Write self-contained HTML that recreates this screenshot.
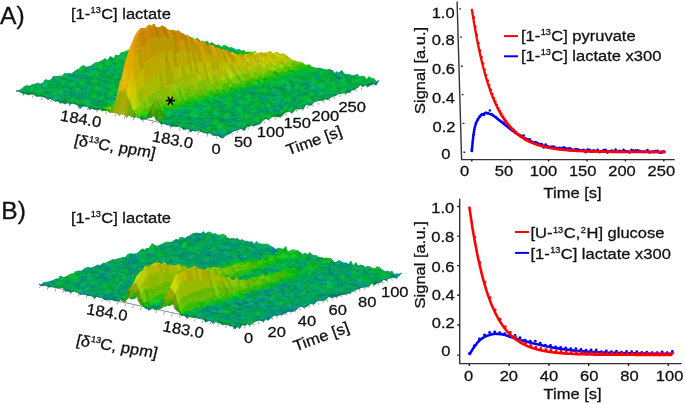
<!DOCTYPE html>
<html><head><meta charset="utf-8"><style>
html,body{margin:0;padding:0;background:#fff;width:685px;height:404px;overflow:hidden}
svg{display:block;will-change:transform;font-family:"Liberation Sans", sans-serif;font-size:15.5px;fill:#111}
text{fill:#111;stroke:#111;stroke-width:.3px}
</style></head><body>
<svg width="685" height="404" viewBox="0 0 685 404">
<path d="M16.0 90.7L220.0 135.7" stroke="#8a8a8a" stroke-width="1" fill="none"/>
<path d="M23.8 93.3l-.8 2.8M33.0 95.3l-.8 2.8M42.2 97.4l-.8 2.8M51.4 99.4l-.8 2.8M60.6 101.4l-.8 2.8M69.8 103.5l-.8 2.8M79.0 105.5l-.8 2.8M88.2 107.5l-.8 2.8M97.4 109.6l-.8 2.8M106.6 111.6l-.8 2.8M115.8 113.6l-.8 2.8M125.0 115.6l-.8 2.8M134.2 117.7l-.8 2.8M143.4 119.7l-.8 2.8M152.6 121.7l-.8 2.8M161.8 123.8l-.8 2.8M171.0 125.8l-.8 2.8M180.2 127.8l-.8 2.8M189.4 129.8l-.8 2.8M198.6 131.9l-.8 2.8M207.8 133.9l-.8 2.8M217.0 135.9l-.8 2.8M226.3 134.2l.5 2.4M231.7 132.4l.5 2.4M237.1 130.5l.5 2.4M242.5 128.6l.5 2.4M247.9 126.7l.5 2.4M253.3 124.9l.5 2.4M258.7 123.0l.5 2.4M264.1 121.1l.5 2.4M269.5 119.3l.5 2.4M274.9 117.4l.5 2.4M280.3 115.5l.5 2.4M285.7 113.7l.5 2.4M291.1 111.8l.5 2.4M296.5 109.9l.5 2.4M301.9 108.1l.5 2.4M307.3 106.2l.5 2.4M312.7 104.3l.5 2.4M318.1 102.5l.5 2.4M323.5 100.6l.5 2.4M328.9 98.7l.5 2.4M334.3 96.9l.5 2.4M339.7 95.0l.5 2.4M345.1 93.1l.5 2.4M350.5 91.3l.5 2.4M355.9 89.4l.5 2.4M361.3 87.5l.5 2.4M366.7 85.7l.5 2.4M372.1 83.8l.5 2.4" stroke="#999" stroke-width=".9" fill="none"/>
<g><g transform="scale(.5)" stroke-width="1" stroke-linejoin="round"><path fill="#074" stroke="#074" d="M32 182l5 0 5 2-5-3zM37 182l5 3 5-3-5 2zM86 193l5 2 5 2-5-6zM170 212l5 1 5-1-5 1zM322 248l5-1 5 0-5-1zM332 249l5 0 5-5-5 6zM361 252l5 7 6-4-5-1zM401 262l5 3 5 0-5-2zM406 265l5 1 5-3-5 2zM420 264l5 6 6-3-5 3zM425 270l5 1 6-1-5-3zM430 271l5-1 5 4-4-4zM435 270l5 2 5-4-5 6zM467 262l5-2 6-1-5 1zM473 260l5-1 5-2-5 0zM554 227l5 7 5-2-5-5zM613 208l5 2 5 0-5 0zM645 198l5 0 6 1-5-2zM651 197l5 2 5-4-5 2zM683 185l5-1 5 2-5 0zM699 181l5-1 5 0-4-2z"/><path fill="#085" stroke="#085" d="M42 185l5 3 5-3-5-3zM116 202l4 4 6-7-5 2zM125 206l5 2 6-4-5-9zM135 205l5 4 6-6-5 2zM155 210l5 7 5-10-5 1zM160 217l5-4 5-5-5-1zM175 213l4 6 6-6-5-1zM189 219l5 1 6-2-5-4zM366 259l5 0 6-4-5 0zM376 256l5 8 5-6-5-1zM67 187l5-1 5 3-5-1zM166 206l5-1 5-1-5 6zM451 269l5 0 6-3-5-7zM58 178l5-4 6 2-5 2zM378 247l5-2 5 3-5 0zM383 245l5 3 5 2-5-2zM403 249l4 2 6 3-5-2zM69 176l5-3 5 6-5-4zM163 191l5 3 5-1-5 3zM75 170l5-1 5 5-5-4zM345 227l5 2 5 2-5 1zM218 199l5-3 5 3-5 3zM100 170l5-1 5 1-4 2zM484 255l5 6 5-8-5-1zM116 171l5-6 5 2-5 3zM121 165l5 6 5 2-5-6zM160 174l5 5 5 0-5 0zM170 178l5 0 5 3-5 1zM107 161l5-3 5 1-5 4zM255 188l5-1 5 4-5-1zM142 160l5 0 6 4-5-2zM221 177l5 0 5 3-5 0zM501 237l5 3 5 2-4-1zM197 165l5 6 5 0-5 0zM256 187l5-13 6 4-5 3zM129 147l5 1 5 0-5 4zM434 217l5-2 5 5-5-6zM193 156l5 7 6-1-5-1zM273 171l4 3 6 3-5-1zM200 151l5 1 5-1-5 4zM476 210l5-5 5 2-5 3zM172 137l5-2 5 4-5 0zM177 135l4 2 6 4-5-2zM240 150l5 1 6 3-5-1zM245 151l5 2 6 3-5-2zM270 158l5-4 6 1-5 3zM232 141l5-2 5 6-5-4zM237 139l5 2 5 2-5 2zM242 141l5 1 5 5-5-4zM247 142l5 2 5-1-5 4zM537 204l5 6 5 3-5-4zM464 186l4 3 6 7-5-8zM312 149l5 3 5 3-5-2zM518 199l5-3 5 3-4 0zM254 127l5 6 5 2-5-5zM245 125l5 0 5 4-5-5zM584 197l5 3 5 3-5-1zM625 199l5 1 5 1-5 1zM276 120l5 0 5 2-4 0zM345 133l5 2 5 1-5 2zM562 177l5 4 5-3-5 6zM257 109l5 1 6 1-5 2zM268 111l5-6 5 7-5-3zM332 123l5-2 5 7-5-4zM657 189l5-2 5 2-5 5zM604 173l5-4 5 3-5 0zM643 180l5 0 6-1-5 4zM639 177l5-3 5 1-5 3zM350 99l5 4 5 3-4 0zM355 103l5 0 5 5-5-2zM601 150l5 8 6-2-5 1zM622 154l5-4 5 9-5-5zM349 80l4 0 6 1-5 3zM437 98l5 2 5 6-5-7zM457 101l5 1 6 1-5 5zM737 160l5 5 6 3-5-5zM384 80l5 5 5 3-5-7z"/><path fill="#084" stroke="#084" d="M47 188l5 0 5-7-5 4zM52 188l5 2 5-6-5-3zM57 190l4-2 6-1-5-3zM71 192l5 1 6-6-5 3zM120 206l5 0 6-11-5 4zM140 209l5-3 5-2-4-1zM150 208l5 2 5-2-5-1zM165 213l5-1 5 1-5-5zM337 249l5 4 5-4-5-5zM342 253l5 0 5-6-5 2zM347 253l5 0 5-2-5-4zM371 259l5-3 5 1-4-2zM387 250l5-2 6 5-5 0zM422 254l5-1 6 1-5 7zM442 263l5-8 5 5-5 1zM452 263l5-4 5 5-5 0zM398 246l5 0 5 0-4 6zM370 236l4-3 6 0-5 5zM155 173l5 1 5 5-4-2zM480 242l5 5 5-1-5 5zM383 213l5 2 5 8-5-9zM388 215l5 0 5 4-5 4zM201 170l5 4 6 2-5-1zM403 217l5-2 5 2-5 4zM162 161l5-3 6 4-5 3zM277 174l5-1 6 4-5 0zM475 213l5-5 5 6-5 0zM559 227l5 5 5-6-5 0zM525 221l5-8 5 5-4 1zM517 203l5 2 5 0-5 6zM468 189l5-1 6-2-5 10zM479 185l5-4 6 7-5 0zM618 210l5 0 6-7-5 4zM236 111l5 7 5 2-5-1zM566 182l5 4 5 4-5-3zM281 120l5-3 5 5-5 0zM340 131l5 2 5 5-5-5zM557 177l5-5 6 3-5 5zM572 178l5 0 5-1-5 6zM337 121l4 3 6 0-5 4zM656 197l5-2 5-2-5-1zM288 109l5 0 5 2-5 2zM559 162l5 4 5 0-5 6zM314 100l5 3 6 6-5-6zM319 103l5 0 6-1-5 7zM403 124l5-4 5 5-5 0zM688 186l5 0 6-1-5-7zM360 103l5-2 5 5-5 2zM596 153l5-3 6 7-5-1zM357 92l4 2 6 3-5-1zM608 142l5 7 5 2-5-3zM442 101l4 2 6 4-5-1zM737 166l5 4 5-3-5-2zM703 153l5 1 5 2-5 4z"/><path fill="#082" stroke="#082" d="M61 188l5-2 6 0-5 1zM288 238l5-3 5-1-5 2zM312 240l5 1 5 2-4-3zM391 261l5-2 5-3-5 5zM396 259l5 3 5 1-5-7zM543 229l5 4 5 1-5-6zM570 219l5 5 5-4-5 1zM586 214l5 4 5-6-5 6zM608 208l4 1 6 1-5-2zM624 207l5-4 5-1-5 0zM629 202l5 0 5-1-4-1zM635 200l4 1 6 0-5-3zM286 117l5 0 5 7-5-2zM710 178l5-7 5-2-5 6zM715 175l5-6 6 5-5-6zM721 168l5 6 5-7-5 3z"/><path fill="#083" stroke="#083" d="M66 186l5 6 6-2-5-4zM76 193l5-1 6-1-5-4zM81 192l5 1 5-2-4 0zM145 206l5 2 5-1-5-3zM194 220l5-4 6-2-5 4zM283 240l5-2 5-2-5-4zM411 266l4 1 6-6-5 2zM415 267l5-3 6 6-5-9zM457 259l5 7 5-7-5 5zM118 179l5 0 6 7-5-3zM489 252l5 1 5 0-5-5zM494 248l5 5 6-4-5-1zM141 166l5-5 6 10-5-6zM146 161l5 6 6 0-5 4zM227 168l5-5 6 9-5 2zM532 237l5 2 5-4-5 2zM548 228l5 6 6 0-5-7zM460 204l5 3 6 3-5 3zM543 198l5-5 5 10-4-4zM548 193l5 7 5 3-5 0zM640 198l5 3 5-3-5 0zM661 192l5 1 6-2-5-2zM554 160l5 2 5 10-5-5zM603 177l5-6 5 6-5 1zM667 189l5 2 5-4-5 2zM672 189l5-2 6 0-5 0zM678 187l5 0 5-3-5 1zM694 178l5 7 5-5-5 1zM705 178l4 2 6-9-5 7zM627 150l5 2 5-1-5 8zM603 142l5 0 5 6-5 3zM389 85l5-8 5 4-5 7z"/><path fill="#075" stroke="#075" d="M91 195l5 4 5-6-5 4zM96 199l5-2 5 3-5-7zM106 196l5 7 5-5-5 4zM111 203l5-1 5-1-5-3zM130 208l5-3 6 0-5-1zM179 219l5-2 6-1-5-3zM184 217l5 2 6-5-5 2zM327 247l5 2 5 1-5-3zM386 261l5 0 5 0-5 1zM478 257l5 0 6 4-5-6zM732 170l4 3 6-3-5-4z"/><path fill="#064" stroke="#064" d="M101 197l5-1 5 6-5-2zM500 248l5 1 5 2-5 0z"/><path fill="#092" stroke="#092" d="M199 216l5 6 5-5-4-3zM204 222l5-1 5-3-5-1zM278 234l5 6 5-8-5-1zM283 231l5 1 5 5-4-3zM215 213l5-3 6 6-5-4zM324 226l5 8 5 1-5-2zM438 247l5-1 6 5-5-4zM443 246l5 1 6 0-5 4zM386 223l5 2 5 1-5 2zM244 194l5-4 5 2-5 2zM127 158l5 0 5 5-5 0zM358 211l5-2 5 4-5 0zM452 227l5-4 5 3-5 2zM516 236l5-1 6 1-5 5zM521 235l5 6 6-5-5 0zM395 203l5-3 5 1-5 6zM292 175l5 1 5 7-4-8zM293 171l5-2 5-1-4 5zM303 168l5 1 6 3-5-3zM416 195l5-2 6 2-5 4zM564 226l5 0 6-2-5-5zM314 165l5-3 6 6-5-3zM433 192l5-5 5 5-5-2zM492 200l5 1 5-2-5 5zM565 216l5 0 6 4-5-3zM374 147l4-4 6 6-5 0zM531 174l5 7 5 1-5-1zM529 164l5-6 5 9-5-5zM401 130l5 0 6 5-5-6zM358 116l5-1 5-1-5 7zM586 156l5-4 5 3-5 3zM588 143l4 2 6 1-5 2zM471 112l5-2 5 3-5 2zM379 79l4 3 6 3-5-5zM654 142l5-2 5 2-5 3z"/><path fill="#290" stroke="#290" d="M209 221l5-1 5-1-5-1zM519 152l5 7 6 2-5-1z"/><path fill="#490" stroke="#490" d="M214 220l5 5 5-11-5 5zM421 137l5-4 5 0-5 10z"/><path fill="#6a0" stroke="#6a0" d="M219 225l5 0 5-13-5 2zM458 120l5 2 5 5-5-3zM468 127l5-6 5 5-4 1z"/><path fill="#4a0" stroke="#4a0" d="M263 233l5 3 5-7-5-7zM220 211l5-2 5 1-5 4zM253 196l4 2 6-6-5 9zM391 186l5 9 5-1-5-5zM328 169l5-3 6-1-5 5zM356 158l5-1 5-7-5 12zM394 146l5 0 5-2-5 6zM426 143l5-10 5 1-5 4zM437 133l5-6 5 7-5-5zM525 150l5-3 6 7-5-7zM458 126l5-2 6 0-5 7zM552 144l5-1 5 1-4 0zM480 109l5 7 6-3-5 1zM585 131l4 0 6 1-5 2zM502 108l5-4 5 4-5 0z"/><path fill="#180" stroke="#180" d="M268 236l5-6 5 6-5-7z"/><path fill="#081" stroke="#081" d="M273 230l5 4 5-3-5 5z"/><path fill="#073" stroke="#073" d="M317 241l5 7 5-2-5-3zM352 253l4-2 6 3-5-3zM356 251l5 1 6 2-5 0zM462 264l5-5 5 1-5 2zM575 221l5-1 6 5-5-1zM591 218l5-6 6 5-5 1zM726 170l5-3 5 6-4-3z"/><path fill="#076" stroke="#076" d="M381 264l5-3 5 1-5-4zM446 276l5-6 5-1-5 0zM505 251l5 0 5-2-4-3zM511 246l4 3 6-2-5-2zM597 218l5-1 5 1-5-1z"/><path fill="#0a6" stroke="#0a6" d="M37 181l5 3 6-5-5-1zM101 193l5 7 6-8-5 2zM116 198l5 3 5-4-5-1zM136 204l5 1 5-2-5-4zM391 262l5-1 6-6-5 3zM406 263l5 2 5-4-5-2zM72 188l5 1 6-5-5-1zM146 203l5 3 5-5-5-6zM333 244l5 2 5-4-5-4zM127 197l5-2 5-1-5-3zM363 250l5-2 5-4-5-1zM196 205l5 7 5-6-4-3zM358 246l5-1 6-4-5-2zM437 260l5 3 5-2-5-6zM59 172l5 6 5-5-5-4zM157 196l5 2 6-4-5-3zM388 248l5 2 6-5-5-4zM447 261l5-1 6-2-5-1zM384 241l5 5 5-4-5-3zM408 246l5 6 6-5-5-2zM413 252l5 0 6-7-5 2zM418 252l5 0 6-2-5-5zM202 205l5-5 6-2-5-7zM468 257l5 3 5-3-5-2zM154 186l5 0 5 3-5-10zM173 193l5 0 6-7-5-1zM345 227l5 5 6-5-5-2zM409 242l5 1 6-1-5-4zM164 189l5-3 5-6-5 3zM228 199l5 4 5-6-5-1zM459 252l5-1 5-2-5-3zM86 167l5-1 5-2-5-5zM101 167l5 5 5-9-5 2zM106 172l4-2 6 1-5-8zM145 179l5 1 5-7-5 2zM219 194l5 4 5-7-5-3zM351 224l5 0 6-1-5-4zM469 249l5 6 6-13-5 5zM145 177l5-2 6-3-5 0zM126 167l5 6 5-4-4-11zM362 221l5 2 5-6-4-4zM367 223l5-1 5-4-5-1zM372 222l5 5 5-9-5 0zM377 227l5-6 5 1-5-4zM421 233l5 2 5-4-4-1zM485 251l5-5 5 0-5-4zM205 183l5-1 6-2-5-1zM451 237l5 3 5-7-5-3zM147 165l5 6 5-8-5 1zM152 171l5-4 5-2-5-2zM476 238l5 3 5-1-4-8zM260 190l5 1 6-6-5 0zM418 221l5 5 5-5-5-1zM442 227l5 5 6-4-5-6zM123 155l5 3 5-5-4-3zM128 158l5 1 5-8-5 2zM138 158l5 4 5-7-5-1zM226 180l5 0 6-9-5 4zM261 188l5-3 5 1-5-8zM398 214l5 7 6-8-5-2zM502 239l5 2 5-7-5 2zM163 160l5 5 5-7-5-1zM168 165l5-3 5-4-5 0zM197 165l5 6 6-5-5 0zM202 171l5 0 6-6-5 1zM438 222l5 1 6-4-5-3zM473 228l5 4 5-6-5 1zM154 156l5 1 5-4-5 0zM159 157l4 1 6-4-5-1zM424 213l5 5 5-5-5-1zM429 218l5-1 5-3-5-1zM458 221l5 6 6-6-5-1zM247 174l5 1 6-3-5-6zM145 150l5 0 5-9-5 2zM228 167l5 0 6-2-5-5zM243 166l5 8 5-5-5-6zM273 172l5 4 5-3-5-6zM283 177l5 0 5-6-5-1zM249 163l5 4 5-4-5-3zM461 206l5 7 5-6-5-4zM480 214l5 0 6-2-5-8zM240 158l5 1 5-6-5-2zM196 142l5 3 6-2-5-3zM265 156l5 6 5-8-5 4zM481 210l5-3 6-7-5 5zM226 146l5 3 6-4-5-1zM285 161l5-1 6-1-5-3zM551 215l5 4 5-4-4-3zM522 211l5-6 5 0-5-4zM571 219l5-2 6 3-5-11zM262 144l5 6 5-7-5 1zM326 160l5 1 5-2-5-3zM547 213l5-5 5-1-4-3zM562 211l5 6 5-12-5 6zM567 217l5-6 5 4-5-10zM263 139l5 3 5-6-5 2zM292 148l5-2 6-1-5-3zM317 153l5 2 5-4-5-8zM568 207l5 2 5-6-5 2zM573 209l5 0 5-3-5-3zM597 215l5 2 6-9-5 4zM259 133l4 7 6-9-5 4zM263 140l5-2 6-5-5-2zM303 145l5 2 5-3-5-2zM480 185l5 3 5-8-5 3zM485 188l5 0 5-4-5-4zM529 200l5-4 5-4-5-3zM534 196l5 3 5-5-5-2zM313 144l5 4 5-4-5-5zM318 148l5-1 5-5-5 2zM544 194l5 7 5-6-4-5zM255 130l4 0 6 0-5-7zM559 196l5 3 6-5-5-3zM250 124l5 5 5-3-4-9zM265 130l5-1 5-5-5 1zM506 182l5 3 5-6-5-4zM305 133l5-1 5-5-4-1zM580 191l5 4 6-6-5-1zM261 118l5 3 6-8-5 2zM571 187l5 3 5-3-5-10zM277 119l5 3 5-6-5 0zM355 136l5 2 6-5-5-2zM582 184l5 0 5-2-5-4zM621 191l5 6 5-9-4 0zM558 174l5 6 5-8-5-3zM298 115l5 1 5-3-5-5zM342 128l5-4 5-2-5-5zM386 134l5 1 5-2-4-4zM612 181l5 6 6-7-5 1zM642 190l5 1 5 0-5-6zM279 103l4 10 6-7-5-5zM288 108l5 5 6-10-5 5zM293 113l5-2 6-1-5-7zM337 122l5 0 6-6-5 2zM628 185l4 0 6-4-5-2zM632 185l5 4 6-8-5 0zM657 185l5 9 6-13-5 4zM662 194l5-5 6-4-5-4zM280 100l5-1 5-5-5 0zM359 114l4 3 6-5-5 1zM649 183l5-4 5-3-5-2zM408 125l5 0 6-4-5-4zM644 178l5-3 5-1-4-4zM331 96l5 4 5-7-5 2zM410 112l5 7 5-6-5-3zM626 163l5 1 5-4-5-5zM695 177l5 4 5-7-5-1zM597 153l5 3 5-7-5 0zM602 156l5 1 5-7-5-1zM607 157l5-1 5-5-5-1zM362 96l5 1 5-6-5 1zM391 104l5-3 6-4-5 2zM328 84l5 6 5-13-5 4zM357 88l5 7 6-9-5 4zM412 106l4-6 6 1-5-4zM613 148l5 3 5-10-5 3zM652 154l5 6 6-7-5 0zM343 84l5 4 5-8-4 0zM387 94l5 3 6-5-5-4zM727 171l5-1 5-4-5-3zM358 84l5 3 6-1-5-8zM403 96l5-1 5-4-5-1zM417 98l5 1 6-6-5 3zM422 99l5 3 6-6-5-3zM447 106l5 1 5-6-5 1zM418 95l5 1 5-5-5 1zM442 99l5 7 6-10-5 0zM447 106l5-4 6-5-5-1zM708 160l5-4 6-3-5-5z"/><path fill="#096" stroke="#096" d="M42 184l5-2 6 0-5-3zM96 197l5-4 6 1-5-2zM141 205l5-2 5 3-5-3zM322 243l5 3 6-2-5 0zM381 257l5 1 6 1-5-5zM421 261l5 9 5 0-5-7zM48 179l5 3 5 0-5-5zM53 182l5-2 5 2-5 0zM338 246l5 1 5-4-5-1zM352 249l5-2 6 3-5-6zM112 189l5 4 5-1-5-1zM186 207l5 4 5-6-5 4zM191 211l5-1 5 2-5-7zM358 244l5 6 5-7-5 2zM402 256l5-1 5 4-5-8zM432 262l5 1 5 0-5-3zM88 183l5 2 5-2-5 0zM98 188l5-3 5-1-5 0zM152 197l5 0 5 1-5-2zM186 204l5 5 6-4-5-2zM388 248l5 5 5-7-5 4zM74 173l5 7 5-4-5 3zM93 183l5 0 6-1-5-3zM98 183l5 1 6-3-5 1zM123 188l5 3 5-3-5-3zM133 192l5-2 5 0-5-3zM147 196l5-3 6 1-5-4zM216 207l5 4 6-3-5 1zM428 261l5-7 5-1-5 0zM138 187l5 3 5 1-5-7zM148 191l5-1 5 0-5-2zM153 190l5 4 5-2-5-2zM182 199l5 1 6-4-5 1zM192 200l5 2 5 3-4-10zM404 252l4-6 6-1-5 1zM129 186l5-4 5 2-5-3zM143 184l5 7 6-5-5-3zM153 188l5 2 6-3-5-1zM340 233l5-6 5 5-5-5zM379 240l5 1 6-5-5 3zM404 242l5 4 5-3-5-1zM409 246l5-1 5 2-5-4zM414 245l5 2 5-3-5 3zM75 166l5 4 5-3-4 1zM380 233l5 6 5-5-5 3zM385 239l5-3 5-1-5-1zM468 255l5 0 6 1-5-1zM95 169l5 1 6 2-5-5zM213 193l5 5 6 0-5-4zM223 202l5-3 5-3-5 0zM346 228l5-3 5-1-5 0zM361 226l5 6 5-6-5 2zM439 247l5 0 6-4-5 1zM469 251l5 4 5-7-5 7zM361 222l5 6 5-1-4-2zM366 228l5-2 5-2-5 3zM111 163l5 8 5-1-5-5zM140 173l5 4 6-5-5 0zM195 186l4 1 6-4-5 3zM357 219l5 4 5 0-5-2zM371 227l5-3 6-3-5 6zM426 236l4 1 6 2-5-5zM435 237l5 4 6 2-5-11zM131 173l5-6 5-1-5 3zM156 172l5 5 5-4-5-2zM195 180l5 6 5-3-5-3zM200 186l5-3 5-1-5 1zM441 232l5 11 5-6-5-2zM490 246l5 3 5-3-5 0zM495 249l5-1 5 3-5-5zM102 160l5 1 5 2-5-11zM235 187l5 1 5 3-5-5zM392 224l5-1 5 2-5-7zM397 223l5 3 5-4-5 3zM422 230l5 0 5 0-5-3zM471 239l5 4 5-2-5-3zM476 243l5-1 5-3-5 2zM127 161l5 2 5-1-4-2zM132 163l5 0 5-3-5 2zM481 241l5-2 5-1-5 2zM118 154l5 4 5 0-5-3zM250 184l5 5 6-1-5-7zM486 240l5-2 6-3-5 2zM153 164l5-4 5 0-5-1zM389 212l5 4 5-3-5-2zM394 216l4-2 6-3-5 2zM467 232l5-1 6 1-5-4zM158 159l5 1 5-3-5 1zM448 224l5 0 5-3-5 1zM453 224l5 1 5 2-5-6zM144 153l5-1 5 3-5-4zM149 152l5 4 5-3-5 2zM163 158l5-1 6 1-5-4zM178 158l5 6 5-5-4 2zM222 174l5-6 6 6-5-10zM262 181l5-3 5-1-5 1zM449 219l4 3 6-3-5-1zM144 150l5 1 6-2-5 1zM169 154l5 4 5-6-5 6zM179 155l5 6 5-4-5 1zM184 161l4-2 6-1-5-1zM228 164l5 10 5-5-5-2zM243 173l4 1 6-8-5 8zM459 219l5 1 5 2-5-4zM493 225l5 3 6 1-5-5zM503 229l5 2 5-6-5 5zM155 149l4 1 6-1-5-2zM174 158l5-6 6 1-5 0zM179 152l5 6 5-3-4-2zM184 158l5-1 5-4-5 2zM209 163l5-2 5-3-5 4zM420 209l5 0 5-6-5 5zM435 212l5 1 5-2-5-2zM499 224l5 5 5-4-5-3zM248 163l5 6 6-2-5 0zM440 209l5 2 5-4-4 1zM259 167l5 0 5-4-5 4zM431 205l5 0 5 0-5-4zM205 155l5-4 5-2-4 0zM431 201l5 0 6 1-5-2zM485 214l5 0 6-2-5 0zM515 220l5 1 5 0-5-6zM534 221l5 7 6-6-5 4zM539 228l5-3 6-2-5-1zM220 149l5 6 6-4-5-2zM260 165l5-7 5 4-5-6zM289 167l5-1 5 6-4-10zM491 212l5 0 5 1-5-6zM520 215l5 6 6-2-5-2zM304 166l5 5 6-7-5 5zM467 202l5 1 5-1-5 0zM531 219l4-1 6-3-5 1zM172 134l5 5 5-6-4 0zM202 140l5 3 5-1-5-3zM546 216l5 4 5-1-5-4zM178 133l4 0 6 2-5-4zM207 139l5 3 5-2-5-2zM561 220l5-4 5 3-5-4zM473 197l5-3 5 4-5-6zM488 198l5 2 5-1-5-4zM542 210l5 2 5-4-5 5zM561 215l5 0 6-4-5 6zM321 159l5 1 5-4-5 3zM523 206l4-5 6 3-5-5zM552 208l5 2 5 1-5-4zM248 137l5 6 5-6-5 2zM263 143l4 1 6-4-5 2zM513 198l5 1 6 0-5-6zM577 215l5-4 5 1-4 0zM592 212l5 6 5-1-5-2zM253 139l5-2 5 3-4-7zM288 143l4 5 6-6-5 3zM474 188l5-3 6 3-5-3zM514 198l5-5 5 2-5-4zM563 207l5 0 5-2-5-3zM583 212l4 0 6-4-5 2zM254 136l5-3 5 2-5-2zM308 147l5-2 5 3-5-4zM313 145l5 5 5-3-5 1zM490 188l4 0 6-1-5-3zM494 188l5 0 6 1-5-2zM549 199l4 4 6-7-5 4zM259 133l5 2 5-8-5 8zM333 149l5 2 5-4-5 0zM495 184l5 3 5-4-5 2zM510 190l5-2 5-2-5 0zM554 200l5-4 5 3-5-3zM264 135l5-8 6 4-5-2zM289 137l5-1 5-2-5 3zM505 183l5 3 6-5-5 4zM255 129l5-6 5 0-5 3zM289 132l5 5 6-4-5-3zM299 134l5 5 6-5-5 0zM304 139l5-4 6 0-5-1zM604 205l5-2 5 1-5-5zM260 126l5-3 6-1-5 0zM295 130l5 3 5 0-5-3zM585 192l5 10 5-7-5-3zM590 202l5-6 5-4-5 3zM585 195l5-3 6-1-5-2zM576 190l5-4 5-1-5 2zM625 196l5 6 5-3-4-4zM522 173l5 2 6-3-5-1zM547 176l5-1 6-1-5-1zM292 115l5 1 6 0-5-1zM307 118l5 2 5-1-5-4zM563 180l5-5 5-1-5-2zM577 183l5-6 6 1-5-3zM607 182l5 7 5-2-5-6zM612 189l5-2 5-4-5 4zM636 191l5 3 6-3-5-1zM641 194l5-2 6-1-5 0zM651 192l5 5 5-5-4 3zM263 102l5 8 6-4-5-1zM268 110l5-1 6-6-5 3zM303 116l5-2 5-2-5 1zM332 119l5 5 5-2-5 0zM357 126l5 2 5 0-5-5zM362 128l5 1 5-5-5 4zM617 187l5-4 6 2-5-5zM627 186l5 1 5 2-5-4zM632 187l5 4 5-9-5 7zM647 191l5 0 5-2-5 2zM269 105l5 1 5-4-5 1zM333 114l4 8 6-4-5 0zM578 172l5 2 6 0-5-5zM269 102l5 1 5-3-4-1zM584 169l5 5 5-5-5 0zM275 99l4 1 6-1-5 1zM279 100l5 2 6-3-5 0zM294 104l5 1 6-3-5 0zM353 117l5 0 5 0-4-3zM358 117l5 4 5-7-5 3zM614 175l5 4 5-12-5 9zM398 124l5 0 5 1-5-4zM599 170l5-5 6 5-5-5zM604 165l5 7 6-5-5 3zM678 186l5-1 5 1-5-1zM359 113l5 0 5-3-5 1zM610 170l5-3 5-1-5 1zM615 167l5 3 5-2-5-2zM325 99l5 4 5 0-4-4zM374 110l5 5 6-7-5 5zM615 167l5-1 5-4-4 4zM296 90l5 4 5-3-5 1zM331 99l4 4 6-8-5 5zM621 166l4-4 6 2-5-1zM660 172l5 0 5-2-5 3zM680 178l4 0 6-2-5-2zM689 182l5-5 6 4-5-4zM301 92l5-1 6 0-5-5zM351 97l5 9 5-6-5 2zM415 119l4-3 6-4-5 1zM592 155l4-2 6 3-5-3zM685 174l5 2 5 0-5-5zM690 176l5 1 5-4-5 3zM700 181l5-3 5 0-5-4zM307 86l5 5 5-2-5-1zM312 91l5-1 5-3-5 2zM705 174l5 4 5-3-5-1zM342 94l5-1 5-1-5 0zM386 103l5 1 5-3-5 3zM425 110l5 4 6-6-5 4zM430 114l5-2 6 2-5-6zM435 112l5 3 5 0-4-1zM671 164l5 2 5 3-4-6zM318 85l5 1 5-2-5-1zM347 92l5 0 5-4-4 2zM352 92l5 1 5 2-5-7zM396 101l5 4 6-1-5-7zM445 115l5-2 6 2-5-5zM622 152l5 2 6-3-5-1zM323 83l5 1 5-3-5 3zM426 104l5 3 6-3-5 2zM628 150l5 1 5-2-5-1zM647 154l5 0 6-1-5 2zM363 90l5-4 5 6-5-9zM633 148l5 1 6-3-5 1zM653 155l5-2 5-5-5 6zM678 154l5 2 5-3-5 2zM369 86l5-2 5-2-5 0zM452 102l5-1 6 7-5-11zM683 155l5-2 6-3-5 2zM644 140l5 3 6-2-5-2zM664 142l5 8 5-7-4 4zM684 149l5 3 5-3-5-1z"/><path fill="#0a5" stroke="#0a5" d="M47 182l5 3 6-5-5 2zM91 191l5 6 6-5-5-2zM185 213l5 3 5-8-5 4zM190 216l5-2 5 2-5-8zM195 214l5 4 5-6-5 4zM362 254l5 0 5 1-5-10zM372 255l5 0 5-2-5-3zM377 255l4 2 6-3-5-1zM67 184l5 4 6-5-5-2zM107 194l5-2 5 1-5-4zM117 195l4 1 6 1-5-7zM328 244l5 0 5-6-5 1zM348 245l4 4 6-5-5 0zM372 255l5-5 5 2-4-5zM387 254l5 5 5-5-5-6zM53 177l5 5 5-8-5 4zM107 192l5-3 5 2-4-6zM122 190l5 7 5-6-5 1zM132 195l5 1 5-2-5 0zM137 196l5 4 5-6-5 0zM368 248l5 2 5-3-5-3zM397 254l5 2 5-5-4-2zM437 263l4 3 6-11-5 8zM353 238l5 8 6-7-5 0zM393 253l5 0 5-7-5 0zM398 253l5-4 5 3-5-6zM88 178l5 5 6-4-5-1zM103 184l5 0 5-2-4-1zM192 203l5 2 5-4-5 1zM329 233l5 2 6-2-5-4zM423 249l5 12 5-8-5-5zM69 173l5 2 6-6-5 1zM99 179l5 3 5-5-5-3zM104 182l5-1 5-1-5-3zM109 181l4 1 6-3-5 1zM128 185l5 3 6-4-5-2zM133 188l5-1 5-3-4 0zM177 196l5 3 6-2-5-4zM187 200l5 0 6-5-5 1zM207 202l5 5 5-7-5-1zM359 235l5 6 6-5-5-5zM364 241l5-4 5-4-4 3zM458 258l5 4 5-5-5-5zM119 179l5 4 5-2-5-4zM158 190l5 2 6-6-5 1zM188 197l5-1 5-2-5-3zM384 241l5-2 6-1-5-2zM389 239l5 3 6-3-5-1zM80 170l5 4 5-13-5 6zM105 174l5 0 5 2-5-6zM124 177l5 4 6-4-5-2zM134 181l5 3 5-3-5-7zM149 183l5 3 5-7-5 4zM169 186l4 7 6-8-5 2zM404 240l5 2 6-4-5 2zM419 247l5-3 6-4-5 1zM444 247l5 4 5-5-5 3zM115 176l5-2 5-2-5-2zM169 186l5 1 5-1-5-6zM189 185l5 9 5-4-5-5zM233 203l5-1 5-7-5 2zM341 222l5 6 5-4-5-6zM351 225l5 2 5-5-5 2zM356 227l5-1 5 2-5-6zM395 235l5 3 5-4-4-3zM400 238l5-1 5-2-5-1zM420 242l5-1 5-2-5-4zM444 247l5 2 6-6-5 0zM454 246l5 6 5-6-5 0zM474 255l5 1 5-7-5-1zM479 256l5-1 5-3-5-3zM125 172l5 3 6-7-5 5zM179 186l5-1 6-2-5-2zM199 190l5 0 5-3-5-1zM224 198l4-2 6-5-5 0zM371 226l5 4 5-6-5 0zM440 241l5 3 5-2-5-5zM445 244l5-1 5-2-5 1zM464 246l5 3 6-2-5-3zM96 164l5 1 6-3-5-2zM101 165l5 0 5-2-4-1zM199 187l5-1 6-1-5-2zM209 187l5 3 6-5-5 1zM455 241l5 4 5-4-5-1zM460 245l5-2 5-2-5 0zM111 163l5 2 6-1-5-4zM116 165l5 5 6-12-5 6zM146 172l5 0 5-3-5-2zM234 190l5 4 6-4-5-2zM401 224l5 7 6-5-5-1zM426 235l5-1 5-4-5 1zM431 234l5 5 5-9-5 0zM480 241l5 10 5-9-5 0zM117 160l5 4 5-3-5-2zM136 169l5-3 6-1-5-1zM161 171l5 2 5-4-5 1zM166 173l5 0 5-4-5 0zM200 180l5 3 6-4-5-5zM402 226l5-1 5-3-5 0zM407 225l5 1 5-1-5-3zM495 246l5 0 6-8-5 8zM500 246l5 5 6-5-5-8zM107 152l5 11 6-9-5-1zM142 164l5 1 5-1-5-4zM211 179l5 1 5-3-5 1zM240 186l5 5 5-7-4-5zM461 233l5 8 6-9-5-3zM471 238l5 0 6-6-5 5zM496 243l5 3 5-6-5-3zM211 177l5 1 5-4-4-1zM118 152l5 3 6-5-5 2zM133 159l5-1 5-4-5-3zM187 168l5 1 5-4-5 0zM221 174l5 6 6-5-5-4zM231 180l5-3 6 3-5-9zM418 221l5-1 5-2-5-4zM423 220l5 1 5-2-5-1zM453 228l4 0 6-5-5 2zM472 231l5 4 5-10-4 7zM207 171l5 1 5-5-4-2zM271 186l5-3 5 0-5-2zM394 211l5 2 5-4-5-1zM399 213l5-2 5 0-5-2zM433 219l5 3 6-6-5-1zM468 227l5 1 5-1-5-5zM203 166l5 0 5-1-5-5zM217 167l5 7 6-10-5 2zM276 181l5 2 6-3-5 1zM409 211l5 2 6-5-5 0zM527 239l5-2 5 0-4-5zM218 166l5 0 5 1-5-5zM424 214l5-2 6 0-5-9zM454 218l5 1 5-1-5-7zM479 226l4 0 6-7-5-1zM483 226l5-2 6 1-5-6zM508 231l5-1 5 0-5-5zM150 150l5-1 5-2-5-6zM159 150l5 1 6-5-5 3zM189 157l5 1 5-4-5-1zM194 158l5 3 5-8-5 1zM199 161l5 1 5-7-5-2zM258 172l5 2 5-2-5-6zM415 203l5 6 5-1-5-6zM445 213l4 3 6-5-5-1zM494 225l5-1 5-2-5-3zM160 147l5 2 5-4-5-4zM180 153l5 0 5-5-5-1zM185 153l4 2 6-5-5-2zM268 172l5 0 5-5-5 1zM420 202l5 6 6-3-5-4zM465 212l5 8 5-7-5-3zM470 220l5-3 5-9-5 5zM479 218l5 0 6-2-5-2zM489 218l5 5 6-6-5-1zM509 225l5 3 5-3-5-9zM519 228l5-3 5 2-5-5zM283 173l5-3 6 2-5-7zM441 205l5 3 5-4-5-2zM524 222l5 5 5-6-4 3zM161 144l5-3 5-2-5-4zM176 144l5 2 5-6-5 4zM210 151l5 2 5-4-5 0zM230 156l5 3 5-1-5-8zM244 158l5 2 6 0-5-4zM259 163l5 4 6-6-5-3zM520 221l5 3 5-11-5 8zM525 224l5 0 5-2-5-9zM171 139l5 6 5-8-4-2zM250 156l5 4 5-3-5-5zM437 200l5 2 5-6-5-2zM186 140l5 1 6 0-5-5zM226 149l5 2 5-6-5 4zM231 151l5 0 5 0-5-6zM295 162l4 10 6-14-5 6zM472 203l4 3 6-7-5 3zM496 207l5 6 5-7-5 0zM516 213l5 2 5-6-5 4zM521 215l5 2 5-3-5-5zM535 218l5 0 6-2-5-1zM555 222l5 2 5-8-5 6zM197 141l5-1 5-1-5-2zM221 146l5 0 6-2-5-4zM236 145l5 6 5-4-5-2zM280 157l5 4 6-5-5 1zM295 161l5 3 5-6-5 2zM442 196l5 1 6-5-5-4zM447 197l5 0 6-6-5 1zM467 198l5 4 5-5-5 0zM472 202l5 0 5-5-5 0zM482 199l5 6 5-2-5-4zM202 137l5 2 5-1-5-5zM246 147l5 3 6-6-5 0zM271 149l5 9 5-11-5 7zM286 157l5-1 5 2-5-6zM296 159l4 1 6-2-5-3zM310 160l5 5 6-6-5 1zM487 199l5 4 6-5-5 2zM507 205l5 1 5-3-5-1zM183 131l5 4 5-9-5 1zM212 138l5 2 6-5-5-1zM266 151l5 0 6-6-5 0zM271 151l5 3 6-6-5-3zM291 152l5 6 5-8-5 5zM468 194l5 3 5-5-5-4zM547 212l5 0 5-2-5-2zM331 161l5 1 5-5-5 2zM478 192l5 6 6-9-5-1zM498 199l5-1 5-5-5 2zM503 198l5 3 5-3-5-5zM518 199l5 7 5-7-5-3zM208 128l5 4 6-6-5 4zM238 137l5 1 5-5-5 1zM243 138l5-1 5 2-5-6zM267 144l5-1 6-2-5-1zM292 146l5 6 5-6-5 0zM297 152l5-3 5-2-5-1zM322 154l4 5 6-7-5 0zM528 199l5 5 5-4-5-3zM533 204l5-3 5-3-5 2zM553 204l4 3 6 0-5-6zM268 142l5-2 5-2-5-2zM273 140l5 1 5 0-5-3zM278 141l5 3 5-6-5 3zM283 144l5-1 5 2-5-7zM509 191l5 7 5-7-5-1zM558 201l5 6 5-5-5 0zM592 211l5 4 6-3-5-8zM229 126l5 7 5-8-5 1zM249 133l5 3 5-3-5-6zM278 138l5 3 6-6-5 5zM293 145l5-3 5 2-5-9zM347 157l5 1 5-3-5-6zM519 191l5 4 5-2-5-6zM558 203l5-1 6-3-5-4zM568 202l5 3 6-2-5-4zM583 206l5 4 5-7-5 3zM588 210l5-2 5-3-5-2zM583 204l5 2 6-3-5-3zM269 127l5 10 6-9-5 3zM274 137l5-6 6 0-5-3zM279 131l5 5 5-4-4-1zM333 144l5 3 6-3-5-2zM495 180l5 5 6-3-5-9zM510 186l5 0 5-5-4 0zM554 195l5 1 6-5-5-1zM240 122l5 1 6-5-5 1zM260 123l5 7 5-5-5-2zM270 129l5 2 5-5-5-2zM339 142l5 2 5-3-5 2zM491 180l5-1 5-3-5 1zM550 191l5 0 5-3-5 0zM594 203l5-5 6-1-5 1zM599 198l5 7 5-6-4-2zM619 206l5 1 5-5-5-1zM226 121l5-7 5 0-5-4zM265 123l5 2 6-2-5-1zM290 130l5 0 5 0-5-3zM305 134l5 0 5-4-5 2zM315 135l4 4 6-5-5-3zM300 130l5 3 6-7-5-1zM359 143l5 0 6-2-5-3zM374 145l5 4 5-3-5-3zM546 183l5 2 5-2-5-4zM590 192l5 3 6-7-5 3zM237 113l5-2 5 3-5-9zM256 116l5 2 6-3-5-5zM507 173l5 3 5-7-4 2zM512 176l5-1 5-2-5-4zM566 186l5 1 5-10-4 7zM586 188l5 1 5 1-5-6zM605 194l5 1 6-1-5-10zM286 122l5 0 6-8-5 5zM311 124l5 4 5-8-5 3zM321 127l5 3 5-4-5-2zM375 141l5 0 5-1-5-6zM631 195l4 4 6-8-5 3zM635 199l5-3 6-1-5-4zM262 110l5 5 6-10-5 6zM267 115l5-2 6-1-5-7zM282 116l5 0 5-1-5-2zM287 116l5 3 5-3-5-1zM311 120l5 3 6 0-5-4zM341 128l5 4 5-6-5 0zM528 171l5 1 5-3-5-2zM543 175l4 1 6-3-5-7zM626 197l5-9 5 3-5-3zM282 116l5-3 6-4-5 0zM287 113l5 2 6 0-5-6zM302 118l5 0 5-3-4-1zM322 123l5 0 5-4-5-2zM553 173l5 1 5-5-5 1zM587 178l5 4 6-4-5 1zM592 182l5 0 5-3-4-1zM597 182l5 3 5-6-5 0zM352 124l5 2 5-3-5 0zM381 130l5 4 6-5-5 2zM652 191l5 4 5-8-5 2zM657 195l4-3 6-3-5-2zM362 123l5 5 5-6-5-1zM573 171l5 1 6-3-5-2zM593 181l5-6 5-4-4-1zM598 175l5 2 5 1-5-7zM554 164l5 3 6-8-5 2zM574 170l5-3 5-1-5-2zM603 171l5 7 6-3-5-6zM667 189l5 0 6-2-5-2zM299 105l5 2 5-7-4 2zM319 112l5-5 5 1-5-5zM329 112l5-2 5-2-5 1zM589 169l5 0 5 1-4-7zM599 168l5 5 5-1-5-7zM285 99l5 0 5-2-5-3zM329 108l5 1 5 0-5-6zM393 122l5 2 5-3-5-4zM575 163l5 0 5-3-5-1zM580 163l5 3 5-4-5-2zM585 166l5-2 5-3-5 1zM595 163l4 7 6-5-5 0zM644 174l5 9 5-9-5 1zM295 97l5 0 5-1-4-1zM364 113l5-1 5-2-5 0zM403 121l5 4 6-8-5 1zM566 159l4-1 6-4-5 3zM570 158l5 4 6-7-5-1zM575 162l5-3 6-3-5-1zM600 165l5 0 5 1-5-8zM620 170l5 0 5-4-5 2zM625 170l4 1 6-2-5-3zM301 95l4 1 6 0-5-5zM330 103l5 2 5-9-5 7zM369 110l5 0 6 3-5-9zM379 115l5-2 5-1-4-4zM669 179l5-3 6 2-5-8zM380 113l5-5 5 0-5-1zM389 112l5 1 6-2-5-4zM394 113l5 0 6-2-5 0zM414 121l5-3 5-6-5 4zM587 152l5 3 5-2-5-4zM606 158l5-1 6-5-5 4zM665 173l5-3 6-3-5-3zM341 93l5 6 6-6-5 0zM346 99l5-2 6-5-5 1zM356 102l5-2 5-6-5 0zM366 101l5-1 5 1-5-4zM646 163l5 0 5-5-5 3zM690 171l5 5 6-5-5-3zM337 93l5-7 6 0-5-3zM367 97l5-2 5-3-5-1zM416 105l5 1 5-2-5-1zM421 106l5 3 5-2-5-3zM431 112l5-4 5-3-5 2zM441 114l4 1 6-5-5-6zM657 158l5 6 5-8-5-3zM672 162l5 1 5-2-5-5zM402 97l5 7 5-6-5-1zM451 110l5 5 5-3-5-7zM603 141l5 10 6-5-5-6zM633 151l5 3 5-9-5 4zM706 166l5 2 6 0-5-6zM358 85l5 5 5-7-5 4zM378 94l5-2 5-4-5-1zM402 98l5-1 5-3-4 1zM407 97l5 1 5 0-5-4zM432 106l5-2 5-4-5-2zM697 161l5 2 5-2-4-5zM722 166l5 5 5-8-5 0zM334 81l5 0 5-6-5-1zM344 82l5-2 5 4-5-11zM378 93l5-6 5 2-5-7zM398 92l5 4 5-6-5-2zM427 102l5 0 6-9-5 3zM452 107l5-1 5-4-5-1zM629 145l5 0 5-3-5-4zM634 145l5 2 5-7-5 2zM683 156l5 0 5-4-5 1zM693 154l5 8 5-9-5 3zM354 84l5-3 5-6-5 0zM364 78l5 8 5-4-5-4zM413 91l5 4 5-3-5-2zM467 104l5 3 5-3-5 0zM458 97l5 11 5-11-5-2zM468 103l4 1 6-6-5 2zM694 150l5 5 5-4-5-2zM699 155l4-2 6-2-5 0zM703 153l5 7 6-12-5 3zM713 156l5 2 6-6-5 1z"/><path fill="#0a4" stroke="#0a4" d="M52 185l5-4 5 3-4-4zM72 186l5 4 5-7-5 6zM77 190l5-3 5 2-5-6zM82 187l5 4 5-3-5 1zM87 191l4 0 6-1-5-2zM121 201l5-2 5-4-5 2zM155 207l5 1 6-2-5-4zM160 208l5-1 6-2-5 1zM175 213l5-1 5-5-5-1zM180 212l5 1 5-1-5-5zM401 256l5 7 5-4-4 0zM411 265l5-2 5-4-5 2zM43 178l5 1 5-2-5-4zM58 180l4 4 6-6-5 4zM62 184l5 0 6-3-5-3zM87 189l5-1 5-2-5-2zM92 188l5 2 5-2-5-2zM112 192l5 3 5-5-5 3zM195 208l5 8 5-8-4 2zM367 245l5 10 6-8-5 3zM377 250l5 3 5-3-5 2zM402 255l5 4 5-2-5-2zM151 195l5 6 6-3-5-1zM156 201l5-2 6 1-5-2zM176 204l5 2 5-2-5-3zM299 233l5 1 5-5-5 2zM338 238l5 4 5-3-4 0zM343 242l5 1 5-5-5 1zM373 250l5-3 5-2-5 2zM378 247l4 5 6-4-5-3zM392 248l5 6 6-5-5 4zM417 260l5-2 5-5-5 1zM446 263l5 6 6-10-5 4zM132 191l5 3 6-5-5 1zM162 198l5 2 5-1-5-5zM167 200l5-1 5-4-5 4zM181 201l5 3 6-1-5-3zM206 212l5-5 5 0-5-2zM344 239l4 0 6-2-5 0zM363 245l5-2 6-6-5 4zM368 243l5 1 5 2-4-9zM412 259l5-8 6-2-5 4zM84 175l4 3 6 0-5-2zM108 184l5 2 5-7-5 3zM162 198l5-4 5 0-4 0zM167 194l5 5 5-3-5-2zM197 205l5-2 5-1-5-1zM221 211l5-2 5-1-4 0zM315 227l4 5 6-4-5-2zM319 232l5-3 6-1-5 0zM349 237l5 0 5-2-5-1zM442 255l5 6 6-4-5-6zM64 169l5 4 6-3-5-2zM84 176l5 0 5-4-5 1zM89 176l5 2 5-4-5-2zM94 178l5 1 5-5-5 0zM168 194l4 0 6-4-5 3zM172 194l5 2 6-3-5-3zM202 201l5 1 5-3-5 1zM320 226l5 2 5-2-5 2zM325 228l5 0 5 1-5-3zM340 233l5 0 5-4-5-2zM345 233l4-1 6-1-5-2zM349 232l5 2 6 0-5-3zM354 234l5 1 6-4-5 3zM453 257l5 1 5-6-5 2zM70 168l5 2 5 0-5-4zM89 173l5-1 6 2-5-4zM109 177l5 3 5-2-5-4zM114 180l5-1 5-2-5 1zM134 182l5 2 5-5-5 5zM139 184l4 0 6-1-5-4zM193 196l5-1 5-2-5 1zM453 253l5 1 5-1-4-1zM463 252l5 5 5-2-5 0zM95 170l5 4 5-5-5 1zM100 174l5 0 5-4-5-1zM114 174l5 4 6-5-5 1zM119 178l5-1 6-2-5-2zM129 181l5 0 5-7-4 3zM178 193l5-1 6-7-5 1zM193 191l5 3 5-1-5-4zM110 170l5 6 5-6-5-2zM130 175l5 2 5 0-5-4zM144 181l5-1 6-5-5 5zM159 179l5 10 5-6-4-5zM198 189l5 4 6-3-5 0zM203 193l5 2 6-7-5 2zM208 195l5-2 6 1-5-6zM390 234l5 1 6-4-5 1zM405 237l5 3 5-8-5 3zM410 240l5-2 5 3-5-9zM449 249l5-3 5 0-4-3zM130 175l5-2 5 0-4-5zM169 183l5-3 6 3-5-5zM174 180l5 6 6-5-5 2zM214 188l5 6 5-6-5 3zM346 218l5 6 6-5-5 2zM396 232l5-1 5 0-5-1zM401 231l4 3 6-4-5 1zM425 235l5 4 5-2-5 0zM459 246l5 0 6-2-5-1zM91 159l5 5 6-4-5 1zM175 178l5 5 5-8-5 6zM180 183l5-2 5 2-5-8zM376 224l5 0 6 1-5-4zM396 226l5 4 5 1-5-7zM465 243l5 1 5 0-5-3zM470 244l5 3 5-6-5 3zM102 160l5 2 5-4-5 3zM107 162l4 1 6-3-5-2zM151 172l5 0 5-1-5-2zM205 183l5 2 5-5-5 2zM210 185l5 1 5-3-5-3zM215 186l5-1 5-1-5-1zM229 188l5 2 6-2-5-1zM239 194l5-3 6-3-5 2zM244 191l5 3 5 0-4-6zM436 239l5-7 5 3-5-5zM460 240l5 1 6-2-5-2zM112 158l5 2 5-1-5 0zM132 158l4 11 6-5-5-1zM171 173l5 2 5-5-5-1zM176 175l5-2 5 2-5-5zM181 173l5 4 5-5-5 3zM225 184l5 1 5 0-5-3zM250 188l4 6 6-7-5 1zM427 230l4 1 6-6-5 5zM481 242l4 0 6-5-5 2zM485 242l5 0 6 1-5-6zM117 159l5 0 6-4-5 3zM122 159l5 2 6-1-5-5zM137 163l5 1 5-4-5 0zM166 170l5-1 6-4-5 4zM181 170l5 5 5-5-4 1zM230 182l5 3 6-6-5 1zM407 222l5 0 6-1-5-2zM152 164l5-1 5-2-4-1zM437 226l5 1 6-5-5 2zM482 232l4 8 6-3-5-8zM241 178l5 4 5-2-4-6zM457 228l5-2 6 1-5-4zM497 235l5 4 5-3-5-6zM511 242l5-6 6 5-5-11zM124 152l5-2 5-2-5-1zM133 153l5-2 6 2-5-6zM192 165l5 0 6 1-5-4zM237 171l5 9 5-7-5-2zM242 180l5-6 5 2-5-3zM428 218l5 1 6-4-5 2zM507 236l5-2 5-2-5 2zM198 162l5 4 5-6-5 3zM213 165l4 2 6-1-5 0zM444 216l5 3 5-1-5-4zM508 230l4 4 6-6-5 2zM512 234l5-2 6 3-5-7zM208 160l5 5 5-4-4 0zM213 165l5 1 5-4-5-1zM262 174l5 4 6-7-5 1zM267 178l5-1 5-3-4-3zM277 177l5 4 5-4-5-4zM420 208l4 6 6-11-5 6zM164 151l5 0 6-2-5-3zM223 162l5 5 6-7-5 0zM405 201l5 4 6 0-5-5zM528 230l5 3 5-6-4 1zM165 149l5-3 5-3-5 2zM189 155l5-2 6-2-5-1zM194 153l5 1 6-2-5-1zM209 155l5 7 5-10-5 4zM214 162l5-4 5 0-5-6zM258 173l5-7 6-5-5 6zM411 200l5 5 5-4-5-1zM416 205l4-3 6-1-5 0zM484 218l5 0 6-2-5 0zM494 223l5-4 6-4-5 2zM524 225l5 5 5-9-5 6zM529 230l5-2 5 0-5-7zM210 151l4 5 6-4-5 1zM234 160l5 1 5-3-4-2zM421 201l5 0 5 0-5-6zM485 214l5 2 5-3-5 1zM490 216l5 0 5-1-5-2zM539 228l5 0 5-4-5 1zM544 228l5-2 5 2-5-4zM190 149l5-3 6-3-5 1zM426 195l5 6 6-1-5-3zM446 202l5 2 5 2-5-10zM490 214l5-1 6-4-5 3zM495 213l5 2 5-3-4-3zM505 218l5-3 5 2-5-8zM510 215l5 5 5-5-5 2zM201 143l5 6 5 0-5-8zM215 149l5 0 6 0-5-4zM235 150l5 8 5-7-5-1zM245 159l5-3 5-4-5 1zM270 161l4 2 6-3-5-3zM446 204l5-8 6 8-5-10zM456 206l5-7 6 3-5-5zM486 204l5 8 5-5-5 2zM560 226l4 0 6-7-5 4zM206 141l5 8 5-9-5 2zM211 149l5-6 5 3-5-6zM270 162l5-5 5 0-5-3zM309 171l5-6 6 0-5-1zM491 209l5-2 5-1-4-5zM501 213l5-7 5 0-5 0zM511 211l5 2 5 0-5-8zM216 140l5 6 6-6-5 2zM256 156l5-4 5-3-5-1zM452 197l5-4 6 2-5-4zM521 213l5-4 5 2-4-4zM536 216l5-1 5-3-5-1zM541 215l5 1 5-1-5-3zM560 222l5-6 6 1-5-1zM237 145l4 0 6-3-5-1zM241 145l5 2 6-3-5-2zM256 150l5-2 5 3-4-8zM305 158l5 2 6 0-5-2zM315 165l5-5 5 2-4-3zM458 191l5 4 5-1-5-3zM472 197l5 0 6-2-5-1zM527 207l4 4 6-7-5 5zM546 212l5 3 6-3-5 0zM571 217l5 3 5-4-5 1zM207 133l5 5 6-4-5 0zM252 144l5 0 5 0-5-1zM296 158l5-3 5-2-5-3zM301 155l5 3 5-4-5-1zM306 158l5 0 5-4-5 0zM311 158l5 2 5-1-5-5zM463 191l5 3 5-6-5 1zM483 195l5 3 5-3-5-4zM527 205l5 4 5-9-5 5zM532 209l5-5 5 5-5-9zM208 129l5 5 5-4-5 2zM213 134l5 0 5 0-5-4zM267 150l5-5 5-3-5 1zM277 145l5 3 5-3-5 2zM483 198l5-7 6-1-5-1zM577 209l5 11 5-9-5 0zM582 220l4-7 6-1-5-1zM194 125l5 3 5-5-5 1zM199 128l5-3 5 3-5-5zM218 130l5 4 6-4-5-3zM277 142l5 5 6-4-5 1zM302 149l5 4 5-7-5 1zM307 153l5-4 5 4-5-7zM336 159l5-2 6 2-5-5zM464 187l5 1 5 0-5-6zM474 196l5-10 5-5-5 4zM548 206l5-2 5-3-5-1zM199 124l5-1 5 0-5-2zM204 123l5 5 5-6-5 1zM214 130l5-4 5 2-5-5zM229 130l4 3 6-9-5 9zM238 132l5 2 6-1-5-5zM312 146l5 7 5-10-4 7zM322 155l5-3 5-7-5 6zM469 182l5 6 6-3-5-3zM494 190l5-2 5 0-5 0zM587 212l5-1 6-7-5 4zM204 121l5 2 6 1-5-7zM219 123l5 5 6-3-5-2zM273 136l5 2 6 2-5-7zM332 145l5 9 6-7-5 4zM509 188l5 2 6-1-5-1zM514 190l5 1 5-4-4 2zM563 202l5 0 6-3-5 0zM603 212l5-4 5 0-5 1zM225 123l5 2 5-6-5 3zM234 126l5-1 6 0-5-4zM239 125l5 3 6-3-5 0zM308 142l5 2 5-5-4 0zM323 147l5-3 5 0-5-2zM328 144l5 5 5-2-5-3zM338 151l5-4 5 1-5-1zM475 183l5-1 6 0-5-6zM480 182l5 1 6-7-5 6zM524 187l5 6 6-2-5-5zM539 192l5 2 6-4-5 1zM579 203l4 1 6-4-5-3zM588 206l5-3 6-1-5 1zM598 205l5 3 6-6-5 2zM608 209l5-1 5 2-5-6zM225 120l5 2 5-5-5 3zM323 144l5-2 6-2-5-1zM338 147l5 0 5-5-4 2zM348 148l5 0 5 2-5-7zM481 176l5 6 5-2-5-4zM515 186l5 0 5-3-5-2zM530 186l5 5 5-2-5-5zM550 190l4 5 6-5-5 1zM564 199l5-4 6-3-5 2zM235 117l5 5 6-3-5-1zM275 131l5-3 5-2-5 0zM280 128l5 3 5-1-5-4zM314 136l5 2 5-6-5 7zM334 140l5 2 5 1-5-6zM344 144l4-2 6 1-5-2zM353 143l5 7 6-5-5-2zM358 150l5-5 6 3-5-3zM486 176l5 4 5-3-5-3zM511 185l5-4 5-6-5 4zM530 188l5-4 6-1-5-2zM535 184l5 5 6-2-5-4zM565 191l5 3 5-7-5 7zM256 117l4 9 6-4-5-3zM310 134l5 1 5-4-5-1zM324 132l5 6 6-1-5-2zM364 145l5 3 5-3-5-4zM369 148l5-1 5 2-5-4zM496 177l5-1 6-3-5 0zM501 176l5 0 6 1-5-4zM570 194l5-7 5 4-4-3zM595 196l5 2 5-2-5-4zM614 204l5-5 6 0-5-2zM266 122l5 0 5-2-5-4zM271 122l5 1 5-3-5 0zM310 132l5-2 5 0-5-3zM325 134l5 1 5-3-5-2zM330 135l5 2 5-6-5 1zM340 140l4-5 6 0-5-2zM512 177l5-2 5-4-5 4zM521 174l5 5 6-2-5-5zM536 181l5 1 6-6-5 3zM551 185l5-2 5-2-5 2zM556 183l5 3 5 0-5-5zM576 188l4 3 6-3-5-2zM595 195l5-3 5 2-4-6zM630 200l5 0 5-2-5 3zM252 115l4 1 6-6-5 4zM266 121l5-5 6 3-5-6zM374 144l5-1 6-6-5 4zM527 172l5 5 5-4-5 0zM551 179l5 4 6-6-5 2zM556 183l5-2 6 0-5-4zM581 186l5 2 5-4-5 1zM635 201l5-3 5 0-5-2zM247 114l5-4 5-1-4-3zM252 110l5 4 5-4-5-1zM267 115l5-2 5 0-5 0zM272 113l5 6 5-3-5-3zM316 128l5-1 5-3-5-4zM360 138l5-3 5-3-4 1zM370 137l5 4 5-7-5 2zM517 169l5 4 6-2-5-3zM527 175l5-2 6-5-5 4zM532 173l5 0 6 2-5-7zM552 178l5 1 5-7-5 5zM567 181l5 3 5-6-5 0zM591 184l5 6 6-2-5-8zM336 128l5 0 5-2-5-2zM346 132l5-4 5-1-5-1zM351 128l5 5 5-6-5 0zM356 133l5-2 5-2-5-2zM380 134l5 6 6-6-5 2zM523 168l5 3 5-4-5-1zM577 178l5 6 5-6-5-1zM597 180l5 8 5-6-5 3zM317 119l5 4 5-6-5 0zM341 124l5 2 6-2-5 0zM346 126l5 0 6 0-5-2zM602 185l5-3 5-1-5-2zM293 109l5 6 5-7-5 3zM312 115l5 4 6-9-5 6zM327 117l5 2 5 3-4-8zM367 129l4-2 6 0-5-3zM371 127l5 3 6-3-5 0zM376 130l5 0 6 1-5-4zM391 135l5-1 5-4-5 3zM558 170l5-1 6 1-5-4zM593 179l5-1 5-1-5-2zM607 179l5 2 6 0-5-4zM274 106l5-3 5-2-5 1zM303 108l5 5 5-4-5-3zM308 113l5-1 5-3-5 0zM367 128l5-4 5-3-5 1zM377 127l5 0 5-1-5-1zM392 129l4 4 6-1-5-6zM647 185l5 6 5-6-4-4zM284 101l5 5 5-2-5-4zM299 103l5 7 5-6-5 3zM304 110l4-4 6 2-5-4zM343 118l5-2 5 1-5-5zM392 130l5-4 5 0-5-1zM397 126l5 6 5-5-5-1zM402 132l5-3 5-2-5 0zM633 179l5 2 5-1-5-5zM638 181l5 0 5-1-5 0zM643 181l5 4 5-6-5 1zM284 102l5-2 6-2-5 1zM289 100l5 4 6-2-5-4zM334 110l4 1 6 0-5-3zM550 159l5 5 5-4-5-5zM555 164l5-3 5-6-5 5zM584 166l5 3 6-6-5 1zM658 179l5 6 5-3-5 0zM290 99l5-1 5-1-5 0zM295 98l5 4 5-3-5-2zM300 102l5 0 5-6-5 3zM349 113l5-5 5 5-5-6zM363 117l5-3 6-3-5 1zM408 120l5 8 5-6-5 3zM668 182l5-1 6 0-5-2zM285 94l5 0 6-1-5-1zM290 94l5 3 6-2-5-2zM300 97l5 2 5-4-5 1zM315 99l5 4 5-4-5-1zM334 103l5 6 6-6-5-1zM354 107l5 6 5-2-4-9zM413 125l5-3 5 1-4-2zM418 122l5 5 5-4-5 0zM561 156l5 3 5-2-5-4zM590 162l5-1 5-1-5-2zM629 171l5 0 6-6-5 4zM649 175l5-1 5-2-5 2zM659 176l5 0 5 3-5-6zM674 179l5 2 5-2-5-3zM320 98l5 1 6 0-5-4zM350 106l5 2 5-5-5 0zM364 111l5-1 6-6-5 2zM404 116l5 2 5 3-5-10zM419 121l4 2 6-6-5 4zM566 153l5 4 5-5-5 1zM605 158l5 8 6-4-5-6zM630 166l5 3 5-3-5-2zM650 170l4 4 6-2-5-5zM301 94l5-3 5-3-5 3zM306 91l5 5 5-4-5-4zM311 96l5-3 5-2-5 1zM335 103l5-7 6 2-5-3zM375 104l5 9 5-6-5-2zM385 108l4 4 6-5-5 1zM399 113l5 1 6-2-5-1zM419 118l5 3 5-3-5-6zM635 164l5 2 6-1-5-3zM665 172l5 1 5-2-5-1zM675 170l5 8 5-4-5-4zM326 93l5 3 5-1-5-4zM370 106l5-4 6 2-5-2zM380 105l5 2 5-2-4-3zM385 107l5 1 5-3-5 0zM395 107l5 4 5-2-5-3zM405 111l5 1 5-2-5 1zM429 118l5 0 6-1-5-4zM439 121l5 0 5-3-4 3zM577 153l5-1 5-2-5-3zM582 152l5 0 5-3-5 1zM616 155l5 6 5-7-5 6zM646 165l5 1 5-4-5 1zM670 170l5 1 5-2-4-2zM675 171l5-1 5 1-5-2zM680 170l5 4 5-3-5 0zM371 100l5 2 5-5-5 4zM376 102l5 2 5-1-5-6zM400 106l5 3 6-4-5 0zM405 109l5 2 6-5-5-1zM587 150l5-1 5 4-5-8zM612 156l5-4 5 2-5-3zM617 152l4 8 6-10-5 4zM636 160l5 1 6-7-5 6zM641 161l5 2 5-2-4-7zM656 162l5 3 5 1-5-9zM676 167l4 2 6-2-5-2zM695 176l5-3 6-4-5 2zM700 173l5 1 5 0-4-5zM401 103l5 2 5 0-5-4zM637 157l5 3 5-10-5 6zM696 168l5 3 5-3-5 0zM710 174l5 1 6-7-5 3zM386 97l5 7 6-5-5-7zM411 105l5 0 5-2-5-3zM450 113l5 2 6-7-5 7zM637 151l5 5 5-2-4-4zM662 164l5-8 5 1-5-1zM691 163l5 5 6-2-5-3zM431 107l5 0 6-6-5 3zM643 150l4 4 6 1-5-10zM657 160l5-7 6-2-5 2zM687 162l5-1 5 0-5-2zM697 163l5 3 5-6-5 3zM348 88l5-7 5 3-5-4zM383 92l4 2 6-6-5 0zM451 108l5-3 6-1-5 2zM456 105l5 7 6-2-5-6zM638 149l5-4 5 2-4-1zM648 145l5 10 5-1-5-12zM658 153l5 0 5-3-5-2zM717 168l5-2 5-3-5-3zM353 80l5 4 6-6-5 3zM432 102l5-4 5 1-4-6zM457 106l5-2 5 0-5-2zM462 104l5 6 5-3-5-3zM688 156l5-2 5 2-5-4zM408 90l5 1 5-1-5-3zM423 96l5-3 5-2-5 0zM728 160l4 5 6-9-5 6zM732 165l5-5 6 3-5-7zM345 74l5 2 5-3-5-5zM369 78l5 4 5-3-4-5zM374 82l5 0 5-7-5 4zM418 90l5 2 6-3-5-4zM438 92l5 4 5-6-5 4zM625 136l5 1 5 0-5-1zM630 137l5 1 5-2-5 1zM635 138l5 1 5-1-5-2zM640 139l4 1 6-1-5-1zM654 140l5 5 6-4-5-2zM728 156l5 6 5-9-5 6z"/><path fill="#093" stroke="#093" d="M57 181l5 3 5 0-5 0zM288 232l5 4 5-1-5 2zM362 248l5-3 6 5-5-2zM146 194l5 1 6 2-5 0zM63 174l5 0 6-1-5 3zM68 174l5 4 6 2-5-7zM108 183l5 2 5 3-5-2zM176 197l5 4 6-1-5 2zM211 207l5 1 5 3-5-4zM310 230l5-3 5-1-5 4zM458 254l5-2 5 3-5-2zM183 192l5-7 6 9-5-9zM188 185l5 6 5-2-4 5zM203 193l5-2 5 2-5 2zM208 191l5 7 5 0-5-5zM336 222l5-2 5 8-5-6zM434 241l5 3 5 3-5 0zM85 167l5-6 6 4-5 1zM160 179l5-1 5 0-5 1zM184 185l5-5 6 6-5-3zM189 180l5 5 5 2-4-1zM342 220l4-2 6 3-5-3zM234 191l5 0 5 0-5 3zM381 224l5 0 6-1-5 2zM485 247l4-2 6 4-5-3zM489 245l5 3 6 0-5 1zM392 223l5-2 5 5-5-3zM397 221l4 3 6 1-5 1zM412 226l5-5 5 2-5 2zM176 169l5 1 6 1-5-2zM201 174l5 0 5 3-5-3zM260 187l5 1 5-4-5 7zM373 213l5-1 5 0-5 2zM393 215l4 3 6-1-5 2zM226 177l5-1 5 1-5 3zM241 179l5 0 5 1-5 2zM270 184l5 7 5 2-4-5zM457 223l5 6 5 3-5-6zM251 180l5 1 5-7-5 13zM433 217l5 2 5 4-5-1zM217 169l5-1 5 0-5 6zM419 208l4 6 6 4-5-5zM134 148l5-1 5 3-5-2zM488 224l5 3 5 1-5-3zM498 230l5-5 5 6-5-2zM503 225l5 5 5 0-5 1zM528 229l5 3 5-2-5 3zM537 237l5-2 6-2-5-4zM454 211l5 0 6 1-5 3zM474 215l5 2 5 1-5 0zM484 218l5 1 5 4-5-5zM523 223l5 7 6-2-5 2zM430 203l5 1 6 1-5 0zM175 143l5 2 5 2-4-1zM239 161l5-5 5 4-5-2zM465 207l5 3 5-1-4 1zM480 208l5 6 5 0-5 0zM500 217l5-2 5 0-5 3zM509 220l5-4 6 5-5-1zM549 226l5 1 5 0-5 1zM284 165l5 0 5 1-5 1zM299 173l4-5 6 1-5 2zM451 204l5-6 5 1-5 7zM186 140l5-1 5 3-5-1zM191 139l5 5 5 1-5-3zM196 144l5-1 5-2-5 4zM230 150l5 0 5 0-4 1zM274 163l5-5 6 4-5-2zM461 199l5 4 6 0-5-1zM481 205l5-1 5 5-5-2zM505 212l5-3 6 4-5-2zM216 143l5 2 5 1-5 0zM447 196l5-2 5-1-5 4zM457 193l5-1 6 3-5 0zM462 192l5 6 5-1-4-2zM570 216l5 5 6 3-5-4zM536 205l5 6 6 1-5-2zM498 198l4-4 6 7-5-3zM203 127l5 2 5 3-5-4zM287 145l5 1 5 6-5-6zM459 187l5-1 5 2-5-1zM572 211l5-2 5 2-5 4zM332 152l5-3 5 2-5 3zM337 149l5 5 5 3-5-6zM239 124l5 4 5 2-5-2zM318 150l4-7 6 1-5 3zM470 179l5 3 5 0-5 1zM593 208l5-4 5 4-5-3zM559 196l5-1 5 0-5 4zM235 119l5 2 5 2-5-1zM579 193l5 4 5 5-5-7zM609 202l4 2 6 2-5-2zM324 134l5 5 5 3-5-4zM231 114l5-3 5 8-5-5zM506 176l5-1 6 0-5 2zM251 114l5 3 5 1-5-2zM290 120l5 7 6-4-5 3zM526 179l5-5 6 0-5 3zM605 196l5-4 5-1-5 4zM242 111l5-4 5 3-5 4zM355 136l5-2 5 1-5 3zM522 171l5 1 5 1-5 2zM301 119l5 1 5 0-4 1zM380 141l5-4 5 0-5 3zM547 172l5 6 5-1-5-2zM572 184l4-7 6 7-5-6zM297 114l5 0 5 4-5 0zM321 120l5 4 6-1-5 0zM371 127l5 2 5 1-5 0zM396 136l4 2 6 1-5-1zM622 182l5 6 5-1-5-1zM534 158l5 8 5-4-5 5zM573 174l5-8 5 8-5-2zM578 166l5 9 5-1-5 0zM549 162l5-2 5 7-5-3zM608 171l5 6 5 1-5-1zM318 109l5-2 6 5-5-5zM323 107l5 4 6-1-5 2zM348 116l5-2 5 3-5 0zM353 114l5 2 5 5-5-4zM544 160l5-1 6 5-5-5zM594 167l5 3 5 3-5-5zM599 170l4 1 6-2-5 4zM569 158l5 3 6 2-5 0zM560 160l5-5 5 3-4 1zM565 155l5 2 5 5-5-4zM664 176l5 0 5 0-5 3zM384 113l5-3 5 3-5-1zM389 110l5 3 5 0-5 0zM645 167l5 3 5-3-5 4zM689 176l5 2 5 3-5-4zM581 151l5 0 6 4-5-3zM625 162l5-2 6 2-5 2zM640 166l5-5 6 5-5-1zM430 111l5 2 5 2-5-3zM666 164l5 0 5 2-5-2zM396 100l5 3 5-2-5 4zM411 105l5 1 5 0-5-1zM445 111l5 3 5 1-5-2zM656 158l5-1 6-1-5 8zM691 164l5 4 5 0-5 0zM372 95l5-5 5 6-5-4zM377 90l5 6 5-3-5 3zM598 146l5-4 5 9-5-10zM613 149l5-4 5-1-5 7zM642 156l5-6 5 4-5 0zM387 93l5-1 5 4-5 1zM466 107l5 5 5 3-5-7zM623 141l5 1 6 3-5 0zM687 153l5 6 6 3-5-8zM722 160l5 3 5 2-4-5zM344 75l5-2 5 0-4 3zM393 84l5 2 6 2-5-2zM659 140l5 8 5 2-5-8zM620 135l5 1 5 0-5 1z"/><path fill="#095" stroke="#095" d="M62 184l5 3 5 1-5-4zM337 250l5-6 6 1-5 2zM367 254l5 1 5-5-5 5zM97 190l5 2 5 0-5-4zM102 192l5 2 5-5-5 3zM121 196l5 1 6-2-5 2zM151 206l5-5 5-2-5 2zM161 202l5 4 5 4-5-9zM185 207l5 5 6-2-5 1zM293 237l5-2 6-1-5-1zM343 247l5-2 5-1-5-1zM357 247l5 1 6 0-5 2zM407 259l4 0 6 1-5-3zM411 259l5 2 6-3-5 2zM83 184l4 1 6 0-5-2zM87 185l5-1 6 4-5-3zM117 193l5-3 5 2-5 0zM181 206l5 1 5 2-5-5zM348 243l5 1 5 2-5-8zM382 252l5-2 6 3-5-5zM54 171l4 7 6 0-5-6zM113 185l4 6 6-3-5 0zM127 192l5-1 6-1-5 2zM137 194l5 0 5 2-4-7zM142 194l5 0 5-1-5 3zM147 194l5 3 5-1-5-3zM191 209l5-4 6-2-5 2zM329 234l5 5 5 0-5-4zM432 259l5 1 5-5-5 4zM79 180l5-5 5 1-5 0zM143 189l4 7 6-6-5 1zM152 193l5 3 6-5-5 3zM177 195l5 7 5-2-5-1zM182 202l5-2 5 0-5 0zM187 200l5 3 5-1-5-2zM202 203l4 3 6 1-5-5zM206 206l5-1 6-1-5 3zM211 205l5 2 6 2-5-5zM354 237l5 2 5 2-5-6zM359 239l5 0 5-2-5 4zM403 246l5 6 5 0-5-6zM315 230l5-4 5 2-5 0zM330 228l5 1 5 4-5-4zM335 229l5 4 5-6-5 6zM389 246l5-5 5-1-5 2zM84 174l5-1 6-3-5 4zM173 193l5-3 5 2-5 1zM350 229l5 2 5 2-5-2zM355 231l5 3 5-2-5 1zM365 231l5 5 5 2-5-6zM374 233l5 7 6-1-5-6zM394 242l5-2 5 0-4-1zM90 174l5-4 5 0-5-1zM139 184l5-5 5 1-5 1zM164 187l5-1 5 1-5-1zM198 194l5-1 5 2-5-2zM360 233l5-1 6-7-5 7zM390 236l5 2 5 0-5-3zM395 238l5 1 5-2-5 1zM400 239l4 1 6 0-5-3zM459 252l4 1 6-2-5 0zM463 253l5 2 6 0-5-4zM473 255l5 2 6-2-5 1zM139 174l5 7 6-1-5-1zM174 187l5-2 5 0-5 1zM194 194l4-5 6 1-5 0zM366 232l5-7 5 5-5-4zM415 238l5 4 5-7-5 6zM91 166l5-1 5 0-5-1zM96 165l5 2 5-2-5 0zM120 170l5 2 6 1-5-2zM135 173l5 4 5 0-5-4zM194 185l5 5 5-4-5 1zM204 190l5 0 5 0-5-3zM356 224l5-2 6 3-5-2zM415 232l5 9 6-5-5-1zM420 241l5-6 5 2-4-1zM131 173l5-5 5 3-5-4zM150 175l5-2 6 4-5-5zM190 183l5 3 5 0-5-6zM204 186l5 1 6-1-5-1zM352 221l5-2 5 2-5-3zM401 230l5 1 5-4-5 4zM416 230l5 5 5 0-5-2zM421 235l5 1 5-2-5 1zM445 237l5 5 6-3-5 2zM450 242l5-1 5-1-4-1zM97 161l5-1 5 1-5-1zM185 175l5 8 5-2-4-3zM190 183l5-3 5 0-5 1zM382 221l5 4 5-1-5-2zM387 225l5-2 5 0-5 1zM416 227l5 6 6-3-5 0zM456 239l4 1 6-3-5 2zM465 241l5 0 6 2-5-4zM470 241l5 3 6-2-5 1zM156 169l5 2 5-1-4 0zM230 185l5 2 5-1-5-1zM466 237l5 2 5-1-5 0zM490 242l5 4 6 0-5-3zM412 222l5 3 6 1-5-5zM128 155l5 5 5-2-5 1zM147 160l5 4 6-4-5 4zM182 169l5 2 5-2-5-1zM206 174l5 3 6-4-5 3zM216 178l5-1 5 3-5-6zM413 219l5 2 5-1-5 1zM447 232l5-5 5 1-4 0zM472 232l5 5 5-5-5 3zM491 238l5 0 6 1-5-4zM496 238l5-1 6 4-5-2zM158 160l4 1 6 4-5-5zM167 158l5 10 6-2-5-4zM177 167l5-3 6 3-5-3zM448 222l5 6 5-3-5-1zM462 226l5 6 6-4-5-1zM148 155l5 0 6 2-5-1zM153 155l5 4 5-1-4-1zM178 166l5-2 5-8-5 8zM212 172l5-3 5 5-5-7zM404 211l5 2 5 0-5-2zM423 214l5 4 6-1-5 1zM522 241l5-5 5 1-5 2zM168 157l5 1 6-3-5 3zM232 163l5 14 6-4-5-1zM247 173l5 3 5 0-5-1zM257 173l5 8 5-3-5-4zM453 222l5-1 6-1-5-1zM468 227l5-5 6 4-5-6zM473 222l5 5 5-1-4 0zM478 227l5-1 5-2-5 2zM159 153l5 0 5-2-5 0zM164 153l5 1 5 4-5-7zM174 158l5-3 5 3-5-6zM257 176l5-2 6-2-5 2zM415 208l5 0 5 1-5 0zM429 212l5 1 6 0-5-1zM434 213l5 1 6-1-5 0zM444 220l5-6 5-3-5 5zM464 220l5 1 5-6-5 7zM488 224l5 1 6-1-5 1zM238 169l5-3 5-3-5 4zM263 174l5-2 5 0-5 0zM440 213l5 0 5-3-5 1zM449 216l5-5 6 4-5-4zM469 222l5-7 5 3-4-1zM489 219l5 6 5-6-5 4zM513 225l5 5 6-5-5 3zM145 146l5-3 5-4-4 5zM243 167l5-4 6 4-5-4zM425 208l5-5 6 2-5 0zM445 211l5-1 5 0-5-3zM151 144l4-5 6 5-5-4zM426 201l5 4 5-4-5 0zM436 205l5 0 5-3-5 3zM470 210l5 3 5 1-5-5zM495 216l5 1 5 1-5-3zM514 216l5 9 6-1-5-3zM166 141l5 2 5 2-5-6zM200 145l5 10 6-6-5 0zM215 153l5-1 5 3-5-6zM220 152l5 5 5-7-5 5zM254 160l5 3 6-5-5 7zM264 167l5-4 5 0-4-2zM289 165l5 7 5-2-5-4zM441 205l5-3 5-6-5 8zM471 210l4-1 6-4-5 5zM554 228l5-1 5-1-4 0zM181 144l5-4 5 1-5-1zM206 149l5 0 5-6-5 6zM225 155l5-5 6 1-5 0zM466 203l5 4 5-1-4-3zM515 217l5-2 6 2-5-2zM545 222l5 1 5-1-5 2zM181 137l5 3 6-4-5 5zM191 141l5 1 6-2-5 1zM236 151l4-1 6 3-5-2zM280 160l5 2 5-2-5 1zM540 218l5 1 6 1-5-4zM192 136l5 5 5-4-5 2zM207 143l4-1 6-3-5 3zM290 160l5 1 5-1-4-1zM305 158l5 11 5-4-5-5zM310 169l5-5 5-4-5 5zM487 205l5-5 5 4-5-1zM182 133l5 0 6-3-5 5zM291 156l5 3 5-4-5 3zM463 195l5 0 5 2-5-3zM468 195l4 2 6-3-5 3zM512 206l5-3 5 8-5-8zM566 216l5 1 5 0-5 2zM227 141l5 0 5 0-4-4zM262 143l4 8 6-6-5 5zM316 160l5-1 5 1-5-1zM321 159l4 3 6-1-5-1zM493 200l5-2 5 0-5 1zM512 202l5 1 6 3-5-7zM552 212l5 0 5-1-5-1zM218 134l5 1 5 3-5-4zM233 137l4 4 6-3-5-1zM257 143l5 1 5 0-4-1zM296 155l5-5 6 3-5-4zM316 154l5 5 5 0-4-5zM527 201l5 4 6-4-5 3zM282 147l5-2 5 3-4-5zM317 152l5 2 5-2-5 3zM508 193l5 5 6-5-5 5zM567 211l5-6 6 4-5 0zM572 205l5 10 6-3-5-3zM248 133l5 6 6-6-5 3zM297 146l5 0 6 1-5-2zM342 154l5 5 5-1-5-1zM489 190l5 0 5-2-5 0zM528 199l5-2 6 2-5-3zM533 197l5 3 6-1-5 0zM538 200l5-2 6 1-5 0zM298 142l5 3 5-3-5 2zM475 182l5 3 5-2-5-1zM573 205l5-2 5 1-4-1zM578 203l5 3 5 0-5-2zM244 128l5 2 6 0-5-5zM264 135l5-4 5 6-5-10zM279 133l5 7 5-3-5-1zM284 140l5-5 5 1-5 1zM490 180l5 4 5 1-5-5zM515 188l5 1 5 0-5-3zM250 125l5 5 5-7-5 6zM294 136l5 0 5 3-5-5zM520 186l5 3 5-1-5-5zM535 191l5-3 5 3-5-2zM540 188l5 3 5 0-5 0zM589 200l5 3 5-5-5 5zM594 203l5-1 5 3-5-7zM599 202l5 2 5-1-5 2zM613 204l5 6 6-3-5-1zM285 131l4 1 6-2-5 0zM309 135l5 1 5 3-4-4zM579 196l5-1 6 7-5-10zM609 203l5 1 5-5-5 5zM354 143l5 0 5 0-5 0zM541 183l5 4 5-2-5-2zM580 194l5-2 5 0-5 3zM246 120l5-6 5 2-4-1zM256 117l5 2 5 2-5-3zM261 119l5 3 5-6-5 5zM507 173l5 4 5-2-5 1zM271 116l5 4 6 2-5-3zM315 127l5 3 6 0-5-3zM350 135l5 1 5 2-5-2zM370 141l4 3 6-3-5 0zM532 177l5-3 5 6-5-7zM561 181l5 5 6-2-5-3zM591 189l5 2 5-2-5 1zM341 130l4 3 6-5-5 4zM542 180l5-8 5 3-5 1zM576 177l5 10 6-3-5 0zM581 187l5-2 6-3-5 2zM272 113l5 0 5 3-4-4zM277 113l5 3 5-3-5 3zM307 121l4-1 6-1-5 1zM562 172l5 12 6-7-5-2zM587 184l5-2 5 0-5 0zM646 195l5 2 5 0-5-5zM258 103l5 10 5-3-5-8zM297 116l5 2 6-4-5 2zM312 120l5-1 5-2-5 2zM327 123l5 0 5 1-5-5zM381 134l5 2 5-1-5-1zM533 167l5 2 5 1-4-4zM627 188l4 0 6 3-5-4zM631 188l5 3 6-1-5 1zM646 192l5 0 6 3-5-4zM308 114l4 1 6 1-5-4zM347 124l5 0 5-1-5-1zM568 172l5 2 5-2-5-1zM622 183l5 3 5-1-4 0zM382 127l5 4 5-1-5-4zM564 166l5 4 5 0-5-4zM569 170l4 1 6-4-5 3zM583 174l5 0 6-7-5 7zM613 177l5 4 5-2-5-1zM618 181l5-1 5 2-5-3zM623 180l5 5 5-6-5 3zM637 189l5-7 6 3-5-4zM274 103l5-1 5 0-5-2zM294 108l5-5 5 4-5-2zM308 106l5 3 6 3-5-4zM377 121l5 4 6 3-5-5zM382 125l5 1 6-6-5 8zM628 182l5-3 5-4-5 6zM324 107l5 5 5-3-5-1zM388 128l5-8 5 4-5-2zM673 185l5 2 5-2-5 1zM344 111l5 2 5-6-5 4zM629 173l5 1 5 3-5-6zM673 181l5 5 5-1-4-4zM291 92l5 1 5 1-5-4zM654 174l5-2 6 0-5 0zM679 176l5 3 5 3-5-4zM326 95l5 4 5 1-5-4zM655 167l5 5 5 1-5-7zM694 177l5 4 6-3-5 3zM306 91l5-3 6 2-5 1zM311 88l5 4 6 1-5-3zM316 92l5-1 6 3-5-1zM336 100l5-5 5 4-5-6zM400 111l5 0 5 0-5-2zM434 118l5 3 6 0-5-4zM631 164l5-2 5-1-5-1zM641 162l5 3 5-2-5 0zM336 95l5-2 6 0-5 1zM381 104l5-2 5 2-5-1zM410 111l5-1 5 3-4-7zM415 110l5 3 5-3-5 3zM420 113l5-1 5 2-5-4zM592 149l5 4 5-4-5 4zM317 89l5-2 5-2-4 1zM347 93l5 0 5 0-5-1zM381 97l5 6 5 1-5-7zM416 106l4 7 6-4-5-3zM617 151l5 3 5 0-5-2zM651 161l5-3 6 6-5-6zM666 166l5-2 6-1-5-1zM676 166l5-1 5-3-5 7zM342 86l5 6 6-2-5-4zM406 101l5 4 5-5-4 6zM632 159l5-8 6-1-5 4zM652 156l5 2 5-5-5 7zM681 169l5-7 6-1-5 1zM696 168l5 0 5-2-4 0zM701 168l5 0 5 0-5-2zM338 87l5-4 5 5-5-4zM353 90l4-2 6 2-5-5zM377 92l5 4 5-2-4-2zM382 96l5-3 5 4-5-3zM397 99l5-2 5 0-5 1zM416 100l5 3 6 2-5-4zM711 168l5-2 6 0-5 2zM721 167l5 3 6 0-5 1zM412 98l5-1 5 2-5-1zM417 97l5 4 5 1-5-3zM446 103l5 5 6-2-5 1zM668 151l5 7 5-4-5 0zM673 158l4-3 6 1-5-2zM677 155l5 3 6-2-5 0zM363 87l5-4 6 1-5 2zM408 95l4-1 6 1-5-4zM412 94l5 4 6-2-5-1zM658 154l5-6 6 0-5 0zM693 152l5 4 5-3-4 2zM698 156l5-3 5 7-5-7zM399 86l5 2 5-2-5-1zM423 92l5-1 6 1-5-3zM659 145l5-3 6 5-5-6zM689 152l5-2 5-1-5 0z"/><path fill="#0a7" stroke="#0a7" d="M106 200l5 2 6-7-5-3zM426 263l5 7 6-7-5-1zM201 212l5 0 5-7-5 1zM74 175l5 4 5-5-4-5zM350 232l5-1 6-5-5 1zM170 179l5 3 6-9-5 2zM175 182l5-1 6-4-5-4zM112 163l5-4 6-1-5-4zM143 162l5 0 5-7-5 0zM148 162l5 2 5-5-5-4zM403 221l5 0 6-9-5 1zM251 180l5 7 6-6-5-8zM463 227l5 0 6-7-5 1zM176 145l5-1 5-4-5-3zM255 160l5 5 5-9-5 1zM535 222l5 4 5-7-5-1zM299 172l5-6 6 3-5-11zM476 206l5 4 6-5-5-6zM177 139l5 0 5-6-5 0zM251 154l5 2 5-8-5 2zM237 141l5 4 6-8-5 1zM223 134l5 4 5-5-4-3zM253 143l5 1 5-5-5-2zM469 188l5 8 5-11-5 3zM524 195l5 5 5-11-5 4zM589 202l5 1 6-5-5-2zM546 187l4 7 6-11-5 2zM550 194l5-6 6-2-5-3zM345 133l5 5 6-5-5-5zM337 124l5 4 5-11-5 5zM624 178l4 3 6-7-5-1zM628 181l5 0 6-4-5-3zM320 103l5 6 5-6-5-4zM339 109l5 4 6-7-5-3zM365 108l5-2 6-4-5-2zM337 95l5-1 5-2-5-6zM332 89l5 4 6-10-5 4zM677 163l4 6 6-7-5-1zM333 90l5-3 5-3-5-7zM362 95l5-3 6 0-5-6zM407 104l5 2 5-9-5 1zM673 150l5 10 6-11-5-4zM463 108l5-5 5-3-5-3zM743 163l5 5 5-5-5-6z"/><path fill="#097" stroke="#097" d="M111 202l5-4 5-2-4-1zM327 246l5 1 6-1-5-2zM332 247l5 3 6-3-5-1zM386 258l5 4 6-4-5 1zM392 259l5-1 5-2-5-2zM436 267l5 4 5-8-5 3zM93 185l5 3 5-4-5-1zM117 191l5 1 6-1-5-3zM122 192l5 0 6 0-5-1zM407 251l5 8 6-6-5 1zM64 178l5-2 5-1-5-2zM128 191l5 1 5-5-5 1zM334 235l5 4 6-6-5 0zM378 246l5 2 6-2-5-5zM383 248l5 0 6-7-5 5zM413 254l5-1 5-1-5 0zM452 260l5 4 6-2-5-4zM457 264l5 0 5-2-4 0zM79 179l5-3 5-3-5 1zM143 190l5 1 5-3-5 3zM399 245l5 7 5-6-5-4zM463 262l4 0 6-2-5-3zM124 183l5 3 5-5-5 0zM148 191l5-3 6-2-5 0zM355 231l5 2 6-1-5-6zM370 232l5 6 5-3-5-5zM414 243l5 4 6-6-5 1zM81 168l4-1 6-1-5 1zM140 177l5 2 5-4-5 2zM126 171l5 2 5-6-5 6zM362 223l5 2 5-3-5 1zM165 179l5 0 6-4-5-2zM245 191l5-1 5-1-5-5zM466 241l5-3 6-1-5-5zM133 160l4 2 6 0-5-4zM255 189l5 1 6-5-5 3zM388 214l5 9 5-9-4 2zM172 168l5-1 6-3-5 2zM202 171l5 4 5-3-5-1zM207 175l5 1 5-7-5 3zM173 162l5 4 5-2-5-6zM443 223l5 1 5-2-4-3zM149 151l5 4 5-5-4-1zM154 155l5-2 5-2-5-1zM198 163l5 0 6 0-5-1zM233 174l5-2 5-6-5 3zM238 172l5 1 5 1-5-8zM252 175l5 1 6-2-5-2zM439 214l5 6 5-4-4-3zM169 151l5 7 6-5-5-4zM204 162l5 1 5-1-5-7zM233 167l5 2 5-2-4-2zM464 218l5 4 6-5-5 3zM278 176l5 1 5-7-5 3zM514 228l5 0 5-6-5 3zM254 167l5 0 5 0-5-4zM294 172l5 1 5-2-5-1zM436 201l5 4 5-1-4-2zM299 170l5 1 5 0-5-5zM540 226l5-4 5 2-5-5zM526 217l5 2 5-3-5-2zM545 219l5 5 6-2-5-2zM241 151l5 2 5-3-5-3zM246 153l5 1 5-4-5 0zM556 222l4 0 6-6-5 4zM556 219l5 1 5-5-5 0zM222 147l5-6 6-4-5-1zM517 203l5 8 5-10-4 5zM242 145l5-2 6 0-5-6zM252 147l5-4 6 0-5 1zM542 209l5 4 6-9-5 2zM258 144l5-1 5-1-5-3zM557 207l5 4 6-4-5 0zM578 209l5 3 5-2-5-4zM539 199l5 0 5 2-5-7zM500 187l5 2 5-3-5-3zM505 189l5 1 5-4-5 0zM284 136l5 1 5 0-5-5zM294 137l5-3 6 0-5-1zM300 133l5 1 5-2-5 1zM329 138l5 4 6-2-5-3zM630 202l5-1 5-5-5 3zM282 122l4 0 6-3-5-3zM350 138l5-2 6-5-5 2zM537 173l5 7 5-4-4-1zM616 194l5-1 5 4-5-6zM602 188l4 3 6-2-5-7zM273 109l5 3 5 1-4-10zM264 105l5 0 5-2-5-1zM283 113l5-5 6 0-5-2zM652 191l5-2 5 5-5-9zM289 106l5 2 5-3-5-1zM383 123l5 5 5-6-5-1zM609 172l5 0 6-2-5-3zM614 172l5 4 6-6-5 0zM325 109l5-7 5 3-5-2zM344 113l5-2 6-3-5-2zM605 165l5 5 5-3-5-1zM616 162l5 4 5-3-5-2zM684 178l5 4 6-5-5-1zM317 90l5 3 5 0-5-6zM312 88l5 1 6-3-5-1zM322 87l5 6 5-4-5-4zM332 92l5 3 5-9-5 7zM420 113l5-3 6 2-5-3zM426 109l5 3 5-5-5 0zM608 151l5-3 5-4-4 2zM328 84l5-3 6 0-5 0zM373 92l5 2 5-7-5 6zM392 97l5-1 6 0-5-4zM397 96l5 2 6-3-5 1zM427 105l5 1 5-8-5 4z"/><path fill="#0a2" stroke="#0a2" d="M126 199l5-4 5 2-5-2zM304 234l5-7 5 4-5-2zM299 225l5 6 6-1-5-2zM314 231l5-2 5 0-5 3zM226 209l5 0 5 4-5-5zM443 250l5 1 5 2-5-6zM217 200l5-2 6 1-5-3zM222 198l5 3 5-1-4-1zM237 204l5-6 6 2-5 0zM429 240l5 1 5 6-5-10zM331 219l5 1 6 0-5 1zM430 240l4-3 6 4-5-4zM248 198l5-1 5-2-4 4zM381 225l5-2 5 5-5-4zM249 190l5 9 5-4-5-3zM353 212l5-1 5 2-5-1zM363 209l5 4 5 0-5 0zM379 205l5 2 5 0-5-1zM261 174l5 4 6-2-5 2zM281 185l5 0 5 0-5-2zM414 212l5-4 5 5-5-6zM492 227l5 4 6-6-5 5zM512 234l5-4 5 4-5-2zM188 156l5 3 5 4-5-7zM390 201l5 2 5 4-5-9zM297 176l5 4 5-4-5 7zM538 230l5-1 5-1-5 0zM406 194l5 6 5 0-5-2zM543 228l5 0 6-1-5-1zM308 174l5 1 5 2-5-2zM412 193l4 2 6 4-5-7zM421 193l5 2 6 2-5-2zM456 198l5 8 5-3-5-4zM319 162l5 9 5-4-4 1zM432 190l5 4 5 2-4-9zM261 152l5-5 5 2-5 0zM325 168l4-1 6-3-5 3zM320 160l5 2 5-2-5 2zM330 167l5-3 5 1-5-2zM198 130l5-3 5 2-5-2zM203 127l4 6 6 1-5-5zM335 163l5 2 6 1-5-4zM198 127l5 0 5 1-4-3zM454 184l5 3 5 0-5-6zM494 190l4-1 6 0-5-1zM465 181l4 1 6 0-5-3zM465 176l5 3 5 4-5-5zM574 195l5-2 5 2-5 1zM526 181l5-7 5 7-5-7zM560 188l5-3 6 1-5-4zM349 138l5-4 6 0-5 2zM385 137l5 7 5-4-5-3zM606 189l5-5 5 1-5 0zM395 140l5 0 5 3-5-5zM611 185l5 0 6-3-5 5zM253 102l5 1 5-1-5-2zM543 167l5-1 5-1-5 3zM323 110l5 4 5-2-5-1zM406 130l5 2 6-3-5 6zM363 115l4 6 6-2-5-5zM412 127l5 1 5 2-4-8zM565 159l4-1 6 5-5-6zM653 179l5 0 5 3-5-8zM355 108l5-6 5-1-5 2zM428 123l5-2 6 0-5 1zM561 150l5 3 5 0-5-4zM591 152l4 6 6-1-5-2zM600 160l5-2 6-2-5 0zM640 165l5 2 5 4-5-10zM444 121l5-3 5 2-5-2zM449 118l5 2 6-2-5 1zM643 145l5 0 5-3-5 5zM614 140l5-4 5-2-5 6zM624 134l5 4 6 0-5-1zM718 156l5 0 5 0-5 0zM482 104l5-1 6 3-5-5z"/><path fill="#0a3" stroke="#0a3" d="M131 195l5 9 5-5-5-2zM165 207l5 1 6-2-5-1zM200 218l5-4 5 0-5-2zM293 236l5-2 5 0-5 1zM318 240l4 3 6 1-5-8zM352 247l5 4 5-3-5-1zM396 261l5-5 6 3-5-4zM416 263l5-2 5 2-5-4zM82 183l5 6 5-5-5 1zM136 197l5 2 5-5-4 6zM156 201l5 1 5-1-5-2zM171 205l5 1 5 0-5-2zM176 206l4 0 6 1-5-1zM200 216l5-4 5-1-5-3zM205 212l5 2 5-1-5-2zM298 235l5-1 6-7-5 7zM323 236l5 8 5-5-5 0zM416 261l5-2 6-4-5 3zM421 259l5 4 6-1-5-7zM48 173l5 4 5 1-4-7zM68 178l5 3 5-2-5-1zM97 186l5 2 6-5-5 2zM161 199l5 2 6-2-5 1zM205 208l5 3 6-3-5-1zM210 211l5 2 6-1-5-4zM333 239l5-1 6 1-5-4zM422 258l5-3 5 4-5-6zM78 179l5-3 5 2-4-3zM172 199l4-2 6 5-5-7zM216 208l5 4 5-3-5 2zM304 231l5-2 6-2-5 3zM309 229l5 2 5 1-4-5zM339 235l5 4 5-2-5-6zM348 239l5-1 6 1-5-2zM324 229l5 4 6-4-5-1zM344 231l5 6 5-3-5-2zM364 239l5 2 5-5-5 1zM369 241l5-4 5 1-5-2zM374 237l4 9 6-5-5-3zM418 253l5-4 5-1-5 4zM369 237l5-1 5 4-5-7zM394 241l5 4 5-3-5-2zM428 248l5 5 5-6-5 3zM448 251l5 6 5-3-5-1zM99 174l5 0 6 0-5 0zM104 174l5 3 5-3-4 0zM178 190l5 3 5-8-5 7zM212 199l5 1 6-4-5 3zM227 201l5 3 5 0-5-4zM325 228l5-2 6-4-5 1zM419 247l5-2 5-5-5 4zM433 250l5-3 6 0-5-3zM448 247l5 6 6-1-5-5zM232 200l5 4 6-4-5 2zM331 223l5-1 5 0-5-2zM90 161l5 8 6-2-5-2zM105 169l5 1 5-2-5 2zM154 183l5-4 6-1-5 1zM179 185l5 1 5-6-5 5zM336 220l5 2 5-4-4 2zM371 225l4 5 6-5-5 5zM425 241l5-1 5-3-5 2zM115 168l5 2 6 1-5-6zM150 180l5-5 5-1-5-1zM155 175l5 4 5 0-5-5zM165 178l4 5 6-5-5 0zM376 230l5-5 5-1-5 0zM391 225l5 7 5-2-5-4zM405 234l5 1 6-5-5 0zM410 235l5-3 6 3-5-5zM435 237l5 4 5-4-5 4zM479 248l5 1 5-4-4 2zM224 188l5 3 5-1-5-2zM239 191l5 3 5 0-5-3zM411 230l5 0 5 3-5-6zM220 185l4-2 6 2-5-1zM224 183l5 5 6-1-5-2zM249 194l5-2 5-3-5 5zM406 231l5-4 6-6-5 5zM411 227l5 0 6 3-5-9zM210 182l5-2 6-1-5 1zM254 194l5-5 6-1-5-1zM368 213l4 4 6-5-5 1zM417 221l5 9 5-3-5-4zM436 230l5 0 6 0-5-2zM441 230l5 5 6-6-5 1zM171 169l5 0 6 0-5-4zM186 175l5-3 5-2-5 0zM191 172l5 0 5-2-5 0zM196 172l5 2 5 0-5-4zM216 180l5-1 5-2-5 0zM363 213l5 0 5-5-5 6zM368 213l5 0 5 1-5-6zM378 212l5 1 5 1-5-2zM456 230l5 3 6-4-5 0zM486 239l5-2 5 1-5 0zM491 237l5 6 5-6-5 1zM501 246l5-8 5 3-5-1zM162 165l5-6 5 9-5-10zM177 165l5 4 5-1-5-4zM187 171l4-1 6-5-5 4zM191 170l5 0 6 1-5-6zM231 176l5 4 5-2-5-1zM236 180l5-1 5 3-5-4zM246 179l4 5 6-3-5-1zM265 191l5-7 6 4-5-3zM423 226l4-6 6-3-5 4zM432 220l5 6 6-2-5-5zM477 237l5-5 5-3-5 3zM271 185l5 3 5-3-5-2zM384 207l5 5 5-1-5-4zM482 232l5-3 5-2-5 2zM227 171l5 4 5 2-5-14zM247 174l4 6 6-7-5 3zM266 178l5 8 5-5-4-5zM276 183l5 2 5-2-5 0zM389 207l5 4 5-3-5-4zM409 213l5-1 5-5-5 6zM478 232l4-7 6-1-5 2zM482 225l5 4 6-2-5-3zM487 229l5-2 6 3-5-3zM502 230l5 6 5-2-4-4zM183 164l5-8 5 0-5 3zM267 178l5-2 5 1-5 0zM272 176l4 5 6 0-5-4zM399 208l5 1 6-5-5 2zM483 226l5-2 5 1-5-1zM517 232l5 2 6-5-5 6zM272 177l5 0 5-4-5 1zM282 181l5-1 5-5-5 2zM400 200l5 6 5-1-5-4zM405 206l5-2 5-1-5 2zM410 204l5 4 5 1-5-6zM513 230l5-2 5-5-5 7zM214 161l4 0 6-3-5 0zM218 161l5 1 6-2-5-2zM287 177l5-2 6 0-5 1zM425 209l5-6 5 1-5-1zM430 203l5 9 5-3-5-5zM479 217l5 1 5 0-5 0zM150 143l5-2 5 1-5-3zM155 141l5 6 5-6-5 1zM199 154l5-1 6-2-5 1zM204 153l5 2 5 1-4-5zM219 158l5 0 5-2-5 2zM224 158l5 2 5 0-5-4zM234 160l5 5 5-9-5 5zM450 210l5 1 5-7-5 6zM499 219l5 3 5-2-4-5zM538 227l5 1 6-2-5 2zM160 142l5-1 6 2-5-2zM244 156l5 7 5-3-5 0zM264 167l5-6 5 3-5-1zM269 161l4 7 6-1-5-3zM273 168l5-1 6-2-5 2zM505 215l4 5 6 0-5-5zM195 146l5-1 6 4-5-6zM269 163l5 1 5-6-5 5zM308 169l5 6 6-2-5-1zM544 225l5-1 6-5-5 4zM549 224l5 4 6-2-5-7zM161 134l5 1 6 2-5-6zM166 135l5 4 6-4-5 2zM279 158l5 6 6-5-5 3zM501 209l4 3 6-1-5-5zM211 142l5-2 6 2-5-3zM300 164l5-6 5 2-5-2zM320 165l5 3 5-1-5-5zM438 187l4 9 6-8-5 4zM477 202l5-3 5 0-5-2zM497 201l4 5 6-1-5-6zM506 206l5 0 6-3-5 3zM516 205l5 8 6-6-5-2zM526 209l5 5 5-9-5 6zM227 140l5 4 5-5-5 2zM443 192l5-4 5 1-5 1zM448 188l5 4 5-3-5 0zM453 192l5-1 5 0-5-2zM477 197l5 0 6 1-5-3zM502 199l5 6 5-3-5 0zM531 211l5-6 6 5-5-6zM276 154l5-7 6-2-5 3zM286 149l5 3 5 3-4-9zM330 160l5 3 6-1-5 0zM453 189l5 0 6-3-5 1zM458 189l5 2 5-2-4-3zM502 194l5 8 6-8-5 7zM581 216l5-2 5 4-5-5zM188 127l5-1 6 2-5-3zM193 126l5 1 6-2-5 3zM272 145l5 0 5 2-5-5zM282 148l5-3 5 1-5-1zM301 150l5 3 6-4-5 4zM306 153l5 1 6-2-5-3zM311 154l5 0 6 0-5-2zM513 194l5 5 5-3-5 3zM532 205l5-5 6 4-5-3zM233 129l5 8 5-3-5-2zM341 157l5 3 5-5-4 4zM479 186l5 2 5 2-5-9zM489 189l5 1 5-2-5 2zM498 189l5 6 6-4-5-2zM219 126l5 1 5-1-5 2zM327 152l5 0 5 2-5-9zM347 159l4-4 6 0-5 3zM499 188l5 1 5-1-5 0zM504 189l5 2 5-1-5-2zM209 123l5-1 6-5-5 7zM214 122l5 1 6 0-5-6zM234 133l5-9 5 4-5-3zM244 128l5 5 5-6-5 3zM268 138l5-2 6-3-5 0zM283 141l5-3 5 0-4-3zM322 143l5 8 6-2-5-5zM352 158l5-3 5-1-5 1zM210 117l5 7 5-9-5 6zM215 124l5-7 5 3-5-5zM220 117l5 6 5-1-5-2zM274 133l5 0 5 3-5-5zM289 135l4 3 6-2-5 0zM293 138l5-3 6 2-5-1zM343 147l5 1 5 0-5 0zM348 148l4 1 6 0-5-1zM352 149l5 6 6-3-5-3zM357 155l5-1 6 0-5-2zM534 189l5 3 6-1-5-3zM564 195l5 4 5-4-5 0zM593 203l5 2 6-1-5-2zM215 121l5-6 6 2-5-4zM220 115l5 5 5 0-4-3zM230 122l5-3 5 3-5-5zM304 137l5-2 5 1-5-1zM309 135l5 4 5-1-5-2zM314 139l4 0 6-5-5 4zM328 142l5 2 6-2-5-2zM353 148l5 1 5-4-5 5zM491 176l4 4 6-7-5 6zM569 195l5 0 5 1-4-4zM319 138l5-4 5 4-5-6zM348 142l5 1 6 0-5 0zM363 145l5 3 6-1-5 1zM496 179l5-6 5 3-5 0zM501 173l5 9 5-7-5 1zM555 191l5-1 5-5-5 3zM560 190l5 1 5 3-5-9zM570 194l5-2 5 2-5-7zM575 192l4 4 6-4-5 2zM251 118l5-1 5 2-5-2zM280 126l5 0 5-6-5 7zM359 143l5 2 5-4-5 2zM491 174l5 3 6-4-5 0zM511 175l5 4 5-5-4 1zM516 179l5-4 5 4-5-5zM521 175l5 6 5-7-5 5zM555 188l5 0 6-6-5 4zM565 185l5 9 6-6-5-2zM600 198l5-1 5-5-5 4zM619 199l5 2 6-1-5-1zM624 201l5 1 6-2-5 0zM285 127l5-7 6 6-5-9zM315 130l5 1 5-4-5 3zM344 135l5 3 6-2-5-1zM379 149l5 0 5-5-5 2zM531 174l5 7 6-2-5-5zM615 196l5 1 5-1-5-4zM247 107l5 8 5-1-5-4zM291 117l5 9 5-7-5 5zM301 123l5 2 5-1-5-4zM320 130l5-3 6-2-5 5zM325 127l5 3 6-1-5-4zM330 130l5 2 6-2-5-1zM335 132l5-1 5 2-4-3zM360 134l5 4 5-1-5-2zM384 146l5-2 6 1-5-1zM502 168l5 5 6-2-5-1zM542 179l5-3 5 2-5-6zM547 176l4 3 6 0-5-1zM596 191l5-3 5 1-5 0zM615 191l5 1 6 0-5 1zM620 192l5 4 6-1-5-3zM306 120l5 4 5-1-5-3zM331 125l5 4 5-1-5 0zM365 135l5 2 5-1-5-4zM586 185l5-1 6-4-5 2zM611 184l5 10 5-3-5-6zM626 192l5 3 5-1-5-6zM326 124l5 2 6-5-5 2zM370 132l5 4 6-2-5-5zM518 166l5 2 5-2-5 2zM533 172l5-4 5-1-5 2zM641 191l5 4 5-3-5 0zM361 127l5 2 5-2-4 2zM366 129l5-2 5 3-5-3zM391 134l5 2 5 2-5-4zM400 138l5 5 6-5-5 1zM518 163l5 5 6-4-5 3zM548 166l5 7 5-3-5-5zM617 187l5-5 5 4-5-3zM598 178l4 1 6-8-5 6zM328 114l5 0 5 4-5-6zM342 122l5-5 6-3-5 2zM372 124l5 3 5-2-5-4zM544 162l5 0 5 2-5-5zM642 182l5 3 6-4-5 4zM328 111l5 1 5-1-4-1zM367 121l5 1 6-5-5 2zM372 122l5-1 6 2-5-6zM412 135l5-6 5 6-5-7zM540 161l4-1 6-1-5 0zM653 181l4 4 6 0-5-6zM343 110l5 2 6-4-5 5zM348 112l5 5 6-3-5-6zM363 121l5-7 5-2-5 2zM368 114l5 5 5-1-5-6zM373 119l5-2 5-1-5 2zM378 117l5 6 5-2-5-5zM397 125l5 1 6-6-5 4zM402 126l5 1 6 1-5-8zM407 127l5 0 6-5-5 6zM417 128l5 7 5-6-5 1zM545 159l5 0 5-4-5 3zM648 180l5-1 5-5-4 5zM663 185l5-4 5 0-5 1zM668 181l5 4 5 1-5-5zM309 100l5 0 6 3-5-4zM324 103l5 5 5-5-4-1zM368 114l5-2 6 3-5-4zM373 112l5 6 6-2-5-1zM383 116l5 5 5-7-4 5zM413 128l5-6 5 5-5-5zM418 122l4 8 6-7-5 4zM555 155l5 5 6-1-5-3zM590 164l5-1 5 2-5-4zM624 167l5 6 5-2-5 0zM654 179l4-5 6 2-5 0zM305 99l5-3 5 1-5-2zM310 96l5 3 5-1-5-1zM349 111l5-4 6-5-5 6zM379 115l5 1 5-6-5 3zM389 119l4-5 6 1-5-2zM393 114l5 3 6-1-5-1zM398 117l5 4 6-3-5-2zM423 127l5-4 5-2-5 2zM654 174l5 2 5-3-5-1zM669 176l5 3 5-3-5 0zM310 95l5 2 6-2-5-2zM315 97l5 1 6-3-5 0zM340 102l5 1 5-4-5 3zM394 113l5 2 5-1-5-1zM399 115l5 1 5-5-5 3zM571 157l5-3 5-3-5 1zM581 155l5 1 5 2-5-7zM595 158l5 2 6-4-5 1zM635 169l5-4 5-4-5 5zM659 172l5 1 6 0-5-1zM316 93l5 2 5-2-5-2zM321 95l5 0 5 1-5-3zM340 96l5 6 6-5-5 1zM365 101l5 5 5-4-5 4zM370 106l5-2 5 1-5-3zM429 117l5 5 5-1-5-3zM434 122l5-1 5 0-5 0zM566 149l5 4 6 0-5-3zM576 152l5-1 6 1-5 0zM591 158l5-3 5-5-5 3zM596 155l5 2 5 1-5-8zM606 156l5 0 5-1-5 2zM611 156l5 6 5-1-5-6zM630 160l5 4 6-2-5 0zM645 161l5 10 5-7-4 2zM670 173l5-3 5 0-5 1zM375 102l5 3 6-3-5 2zM390 108l5-1 5-1-5-1zM419 116l5-4 6-1-5 1zM611 157l5-2 5 5-4-8zM651 166l4-2 6 1-5-3zM655 164l5 2 6-2-5 1zM386 102l4 3 6-5-5 4zM395 105l5 1 6-1-5-2zM435 113l5 4 5-6-5 4zM445 121l4-3 6 1-5-5zM626 154l5 1 6 2-5-5zM671 164l5 3 5-2-5 1zM366 94l5 3 6-7-5 5zM376 101l5-4 5 0-4-1zM450 114l5 5 5-5-5 1zM607 149l5 1 6-5-5 4zM612 150l5 1 5 1-4-7zM632 152l5 5 5-1-5-5zM647 154l4 7 6-3-5-2zM661 157l5 9 6-4-5-6zM686 167l5-3 5 4-5-5zM701 171l5-2 5-1-5 0zM706 169l4 5 6-3-5-3zM593 148l5-2 5-5-5 2zM618 145l4 7 6-2-5-6zM667 156l5 6 5-6-5 1zM686 162l5 1 6 0-5-2zM706 168l5 0 5-2-5 2zM711 168l5 3 5-4-5-1zM716 171l5-3 5 2-5-3zM441 105l5-1 5 4-5-5zM446 104l5 6 5-5-5 3zM456 115l5-7 5-1-5 5zM598 143l5-2 6-1-5 2zM623 144l5 6 5-2-5-6zM662 153l5 3 6 2-5-7zM672 157l5-1 5 2-5-3zM677 156l5 5 5-8-5 5zM604 142l5-2 5 0-5-1zM618 144l5-3 6 4-5-6zM682 158l5-5 6 1-5 2zM702 163l5-3 5-3-5 4zM707 160l5 2 5-1-5-4zM383 87l5 1 5-4-5 5zM467 110l4-2 6-6-5 5zM609 139l5 1 5 0-5-2zM653 142l5 12 6-6-5-8zM663 148l5 2 5 0-4-2zM698 162l5-6 5-2-5-1zM703 156l4 5 6-2-5-5zM707 161l5-4 6-1-5 3zM727 163l5 0 5-3-5 5zM732 163l5 3 5-1-5-5zM359 81l5-3 5 0-5-3zM374 84l5-5 5 1-5 2zM398 86l5 2 6-3-5 3zM428 93l5 3 5-4-5-1zM433 96l5-3 5 3-5-4zM438 93l4 6 6-3-5 0zM472 107l5-5 5 2-5 0zM619 140l5-6 6 3-5-1zM629 138l5 0 6 1-5-1zM634 138l5 4 5-2-4-1zM644 140l5 2 5-2-5 3zM649 142l5 0 5 3-5-5zM723 156l5 4 5 2-5-6zM364 75l5 3 6-4-5 5zM379 82l5-2 5 1-5-6zM394 77l5 9 5-1-5-4zM404 88l5-3 5-3-5 4zM409 85l4 2 6 1-5-6zM413 87l5 3 6-5-5 3zM433 91l5 1 5 2-5-4zM448 96l5 0 5 0-5-4zM453 96l5 1 5-2-5 1zM477 104l5 0 6-3-5 1zM679 145l5 4 5-1-5-7zM723 156l5 0 5 3-4-6zM738 156l5 7 5-6-5 0z"/><path fill="#094" stroke="#094" d="M146 203l4 1 6-3-5 5zM342 244l5 5 5 0-4-4zM347 249l5-2 5 0-5 2zM77 189l5-6 5 2-4-1zM126 197l5-2 6 1-5-1zM131 195l5 2 6 3-5-4zM180 206l5 1 6 4-5-4zM190 212l5-4 6 2-5 0zM397 258l5-3 5 0-5 1zM92 184l5 2 6-1-5 3zM142 200l4-6 6 3-5-3zM201 210l4-2 6-1-5 5zM328 239l5 0 6-4-5 4zM407 255l5 2 5-6-5 8zM427 255l5 7 5-2-5-1zM73 178l5 1 6-4-5 5zM83 176l5 7 5 0-5-5zM103 185l5-2 5 3-5-2zM157 197l5 1 5-4-5 4zM334 239l5-4 5-4-5 8zM417 251l5 3 6 7-5-12zM427 253l5 6 5 0-4-5zM447 255l5 8 5 1-5-4zM138 190l5-1 5 2-5-1zM172 199l5-4 5 4-5-3zM339 239l5-8 5 1-4 1zM113 182l5-3 6 4-5-4zM123 179l5 6 6-3-5 4zM374 236l5 2 5 3-5-1zM379 238l5 3 5-2-5 2zM423 252l5-4 5 2-4 0zM94 172l5 2 6 0-5 0zM207 200l5-1 6 0-5-1zM360 234l5-3 5 1-5 0zM399 240l5 2 5 0-5-2zM110 174l4 0 6 0-5 2zM144 179l5 4 5 0-5-3zM223 196l5 3 5 4-5-4zM228 199l4 1 6 2-5 1zM341 220l4 7 6-2-5 3zM439 244l5 3 5 2-5-2zM449 251l5-4 5 5-5-6zM454 247l5 5 5-1-5 1zM120 174l5-1 5 2-5-3zM125 173l5 2 5-2-5 2zM135 177l4-3 6 5-5-2zM434 237l5 10 6-3-5-3zM110 170l5-2 6-3-5 6zM209 190l5-2 5 3-5-1zM430 239l5-2 5 4-5-4zM450 243l5 0 5 2-5-4zM455 243l4 3 6-3-5 2zM106 165l5-2 5 2-5-2zM136 168l4 5 6-1-5-1zM185 181l5 2 5-3-5 3zM229 191l5 0 5 3-5-4zM430 237l5 0 6-5-5 7zM475 247l5-5 5 9-5-10zM180 181l5-6 6 3-5-1zM475 244l5-3 5 1-4 0zM122 164l5-6 5 5-5-2zM151 167l5 2 6 1-5-3zM215 180l5 3 5 2-4-6zM220 183l5 1 5-2-5 3zM245 190l5-2 5 0-5 2zM206 174l5 5 5-1-5-1zM417 225l5-2 5-3-4 6zM432 230l5-5 5 2-5-1zM437 225l5 3 5 4-5-5zM442 228l5 2 5-3-5 5zM506 238l5 8 5-1-5-4zM113 153l5 1 5 1-5-3zM167 159l5 10 5-2-5 1zM172 169l5-4 5-1-5 3zM196 170l5 0 6 5-5-4zM383 212l5 2 6 2-5-4zM408 215l5 4 5 2-5-4zM462 229l5 0 5 2-5 1zM467 229l5 3 5 3-5-4zM506 240l5 1 5-5-5 6zM516 245l5 2 5-6-5-6zM182 164l5 4 5-3-4 2zM192 169l5-4 5 6-5-6zM236 177l5 1 6-4-5 6zM266 185l5 0 5-2-5 3zM428 221l5-4 5 5-5-3zM438 219l5 5 5 0-5-1zM443 224l5-2 5 2-5 0zM138 151l5 3 6-2-5 1zM143 154l5 1 6 1-5-4zM232 175l5-4 5 0-5 6zM463 223l5 4 5-5-5 5zM517 230l5 11 5-2-5-5zM139 147l5 6 5-2-5-1zM173 158l5 0 6 3-5-6zM193 159l5 3 5 1-5 0zM208 166l5-1 5 1-5-1zM242 171l5 2 5 2-5-1zM252 176l5-3 5 1-5 2zM414 213l5-6 5 7-4-6zM419 207l5 6 5-1-5 2zM439 215l5 1 5-2-5 6zM493 227l5 3 5-1-5-1zM188 159l5-3 6 5-5-3zM203 163l5-3 6 1-5 2zM223 166l5-2 5 3-5 0zM523 235l5-6 5 4-5-3zM253 166l5 6 5-6-5 7zM268 172l5-1 5 5-5-4zM282 173l5 4 6-1-5 1zM410 205l5-2 5-1-4 3zM459 211l5 7 6 2-5-8zM518 230l5-7 6 7-5-5zM229 160l5 0 5 1-5-1zM435 204l5 5 6-1-5-3zM534 228l4-1 6 1-5 0zM155 139l5 3 6-1-5 3zM165 141l5 4 6-1-5-1zM170 145l5-2 6 3-5-2zM180 145l5 2 5 2-5-2zM185 147l5 1 5-2-5 3zM195 150l5 1 5 4-5-10zM205 152l5-1 5 2-5-2zM214 156l5-4 6 5-5-5zM219 152l5 6 6-2-5 1zM224 158l5-2 6 3-5-3zM229 156l5 4 6-4-5 3zM288 170l5 1 6 2-5-1zM455 210l5-6 6 9-5-7zM529 227l5-6 5 7-5-7zM534 221l5 7 5-3-5 3zM240 156l4 2 6-2-5 3zM279 167l5-2 5 2-5-3zM265 158l5 3 5-4-5 5zM304 171l5-2 5-4-5 6zM451 196l5 10 6-9-5 7zM496 212l5-3 5-3-5 7zM510 209l5 8 6-2-5-2zM530 213l5 9 5-4-5 0zM550 223l5-4 5 5-5-2zM555 219l5 7 5-3-5 1zM167 131l5 6 5 2-5-5zM201 145l5-4 5 1-4 1zM221 145l5 4 5 0-5-3zM250 153l5-1 6 0-5 4zM275 157l5 3 5 1-5-4zM285 162l5-3 5 2-5-1zM290 159l5 3 5 2-5-3zM437 194l5 0 5 3-5-1zM442 194l5 2 5 1-5 0zM462 197l5 5 5 0-5-4zM231 149l5-4 5 0-4 0zM266 147l4 11 6 0-5-9zM275 154l5 3 6 0-5-2zM501 206l5 0 6 0-5-1zM222 142l5-2 5 1-5 0zM261 148l5 1 5 2-5 0zM266 149l5 0 5 5-5-3zM300 160l5-2 6 0-5 0zM482 197l5 2 6 1-5-2zM522 205l5 2 5 2-5-4zM541 211l5 1 6 0-5 0zM581 224l5 1 5-7-5-4zM257 144l5-1 5 7-5-6zM325 162l5-2 6 2-5-1zM478 194l5 1 5-4-5 7zM576 217l5-1 5-3-4 7zM223 135l5 1 5-7-5 9zM292 146l4 9 6-6-5 3zM508 201l5-7 5 5-5-1zM537 200l5 9 6-3-5-2zM586 213l5 5 6 0-5-6zM204 125l4 3 6 2-5-2zM228 138l5-9 5 3-5 1zM272 143l5-1 6 2-5-3zM287 145l5 1 5 0-5 2zM484 188l5 1 5 1-5 0zM503 195l5-2 6 5-5-7zM523 196l5 3 5-2-5 2zM582 211l5 0 5 0-5 1zM587 211l5 1 5 3-5-4zM224 127l5 3 5 3-5-7zM243 134l5-1 6 3-5-3zM302 146l5 1 6-2-5 2zM307 147l5-1 6 4-5-5zM484 181l5 9 5-2-4 0zM553 200l5 1 5 1-5 1zM602 217l5 1 5-9-4-1zM224 128l5-2 5 0-4-1zM327 151l5-6 6 6-5-2zM504 188l5 0 6 0-5 2zM598 204l5 8 5-3-5-1zM249 130l5-3 5 3-4 0zM269 131l5 2 5-2-5 6zM520 189l4-2 6-1-5 3zM529 193l5-4 6-1-5 3zM240 121l5 4 5-1-5-1zM299 136l5 1 5-2-5 4zM486 182l5-6 5 3-5 1zM525 189l5-3 5-2-5 4zM545 191l5-1 5 1-5 0zM604 204l5-2 5 2-5-1zM221 113l5 4 5-3-5 7zM329 139l5 1 5-3-5 5zM241 118l5 1 5-5-5 6zM270 125l5-1 6 1-5-2zM275 124l5 2 5 1-4-2zM319 139l5-7 6 3-5-1zM334 142l5-5 5-2-4 5zM536 181l5 2 5 0-5-1zM575 187l5 7 5 1-5-4zM231 110l5 4 6-3-5 2zM364 143l5-2 5 3-4-3zM369 141l5 4 5-2-5 1zM502 173l5 0 5 3-5-3zM561 186l5-4 5 5-5-1zM571 186l5 2 5-2-5 4zM600 192l5 4 5-1-5-1zM620 197l5 2 5 3-5-6zM306 125l5 1 5 2-5-4zM311 126l4 1 6 0-5 1zM365 138l5 3 5 0-5-4zM517 175l5-4 5 4-5-2zM537 174l5 5 5-7-5 8zM610 195l5-4 6 2-5 1zM257 114l5-4 5 5-5-5zM262 110l5 5 5-2-5 2zM326 130l5-5 5 3-5-2zM336 129l5 1 5 2-5-4zM557 179l5-2 5 7-5-12zM601 189l5 0 5-4-5 6zM621 193l5-1 5-4-5 9zM640 196l5 2 6-1-5-2zM253 106l4 3 6 4-5-10zM292 119l5-5 5 4-5-2zM302 114l5 7 5-1-5-2zM316 123l5-3 6 3-5 0zM375 136l5-2 6 2-5-2zM592 182l5-2 5 5-5-3zM631 188l5 6 5 0-5-3zM636 194l5-3 5 1-5 2zM273 105l5 7 5-6-5 6zM351 126l5 1 6 1-5-2zM356 127l5 0 6 2-5-1zM376 129l5 5 5 0-5-4zM386 136l5-2 5 0-5 1zM538 169l5-2 5 1-5 2zM582 177l5 1 6 1-5-1zM258 100l5 2 6 3-5 0zM283 106l5 3 5 4-5-5zM563 169l5 3 5-1-4-1zM298 111l5-3 5-2-4 4zM387 131l5-2 5-3-5 4zM396 133l5-3 6-1-5 3zM662 187l5 2 5 0-5 0zM279 102l5-1 5-1-5 2zM313 109l5 0 6-2-5 5zM549 159l5 5 6-3-5 3zM579 167l5 2 5 0-5-3zM589 174l5-7 5 1-5 1zM338 111l5-1 6 3-5-2zM393 120l4 5 6-1-5 0zM574 161l5 3 6 2-5-3zM579 164l5 2 6-2-5 2zM594 169l5-1 5-3-5 5zM633 181l5-6 6-1-5 3zM638 175l5 5 6 3-5-9zM354 108l5 6 5-1-5 0zM378 118l5-2 6 3-5-3zM570 157l5 6 5-4-5 3zM619 176l5-9 5 4-4-1zM330 102l4 1 6-1-5 3zM369 112l5-1 5 4-5-5zM374 111l5 4 5-2-5 2zM296 93l5 2 5-4-5 3zM305 96l5-1 6-2-5 3zM409 118l5-1 5 1-5 3zM414 117l5 4 5 0-5-3zM674 176l5 0 5 2-4 0zM684 179l5-3 5 1-5 5zM345 102l5-3 6 7-5-9zM404 114l5-3 6 8-5-7zM424 121l5-4 5 1-5 0zM571 153l5-1 6 0-5 1zM586 151l5 7 5-5-4 2zM601 157l5-1 5 1-5 1zM321 91l5 2 5-2-4 3zM341 95l5 3 5-1-5 2zM346 98l5-1 5 5-5-5zM636 162l5 0 5 1-5-2zM425 112l5-1 5 1-5 2zM631 155l5 5 6 0-5-3zM661 165l5-1 5 0-5 2zM352 93l5-1 5 4-5-3zM361 94l5 0 6 1-5 2zM391 104l5-4 5 5-5-4zM406 105l5 0 5 0-5 0zM440 115l5-4 5 2-5 2zM647 150l5 6 5 4-5-6zM343 83l5 3 5-5-5 7zM372 91l5 1 6 0-5 2zM392 92l5 7 5-1-5-2zM667 156l5 1 5-2-4 3zM692 161l5 2 5 0-5-2zM716 166l5 1 6 4-5-5zM333 81l5-4 6 5-5-1zM338 77l5 7 6-4-5 2zM353 81l5 4 5 2-5-3zM437 104l5-3 5 5-5-6zM461 112l5-5 5 1-4 2zM628 142l5 6 6-1-5-2zM663 153l5-2 5 3-5-4zM692 159l5 2 6-5-5 6zM339 74l5 1 6 1-5-2zM462 102l5 2 5 0-4-1zM639 142l5-2 5 3-5-3zM669 148l4 2 6-5-5 4zM688 153l5-1 6 3-5-5zM708 154l5 5 5-1-5-2zM713 159l5-3 5 0-5 2zM350 76l4-3 6 3-5-3zM354 73l5 2 6 2-5-1zM359 75l5 0 6 4-5-2zM428 91l5 0 5-1-4 2zM649 143l5-3 6-1-5 2zM674 149l5-4 5-4-5 7z"/><path fill="#0b3" stroke="#0b3" d="M150 204l5 3 6-5-5-1zM141 199l5 4 5-8-5-1zM382 253l5 1 5-6-5 2zM63 182l5-4 5 0-5-4zM73 181l5 2 5-7-5 3zM305 228l5 2 5 0-5-8zM437 259l5-4 6-4-5-1zM227 208l4 0 6-4-5 0zM433 253l5 0 5-7-5 1zM183 193l5 4 5-6-5-6zM320 228l5 0 6-5-5-4zM330 226l5 3 6-9-5 2zM424 245l5 5 5-9-5-1zM429 250l4 0 6-6-5-3zM238 202l5-2 5-2-5-3zM375 230l5 5 6-12-5 2zM228 196l5 0 6-5-5 0zM233 196l5 1 6-3-5-3zM337 221l5-1 5-2-5-5zM484 249l5 3 5-4-5-3zM219 191l5-3 5 0-5-5zM386 224l5 4 6-7-5 2zM391 228l5-2 5-2-4-3zM406 231l5-1 5-3-5 0zM121 170l5-3 6-9-5 0zM136 167l5 4 5-10-5 5zM357 218l5 3 6-8-5-4zM372 217l5 1 6-5-5-1zM377 218l5 0 6-3-5-2zM382 218l5 4 6-7-5 0zM431 231l5-1 6-2-5-3zM422 223l5 4 5-7-5 0zM157 163l5 2 5-7-5 3zM378 214l5-2 6 0-5-5zM511 241l5 4 5-10-5 1zM217 173l4 1 6-3-5-3zM256 181l5 7 5-10-5-4zM408 221l5-4 6-9-5 4zM413 217l5 4 5-7-4-6zM487 229l5 8 5-6-5-4zM129 150l4 3 6-6-5 1zM281 183l5 0 6-6-5 3zM394 204l5 4 6-2-5-6zM449 214l5 4 5-7-5 0zM469 221l5-1 5-3-5-2zM518 228l5 7 5-5-5-7zM533 232l4 5 6-8-5 1zM400 207l5-6 6-1-5-6zM533 233l5-3 5-2-5-1zM170 146l5 3 5-4-5-2zM263 166l5 6 5-4-4-7zM293 176l5-1 5 1-5-7zM455 211l5 4 5-8-5-3zM190 148l5 2 5-5-5 1zM278 167l5 6 6-8-5 0zM303 176l5-2 5 1-5-6zM416 200l5 1 5-6-5-2zM446 208l4-1 6-9-5 6zM450 207l5 3 6-4-5-8zM274 164l5 3 5-3-5-6zM211 149l4 0 6-4-5-2zM422 199l5-4 5-5-5 1zM427 195l5 2 5-3-5-4zM255 152l5 5 6-10-5 5zM452 194l5 10 5-12-5 1zM506 206l5 5 5-6-5 1zM560 224l5-1 5-7-5 0zM315 164l5 1 5-3-5-2zM197 139l5-2 5-4-4-6zM325 162l5 5 5-4-5-3zM438 190l5 2 5-2-5-4zM497 204l5-5 5 3-5-8zM448 190l5-1 6-2-5-3zM507 202l5 0 6-3-5-5zM228 136l5 1 5 0-5-8zM336 162l5 0 5-2-5-3zM341 162l5 4 5-4-5-2zM473 188l5 4 6-4-5-2zM488 191l5 4 5-6-4 1zM213 132l5-2 6-3-5-1zM331 156l5 3 6-5-5-5zM538 201l5 3 5-11-5 5zM543 204l5 2 5-6-5-7zM233 133l5-1 6-4-5-4zM288 138l5 7 5-10-5 3zM337 154l5-3 6-3-5-1zM342 151l5 6 5-8-4-1zM230 125l4 1 6-5-5-2zM298 135l5 9 6-9-5 2zM485 183l5-3 5 0-4-4zM569 199l5 0 5-6-5 2zM574 199l5 4 5-6-5-4zM318 139l5 5 6-5-5-5zM343 147l5 1 5-5-5-1zM358 149l5 3 5-4-5-3zM226 117l4 3 6-9-5 3zM230 120l5-3 6 1-5-7zM516 181l4 0 6 0-5-6zM520 181l5 2 6-9-5 7zM525 183l5 5 6-7-5-7zM246 119l5-1 5-1-5-3zM285 126l5 4 5-3-5-7zM339 137l5 6 5-5-5-3zM344 143l5-2 5-7-5 4zM349 141l5 2 5 0-5-9zM605 197l4 2 6-3-5-4zM276 123l5 2 5-8-5 3zM281 125l4 2 6-10-5 0zM320 131l5 3 5-4-5-3zM354 134l5 9 6-5-5-4zM497 173l5 0 5 0-5-5zM517 175l4-1 6-2-5-1zM296 126l5-3 5-3-5-1zM379 143l5 3 6-2-5-7zM601 188l4 6 6-10-5 5zM242 105l5 9 6-8-5-2zM296 124l5-5 6 2-5-7zM390 144l5 1 5-5-5 0zM513 171l4-2 6-1-5-2zM361 131l5 2 5-6-5 2zM366 133l4-1 6-3-5-2zM385 140l5-3 6-1-5-2zM538 168l5 7 5-9-5 1zM616 185l5 6 6-3-5-6zM528 166l5 1 6-1-5-8zM568 175l5 2 5-11-5 8zM317 119l5-2 6-3-5-4zM322 117l5 0 6-3-5 0zM396 134l5 4 5-8-5 0zM401 138l5 1 5-7-5-2zM543 170l5-2 6-8-5 2zM553 165l5 5 6-4-5-4zM602 179l5 0 6-2-5-6zM318 116l5-6 5 1-5-4zM347 117l5 5 6-6-5-2zM352 122l5 1 6-8-5 1zM357 123l5 0 5-2-4-6zM534 162l5 5 5-7-4 1zM539 167l5-5 5-3-5 1zM407 129l5 6 5-7-5-1zM648 185l5-4 5-2-5 0zM304 107l5-3 5-4-5 0zM309 104l5 4 5-5-5-3zM305 102l4-2 6-1-5-3zM658 174l5 8 6-6-5 0zM384 116l5 3 5-6-5-3zM580 159l5 1 6-8-5 4zM585 160l5 2 5-4-4-6zM595 161l5 4 5-7-5 2zM345 103l5 3 5-3-5-4zM360 102l4 9 6-5-5-5zM423 123l5 0 6-1-5-5zM576 154l5 1 5-4-5 0zM625 168l5-2 5-2-5-4zM650 171l5-4 5-1-5-2zM424 112l5 6 6-5-5-2zM572 150l5 3 5-6-5-2zM390 105l5 0 6-2-5-3zM440 117l5 4 5-7-5-3zM621 160l5-6 6-2-5-2zM651 163l5-1 5-5-5 1zM680 169l5 2 6-7-5 3zM685 171l5 0 6-3-5-4zM371 97l5 4 6-5-5-6zM592 145l5 8 6-11-5 4zM597 153l5-4 6-7-5 0zM602 149l5 0 6 0-5-7zM642 160l5-6 5 2-5-6zM681 165l5 2 5-4-5-1zM382 96l4 1 6-5-5 1zM588 142l5 6 5-5-5-1zM436 107l5-2 5-2-4-2zM618 151l5-7 5-2-5-1zM638 154l5-4 5-5-5 0zM682 161l5 1 5-3-5-6zM609 140l5 6 5-10-5 4zM614 146l4-2 6-5-5-3zM388 88l5 0 5-2-5-2zM393 88l5 4 5-4-5-2zM471 108l5 7 6-6-5-7zM476 115l5-2 6-7-5 3zM624 139l5 6 5-7-5 0zM644 146l4 1 6-5-5 0zM717 161l5-1 6 0-5-4zM349 73l5 11 5-9-5-2zM383 82l5 7 6-12-5 8zM388 89l5-5 6 2-5-9zM403 88l5 2 5-3-4-2zM614 138l5 2 6-4-5-1zM443 96l5 0 5-4-5-2zM718 158l5-2 6-3-5-1zM733 162l5-6 5 1-5-4z"/><path fill="#0b4" stroke="#0b4" d="M170 208l5 5 5-7-4 0zM357 251l5 3 5-9-5 3zM289 234l4 3 6-4-5-3zM78 183l5 1 5-1-5-7zM102 188l5 4 6-7-5-2zM412 257l5 3 5-6-5-3zM441 266l5-3 6 0-5-8zM113 186l5 2 5-9-5 0zM118 188l5 0 5-3-5-6zM433 254l4 5 6-9-5 3zM212 207l5-3 5-6-5 2zM217 204l5 5 5-8-5-3zM222 209l5-1 5-4-5-3zM198 195l4 10 6-14-5 2zM365 232l5 0 5-2-4-5zM149 180l5 3 6-4-5-4zM380 235l5 2 6-12-5-2zM474 255l5-7 6-1-5-5zM214 190l5 1 5-8-4 2zM347 218l5 3 5-3-5-5zM141 171l5 1 5-5-5-6zM186 177l5 1 5-6-5 0zM191 178l4 3 6-7-5-2zM195 181l5-1 6-6-5 0zM446 235l5 2 5-7-4-1zM157 167l5 3 5-11-5 6zM162 170l4 0 6-1-5-10zM221 179l4 6 6-9-5 1zM225 185l5-3 6-2-5-4zM235 185l5 1 6-7-5 0zM397 218l5 7 6-10-5 2zM427 227l5 3 5-4-5-6zM212 176l5-3 5-5-5 1zM276 188l4 5 6-8-5 0zM477 235l5-3 5-3-5-4zM492 237l5-2 5-5-5 1zM507 241l4 1 6-12-5 4zM183 164l5 3 5-8-5-3zM188 167l4-2 6-3-5-3zM404 209l5 2 6-3-5-4zM522 234l5 5 6-7-5-3zM474 220l5 6 5-8-5-1zM175 149l5 4 5-6-5-2zM288 177l5-1 5-7-5 2zM298 175l4 8 6-9-5 2zM460 215l5-3 5-2-5-3zM475 217l4 1 6-4-5-6zM504 222l5 3 5-9-5 4zM156 140l5 4 5-9-5-1zM181 146l4 1 6-8-5 1zM185 147l5 2 6-5-5-5zM225 157l5-1 5-6-5 0zM475 209l5 5 6-10-5 1zM500 215l5 3 5-9-5 3zM284 164l5 3 6-5-5-3zM432 197l5 3 5-6-5 0zM260 157l5-1 5 2-4-11zM457 204l5-7 5 1-5-6zM486 207l5 2 6-8-5-1zM531 214l5 2 5-5-5-6zM187 133l5 5 6-8-5 0zM192 138l5 1 6-12-5 3zM232 144l5 1 5-4-5-2zM251 150l5 0 6-7-5 1zM276 158l5-3 5-6-5-2zM281 155l5 2 5-5-5-3zM492 203l5 1 5-10-4 4zM576 220l5 4 5-10-5 2zM188 135l5-5 5-3-5-1zM566 215l5 4 6-10-5 2zM493 195l5 4 5-4-5-6zM326 159l5-3 6-7-5 3zM303 144l5-2 6-3-5-4zM603 208l5 1 5-5-4-2zM245 123l5 1 6-7-5 1zM614 204l5 2 5-5-5-2zM609 199l5 5 6-7-5-1zM236 114l5 5 6-12-5 4zM295 127l5 3 6-5-5-2zM335 137l5 3 5-7-5-2zM541 182l5 1 5-4-4-3zM291 122l5 2 6-10-5 0zM331 126l5 2 5-4-4-3zM539 166l4 4 6-8-5 0zM313 112l5 4 5-9-5 2zM333 112l5 6 5-8-5 1zM338 118l5 0 5-6-5-2zM387 126l5 4 5-5-4-5zM564 172l5-6 5-5-5-3zM569 166l5 4 5-6-5-3zM388 121l5 1 5-5-5-3zM663 182l5 0 6-3-5-3zM634 171l5 6 6-10-5-2zM679 181l4 4 6-9-5 3zM683 185l5 1 6-8-5-2zM335 105l5-3 5 0-5-6zM620 166l5 2 5-8-5 2zM664 173l5 6 6-9-5 3zM621 161l5 2 5-8-5-1zM660 166l5 7 6-9-5 0zM361 100l5 1 5-4-5-3zM436 108l5 6 5-10-5 1zM348 86l5 4 5-5-5-4zM702 166l4 0 6-4-5-2zM712 162l5 6 5-8-5 1zM339 81l5 1 5-9-5 2zM368 83l5 9 6-13-5 5zM639 147l5-1 5-4-5-2zM472 104l5 0 6-2-5-4z"/><path fill="#1b2" stroke="#1b2" d="M205 214l4 3 6-4-5 1zM316 219l4 9 6-9-5 6zM243 200l5 0 5-3-5 1zM352 213l5 5 6-9-5 2zM264 193l5 2 6-3-5-1zM286 183l5 2 6-4-5-4zM385 204l5-2 5 1-5-2zM390 202l4 2 6-4-5 3zM287 180l5-3 5-1-5-1zM313 175l5 2 6-10-5 6zM428 190l5 2 5-2-5-2zM281 147l5 2 6-3-5-1zM443 186l5 4 6-6-5-2zM476 176l5 0 5 0-5-2zM481 174l5 2 5-2-4-1zM439 121l5 3 5-6-5 3zM455 119l5-1 5-5-5 1zM619 136l5 3 5-1-5-4zM477 102l5 7 5-6-5 1z"/><path fill="#2c0" stroke="#2c0" d="M209 217l5 1 6-7-5 2zM237 204l5-1 5-5-5 0zM353 207l5 5 6-6-5-2zM412 193l5-1 5-3-5-3zM584 142l4-1 6-4-5-2zM605 133l5 2 5-5-4 0z"/><path fill="#5c0" stroke="#5c0" d="M214 218l5 1 6-10-5 2zM410 139l5 6 5-9-5 2zM520 149l5 11 5-13-5 3zM442 129l5 5 5-4-4-3zM531 147l5 7 5-7-5-1zM464 131l5-7 5-5-5 3zM563 138l5 6 5-8-5-2zM590 134l5-2 5-3-5 0zM595 129l5 0 6-3-5-2z"/><path fill="#7c0" stroke="#7c0" d="M219 219l5-5 6-5-5 0zM436 134l5-5 6-1-5-1zM452 130l5-2 6-6-5-2zM469 124l5 3 5-5-5-3z"/><path fill="#4c0" stroke="#4c0" d="M273 229l5 7 6-6-5-4zM279 226l5 4 5-4-5-8zM242 203l5 1 5-6-5 0zM302 183l4-4 6-3-5-1zM386 192l4 7 6-4-5-9zM323 175l5-4 5-5-5 3zM407 187l5 6 5-7-4-4zM439 180l5 1 5-1-5-9zM383 154l5-2 5-6-5 2zM477 168l5 0 5-4-5-2zM432 133l5 0 5-4-5-1zM536 154l4 0 6-6-5-1zM568 144l5 0 5-2-5-6zM475 117l5 0 5-1-5-7zM579 139l5 3 5-7-5-2z"/><path fill="#1b1" stroke="#1b1" d="M278 236l5-5 6 3-5-4zM210 214l5-1 5-3-5 3zM332 215l5 6 5-8-5 3zM254 199l4-4 6-4-5 4zM342 213l5 5 5-5-5-1zM347 212l5 1 6-2-5 1zM270 191l5 1 5-6-5 5zM364 206l4 8 6-10-5 4zM374 205l5 2 6-3-5 0zM380 204l5 0 5-3-5-1zM292 177l5 4 5-1-5-4zM385 200l5 1 5-3-5 1zM401 198l5-4 5 4-5-5zM313 175l5 3 5-3-5 2zM406 193l5 5 5-3-4-2zM324 171l5-1 5-4-5 1zM329 167l5-1 6 2-5-4zM335 164l5 4 5-4-5 1zM433 188l5 2 5-4-4 0zM439 186l4 0 6-4-5-1zM346 166l5-1 5-7-5 4zM454 186l5-5 6 0-5-3zM351 155l5 5 6-6-5 1zM460 178l5 3 5-2-5-3zM357 155l5-1 5-2-5 2zM465 178l5 0 6-2-5 0zM368 154l5-4 5-1-5-2zM471 176l5 0 5-2-5-1zM368 148l5-1 5-4-4 4zM373 147l5 2 5 5-5-11zM378 143l5 11 6-8-5 3zM487 173l4 1 6-1-5-6zM384 149l5-3 5-2-5 0zM492 167l5 6 5-5-5 0zM395 145l5-1 5-3-5-1zM411 132l5 2 6 2-5-7zM529 156l5 6 6-1-5-4zM417 129l5 7 5-8-5 7zM535 157l5 4 5-2-5-5zM422 135l5-7 5-1-5 2zM540 154l5 5 5-1-5-6zM427 129l5-2 6 0-5-1zM545 152l5 6 6-8-5 5zM428 123l5 3 5-2-5-3zM433 126l5 1 5-3-5 0zM551 155l5-5 5 0-5-1zM438 124l5 0 5-2-4 2zM444 124l4-2 6 1-5-5zM562 145l4 4 6 1-5-5zM449 118l5 5 5-6-5 3zM567 145l5 5 5-5-5 2zM572 147l5-2 6-4-5 2zM460 114l5-1 6-1-5-1zM583 142l5 0 5 0-5-1zM466 111l5 1 5-2-5 2zM481 113l5-3 6 0-5-4zM599 133l5 5 6-3-5 1zM482 109l5-3 5-1-5-2zM605 136l5-1 5-5-5 5zM610 135l4 3 6-3-5-5z"/><path fill="#087" stroke="#087" d="M426 270l5-3 5 0-5 3zM408 252l5 2 5-2-5 0zM168 196l5-3 5 0-5 0zM375 238l5-5 5 4-5-2zM367 225l4 2 6 0-5-5zM451 241l5-2 5 0-5 1zM398 219l5-2 5 4-5 0zM134 152l5-4 6 2-5-1zM498 228l5 1 5 1-4-1zM471 207l5 3 5 0-5-4zM550 224l5-2 5 0-4 0zM212 142l5-3 5 8-5-7zM519 193l5 6 5 1-5-5zM524 199l4 0 6-3-5 4zM544 199l5 0 5 1-5 1zM500 185l5-2 6 2-5-3zM540 189l5 2 5 3-4-7zM545 191l5 0 5-3-5 6zM596 190l5-1 5 2-4-3zM567 184l5-6 5 5-4-6zM608 178l5-1 6 2-5-4zM613 177l5 1 6 0-5 1zM618 178l5 1 5 2-4-3zM623 179l5 3 5-1-5 0zM322 93l5 1 5-2-5 1zM327 85l5 4 6-2-5 3zM357 93l5 3 5-4-5 3zM368 86l5 6 5 1-5-1zM422 101l5 4 5-3-5 0z"/><path fill="#086" stroke="#086" d="M431 267l5 3 5 1-5-4zM196 210l5 0 5 2-5 0zM353 244l5 0 5 1-5 1zM373 244l5 3 5 1-5-2zM393 250l5-4 6 6-5-7zM158 194l5-3 5 5-5-4zM197 202l5-1 5-1-5 5zM80 169l4 5 6 0-5 0zM159 186l5 1 5-1-5 3zM213 198l5 1 5 3-5-4zM464 251l5 0 5 4-5-6zM165 179l5-1 5 4-5-3zM440 241l5-4 6 4-5 2zM240 188l5 2 5 0-5 1zM461 239l5-2 5 1-5 3zM250 190l5-2 5 2-5-1zM123 158l5-3 5 4-5-1zM137 162l5-2 6 2-5 0zM246 182l5-2 5 7-5-7zM458 225l5-2 5 4-5 0zM237 177l5-6 5 3-4-1zM139 148l5 2 6 0-5 0zM248 174l5-8 5 7-5-4zM508 230l5-5 6 3-5 0zM519 225l5-3 6 2-5 0zM171 143l5 1 5 0-5 1zM235 159l5-3 5 3-5-1zM249 160l5 0 6 5-5-5zM530 224l4-3 6 5-5-4zM294 166l5 4 5-4-5 6zM187 141l5-5 5 3-5-1zM217 139l5 3 5-1-5 6zM557 212l4 3 6 2-5-6zM557 210l5 1 5 0-5 0zM258 137l5 2 5-1-5 2zM499 188l5 0 6 2-5-1zM584 195l5 7 6-6-5 6zM552 175l5 2 6 3-5-6zM606 191l5-6 6 2-5 2zM278 112l5-6 5 2-5 5zM583 175l5 3 5 3-5-7zM588 178l5 1 5-4-5 6zM609 169l5 6 5 1-5-4zM334 109l5-1 5 5-5-4zM339 108l5 3 5 0-5 2zM634 174l5 3 5 1-5-1zM409 111l5 10 5-5-4 3zM327 94l4-3 6 4-5-3zM331 91l5 4 6-1-5 1zM323 86l4-1 6 5-5-6zM401 105l5-4 6 5-5-2zM367 92l5-1 6 3-5-2zM421 103l5 1 6 2-5-1zM442 100l5 6 5-4-5 4zM668 150l5 4 5 6-5-10zM664 148l5 0 5 1-5 1zM748 168l5 2 5-10-5 3z"/><path fill="#077" stroke="#077" d="M436 270l4 4 6 2-5-5zM673 154l5 0 5 1-5 5z"/><path fill="#065" stroke="#065" d="M440 274l5-6 6 2-5 6zM742 165l5 2 6 3-5-2z"/><path fill="#3a0" stroke="#3a0" d="M215 213l5-2 5 3-5-4zM311 215l5 4 5 6-5-10zM280 186l5 0 5-3-5 5zM285 188l5-5 6 2-5 4zM364 197l5 11 5-3-5-4zM307 175l5 1 5 1-5 3zM324 167l4 2 6 1-5 0zM417 186l5 3 6 1-5-5zM340 168l5-6 5 2-5 0zM361 162l5-12 6 2-5 7zM450 175l5 3 5 0-5-3zM367 159l5-7 5 3-5 1zM372 156l5-1 5-2-5 4zM487 164l5 3 5 1-5-4zM405 141l5-2 5-1-5 6zM416 134l5 3 5 6-5-9zM530 147l5 7 5 0-4 0zM443 126l5 1 5-4-5 8zM453 122l5 4 6 5-5-6zM557 148l5-3 5 0-5 1zM557 143l5 3 5 2-5-4zM573 136l5 6 6 0-5-3zM475 114l5-5 6 5-5-3zM486 110l5-1 6 4-5-3zM594 133l5 0 6 3-5-3z"/><path fill="#1c1" stroke="#1c1" d="M284 230l5 4 5-4-5-4zM321 225l5-6 5 0-5-5zM286 185l5 4 5-10-5 6zM356 160l5 2 6-3-5-5zM503 168l5 2 5-9-5 2zM405 143l5 1 6-10-5 4zM577 145l5 2 6-4-5-2zM460 118l5 3 5-5-5-3zM588 141l5 1 6-4-5-1z"/><path fill="#098" stroke="#098" d="M431 270l5-3 5-1-4-3zM441 271l5 5 5-7-5-6zM163 192l5 4 5-3-4-7zM218 198l5 4 5-6-4 2zM161 177l4 2 6-6-5 0zM446 243l5-2 5-1-5-3zM456 240l5-1 5 2-5-8zM393 223l5-4 5 2-5-7zM140 149l5 1 5-7-5 3zM504 229l4 1 6-2-5-3zM253 169l5 4 6-6-5 0zM466 213l5-3 5 0-5-3zM182 139l5 2 5-3-5-5zM551 220l5 2 5-2-5-1zM562 211l5 0 6-2-5-2zM549 201l5-1 5-4-5-1zM259 130l5 5 6-6-5 1zM610 166l5 1 6-1-5-4zM356 106l4 0 6-5-5-1zM627 154l5 5 6-5-5-3zM678 160l5-5 6-3-5-3zM669 150l5-1 5-1-5-5z"/><path fill="#0b5" stroke="#0b5" d="M58 182l5 0 5-8-5 0zM166 201l5 9 5-13-4 2zM171 210l5-6 5-3-5-4zM335 229l5 4 5-6-4-7zM385 237l5-3 6-2-5-7zM387 222l5 2 5-6-4-3zM402 225l5-3 6-3-5-4zM239 165l4 2 6-4-5-7zM442 202l4 2 6-10-5 2zM209 128l5 2 5-7-5-1zM553 203l5 0 6-8-5 1zM241 119l5 1 6-5-5-8zM278 112l4 4 6-7-5-3zM573 177l4 6 6-8-5-9zM637 191l5-1 5-5-5-3zM588 174l5 7 6-11-5-3zM559 167l5 5 5-14-4 1zM314 108l5 4 5-9-5 0zM619 179l5-1 5-5-5-6zM351 97l5 5 5-8-4-2z"/><path fill="#2a0" stroke="#2a0" d="M220 210l5 4 6-3-5 5zM294 222l5 3 6 3-5-7zM231 209l5-4 5 0-5 8zM242 198l5 0 6-2-5 4zM248 200l5-4 5 5-5-4zM302 180l5-5 5 5-5-4zM407 192l5 1 5-1-5 1zM378 149l5 5 5-6-5 6zM389 146l5 0 5 4-5-6zM508 163l5-2 5 2-4-3zM416 134l5 0 5-3-4 5zM438 127l5-1 5 5-5-7zM448 122l5 0 6 3-5-2zM562 146l5-1 5 2-5 1zM459 117l5 5 6-3-5 2zM578 142l5 0 5-1-4 1z"/><path fill="#4b0" stroke="#4b0" d="M225 214l5-4 5-3-4 4zM247 198l5 0 5 0-4-2zM321 212l5 2 6 1-5-6zM327 209l5 6 5 1-5-11zM332 205l5 11 5-3-4-6zM269 199l5-9 5-1-5 4zM274 193l5-4 5-6-4 9zM318 178l5-6 5-1-5 4zM396 189l5 5 6-2-5-2zM402 190l5 2 5 1-5-6zM334 170l5-5 5-2-5 3zM413 182l4 4 6-1-5-4zM418 181l5 4 5-1-5-5zM351 165l4-6 6-2-5 1zM444 171l5 9 6-2-5-3zM461 174l4 4 6-2-5-8zM471 171l5 2 6-5-5 0zM388 148l5-2 6 0-5 0zM482 162l5 2 5 0-4-2zM399 150l5-6 5-1-5 2zM488 162l4 2 6 0-5-4zM404 145l5-2 6 2-5-6zM493 160l5 4 5-1-5-4zM498 159l5 4 6-2-5-5zM504 156l5 5 5 0-5-5zM509 156l5 5 5-9-5 5zM514 157l5-5 6 8-5-11zM437 128l5 1 6-2-5-1zM541 147l5 1 5-4-5 0zM448 131l5-8 5 3-5-4zM464 122l5 0 5-4-4 1zM470 119l4-1 6-1-5 0zM486 114l5-1 5 2-5-6zM584 133l5 2 5-2-5-2zM491 109l5 6 5-8-4 6zM589 131l5 2 6 0-5-1zM497 113l4-6 6-3-5 4zM595 132l5 1 5 0-5-4zM600 129l5 4 6-3-5-4z"/><path fill="#5b0" stroke="#5b0" d="M284 218l5 8 5-4-4-7zM231 211l4-4 6-4-5 2zM290 215l4 7 6-1-5-4zM295 217l5 4 5 0-5-10zM375 189l5 8 6-5-5 0zM339 166l5-3 6-1-5 0zM345 162l5 0 5-4-5 6zM423 179l5 5 6-3-5-3zM350 164l5-6 5 0-5 1zM429 178l5 3 5-1-5-5zM355 159l5-1 6 0-5-1zM439 172l5-1 6 4-5-6zM445 169l5 6 5 0-5-10zM372 152l5 2 5-6-5 7zM450 165l5 10 6-1-5-9zM377 155l5-7 5-3-5 8zM466 166l5 5 6-3-5-3zM415 138l5-2 6-3-5 4zM431 138l5-4 6-7-5 6zM541 149l5-5 6 7-5-13zM547 138l5 13 5-8-5 1zM469 122l5-3 5 0-5-1zM558 144l4 0 6 0-5-6zM474 118l5 1 6-4-5 2zM480 117l5-2 5 0-5 1zM485 116l5-1 6 2-5-4zM574 134l5 5 5-6-5 3zM491 113l5 4 5-3-5 1zM579 136l5-3 5-2-4 0zM496 115l5-1 5 3-5-10zM507 104l5 6 5-2-5 0z"/><path fill="#3c0" stroke="#3c0" d="M289 226l5 4 5-5-5-3zM305 221l5 1 6-3-5-4zM316 215l5 10 5-11-5-2zM275 192l5 0 5-6-5 0zM291 189l5-4 5-2-5-4zM318 177l5-2 5-6-4-2zM482 168l5 5 5-6-5-3zM410 144l5-6 6-1-5-3zM525 160l5 1 5-7-5-7zM546 148l5 7 5-6-5-5zM443 124l5 7 5-9-5 0zM552 151l5-3 5-2-5-3zM454 123l5 2 5-3-5-5zM459 125l5 6 5-9-5 0z"/><path fill="#0b2" stroke="#0b2" d="M294 230l5 3 5-2-5-6zM221 212l5 4 5-7-5 0zM310 222l5 8 5-2-4-9zM438 253l5-3 5-3-5-1zM232 204l5 0 5-6-5 6zM326 219l5 4 5-3-5-1zM424 244l5-4 5-3-4 3zM184 186l5-1 5 0-5-5zM238 197l5-2 6-5-5 4zM243 195l5 3 6 1-5-9zM254 192l5 3 5-2-5-4zM259 189l5 4 6-2-5-3zM265 188l5 3 5 0-5-7zM358 212l5 1 5 1-4-8zM447 230l5-1 5-6-5 4zM452 229l4 1 6-1-5-6zM368 214l5-6 6-3-5-1zM373 208l5 6 6-7-5-2zM427 220l5 0 6-1-5-2zM280 193l5-5 6 1-5-4zM222 168l5 3 5-8-5 5zM379 207l5-1 6-4-5 2zM384 206l5 1 5-3-4-2zM497 231l5-1 6 0-5-5zM302 183l5-7 6-1-5-1zM298 169l5 7 5-7-5-1zM411 198l5 2 5-7-5 2zM309 169l5 3 5-10-5 3zM314 172l5 1 5-2-5-9zM565 223l5-4 5 2-5-5zM511 206l5-1 6 0-5-2zM193 130l5 0 5-3-5 0zM346 160l5 2 5-2-5-5zM459 181l5 6 5-5-4-1zM470 178l5 5 6-7-5 0zM363 152l5 2 5-7-5 1zM610 192l5 4 5-4-5-1zM248 104l5 2 5-3-5-1zM390 137l5 3 5-2-4-2zM523 168l5-2 6-8-5 6zM524 167l5-3 5-2-5-6zM548 168l5-3 6-3-5-2zM560 161l5-2 5-2-5-2zM422 130l5-1 6-3-5-3zM550 158l5-3 6 1-5-6zM556 150l5 6 5-3-5-3zM582 147l5 3 5-5-4-2zM455 115l5-1 6-3-5-3zM593 142l5 1 6-1-5-4zM599 138l5 4 5-3-5-1zM604 138l5 1 5-1-4-3zM648 147l5-5 6-2-5 2zM712 157l5 4 6-5-5 0z"/><path fill="#091" stroke="#091" d="M323 226l5 13 6 0-5-5zM275 191l5-5 5 2-5 5z"/><path fill="#2b0" stroke="#2b0" d="M226 216l5-5 5-6-5 4zM253 197l5 4 5-4-5-2zM258 195l5 2 6 2-5-8zM264 191l5 8 5-6-5 2zM342 213l5-1 6 0-5-4zM269 195l5-2 6-1-5 0zM348 208l5 4 5 0-5-5zM297 181l5 2 5-8-5 5zM307 176l5 4 6-2-5-3zM396 195l5 3 5-5-5 1zM401 194l5-1 6 0-5-1zM423 185l5 5 5-2-5-4zM455 178l5 0 5-2-5 2zM362 154l5 5 5-3-5-4zM367 152l5 4 5 1-4-7zM373 150l4 7 6-3-5-5zM476 173l5 1 6-1-5-5zM383 154l5-6 6-2-5 0zM394 144l5 6 5-5-4-1zM492 164l5 4 6 0-5-4zM411 138l5-4 5 0-5 0zM422 136l4-5 6 2-5-5zM535 154l5 0 5-2-5 2zM540 154l5-2 6 3-5-7zM573 144l5-1 5-1-5 0zM465 113l5 3 5-2-4-2zM471 112l4 2 6-3-5-1zM487 106l5 4 5-3-5-2zM600 133l5 3 5-1-5-2zM492 105l5 2 5-3-5 0z"/><path fill="#191" stroke="#191" d="M319 229l5-3 5 7-5-4z"/><path fill="#3b0" stroke="#3b0" d="M300 221l5 7 5-6-5-1zM236 213l5-8 6-1-5-1zM359 204l5 2 5 2-5-11zM369 201l5 4 6-1-5-7zM296 179l5 4 5-4-4 4zM375 197l5 7 5-4-5-3zM380 197l5 3 5-1-4-7zM312 180l5-3 6-5-5 6zM329 170l5 0 5-4-5 0zM334 166l5 0 6-4-5 6zM428 184l5 4 6-2-5-5zM345 164l5 0 5-5-4 6zM434 181l5 5 5-5-5-1zM455 175l5 3 5 0-4-4zM377 157l5-4 6-1-5 2zM466 168l5 8 5-3-5-2zM400 144l4 1 6-6-5 2zM498 164l5 4 5-5-5 0zM503 163l5 0 6-3-5 1zM509 161l5-1 5-2-5 3zM514 161l5-3 5 1-5-7zM421 134l5 9 5-5-5-7zM426 131l5 7 6-5-5 0zM427 128l5 5 5-5-5-1zM432 127l5 1 6-2-5 1zM551 144l5 5 6-4-5 3zM562 144l5 4 6-4-5 0zM465 121l5-2 5-2-5-1zM470 116l5 1 5-8-5 5zM481 111l5 3 5-5-5 1zM589 135l5 2 5-4-5 0zM492 110l5 3 5-5-5-1zM497 107l5 1 5 0-5-4z"/><path fill="#1c2" stroke="#1c2" d="M231 208l5 5 6-10-5 1zM395 198l5 9 6-13-5 4zM417 192l5 7 5-8-5-2zM508 170l5 1 5-5-5-5zM406 139l5-1 5-4-5-2z"/><path fill="#0b6" stroke="#0b6" d="M85 174l5 0 5-5-5-8zM639 177l5 1 6-8-5-3zM373 92l5 1 5-11-4-3z"/><path fill="#1a1" stroke="#1a1" d="M326 214l5 5 6 2-5-6zM259 195l5-4 5 4-5-2zM369 208l5-4 5 3-5-2zM374 204l5 1 5 1-5 1zM291 185l5-6 6 4-5-2zM319 173l5-6 5 3-5 1zM422 189l5 2 6 1-5-2zM427 191l5-1 6-3-5 5zM340 165l5-1 6 1-5 1zM444 181l5 1 5 4-5-6zM449 182l5 2 5-3-5 5zM351 162l5-4 5 4-5-2zM460 178l5-2 5 2-5 0zM362 154l5-2 6-2-5 4zM389 144l5 0 6 0-5 1zM497 168l5 0 6 2-5-2zM400 140l5 1 5 3-5-1zM513 161l5 5 5 2-5-5zM514 160l4 3 6 4-5-9zM454 120l5-3 6 4-5-3zM578 143l5-2 5 1-5 0zM583 141l5 2 5 5-5-6zM476 110l5 1 5-1-5 3zM487 103l5 2 5-1-4 2zM615 130l5 5 5 2-5-7z"/><path fill="#2b1" stroke="#2b1" d="M337 216l5-3 5-1-5 1zM390 199l5-1 6 0-5-3zM530 161l5-4 5-3-5 0zM556 149l5 1 5-1-4-4zM567 148l5-1 6-4-5 1zM594 137l5 1 5 0-5-5zM610 135l5-5 5 0-5 0z"/><path fill="#072" stroke="#072" d="M527 236l5 0 5 3-5-2z"/><path fill="#6c0" stroke="#6c0" d="M381 192l5 0 5-6-5-1zM434 175l5 5 5-9-5 1zM361 157l5 1 5-5-5-3zM456 165l5 9 5-6-5-2zM393 146l5 2 5-7-4 5zM472 165l5 3 5-6-5-2zM483 163l5-1 5-2-5-3zM415 145l5-8 5-2-5 1zM504 154l5 2 5 1-4-11zM510 146l4 11 6-8-5-3zM448 127l4 3 6-10-5 3zM536 139l5 10 6-11-5 5zM547 142l5 2 6 0-5-8zM553 136l5 8 5-6-5-4zM479 119l5 5 6-2-5-7zM574 134l5 2 6-5-5-3zM501 107l5 10 6-7-5-6zM506 117l5-4 6-5-5 2zM590 126l5 3 6-5-5 0z"/><path fill="#6b0" stroke="#6b0" d="M408 179l5 3 5-1-5-3zM399 146l4-5 6-1-5 4zM404 144l5-4 5-1-5 4zM488 157l5 3 5-1-5-3zM493 156l5 3 6-3-5-1zM420 136l5-1 5 0-4-2zM499 155l5 1 5 0-5-2zM426 133l4 2 6-1-5-1zM431 133l5 1 5-5-5 5zM515 146l5 3 5 1-5-2zM520 148l5 2 6-3-5 3zM447 134l5-6 5 0-5 2zM526 150l5-3 5-1-5-1zM531 145l5 1 5 3-5-10zM463 124l5 3 6 0-5-3zM474 119l5 3 5 2-5-5zM558 134l5 4 5-4-5 3zM485 115l5 7 5-1-5-6zM563 137l5-3 6 0-5-2zM490 115l5 6 5-7-4 3zM496 117l4-3 6-4-5 4zM580 128l5 3 5 3-5-9zM585 125l5 9 5-5-5-3zM512 110l5-2 5-3-5 3z"/><path fill="#0a8" stroke="#0a8" d="M217 140l5 7 6-11-5-1zM360 106l5 2 6-8-5 1z"/><path fill="#088" stroke="#088" d="M247 143l5 4 6-3-5-1zM263 113l5-2 5-2-5 1zM327 93l5-1 5 1-5-4z"/><path fill="#2c1" stroke="#2c1" d="M449 180l5 6 6-8-5 0zM519 158l5 9 5-11-5 3z"/><path fill="#5a0" stroke="#5a0" d="M366 150l5 3 6 1-5-2zM461 166l5 2 5 3-5-5zM477 160l5 2 6 0-5 1zM409 143l5-4 6-2-5 8zM442 127l5 1 5 0-5 6zM536 146l5 1 5-3-5 5zM453 123l5-3 5 4-5 2zM542 143l5-5 5 6-5-2zM568 134l5 2 6 3-5-5zM569 132l5 2 5 2-5-2zM501 114l5-4 5 3-5 4z"/><path fill="#7b0" stroke="#7b0" d="M456 162l5 4 5 0-4-8zM425 135l5 2 5-4-5 2zM494 147l5 8 5-1-5-8zM430 135l5-2 6-3-5 4zM447 128l5 1 5 0-5-1zM515 141l5 7 6 2-5-6zM537 140l5 3 5-1-5-3zM548 130l5 6 5-2-5 2zM484 124l5-5 6-3-5 6zM553 136l5-2 5 3-4-2zM500 114l5-3 6 2-5-3zM506 110l5 3 5-4-5 4zM575 124l5 4 5-3-5 2zM580 127l5-2 5 1-5-3zM517 108l5-3 5 4-5-4zM585 123l5 3 6-2-5-2z"/><path fill="#8c0" stroke="#8c0" d="M420 137l5 2 5-2-5-2zM441 129l5 2 6-2-5-1zM510 148l5-2 5 2-5-7zM521 144l5 6 5-5-5-6zM526 139l5 6 5-6-4 0zM474 127l4-1 6-6-5 2zM495 121l5-4 5-6-5 3zM569 129l5 5 6-6-5-4zM511 113l5-4 6-4-5 3z"/><path fill="#8b0" stroke="#8b0" d="M436 134l5-4 5 1-5-2zM570 128l5-4 5 3-5-5zM522 105l4 3 6-2-5 3zM581 120l4 3 6-1-5-1z"/><path fill="#1a0" stroke="#1a0" d="M524 159l5-3 6 1-5 4z"/><path fill="#9c0" stroke="#9c0" d="M521 138l5 1 6 0-5-4zM532 134l5 6 5-1-5-10zM537 129l5 10 6-9-5-1zM548 132l5 4 6-1-5-8zM554 127l5 8 5-11-5 3zM564 127l5 2 6-5-5 4zM511 113l5 0 5-2-5-2zM516 109l5 2 5-3-4-3zM575 122l5 5 5-4-4-3z"/><path fill="#1a2" stroke="#1a2" d="M433 121l5 3 6 0-5-3zM461 108l5 3 5 1-5-5z"/><path fill="#7a0" stroke="#7a0" d="M463 122l5 2 5-3-5 6zM532 139l4 0 6 4-5-3zM479 122l5-2 5-1-5 5zM490 122l5-6 5 1-5 4zM564 124l5 8 5 2-5-5z"/><path fill="#9b0" stroke="#9b0" d="M527 135l5 4 5 1-5-6zM489 119l5-4 6 3-5-2zM495 116l5 2 5-2-5 1zM521 111l5-3 5 6-5-6zM576 118l5 2 5 1-5-3z"/><path fill="#390" stroke="#390" d="M546 144l5 0 6 4-5 3z"/><path fill="#ac0" stroke="#ac0" d="M533 130l4-1 6 0-5-2zM500 118l4-1 6-4-5 3zM554 121l5 6 5 0-5-8zM565 118l5 10 5-6-5-4zM570 118l5 4 6-2-5-2z"/><path fill="#8d0" stroke="#8d0" d="M542 139l5 3 6-6-5-6zM559 135l4 2 6-5-5-8z"/><path fill="#ab0" stroke="#ab0" d="M538 127l5 2 5 3-5-7zM515 110l5 1 6-2-5 0zM559 119l5 8 6 1-5-10zM516 113l5-4 5-1-5 3zM521 109l5 0 5 0-5-1zM565 115l5 3 6 0-5-4zM536 107l5 2 6 2-5-5zM571 114l5 4 5 0-5-5z"/><path fill="#8a0" stroke="#8a0" d="M543 129l5 1 5 6-5-4zM559 127l5-3 5 5-5-2z"/><path fill="#bc0" stroke="#bc0" d="M555 119l5 1 5-5-5 1zM560 120l5-2 5 0-5-3zM560 116l5-1 6-1-5-3zM531 114l5-7 6-1-5-3z"/><path fill="#9a0" stroke="#9a0" d="M526 108l5 1 5-2-5 7z"/><path fill="#bb0" stroke="#bb0" d="M531 109l5 1 5-1-5-2zM566 111l5 3 5-1-5-3z"/><path fill="#cc0" stroke="#cc0" d="M556 115l4 1 6-5-5 1z"/><path fill="#bd0" stroke="#bd0" d="M526 108l5 6 6-11-5 3z"/><path fill="#aa0" stroke="#aa0" d="M541 109l5-1 6-2-5 5z"/><path fill="#bb0" stroke="#bb0" d="M546 108l5-3 5 0-4 1z"/><path fill="#790" stroke="#790" d="M505 111l5-9 6 11-5 0z"/><path fill="#aa0" stroke="#aa0" d="M536 110l5-7 5 5-5 1z"/><path fill="#bb0" stroke="#bb0" d="M551 105l5 3 5 1-5-4z"/><path fill="#9a0" stroke="#9a0" d="M510 102l5 8 6-1-5 4z"/><path fill="#aa0" stroke="#aa0" d="M526 109l4-3 6 4-5-1z"/><path fill="#bb0" stroke="#bb0" d="M541 103l5 7 5-5-5 3z"/><path fill="#ac0" stroke="#ac0" d="M500 117l5-1 5-14-5 9z"/><path fill="#bb0" stroke="#bb0" d="M556 108l5 4 5-5-5 2zM530 106l5 1 6-4-5 7z"/><path fill="#cc0" stroke="#cc0" d="M546 110l5 1 5-3-5-3z"/><path fill="#bd0" stroke="#bd0" d="M505 116l5-3 5-3-5-8z"/><path fill="#bb0" stroke="#bb0" d="M561 112l5-1 5-1-5-3z"/><path fill="#cc0" stroke="#cc0" d="M520 111l5 2 5-7-4 3z"/><path fill="#cb0" stroke="#cb0" d="M535 107l5 4 6-1-5-7z"/><path fill="#cc0" stroke="#cc0" d="M551 111l5 4 5-3-5-4z"/><path fill="#bb0" stroke="#bb0" d="M510 113l5-2 5 0-5-1z"/><path fill="#cb0" stroke="#cb0" d="M525 113l5-6 5 0-5-1z"/><path fill="#bb0" stroke="#bb0" d="M540 111l5 0 6 0-5-1zM515 111l5 2 5 0-5-2z"/><path fill="#cb0" stroke="#cb0" d="M530 107l5 8 5-4-5-4z"/><path fill="#bb0" stroke="#bb0" d="M545 111l5 2 6 2-5-4zM504 117l5-4 6-2-5 2z"/><path fill="#aa0" stroke="#aa0" d="M520 113l5-7 5 1-5 6z"/><path fill="#cb0" stroke="#cb0" d="M535 115l5-2 5-2-5 0z"/><path fill="#9a0" stroke="#9a0" d="M494 115l5-1 5 3-4 1z"/><path fill="#bb0" stroke="#bb0" d="M550 113l5 6 5-3-4-1zM509 113l5-1 6 1-5-2z"/><path fill="#ba0" stroke="#ba0" d="M525 106l5 7 5 2-5-8z"/><path fill="#8b0" stroke="#8b0" d="M484 120l5-7 5 2-5 4z"/><path fill="#bb0" stroke="#bb0" d="M540 113l5-1 5 1-5-2z"/><path fill="#9a0" stroke="#9a0" d="M499 114l5-4 5 3-5 4z"/><path fill="#ba0" stroke="#ba0" d="M514 112l5-3 6-3-5 7zM530 113l4 0 6 0-5 2z"/><path fill="#9a0" stroke="#9a0" d="M489 113l5-1 5 2-5 1z"/><path fill="#bb0" stroke="#bb0" d="M545 112l5 7 5 0-5-6zM504 110l5 5 5-3-5 1z"/><path fill="#ba0" stroke="#ba0" d="M519 109l5-1 6 5-5-7z"/><path fill="#9b0" stroke="#9b0" d="M478 126l5-9 6-4-5 7z"/><path fill="#bb0" stroke="#bb0" d="M534 113l5 0 6-1-5 1z"/><path fill="#ab0" stroke="#ab0" d="M494 112l5 0 5-2-5 4z"/><path fill="#aa0" stroke="#aa0" d="M550 119l5-4 5 5-5-1z"/><path fill="#bb0" stroke="#bb0" d="M509 115l5-5 5-1-5 3zM524 108l5 10 5-5-4 0z"/><path fill="#bc0" stroke="#bc0" d="M483 117l5-2 6-3-5 1z"/><path fill="#bb0" stroke="#bb0" d="M539 113l5 7 6-1-5-7zM499 112l5 0 5 3-5-5z"/><path fill="#aa0" stroke="#aa0" d="M555 115l4 4 6-1-5 2z"/><path fill="#cb0" stroke="#cb0" d="M514 110l5 3 5-5-5 1z"/><path fill="#8a0" stroke="#8a0" d="M473 121l5-3 5-1-5 9z"/><path fill="#cb0" stroke="#cb0" d="M529 118l5-4 5-1-5 0z"/><path fill="#cc0" stroke="#cc0" d="M488 115l5 4 6-7-5 0z"/><path fill="#bb0" stroke="#bb0" d="M544 120l5-2 6-3-5 4z"/><path fill="#ba0" stroke="#ba0" d="M504 112l4 2 6-4-5 5zM519 113l5-1 5 6-5-10z"/><path fill="#ac0" stroke="#ac0" d="M478 118l5 1 5-4-5 2z"/><path fill="#aa0" stroke="#aa0" d="M534 114l5-2 5 8-5-7z"/><path fill="#bb0" stroke="#bb0" d="M493 119l5-9 6 2-5 0z"/><path fill="#bc0" stroke="#bc0" d="M549 118l5 3 5-2-4-4z"/><path fill="#ba0" stroke="#ba0" d="M508 114l5-4 6 3-5-3z"/><path fill="#9c0" stroke="#9c0" d="M468 124l5 0 5-6-5 3z"/><path fill="#a90" stroke="#a90" d="M524 112l5 1 5 1-5 4z"/><path fill="#aa0" stroke="#aa0" d="M483 119l5-7 5 7-5-4zM539 112l5 6 5 0-5 2z"/><path fill="#ba0" stroke="#ba0" d="M498 110l5 0 5 4-4-2z"/><path fill="#7b0" stroke="#7b0" d="M457 128l5-9 6 5-5-2z"/><path fill="#ba0" stroke="#ba0" d="M513 110l5 2 6 0-5 1z"/><path fill="#ab0" stroke="#ab0" d="M473 124l5-6 5 1-5-1z"/><path fill="#cb0" stroke="#cb0" d="M529 113l4 3 6-4-5 2z"/><path fill="#bb0" stroke="#bb0" d="M488 112l5 6 5-8-5 9z"/><path fill="#ab0" stroke="#ab0" d="M544 118l5 2 5 1-5-3z"/><path fill="#ba0" stroke="#ba0" d="M503 110l5 3 5-3-5 4z"/><path fill="#9b0" stroke="#9b0" d="M462 119l5 7 6-2-5 0z"/><path fill="#cb0" stroke="#cb0" d="M518 112l5 2 6-1-5-1z"/><path fill="#bb0" stroke="#bb0" d="M478 118l4 0 6-6-5 7z"/><path fill="#cc0" stroke="#cc0" d="M533 116l5 7 6-5-5-6z"/><path fill="#dc0" stroke="#dc0" d="M493 118l5-2 5-6-5 0z"/><path fill="#ab0" stroke="#ab0" d="M549 120l5 7 5 0-5-6z"/><path fill="#8c0" stroke="#8c0" d="M452 128l5 1 5-10-5 9z"/><path fill="#ca0" stroke="#ca0" d="M508 113l5-3 5 2-5-2z"/><path fill="#ab0" stroke="#ab0" d="M467 126l5-6 6-2-5 6z"/><path fill="#cb0" stroke="#cb0" d="M523 114l5 5 5-3-4-3z"/><path fill="#ba0" stroke="#ba0" d="M482 118l5-7 6 7-5-6z"/><path fill="#bc0" stroke="#bc0" d="M538 123l5 2 6-5-5-2z"/><path fill="#cb0" stroke="#cb0" d="M498 116l5-1 5-2-5-3z"/><path fill="#9b0" stroke="#9b0" d="M457 129l5-12 5 9-5-7z"/><path fill="#cb0" stroke="#cb0" d="M513 110l5 9 5-5-5-2z"/><path fill="#aa0" stroke="#aa0" d="M472 120l5-7 5 5-4 0z"/><path fill="#bb0" stroke="#bb0" d="M528 119l5 3 5 1-5-7z"/><path fill="#a90" stroke="#a90" d="M487 111l5 1 6 4-5 2z"/><path fill="#bc0" stroke="#bc0" d="M543 125l5 7 6-5-5-7z"/><path fill="#cb0" stroke="#cb0" d="M503 115l4-2 6-3-5 3z"/><path fill="#9a0" stroke="#9a0" d="M462 117l5 4 5-1-5 6z"/><path fill="#cc0" stroke="#cc0" d="M518 119l5 2 5-2-5-5z"/><path fill="#ba0" stroke="#ba0" d="M477 113l5 0 5-2-5 7z"/><path fill="#bb0" stroke="#bb0" d="M533 122l5 5 5-2-5-2z"/><path fill="#a90" stroke="#a90" d="M492 112l5-4 6 7-5 1z"/><path fill="#9c0" stroke="#9c0" d="M452 129l4 0 6-12-5 12z"/><path fill="#ba0" stroke="#ba0" d="M507 113l5 2 6 4-5-9z"/><path fill="#aa0" stroke="#aa0" d="M467 121l5-5 5-3-5 7z"/><path fill="#cc0" stroke="#cc0" d="M523 121l5 5 5-4-5-3z"/><path fill="#cb0" stroke="#cb0" d="M482 113l5 0 5-1-5-1z"/><path fill="#a90" stroke="#a90" d="M497 108l5 0 5 5-4 2z"/><path fill="#bc0" stroke="#bc0" d="M456 129l5-9 6 1-5-4z"/><path fill="#aa0" stroke="#aa0" d="M512 115l5 4 6 2-5-2z"/><path fill="#cb0" stroke="#cb0" d="M472 116l5 0 5-3-5 0z"/><path fill="#bc0" stroke="#bc0" d="M528 126l5 4 5-3-5-5z"/><path fill="#cb0" stroke="#cb0" d="M487 113l5 1 5-6-5 4z"/><path fill="#8b0" stroke="#8b0" d="M446 131l5-5 5 3-4 0z"/><path fill="#ca0" stroke="#ca0" d="M502 108l5 12 5-5-5-2z"/><path fill="#aa0" stroke="#aa0" d="M461 120l5-5 6 1-5 5zM517 119l5 4 6 3-5-5z"/><path fill="#ba0" stroke="#ba0" d="M477 116l4-4 6 1-5 0z"/><path fill="#cb0" stroke="#cb0" d="M492 114l5-4 5-2-5 0z"/><path fill="#9a0" stroke="#9a0" d="M451 126l5-3 5-3-5 9z"/><path fill="#cb0" stroke="#cb0" d="M507 120l5-2 5 1-5-4z"/><path fill="#ba0" stroke="#ba0" d="M466 115l5-2 6 3-5 0z"/><path fill="#aa0" stroke="#aa0" d="M522 123l5 3 6 4-5-4z"/><path fill="#ba0" stroke="#ba0" d="M481 112l5 1 6 1-5-1z"/><path fill="#9b0" stroke="#9b0" d="M441 130l5-2 5-2-5 5z"/><path fill="#b90" stroke="#b90" d="M497 110l5 2 5 8-5-12z"/><path fill="#cc0" stroke="#cc0" d="M456 123l5 0 5-8-5 5z"/><path fill="#bb0" stroke="#bb0" d="M512 118l5 7 5-2-5-4z"/><path fill="#ba0" stroke="#ba0" d="M471 113l5 0 5-1-4 4z"/><path fill="#ab0" stroke="#ab0" d="M527 126l5 8 5-5-4 1z"/><path fill="#b90" stroke="#b90" d="M486 113l5-5 6 2-5 4z"/><path fill="#ab0" stroke="#ab0" d="M446 128l5-2 5-3-5 3z"/><path fill="#a90" stroke="#a90" d="M502 112l5 3 5 3-5 2z"/><path fill="#bb0" stroke="#bb0" d="M461 123l5-11 5 1-5 2z"/><path fill="#bc0" stroke="#bc0" d="M517 125l5 7 5-6-5-3z"/><path fill="#ba0" stroke="#ba0" d="M476 113l5-2 5 2-5-1z"/><path fill="#9c0" stroke="#9c0" d="M435 133l5-2 6-3-5 2z"/><path fill="#ca0" stroke="#ca0" d="M491 108l5 7 6-3-5-2z"/><path fill="#aa0" stroke="#aa0" d="M451 126l4-8 6 5-5 0z"/><path fill="#ba0" stroke="#ba0" d="M507 115l4 9 6 1-5-7z"/><path fill="#a90" stroke="#a90" d="M466 112l5-4 5 5-5 0z"/><path fill="#bc0" stroke="#bc0" d="M522 132l5 3 5-1-5-8z"/><path fill="#ca0" stroke="#ca0" d="M481 111l5 3 5-6-5 5z"/><path fill="#ab0" stroke="#ab0" d="M440 131l5-7 6 2-5 2z"/><path fill="#cb0" stroke="#cb0" d="M496 115l5 2 6-2-5-3z"/><path fill="#a90" stroke="#a90" d="M455 118l5-8 6 2-5 11z"/><path fill="#aa0" stroke="#aa0" d="M511 124l5 3 6 5-5-7z"/><path fill="#b90" stroke="#b90" d="M471 108l5 3 5 0-5 2z"/><path fill="#8a0" stroke="#8a0" d="M430 137l5-11 5 5-5 2z"/><path fill="#cb0" stroke="#cb0" d="M486 114l5-1 5 2-5-7z"/><path fill="#990" stroke="#990" d="M445 124l5-11 5 5-4 8z"/><path fill="#cb0" stroke="#cb0" d="M501 117l5 9 5-2-4-9z"/><path fill="#a90" stroke="#a90" d="M460 110l5-5 6 3-5 4z"/><path fill="#9b0" stroke="#9b0" d="M516 127l5 11 6-3-5-3z"/><path fill="#b90" stroke="#b90" d="M476 111l5-3 5 6-5-3z"/><path fill="#9a0" stroke="#9a0" d="M435 126l5-1 5-1-5 7z"/><path fill="#ba0" stroke="#ba0" d="M491 113l5 4 5 0-5-2z"/><path fill="#a90" stroke="#a90" d="M450 113l5-2 5-1-5 8z"/><path fill="#bc0" stroke="#bc0" d="M506 126l5 6 5-5-5-3z"/><path fill="#b90" stroke="#b90" d="M465 105l5 4 6 2-5-3z"/><path fill="#8a0" stroke="#8a0" d="M425 139l4-12 6-1-5 11z"/><path fill="#ba0" stroke="#ba0" d="M481 108l4 7 6-2-5 1z"/><path fill="#aa0" stroke="#aa0" d="M440 125l5-9 5-3-5 11z"/><path fill="#ba0" stroke="#ba0" d="M496 117l5 5 5 4-5-9zM455 111l5-5 5-1-5 5z"/><path fill="#ab0" stroke="#ab0" d="M511 132l5 1 5 5-5-11z"/><path fill="#7a0" stroke="#7a0" d="M414 139l5-7 6 7-5-2z"/><path fill="#ca0" stroke="#ca0" d="M470 109l5 2 6-3-5 3z"/><path fill="#bc0" stroke="#bc0" d="M429 127l5 2 6-4-5 1z"/><path fill="#cb0" stroke="#cb0" d="M485 115l5 6 6-4-5-4z"/><path fill="#ba0" stroke="#ba0" d="M445 116l5-6 5 1-5 2z"/><path fill="#ab0" stroke="#ab0" d="M501 122l5 11 5-1-5-6z"/><path fill="#b90" stroke="#b90" d="M460 106l5-1 5 4-5-4z"/><path fill="#9b0" stroke="#9b0" d="M516 133l5 11 5-5-5-1zM419 132l5 4 5-9-4 12z"/><path fill="#b90" stroke="#b90" d="M475 111l5-2 5 6-4-7z"/><path fill="#bb0" stroke="#bb0" d="M434 129l5-9 6-4-5 9z"/><path fill="#cc0" stroke="#cc0" d="M490 121l5 4 6-3-5-5z"/><path fill="#ca0" stroke="#ca0" d="M450 110l5-1 5-3-5 5z"/><path fill="#bc0" stroke="#bc0" d="M506 133l4 4 6-4-5-1z"/><path fill="#8b0" stroke="#8b0" d="M409 140l5-3 5-5-5 7z"/><path fill="#b90" stroke="#b90" d="M465 105l5 3 5 3-5-2z"/><path fill="#ab0" stroke="#ab0" d="M424 136l5-12 5 5-5-2z"/><path fill="#b90" stroke="#b90" d="M480 109l5 12 5 0-5-6z"/><path fill="#cb0" stroke="#cb0" d="M439 120l5-5 6-5-5 6z"/><path fill="#bb0" stroke="#bb0" d="M495 125l5 9 6-1-5-11z"/><path fill="#ca0" stroke="#ca0" d="M455 109l4-2 6-2-5 1z"/><path fill="#9b0" stroke="#9b0" d="M510 137l5 4 6 3-5-11z"/><path fill="#9c0" stroke="#9c0" d="M414 137l5-2 5 1-5-4z"/><path fill="#ca0" stroke="#ca0" d="M470 108l5 4 5-3-5 2z"/><path fill="#990" stroke="#990" d="M429 124l5-7 5 3-5 9z"/><path fill="#ba0" stroke="#ba0" d="M485 121l5-1 5 5-5-4z"/><path fill="#a90" stroke="#a90" d="M444 115l5-13 6 7-5 1z"/><path fill="#9b0" stroke="#9b0" d="M500 134l5-2 5 5-4-4z"/><path fill="#7b0" stroke="#7b0" d="M403 141l5-4 6 0-5 3z"/><path fill="#db0" stroke="#db0" d="M459 107l5 5 6-4-5-3z"/><path fill="#9a0" stroke="#9a0" d="M419 135l5-13 5 2-5 12z"/><path fill="#ca0" stroke="#ca0" d="M475 112l5 6 5 3-5-12z"/><path fill="#a90" stroke="#a90" d="M434 117l5-7 5 5-5 5z"/><path fill="#aa0" stroke="#aa0" d="M490 120l5 13 5 1-5-9z"/><path fill="#b90" stroke="#b90" d="M449 102l5 5 5 0-4 2z"/><path fill="#9b0" stroke="#9b0" d="M505 132l5 16 5-7-5-4z"/><path fill="#8a0" stroke="#8a0" d="M408 137l5-5 6 3-5 2z"/><path fill="#cb0" stroke="#cb0" d="M464 112l5 1 6-1-5-4z"/><path fill="#aa0" stroke="#aa0" d="M424 122l5-3 5-2-5 7z"/><path fill="#cb0" stroke="#cb0" d="M480 118l4 6 6-4-5 1z"/><path fill="#a90" stroke="#a90" d="M439 110l5-5 5-3-5 13z"/><path fill="#bc0" stroke="#bc0" d="M495 133l5 9 5-10-5 2z"/><path fill="#8c0" stroke="#8c0" d="M398 148l5-4 5-7-5 4z"/><path fill="#b90" stroke="#b90" d="M454 107l5-2 5 7-5-5z"/><path fill="#9a0" stroke="#9a0" d="M413 132l5-7 6-3-5 13z"/><path fill="#cb0" stroke="#cb0" d="M469 113l5 9 6-4-5-6z"/><path fill="#ba0" stroke="#ba0" d="M429 119l4-7 6-2-5 7z"/><path fill="#bb0" stroke="#bb0" d="M484 124l5 8 6 1-5-13z"/><path fill="#5a0" stroke="#5a0" d="M388 152l5-10 5 6-5-2z"/><path fill="#ca0" stroke="#ca0" d="M444 105l5-2 5 4-5-5z"/><path fill="#9c0" stroke="#9c0" d="M500 142l5 1 5 5-5-16z"/><path fill="#8b0" stroke="#8b0" d="M403 144l5-15 5 3-5 5z"/><path fill="#a90" stroke="#a90" d="M459 105l5 6 5 2-5-1z"/><path fill="#ba0" stroke="#ba0" d="M418 125l5-8 6 2-5 3z"/><path fill="#cb0" stroke="#cb0" d="M474 122l5 3 5-1-4-6z"/><path fill="#ba0" stroke="#ba0" d="M433 112l5-6 6-1-5 5z"/><path fill="#ab0" stroke="#ab0" d="M489 132l5 7 6 3-5-9z"/><path fill="#6a0" stroke="#6a0" d="M393 142l5 0 5 2-5 4z"/><path fill="#a80" stroke="#a80" d="M449 103l5-2 5 4-5 2z"/><path fill="#7a0" stroke="#7a0" d="M505 143l5 3 5 0-5 2z"/><path fill="#9a0" stroke="#9a0" d="M408 129l5-2 5-2-5 7z"/><path fill="#ba0" stroke="#ba0" d="M464 111l5 11 5 0-5-9z"/><path fill="#a90" stroke="#a90" d="M423 117l5-10 5 5-4 7z"/><path fill="#bb0" stroke="#bb0" d="M479 125l5 9 5-2-5-8z"/><path fill="#5a0" stroke="#5a0" d="M382 153l5-8 6-3-5 10z"/><path fill="#b90" stroke="#b90" d="M438 106l5-5 6 2-5 2z"/><path fill="#9b0" stroke="#9b0" d="M494 139l5 7 6-3-5-1zM398 142l5-3 5-10-5 15z"/><path fill="#b90" stroke="#b90" d="M454 101l4 9 6 1-5-6z"/><path fill="#990" stroke="#990" d="M413 127l5-16 5 6-5 8z"/><path fill="#cb0" stroke="#cb0" d="M469 122l5 5 5-2-5-3z"/><path fill="#a80" stroke="#a80" d="M428 107l5-7 5 6-5 6z"/><path fill="#ab0" stroke="#ab0" d="M484 134l5 5 5 0-5-7z"/><path fill="#8c0" stroke="#8c0" d="M387 145l5 6 6-9-5 0z"/><path fill="#b90" stroke="#b90" d="M443 101l5-1 6 1-5 2z"/><path fill="#8c0" stroke="#8c0" d="M499 146l5 8 6-8-5-3z"/><path fill="#ab0" stroke="#ab0" d="M403 139l4-13 6 1-5 2z"/><path fill="#b90" stroke="#b90" d="M458 110l5 7 6 5-5-11z"/><path fill="#a90" stroke="#a90" d="M418 111l5-5 5 1-5 10z"/><path fill="#bb0" stroke="#bb0" d="M474 127l5 6 5 1-5-9z"/><path fill="#a80" stroke="#a80" d="M433 100l5-1 5 2-5 5z"/><path fill="#9b0" stroke="#9b0" d="M489 139l5 8 5-1-5-7z"/><path fill="#8b0" stroke="#8b0" d="M392 151l5-12 6 0-5 3z"/><path fill="#b90" stroke="#b90" d="M448 100l5 4 5 6-4-9z"/><path fill="#aa0" stroke="#aa0" d="M407 126l5-9 6-6-5 16z"/><path fill="#ba0" stroke="#ba0" d="M463 117l5 9 6 1-5-5z"/><path fill="#b90" stroke="#b90" d="M423 106l5-6 5 0-5 7z"/><path fill="#ab0" stroke="#ab0" d="M479 133l5 10 5-4-5-5z"/><path fill="#6a0" stroke="#6a0" d="M382 148l5-7 5 10-5-6z"/><path fill="#b90" stroke="#b90" d="M438 99l5 0 5 1-5 1z"/><path fill="#9a0" stroke="#9a0" d="M397 139l5-14 5 1-4 13z"/><path fill="#b90" stroke="#b90" d="M453 104l5 11 5 2-5-7z"/><path fill="#cb0" stroke="#cb0" d="M412 117l5-6 6-5-5 5z"/><path fill="#bb0" stroke="#bb0" d="M468 126l5 9 6-2-5-6z"/><path fill="#b90" stroke="#b90" d="M428 100l4-4 6 3-5 1z"/><path fill="#9c0" stroke="#9c0" d="M484 143l4 4 6 0-5-8z"/><path fill="#7a0" stroke="#7a0" d="M387 141l5 0 5-2-5 12z"/><path fill="#ca0" stroke="#ca0" d="M443 99l5 8 5-3-5-4z"/><path fill="#ba0" stroke="#ba0" d="M402 125l5-4 5-4-5 9zM458 115l5 14 5-3-5-9z"/><path fill="#ca0" stroke="#ca0" d="M417 111l5-6 6-5-5 6z"/><path fill="#ab0" stroke="#ab0" d="M473 135l5 9 6-1-5-10z"/><path fill="#7b0" stroke="#7b0" d="M377 154l4-7 6-6-5 7z"/><path fill="#b90" stroke="#b90" d="M432 96l5 1 6 2-5 0z"/><path fill="#7b0" stroke="#7b0" d="M488 147l5 9 6-1-5-8z"/><path fill="#ab0" stroke="#ab0" d="M392 141l5-6 5-10-5 14z"/><path fill="#ca0" stroke="#ca0" d="M448 107l5 12 5-4-5-11z"/><path fill="#980" stroke="#980" d="M407 121l5-22 5 12-5 6z"/><path fill="#bb0" stroke="#bb0" d="M463 129l5 9 5-3-5-9z"/><path fill="#ca0" stroke="#ca0" d="M422 105l5-5 5-4-4 4z"/><path fill="#9c0" stroke="#9c0" d="M478 144l5 5 5-2-4-4z"/><path fill="#9b0" stroke="#9b0" d="M381 147l5-9 6 3-5 0z"/><path fill="#b90" stroke="#b90" d="M437 97l5 5 6 5-5-8z"/><path fill="#bb0" stroke="#bb0" d="M397 135l5-15 5 1-5 4z"/><path fill="#cb0" stroke="#cb0" d="M453 119l5 9 5 1-5-14z"/><path fill="#a80" stroke="#a80" d="M412 99l5 5 5 1-5 6z"/><path fill="#ac0" stroke="#ac0" d="M468 138l5 9 5-3-5-9z"/><path fill="#6a0" stroke="#6a0" d="M371 153l5-6 5 0-4 7z"/><path fill="#c90" stroke="#c90" d="M427 100l5-4 5 1-5-1z"/><path fill="#7b0" stroke="#7b0" d="M483 149l5 8 5-1-5-9z"/><path fill="#890" stroke="#890" d="M386 138l5-11 6 8-5 6z"/><path fill="#a90" stroke="#a90" d="M442 102l5 11 6 6-5-12zM402 120l4-13 6-8-5 22z"/><path fill="#aa0" stroke="#aa0" d="M458 128l4 7 6 3-5-9z"/><path fill="#a80" stroke="#a80" d="M417 104l5-14 5 10-5 5z"/><path fill="#9c0" stroke="#9c0" d="M473 147l5 6 5-4-5-5z"/><path fill="#8a0" stroke="#8a0" d="M376 147l5-8 5-1-5 9z"/><path fill="#ca0" stroke="#ca0" d="M432 96l5 7 5-1-5-5z"/><path fill="#990" stroke="#990" d="M391 127l5-6 6-1-5 15z"/><path fill="#a90" stroke="#a90" d="M447 113l5 12 6 3-5-9z"/><path fill="#b90" stroke="#b90" d="M406 107l5-11 6 8-5-5z"/><path fill="#9a0" stroke="#9a0" d="M462 135l5 10 6 2-5-9z"/><path fill="#6b0" stroke="#6b0" d="M366 158l5-10 5-1-5 6z"/><path fill="#a70" stroke="#a70" d="M422 90l5 1 5 5-5 4z"/><path fill="#7c0" stroke="#7c0" d="M478 153l5 10 5-6-5-8z"/><path fill="#9a0" stroke="#9a0" d="M381 139l5-15 5 3-5 11z"/><path fill="#ca0" stroke="#ca0" d="M437 103l5 11 5-1-5-11z"/><path fill="#980" stroke="#980" d="M396 121l5-22 5 8-4 13z"/><path fill="#bb0" stroke="#bb0" d="M452 125l5 12 5-2-4-7z"/><path fill="#a80" stroke="#a80" d="M411 96l5-6 6 0-5 14z"/><path fill="#8b0" stroke="#8b0" d="M467 145l5 5 6 3-5-6zM371 148l5-5 5-4-5 8z"/><path fill="#b80" stroke="#b80" d="M427 91l5 8 5 4-5-7z"/><path fill="#990" stroke="#990" d="M386 124l5-9 5 6-5 6z"/><path fill="#ba0" stroke="#ba0" d="M442 114l5 11 5 0-5-12z"/><path fill="#a80" stroke="#a80" d="M401 99l5-6 5 3-5 11z"/><path fill="#ab0" stroke="#ab0" d="M457 137l5 7 5 1-5-10z"/><path fill="#6a0" stroke="#6a0" d="M360 158l5-7 6-3-5 10z"/><path fill="#c90" stroke="#c90" d="M416 90l5 3 6-2-5-1z"/><path fill="#6a0" stroke="#6a0" d="M472 150l5 10 6 3-5-10z"/><path fill="#ab0" stroke="#ab0" d="M376 143l4-12 6-7-5 15z"/><path fill="#b90" stroke="#b90" d="M432 99l4 14 6 1-5-11z"/><path fill="#a80" stroke="#a80" d="M391 115l5-16 5 0-5 22z"/><path fill="#bb0" stroke="#bb0" d="M447 125l5 11 5 1-5-12z"/><path fill="#b80" stroke="#b80" d="M406 93l5-3 5 0-5 6z"/><path fill="#9c0" stroke="#9c0" d="M462 144l5 10 5-4-5-5zM365 151l5-3 6-5-5 5z"/><path fill="#ca0" stroke="#ca0" d="M421 93l5 9 6-3-5-8z"/><path fill="#aa0" stroke="#aa0" d="M380 131l5-16 6 0-5 9z"/><path fill="#ba0" stroke="#ba0" d="M436 113l5 12 6 0-5-11z"/><path fill="#b90" stroke="#b90" d="M396 99l5-4 5-2-5 6z"/><path fill="#bc0" stroke="#bc0" d="M452 136l5 18 5-10-5-7z"/><path fill="#6b0" stroke="#6b0" d="M355 158l5-3 5-4-5 7z"/><path fill="#c90" stroke="#c90" d="M411 90l5 3 5 0-5-3z"/><path fill="#7c0" stroke="#7c0" d="M467 154l5 11 5-5-5-10z"/><path fill="#9a0" stroke="#9a0" d="M370 148l5-15 5-2-4 12z"/><path fill="#ca0" stroke="#ca0" d="M426 102l5 9 5 2-4-14z"/><path fill="#b90" stroke="#b90" d="M385 115l5-11 6-5-5 16z"/><path fill="#bb0" stroke="#bb0" d="M441 125l5 16 6-5-5-11z"/><path fill="#c90" stroke="#c90" d="M401 95l5-4 5-1-5 3z"/><path fill="#ad0" stroke="#ad0" d="M457 154l5 4 5-4-5-10z"/><path fill="#8a0" stroke="#8a0" d="M360 155l5-11 5 4-5 3z"/><path fill="#c90" stroke="#c90" d="M416 93l5 10 5-1-5-9z"/><path fill="#aa0" stroke="#aa0" d="M375 133l5-16 5-2-5 16z"/><path fill="#ba0" stroke="#ba0" d="M431 111l5 17 5-3-5-12z"/><path fill="#b90" stroke="#b90" d="M390 104l5-13 6 4-5 4z"/><path fill="#ab0" stroke="#ab0" d="M446 141l5 7 6 6-5-18z"/><path fill="#7b0" stroke="#7b0" d="M350 162l4-4 6-3-5 3z"/><path fill="#a80" stroke="#a80" d="M406 91l4-6 6 8-5-3z"/><path fill="#7c0" stroke="#7c0" d="M462 158l4 8 6-1-5-11z"/><path fill="#890" stroke="#890" d="M365 144l5-11 5 0-5 15z"/><path fill="#ca0" stroke="#ca0" d="M421 103l5 11 5-3-5-9z"/><path fill="#a90" stroke="#a90" d="M380 117l5-16 5 3-5 11z"/><path fill="#bb0" stroke="#bb0" d="M436 128l5 11 5 2-5-16z"/><path fill="#a80" stroke="#a80" d="M395 91l5-6 6 6-5 4z"/><path fill="#8b0" stroke="#8b0" d="M451 148l5 14 6-4-5-4zM354 158l5-11 6-3-5 11z"/><path fill="#a70" stroke="#a70" d="M410 85l5 8 6 10-5-10z"/><path fill="#aa0" stroke="#aa0" d="M370 133l5-13 5-3-5 16z"/><path fill="#ba0" stroke="#ba0" d="M426 114l5 10 5 4-5-17z"/><path fill="#a80" stroke="#a80" d="M385 101l5-11 5 1-5 13z"/><path fill="#ab0" stroke="#ab0" d="M441 139l5 14 5-5-5-7z"/><path fill="#6a0" stroke="#6a0" d="M344 163l5-7 5 2-4 4z"/><path fill="#a80" stroke="#a80" d="M400 85l5-3 5 3-4 6z"/><path fill="#9a0" stroke="#9a0" d="M359 147l5-12 6-2-5 11z"/><path fill="#a80" stroke="#a80" d="M415 93l5 16 6 5-5-11z"/><path fill="#a90" stroke="#a90" d="M375 120l5-23 5 4-5 16z"/><path fill="#aa0" stroke="#aa0" d="M431 124l5 17 5-2-5-11z"/><path fill="#a80" stroke="#a80" d="M390 90l5-10 5 5-5 6z"/><path fill="#8b0" stroke="#8b0" d="M446 153l5 1 5 8-5-14zM349 156l5-3 5-6-5 11z"/><path fill="#b80" stroke="#b80" d="M405 82l5 9 5 2-5-8z"/><path fill="#990" stroke="#990" d="M364 135l5-20 6 5-5 13z"/><path fill="#ba0" stroke="#ba0" d="M420 109l5 16 6-1-5-10z"/><path fill="#a80" stroke="#a80" d="M380 97l4-8 6 1-5 11z"/><path fill="#ab0" stroke="#ab0" d="M436 141l4 15 6-3-5-14z"/><path fill="#6b0" stroke="#6b0" d="M339 165l5-7 5-2-5 7z"/><path fill="#b80" stroke="#b80" d="M395 80l5 4 5-2-5 3z"/><path fill="#6a0" stroke="#6a0" d="M451 154l5 11 5 1-5-4z"/><path fill="#9a0" stroke="#9a0" d="M354 153l5-23 5 5-5 12z"/><path fill="#b90" stroke="#b90" d="M410 91l5 19 5-1-5-16z"/><path fill="#a80" stroke="#a80" d="M369 115l5-17 6-1-5 23z"/><path fill="#ba0" stroke="#ba0" d="M425 125l5 15 6 1-5-17z"/><path fill="#a80" stroke="#a80" d="M384 89l5-11 6 2-5 10z"/><path fill="#9d0" stroke="#9d0" d="M440 156l5 8 6-10-5-1z"/><path fill="#7a0" stroke="#7a0" d="M344 158l5-12 5 7-5 3z"/><path fill="#c90" stroke="#c90" d="M400 84l5 9 5-2-5-9z"/><path fill="#990" stroke="#990" d="M359 130l5-20 5 5-5 20z"/><path fill="#ba0" stroke="#ba0" d="M415 110l5 11 5 4-5-16z"/><path fill="#a80" stroke="#a80" d="M374 98l5-13 5 4-4 8z"/><path fill="#ab0" stroke="#ab0" d="M430 140l5 16 5 0-4-15z"/><path fill="#6b0" stroke="#6b0" d="M333 166l5-5 6-3-5 7z"/><path fill="#b80" stroke="#b80" d="M389 78l5 3 6 3-5-4z"/><path fill="#8c0" stroke="#8c0" d="M445 164l5 1 6 0-5-11z"/><path fill="#9a0" stroke="#9a0" d="M349 146l5-9 5-7-5 23z"/><path fill="#b90" stroke="#b90" d="M405 93l5 15 5 2-5-19z"/><path fill="#980" stroke="#980" d="M364 110l5-15 5 3-5 17z"/><path fill="#aa0" stroke="#aa0" d="M420 121l5 21 5-2-5-15z"/><path fill="#a80" stroke="#a80" d="M379 85l5-6 5-1-5 11z"/><path fill="#8b0" stroke="#8b0" d="M435 156l5 4 5 4-5-8z"/><path fill="#8a0" stroke="#8a0" d="M338 161l5-11 6-4-5 12z"/><path fill="#c90" stroke="#c90" d="M394 81l5 15 6-3-5-9z"/><path fill="#aa0" stroke="#aa0" d="M354 137l4-25 6-2-5 20z"/><path fill="#ba0" stroke="#ba0" d="M410 108l4 16 6-3-5-11z"/><path fill="#a80" stroke="#a80" d="M369 95l5-15 5 5-5 13z"/><path fill="#ab0" stroke="#ab0" d="M425 142l5 12 5 2-5-16z"/><path fill="#6c0" stroke="#6c0" d="M328 171l5-3 5-7-5 5z"/><path fill="#da0" stroke="#da0" d="M384 79l5 10 5-8-5-3z"/><path fill="#7b0" stroke="#7b0" d="M440 160l5 9 5-4-5-1z"/><path fill="#9a0" stroke="#9a0" d="M343 150l5-18 6 5-5 9z"/><path fill="#ca0" stroke="#ca0" d="M399 96l5 14 6-2-5-15z"/><path fill="#b90" stroke="#b90" d="M358 112l5-13 6-4-5 15z"/><path fill="#bb0" stroke="#bb0" d="M414 124l5 20 6-2-5-21z"/><path fill="#b80" stroke="#b80" d="M374 80l5-1 5 0-5 6z"/><path fill="#9b0" stroke="#9b0" d="M430 154l5 9 5-3-5-4z"/><path fill="#8b0" stroke="#8b0" d="M333 168l5-15 5-3-5 11z"/><path fill="#c90" stroke="#c90" d="M389 89l5 0 5 7-5-15z"/><path fill="#990" stroke="#990" d="M348 132l5-15 5-5-4 25z"/><path fill="#ca0" stroke="#ca0" d="M404 110l5 17 5-3-4-16z"/><path fill="#b80" stroke="#b80" d="M363 99l5-19 6 0-5 15z"/><path fill="#ab0" stroke="#ab0" d="M419 144l5 10 6 0-5-12z"/><path fill="#5a0" stroke="#5a0" d="M323 172l5-5 5 1-5 3z"/><path fill="#a80" stroke="#a80" d="M379 79l5-2 5 12-5-10z"/><path fill="#7c0" stroke="#7c0" d="M435 163l4 9 6-3-5-9z"/><path fill="#9b0" stroke="#9b0" d="M338 153l5-12 5-9-5 18z"/><path fill="#b90" stroke="#b90" d="M394 89l5 22 5-1-5-14z"/><path fill="#a80" stroke="#a80" d="M353 117l5-26 5 8-5 13z"/><path fill="#bb0" stroke="#bb0" d="M409 127l5 19 5-2-5-20z"/><path fill="#a70" stroke="#a70" d="M368 80l5-10 6 9-5 1z"/><path fill="#8b0" stroke="#8b0" d="M424 154l5 12 6-3-5-9z"/><path fill="#7b0" stroke="#7b0" d="M328 167l4-6 6-8-5 15z"/><path fill="#a80" stroke="#a80" d="M384 77l4 13 6-1-5 0z"/><path fill="#aa0" stroke="#aa0" d="M343 141l5-21 5-3-5 15z"/><path fill="#ba0" stroke="#ba0" d="M399 111l5 14 5 2-5-17z"/><path fill="#a80" stroke="#a80" d="M358 91l5-9 5-2-5 19z"/><path fill="#ac0" stroke="#ac0" d="M414 146l5 15 5-7-5-10z"/><path fill="#5a0" stroke="#5a0" d="M317 177l5-11 6 1-5 5z"/><path fill="#a70" stroke="#a70" d="M373 70l5 3 6 4-5 2z"/><path fill="#7b0" stroke="#7b0" d="M429 166l5 9 5-3-4-9z"/><path fill="#9a0" stroke="#9a0" d="M332 161l5-24 6 4-5 12z"/><path fill="#b90" stroke="#b90" d="M388 90l5 17 6 4-5-22z"/><path fill="#a90" stroke="#a90" d="M348 120l5-27 5-2-5 26z"/><path fill="#aa0" stroke="#aa0" d="M404 125l5 17 5 4-5-19z"/><path fill="#b80" stroke="#b80" d="M363 82l5-11 5-1-5 10z"/><path fill="#9c0" stroke="#9c0" d="M419 161l5 7 5-2-5-12z"/><path fill="#7a0" stroke="#7a0" d="M322 166l5-9 5 4-4 6z"/><path fill="#b80" stroke="#b80" d="M378 73l5 16 5 1-4-13z"/><path fill="#990" stroke="#990" d="M337 137l5-21 6 4-5 21z"/><path fill="#b90" stroke="#b90" d="M393 107l5 17 6 1-5-14z"/><path fill="#a80" stroke="#a80" d="M353 93l5-14 5 3-5 9z"/><path fill="#9a0" stroke="#9a0" d="M409 142l4 17 6 2-5-15z"/><path fill="#5a0" stroke="#5a0" d="M312 176l5-6 5-4-5 11z"/><path fill="#d90" stroke="#d90" d="M368 71l5 5 5-3-5-3z"/><path fill="#7b0" stroke="#7b0" d="M424 168l5 10 5-3-5-9z"/><path fill="#8a0" stroke="#8a0" d="M327 157l5-13 5-7-5 24z"/><path fill="#b90" stroke="#b90" d="M383 89l5 18 5 0-5-17z"/><path fill="#a80" stroke="#a80" d="M342 116l5-20 6-3-5 27z"/><path fill="#bb0" stroke="#bb0" d="M398 124l5 24 6-6-5-17z"/><path fill="#a70" stroke="#a70" d="M358 79l4-11 6 3-5 11z"/><path fill="#8b0" stroke="#8b0" d="M413 159l5 13 6-4-5-7z"/><path fill="#7b0" stroke="#7b0" d="M317 170l5-8 5-5-5 9z"/><path fill="#c90" stroke="#c90" d="M373 76l5 9 5 4-5-16z"/><path fill="#990" stroke="#990" d="M332 144l5-31 5 3-5 21z"/><path fill="#ba0" stroke="#ba0" d="M388 107l5 21 5-4-5-17z"/><path fill="#b80" stroke="#b80" d="M347 96l5-17 6 0-5 14z"/><path fill="#ab0" stroke="#ab0" d="M403 148l5 14 5-3-4-17z"/><path fill="#6b0" stroke="#6b0" d="M306 179l5-4 6-5-5 6z"/><path fill="#a70" stroke="#a70" d="M362 68l5 0 6 8-5-5z"/><path fill="#6c0" stroke="#6c0" d="M418 172l5 7 6-1-5-10z"/><path fill="#8a0" stroke="#8a0" d="M322 162l5-19 5 1-5 13z"/><path fill="#b90" stroke="#b90" d="M378 85l5 18 5 4-5-18z"/><path fill="#a80" stroke="#a80" d="M337 113l5-16 5-1-5 20z"/><path fill="#bb0" stroke="#bb0" d="M393 128l5 19 5 1-5-24z"/><path fill="#a70" stroke="#a70" d="M352 79l5-17 5 6-4 11z"/><path fill="#8b0" stroke="#8b0" d="M408 162l5 16 5-6-5-13z"/><path fill="#7a0" stroke="#7a0" d="M311 175l5-14 6 1-5 8z"/><path fill="#a80" stroke="#a80" d="M367 68l5 13 6 4-5-9z"/><path fill="#990" stroke="#990" d="M327 143l5-26 5-4-5 31z"/><path fill="#a90" stroke="#a90" d="M383 103l4 20 6 5-5-21z"/><path fill="#a80" stroke="#a80" d="M342 97l5-23 5 5-5 17z"/><path fill="#9b0" stroke="#9b0" d="M398 147l5 13 5 2-5-14z"/><path fill="#5a0" stroke="#5a0" d="M301 183l5-10 5 2-5 4z"/><path fill="#b70" stroke="#b70" d="M357 62l5 5 5 1-5 0z"/><path fill="#6c0" stroke="#6c0" d="M413 178l5 3 5-2-5-7z"/><path fill="#890" stroke="#890" d="M316 161l5-20 6 2-5 19z"/><path fill="#b90" stroke="#b90" d="M372 81l5 24 6-2-5-18z"/><path fill="#a90" stroke="#a90" d="M332 117l4-19 6-1-5 16z"/><path fill="#aa0" stroke="#aa0" d="M387 123l5 27 6-3-5-19z"/><path fill="#a70" stroke="#a70" d="M347 74l5-11 5-1-5 17z"/><path fill="#7b0" stroke="#7b0" d="M403 160l5 19 5-1-5-16z"/><path fill="#7a0" stroke="#7a0" d="M306 173l5-6 5-6-5 14z"/><path fill="#b80" stroke="#b80" d="M362 67l5 12 5 2-5-13z"/><path fill="#990" stroke="#990" d="M321 141l5-19 6-5-5 26z"/><path fill="#ba0" stroke="#ba0" d="M377 105l5 23 5-5-4-20z"/><path fill="#a80" stroke="#a80" d="M336 98l5-27 6 3-5 23z"/><path fill="#ac0" stroke="#ac0" d="M392 150l5 15 6-5-5-13z"/><path fill="#5a0" stroke="#5a0" d="M296 185l5-9 5-3-5 10z"/><path fill="#b80" stroke="#b80" d="M352 63l5-1 5 5-5-5z"/><path fill="#9a0" stroke="#9a0" d="M311 167l5-23 5-3-5 20z"/><path fill="#b80" stroke="#b80" d="M367 79l5 21 5 5-5-24z"/><path fill="#a90" stroke="#a90" d="M326 122l5-27 5 3-4 19z"/><path fill="#bb0" stroke="#bb0" d="M382 128l5 24 5-2-5-27z"/><path fill="#a70" stroke="#a70" d="M341 71l5-10 6 2-5 11z"/><path fill="#8b0" stroke="#8b0" d="M397 165l5 13 6 1-5-19z"/><path fill="#7a0" stroke="#7a0" d="M301 176l5-11 5 2-5 6z"/><path fill="#b80" stroke="#b80" d="M357 62l4 19 6-2-5-12z"/><path fill="#990" stroke="#990" d="M316 144l5-23 5 1-5 19z"/><path fill="#b90" stroke="#b90" d="M372 100l5 30 5-2-5-23z"/><path fill="#a70" stroke="#a70" d="M331 95l5-26 5 2-5 27z"/><path fill="#9b0" stroke="#9b0" d="M387 152l5 11 5 2-5-15z"/><path fill="#5a0" stroke="#5a0" d="M290 183l5-7 6 0-5 9z"/><path fill="#c80" stroke="#c80" d="M346 61l5 2 6-1-5 1z"/><path fill="#6b0" stroke="#6b0" d="M402 178l5 9 6-5-5-3z"/><path fill="#890" stroke="#890" d="M306 165l4-20 6-1-5 23z"/><path fill="#c90" stroke="#c90" d="M361 81l5 20 6-1-5-21z"/><path fill="#a90" stroke="#a90" d="M321 121l5-20 5-6-5 27z"/><path fill="#aa0" stroke="#aa0" d="M377 130l5 19 5 3-5-24z"/><path fill="#b70" stroke="#b70" d="M336 69l5-8 5 0-5 10z"/><path fill="#7b0" stroke="#7b0" d="M392 163l5 15 5 0-5-13zM295 176l5-2 6-9-5 11z"/><path fill="#c80" stroke="#c80" d="M351 63l5 22 5-4-4-19z"/><path fill="#990" stroke="#990" d="M310 145l5-23 6-1-5 23z"/><path fill="#ba0" stroke="#ba0" d="M366 101l5 30 6-1-5-30z"/><path fill="#a80" stroke="#a80" d="M326 101l5-30 5-2-5 26z"/><path fill="#ab0" stroke="#ab0" d="M382 149l5 21 5-7-5-11z"/><path fill="#5a0" stroke="#5a0" d="M285 186l5-8 5-2-5 7z"/><path fill="#c80" stroke="#c80" d="M341 61l5 0 5 2-5-2z"/><path fill="#6b0" stroke="#6b0" d="M397 178l5 12 5-3-5-9z"/><path fill="#8a0" stroke="#8a0" d="M300 174l5-31 5 2-4 20z"/><path fill="#c90" stroke="#c90" d="M356 85l5 18 5-2-5-20z"/><path fill="#980" stroke="#980" d="M315 122l5-34 6 13-5 20z"/><path fill="#bb0" stroke="#bb0" d="M371 131l5 19 6-1-5-19z"/><path fill="#b80" stroke="#b80" d="M331 71l4-11 6 1-5 8z"/><path fill="#8c0" stroke="#8c0" d="M387 170l4 12 6-4-5-15z"/><path fill="#6a0" stroke="#6a0" d="M290 178l5-10 5 6-5 2z"/><path fill="#b80" stroke="#b80" d="M346 61l5 19 5 5-5-22z"/><path fill="#a90" stroke="#a90" d="M305 143l5-16 5-5-5 23z"/><path fill="#ba0" stroke="#ba0" d="M361 103l5 26 5 2-5-30z"/><path fill="#970" stroke="#970" d="M320 88l5-17 6 0-5 30z"/><path fill="#9b0" stroke="#9b0" d="M376 150l5 23 6-3-5-21z"/><path fill="#5b0" stroke="#5b0" d="M280 192l4-9 6-5-5 8z"/><path fill="#c80" stroke="#c80" d="M335 60l5 1 6 0-5 0z"/><path fill="#6b0" stroke="#6b0" d="M391 182l5 7 6 1-5-12z"/><path fill="#8a0" stroke="#8a0" d="M295 168l5-16 5-9-5 31z"/><path fill="#b90" stroke="#b90" d="M351 80l5 25 5-2-5-18z"/><path fill="#a80" stroke="#a80" d="M310 127l5-35 5-4-5 34z"/><path fill="#ab0" stroke="#ab0" d="M366 129l5 28 5-7-5-19z"/><path fill="#a70" stroke="#a70" d="M325 71l5-16 5 5-4 11z"/><path fill="#8b0" stroke="#8b0" d="M381 173l5 12 5-3-4-12z"/><path fill="#7b0" stroke="#7b0" d="M284 183l5-9 6-6-5 10z"/><path fill="#b80" stroke="#b80" d="M340 61l5 12 6 7-5-19z"/><path fill="#aa0" stroke="#aa0" d="M300 152l5-26 5 1-5 16z"/><path fill="#ba0" stroke="#ba0" d="M356 105l5 28 5-4-5-26z"/><path fill="#a70" stroke="#a70" d="M315 92l5-26 5 5-5 17z"/><path fill="#9b0" stroke="#9b0" d="M371 157l5 16 5 0-5-23z"/><path fill="#b80" stroke="#b80" d="M330 55l5 8 5-2-5-1z"/><path fill="#6b0" stroke="#6b0" d="M386 185l5 1 5 3-5-7z"/><path fill="#8a0" stroke="#8a0" d="M289 174l5-21 6-1-5 16z"/><path fill="#b80" stroke="#b80" d="M345 73l5 33 6-1-5-25z"/><path fill="#a80" stroke="#a80" d="M305 126l4-31 6-3-5 35z"/><path fill="#aa0" stroke="#aa0" d="M361 133l4 18 6 6-5-28z"/><path fill="#a70" stroke="#a70" d="M320 66l5-14 5 3-5 16z"/><path fill="#7b0" stroke="#7b0" d="M376 173l5 19 5-7-5-12z"/><path fill="#6a0" stroke="#6a0" d="M279 189l5-13 5-2-5 9z"/><path fill="#c90" stroke="#c90" d="M335 63l5 16 5-6-5-12z"/><path fill="#990" stroke="#990" d="M294 153l5-30 6 3-5 26z"/><path fill="#ba0" stroke="#ba0" d="M350 106l5 29 6-2-5-28z"/><path fill="#a80" stroke="#a80" d="M309 95l5-27 6-2-5 26z"/><path fill="#9b0" stroke="#9b0" d="M365 151l5 26 6-4-5-16z"/><path fill="#b70" stroke="#b70" d="M325 52l5 4 5 7-5-8z"/><path fill="#8a0" stroke="#8a0" d="M284 176l5-17 5-6-5 21z"/><path fill="#b90" stroke="#b90" d="M340 79l5 21 5 6-5-33z"/><path fill="#980" stroke="#980" d="M299 123l5-27 5-1-4 31z"/><path fill="#bb0" stroke="#bb0" d="M355 135l5 20 5-4-4-18z"/><path fill="#b70" stroke="#b70" d="M314 68l5-13 6-3-5 14z"/><path fill="#7b0" stroke="#7b0" d="M370 177l5 12 6 3-5-19z"/><path fill="#6a0" stroke="#6a0" d="M274 190l5-13 5-1-5 13z"/><path fill="#b80" stroke="#b80" d="M330 56l5 22 5 1-5-16z"/><path fill="#990" stroke="#990" d="M289 159l5-32 5-4-5 30z"/><path fill="#a90" stroke="#a90" d="M345 100l5 37 5-2-5-29z"/><path fill="#a80" stroke="#a80" d="M304 96l5-24 5-4-5 27z"/><path fill="#9b0" stroke="#9b0" d="M360 155l5 22 5 0-5-26z"/><path fill="#390" stroke="#390" d="M263 197l5-10 6 3-5 9z"/><path fill="#c80" stroke="#c80" d="M319 55l5 1 6 0-5-4z"/><path fill="#8a0" stroke="#8a0" d="M279 177l4-16 6-2-5 17z"/><path fill="#b90" stroke="#b90" d="M335 78l4 25 6-3-5-21z"/><path fill="#a90" stroke="#a90" d="M294 127l5-27 5-4-5 27z"/><path fill="#bb0" stroke="#bb0" d="M350 137l5 22 5-4-5-20z"/><path fill="#b70" stroke="#b70" d="M309 72l5-17 5 0-5 13z"/><path fill="#7b0" stroke="#7b0" d="M365 177l5 9 5 3-5-12z"/><path fill="#6a0" stroke="#6a0" d="M268 187l5-10 6 0-5 13z"/><path fill="#b70" stroke="#b70" d="M324 56l5 15 6 7-5-22z"/><path fill="#990" stroke="#990" d="M283 161l5-27 6-7-5 32z"/><path fill="#ba0" stroke="#ba0" d="M339 103l5 35 6-1-5-37z"/><path fill="#a80" stroke="#a80" d="M299 100l5-26 5-2-5 24z"/><path fill="#9b0" stroke="#9b0" d="M355 159l5 21 5-3-5-22z"/><path fill="#4a0" stroke="#4a0" d="M258 201l5-9 5-5-5 10z"/><path fill="#c80" stroke="#c80" d="M314 55l5 4 5-3-5-1z"/><path fill="#5a0" stroke="#5a0" d="M370 186l5 11 5 0-5-8z"/><path fill="#8b0" stroke="#8b0" d="M273 177l5-9 5-7-4 16z"/><path fill="#b90" stroke="#b90" d="M329 71l5 39 5-7-4-25z"/><path fill="#a90" stroke="#a90" d="M288 134l5-34 6 0-5 27z"/><path fill="#ab0" stroke="#ab0" d="M344 138l5 31 6-10-5-22z"/><path fill="#a70" stroke="#a70" d="M304 74l5-20 5 1-5 17z"/><path fill="#7c0" stroke="#7c0" d="M360 180l4 15 6-9-5-9z"/><path fill="#6a0" stroke="#6a0" d="M263 192l5-13 5-2-5 10z"/><path fill="#c80" stroke="#c80" d="M319 59l5 19 5-7-5-15z"/><path fill="#9a0" stroke="#9a0" d="M278 168l5-30 5-4-5 27z"/><path fill="#ba0" stroke="#ba0" d="M334 110l5 27 5 1-5-35z"/><path fill="#a80" stroke="#a80" d="M293 100l5-27 6 1-5 26z"/><path fill="#9b0" stroke="#9b0" d="M349 169l5 6 6 5-5-21z"/><path fill="#c80" stroke="#c80" d="M309 54l4 6 6-1-5-4z"/><path fill="#5c0" stroke="#5c0" d="M364 195l5 6 6-4-5-11z"/><path fill="#8a0" stroke="#8a0" d="M268 179l5-15 5 4-5 9z"/><path fill="#b90" stroke="#b90" d="M324 78l5 25 5 7-5-39z"/><path fill="#980" stroke="#980" d="M283 138l5-38 5 0-5 34z"/><path fill="#aa0" stroke="#aa0" d="M339 137l5 31 5 1-5-31z"/><path fill="#a70" stroke="#a70" d="M298 73l5-21 6 2-5 20z"/><path fill="#6a0" stroke="#6a0" d="M354 175l5 18 5 2-4-15z"/><path fill="#6b0" stroke="#6b0" d="M257 198l5-6 6-13-5 13z"/><path fill="#b80" stroke="#b80" d="M313 60l5 16 6 2-5-19z"/><path fill="#890" stroke="#890" d="M273 164l5-26 5 0-5 30z"/><path fill="#a90" stroke="#a90" d="M329 103l5 36 5-2-5-27z"/><path fill="#a70" stroke="#a70" d="M288 100l5-32 5 5-5 27z"/><path fill="#9c0" stroke="#9c0" d="M344 168l5 17 5-10-5-6z"/><path fill="#a60" stroke="#a60" d="M303 52l5-4 5 12-4-6z"/><path fill="#4a0" stroke="#4a0" d="M359 193l5 4 5 4-5-6z"/><path fill="#8b0" stroke="#8b0" d="M262 192l5-20 6-8-5 15z"/><path fill="#b90" stroke="#b90" d="M318 76l5 29 6-2-5-25z"/><path fill="#a80" stroke="#a80" d="M278 138l5-34 5-4-5 38z"/><path fill="#aa0" stroke="#aa0" d="M334 139l4 33 6-4-5-31z"/><path fill="#a70" stroke="#a70" d="M293 68l5-18 5 2-5 21z"/><path fill="#7c0" stroke="#7c0" d="M349 185l5 10 5-2-5-18z"/><path fill="#5a0" stroke="#5a0" d="M252 198l5-9 5 3-5 6z"/><path fill="#a70" stroke="#a70" d="M308 48l5 25 5 3-5-16z"/><path fill="#9a0" stroke="#9a0" d="M267 172l5-28 6-6-5 26z"/><path fill="#ba0" stroke="#ba0" d="M323 105l5 35 6-1-5-36z"/><path fill="#a70" stroke="#a70" d="M283 104l4-37 6 1-5 32z"/><path fill="#9b0" stroke="#9b0" d="M338 172l5 14 6-1-5-17z"/><path fill="#d80" stroke="#d80" d="M298 50l5 5 5-7-5 4z"/><path fill="#5c0" stroke="#5c0" d="M354 195l5 9 5-7-5-4z"/><path fill="#7a0" stroke="#7a0" d="M257 189l5-10 5-7-5 20z"/><path fill="#b90" stroke="#b90" d="M313 73l5 39 5-7-5-29z"/><path fill="#a90" stroke="#a90" d="M272 144l5-34 6-6-5 34z"/><path fill="#aa0" stroke="#aa0" d="M328 140l5 34 5-2-4-33z"/><path fill="#b70" stroke="#b70" d="M287 67l5-11 6-6-5 18z"/><path fill="#7b0" stroke="#7b0" d="M343 186l5 10 6-1-5-10z"/><path fill="#6b0" stroke="#6b0" d="M247 204l5-10 5-5-5 9z"/><path fill="#c80" stroke="#c80" d="M303 55l5 21 5-3-5-25z"/><path fill="#990" stroke="#990" d="M262 179l5-35 5 0-5 28z"/><path fill="#ba0" stroke="#ba0" d="M318 112l5 35 5-7-5-35z"/><path fill="#a80" stroke="#a80" d="M277 110l5-37 5-6-4 37z"/><path fill="#9b0" stroke="#9b0" d="M333 174l5 18 5-6-5-14z"/><path fill="#d80" stroke="#d80" d="M292 56l5 0 6-1-5-5z"/><path fill="#5b0" stroke="#5b0" d="M348 196l5 11 6-3-5-9z"/><path fill="#7a0" stroke="#7a0" d="M252 194l5-19 5 4-5 10z"/><path fill="#b90" stroke="#b90" d="M308 76l4 34 6 2-5-39z"/><path fill="#990" stroke="#990" d="M267 144l5-32 5-2-5 34z"/><path fill="#ab0" stroke="#ab0" d="M323 147l5 27 5 0-5-34z"/><path fill="#b70" stroke="#b70" d="M282 73l5-16 5-1-5 11z"/><path fill="#7c0" stroke="#7c0" d="M338 192l5 6 5-2-5-10z"/><path fill="#5a0" stroke="#5a0" d="M241 205l5-8 6-3-5 10z"/><path fill="#b80" stroke="#b80" d="M297 56l5 22 6-2-5-21z"/><path fill="#890" stroke="#890" d="M257 175l4-29 6-2-5 35z"/><path fill="#ba0" stroke="#ba0" d="M312 110l5 38 6-1-5-35z"/><path fill="#a80" stroke="#a80" d="M272 112l5-35 5-4-5 37z"/><path fill="#8b0" stroke="#8b0" d="M328 174l5 16 5 2-5-18z"/><path fill="#d90" stroke="#d90" d="M287 57l5 6 5-7-5 0z"/><path fill="#4b0" stroke="#4b0" d="M343 198l5 10 5-1-5-11z"/><path fill="#7a0" stroke="#7a0" d="M246 197l5-15 6-7-5 19z"/><path fill="#b90" stroke="#b90" d="M302 78l5 35 5-3-4-34z"/><path fill="#a90" stroke="#a90" d="M261 146l5-29 6-5-5 32z"/><path fill="#aa0" stroke="#aa0" d="M317 148l5 26 6 0-5-27z"/><path fill="#a70" stroke="#a70" d="M277 77l5-20 5 0-5 16z"/><path fill="#7b0" stroke="#7b0" d="M333 190l5 17 5-9-5-6z"/><path fill="#5b0" stroke="#5b0" d="M236 205l5-2 5-6-5 8z"/><path fill="#c80" stroke="#c80" d="M292 63l5 17 5-2-5-22z"/><path fill="#9a0" stroke="#9a0" d="M251 182l5-25 5-11-4 29z"/><path fill="#ba0" stroke="#ba0" d="M307 113l5 39 5-4-5-38z"/><path fill="#a80" stroke="#a80" d="M266 117l5-34 6-6-5 35z"/><path fill="#8b0" stroke="#8b0" d="M322 174l5 28 6-12-5-16z"/><path fill="#c80" stroke="#c80" d="M282 57l4 5 6 1-5-6z"/><path fill="#4c0" stroke="#4c0" d="M338 207l4 6 6-5-5-10z"/><path fill="#7a0" stroke="#7a0" d="M241 203l5-16 5-5-5 15z"/><path fill="#b90" stroke="#b90" d="M297 80l5 38 5-5-5-35z"/><path fill="#a90" stroke="#a90" d="M256 157l5-33 5-7-5 29z"/><path fill="#ab0" stroke="#ab0" d="M312 152l5 27 5-5-5-26z"/><path fill="#b70" stroke="#b70" d="M271 83l5-20 6-6-5 20z"/><path fill="#6c0" stroke="#6c0" d="M327 202l5 3 6 2-5-17z"/><path fill="#c80" stroke="#c80" d="M286 62l5 28 6-10-5-17z"/><path fill="#9a0" stroke="#9a0" d="M246 187l5-20 5-10-5 25z"/><path fill="#ba0" stroke="#ba0" d="M302 118l5 35 5-1-5-39z"/><path fill="#a80" stroke="#a80" d="M261 124l5-32 5-9-5 34z"/><path fill="#8b0" stroke="#8b0" d="M317 179l5 20 5 3-5-28z"/><path fill="#d80" stroke="#d80" d="M276 63l5 0 5-1-4-5z"/><path fill="#6a0" stroke="#6a0" d="M235 207l5-16 6-4-5 16z"/><path fill="#c90" stroke="#c90" d="M291 90l5 31 6-3-5-38z"/><path fill="#a90" stroke="#a90" d="M251 167l5-38 5-5-5 33z"/><path fill="#ab0" stroke="#ab0" d="M307 153l5 30 5-4-5-27z"/><path fill="#b80" stroke="#b80" d="M266 92l5-21 5-8-5 20z"/><path fill="#6b0" stroke="#6b0" d="M322 199l5 10 5-4-5-3z"/><path fill="#b80" stroke="#b80" d="M281 63l5 28 5-1-5-28z"/><path fill="#890" stroke="#890" d="M240 191l5-26 6 2-5 20z"/><path fill="#ba0" stroke="#ba0" d="M296 121l5 39 6-7-5-35z"/><path fill="#a80" stroke="#a80" d="M256 129l4-27 6-10-5 32z"/><path fill="#8b0" stroke="#8b0" d="M312 183l4 17 6-1-5-20z"/><path fill="#e90" stroke="#e90" d="M271 71l5 4 5-12-5 0z"/><path fill="#7b0" stroke="#7b0" d="M230 210l5-7 5-12-5 16z"/><path fill="#b90" stroke="#b90" d="M286 91l5 32 5-2-5-31z"/><path fill="#a90" stroke="#a90" d="M245 165l5-24 6-12-5 38z"/><path fill="#ab0" stroke="#ab0" d="M301 160l5 27 6-4-5-30z"/><path fill="#b80" stroke="#b80" d="M260 102l5-17 6-14-5 21z"/><path fill="#6b0" stroke="#6b0" d="M316 200l5 12 6-3-5-10z"/><path fill="#c80" stroke="#c80" d="M276 75l5 22 5-6-5-28z"/><path fill="#9a0" stroke="#9a0" d="M235 203l5-27 5-11-5 26z"/><path fill="#ba0" stroke="#ba0" d="M291 123l5 42 5-5-5-39z"/><path fill="#b90" stroke="#b90" d="M250 141l5-27 5-12-4 27z"/><path fill="#8b0" stroke="#8b0" d="M306 187l5 19 5-6-4-17z"/><path fill="#e90" stroke="#e90" d="M265 85l5-2 6-8-5-4z"/><path fill="#6b0" stroke="#6b0" d="M225 209l5 0 5-6-5 7z"/><path fill="#c90" stroke="#c90" d="M281 97l5 39 5-13-5-32z"/><path fill="#ba0" stroke="#ba0" d="M240 176l5-24 5-11-5 24z"/><path fill="#ab0" stroke="#ab0" d="M296 165l5 26 5-4-5-27z"/><path fill="#c80" stroke="#c80" d="M255 114l5-17 5-12-5 17z"/><path fill="#6c0" stroke="#6c0" d="M311 206l5 9 5-3-5-12z"/><path fill="#c90" stroke="#c90" d="M270 83l5 21 6-7-5-22z"/><path fill="#9b0" stroke="#9b0" d="M230 209l4-13 6-20-5 27z"/><path fill="#ba0" stroke="#ba0" d="M286 136l4 32 6-3-5-42z"/><path fill="#b90" stroke="#b90" d="M245 152l5-25 5-13-5 27z"/><path fill="#7b0" stroke="#7b0" d="M301 191l5 17 5-2-5-19z"/><path fill="#ea0" stroke="#ea0" d="M260 97l5 0 5-14-5 2z"/><path fill="#b90" stroke="#b90" d="M275 104l5 41 6-9-5-39z"/><path fill="#bb0" stroke="#bb0" d="M234 196l5-26 6-18-5 24z"/><path fill="#ab0" stroke="#ab0" d="M290 168l5 26 6-3-5-26z"/><path fill="#c90" stroke="#c90" d="M250 127l5-15 5-15-5 17z"/><path fill="#5b0" stroke="#5b0" d="M306 208l5 7 5 0-5-9z"/><path fill="#d90" stroke="#d90" d="M265 97l5 22 5-15-5-21z"/><path fill="#9c0" stroke="#9c0" d="M224 214l5-2 5-16-4 13z"/><path fill="#bb0" stroke="#bb0" d="M280 145l5 32 5-9-4-32z"/><path fill="#ca0" stroke="#ca0" d="M239 170l5-15 6-28-5 25z"/><path fill="#7b0" stroke="#7b0" d="M295 194l5 17 6-3-5-17z"/><path fill="#ea0" stroke="#ea0" d="M255 112l5 3 5-18-5 0z"/><path fill="#ca0" stroke="#ca0" d="M270 119l5 35 5-9-5-41z"/><path fill="#bb0" stroke="#bb0" d="M229 212l5-14 5-28-5 26z"/><path fill="#ab0" stroke="#ab0" d="M285 177l5 24 5-7-5-26z"/><path fill="#da0" stroke="#da0" d="M244 155l5-15 6-28-5 15z"/><path fill="#5c0" stroke="#5c0" d="M300 211l5 10 6-6-5-7z"/><path fill="#da0" stroke="#da0" d="M260 115l4 20 6-16-5-22z"/><path fill="#bb0" stroke="#bb0" d="M275 154l5 28 5-5-5-32z"/><path fill="#cb0" stroke="#cb0" d="M234 198l5-15 5-28-5 15z"/><path fill="#7c0" stroke="#7c0" d="M290 201l5 16 5-6-5-17z"/><path fill="#ea0" stroke="#ea0" d="M249 140l5 0 6-25-5-3z"/><path fill="#ca0" stroke="#ca0" d="M264 135l5 30 6-11-5-35z"/><path fill="#7a0" stroke="#7a0" d="M224 225l5 0 5-27-5 14z"/><path fill="#9b0" stroke="#9b0" d="M280 182l5 26 5-7-5-24z"/><path fill="#db0" stroke="#db0" d="M239 183l5 0 5-43-5 15z"/><path fill="#da0" stroke="#da0" d="M254 140l5 23 5-28-4-20z"/><path fill="#bb0" stroke="#bb0" d="M269 165l5 27 6-10-5-28z"/><path fill="#9a0" stroke="#9a0" d="M229 225l5 1 5-43-5 15z"/><path fill="#7b0" stroke="#7b0" d="M285 208l5 7 5 2-5-16z"/><path fill="#eb0" stroke="#eb0" d="M244 183l5-6 5-37-5 0z"/><path fill="#db0" stroke="#db0" d="M259 163l5 23 5-21-5-30z"/><path fill="#9b0" stroke="#9b0" d="M274 192l5 18 6-2-5-26z"/><path fill="#9a0" stroke="#9a0" d="M234 226l4 5 6-48-5 0z"/><path fill="#db0" stroke="#db0" d="M249 177l5 16 5-30-5-23z"/><path fill="#cc0" stroke="#cc0" d="M264 186l5 15 5-9-5-27z"/><path fill="#7c0" stroke="#7c0" d="M279 210l5 8 6-3-5-7z"/><path fill="#aa0" stroke="#aa0" d="M238 231l5-3 6-51-5 6z"/><path fill="#dc0" stroke="#dc0" d="M254 193l5 8 5-15-5-23z"/><path fill="#ac0" stroke="#ac0" d="M269 201l5 16 5-7-5-18z"/><path fill="#aa0" stroke="#aa0" d="M243 228l5-2 6-33-5-16z"/><path fill="#cc0" stroke="#cc0" d="M259 201l5 17 5-17-5-15z"/><path fill="#7c0" stroke="#7c0" d="M274 217l5 9 5-8-5-8z"/><path fill="#9a0" stroke="#9a0" d="M248 226l5 9 6-34-5-8z"/><path fill="#ad0" stroke="#ad0" d="M264 218l4 4 6-5-5-16z"/><path fill="#7a0" stroke="#7a0" d="M253 235l5-5 6-12-5-17z"/><path fill="#6c0" stroke="#6c0" d="M268 222l5 7 6-3-5-9z"/><path fill="#6a0" stroke="#6a0" d="M258 230l5 3 5-11-4-4z"/><path fill="#290" stroke="#290" d="M309 227l5-7 5 9-5 2z"/><path fill="#380" stroke="#380" d="M314 220l5-7 5 13-5 3z"/><path fill="#3a0" stroke="#3a0" d="M303 234l5-15 6 1-5 7z"/><path fill="#390" stroke="#390" d="M319 213l4 13 6 8-5-8z"/><path fill="#480" stroke="#480" d="M308 219l5-20 6 14-5 7z"/><path fill="#390" stroke="#390" d="M298 234l5-18 5 3-5 15z"/><path fill="#590" stroke="#590" d="M313 199l5 20 5 7-4-13z"/><path fill="#5a0" stroke="#5a0" d="M303 216l5-12 5-5-5 20z"/><path fill="#390" stroke="#390" d="M318 219l5 17 5 3-5-13z"/><path fill="#380" stroke="#380" d="M293 235l4-8 6-11-5 18z"/><path fill="#6b0" stroke="#6b0" d="M308 204l5 14 5 1-5-20z"/><path fill="#590" stroke="#590" d="M297 227l5-11 6-12-5 12z"/><path fill="#3a0" stroke="#3a0" d="M313 218l5 22 5-4-5-17z"/><path fill="#5a0" stroke="#5a0" d="M302 216l5 14 6-12-5-14z"/><path fill="#390" stroke="#390" d="M307 230l5 10 6 0-5-22z"/></g></g>
<path d="M38.8 284.1L239.6 327.2" stroke="#8a8a8a" stroke-width="1" fill="none"/>
<path d="M40.4 285.3l-.8 2.8M48.1 287.0l-.8 2.8M55.9 288.7l-.8 2.8M63.6 290.3l-.8 2.8M71.4 292.0l-.8 2.8M79.2 293.7l-.8 2.8M86.9 295.3l-.8 2.8M94.7 297.0l-.8 2.8M102.4 298.7l-.8 2.8M110.2 300.3l-.8 2.8M117.9 302.0l-.8 2.8M125.7 303.6l-.8 2.8M133.4 305.3l-.8 2.8M141.2 307.0l-.8 2.8M148.9 308.6l-.8 2.8M156.7 310.3l-.8 2.8M164.4 312.0l-.8 2.8M172.2 313.6l-.8 2.8M179.9 315.3l-.8 2.8M187.7 316.9l-.8 2.8M195.4 318.6l-.8 2.8M203.2 320.3l-.8 2.8M210.9 321.9l-.8 2.8M218.7 323.6l-.8 2.8M226.4 325.3l-.8 2.8M234.2 326.9l-.8 2.8M244.5 326.3l.5 2.4M249.1 324.8l.5 2.4M253.7 323.3l.5 2.4M258.3 321.8l.5 2.4M262.9 320.3l.5 2.4M267.5 318.8l.5 2.4M272.1 317.3l.5 2.4M276.7 315.8l.5 2.4M281.3 314.3l.5 2.4M285.9 312.8l.5 2.4M290.5 311.3l.5 2.4M295.1 309.8l.5 2.4M299.7 308.3l.5 2.4M304.3 306.9l.5 2.4M308.9 305.4l.5 2.4M313.5 303.9l.5 2.4M318.1 302.4l.5 2.4M322.7 300.9l.5 2.4M327.3 299.4l.5 2.4M331.9 297.9l.5 2.4M336.5 296.4l.5 2.4M341.1 294.9l.5 2.4M345.7 293.4l.5 2.4M350.3 291.9l.5 2.4M354.9 290.4l.5 2.4M359.5 288.9l.5 2.4M364.1 287.4l.5 2.4M368.7 285.9l.5 2.4M373.3 284.4l.5 2.4M377.9 282.9l.5 2.4M382.5 281.4l.5 2.4M387.1 279.9l.5 2.4M391.7 278.4l.5 2.4M396.3 276.9l.5 2.4" stroke="#999" stroke-width=".9" fill="none"/>
<g><g transform="scale(.5)" stroke-width="1" stroke-linejoin="round"><path fill="#066" stroke="#066" d="M78 568l4 3 7-1-5 2zM160 589l5-1 6 1-5-2zM174 591l5 0 6 1-5-2zM578 619l5 4 6-3-4 3z"/><path fill="#064" stroke="#064" d="M82 571l5-6 6 6-4-1zM150 581l5 3 6 2-5 0z"/><path fill="#073" stroke="#073" d="M87 565l5 5 6-2-5 3zM493 646l5-2 6 3-5 3zM634 602l4-4 7 3-5-1zM652 598l5-6 6 3-5-2zM750 557l5 9 6-1-5-3zM787 550l5 1 6-3-5 8z"/><path fill="#075" stroke="#075" d="M92 570l5 4 6-1-5-5zM97 574l5-1 6-2-5 2zM126 575l5 8 6-7-5 4zM170 586l4 5 6-1-4-2zM179 591l5 0 6-2-5 3zM194 592l5 2 6 0-5 1zM203 594l5 5 6-4-4-1zM295 618l5 0 6-9-5 10zM368 630l5 5 6-1-5-8zM373 635l5-3 6-5-5 7zM416 641l5 0 6 5-5-7zM455 649l5 3 6-1-5-4zM460 652l5 0 6-2-5 1zM247 587l5 2 6 4-5 5zM499 650l5-3 6-4-5 1zM572 622l5 1 6 0-5-4zM640 600l5 1 6-1-5 0zM664 592l5 2 6-1-5-3zM670 590l5 3 6-3-5-3zM676 587l5 3 6-1-4-4zM683 585l4 4 7-1-5-4zM719 575l5-1 6-1-5 1zM732 574l4-2 7-11-5 11zM539 499l4 0 7 2-5 8z"/><path fill="#074" stroke="#074" d="M102 573l5 0 6 2-5-4zM145 583l5-2 6 5-5-6zM199 594l4 0 7 0-5 0zM286 612l4 4 7-2-5 0zM387 635l5-2 6 3-5-2zM392 633l5 3 6 0-5 0zM470 658l4-8 6-1-4 2zM548 630l5-2 6 1-5 2zM566 623l5 3 6-3-5-1zM597 614l5-2 6 3-5-3zM621 607l5-3 6 0-5 4zM658 593l5 2 6-1-5-2zM738 572l5-11 6 9-5-4zM762 560l5-1 6 2-5-3zM774 558l5-5 6 1-4 2zM793 556l5-8 6-2-5 4z"/><path fill="#082" stroke="#082" d="M107 573l4 0 7-5-5 7zM116 576l5-1 6-4-5 3zM121 575l5 0 6 5-5-9zM232 602l5-4 6-2-4 5zM358 624l5 8 6-5-5 1z"/><path fill="#092" stroke="#092" d="M111 573l5 3 6-2-4-6zM300 618l5-3 6-3-5-3zM243 596l5 0 6 2-4 5zM256 592l4 0 7 3-5 3zM455 596l5-1 6 2-5 3zM367 552l5 3 6 3-5-3zM560 560l5 1 6-1-5 5zM535 549l5-7 6 6-5-2zM664 553l5-3 6 3-5 0z"/><path fill="#076" stroke="#076" d="M131 583l5-1 6 0-5-6zM136 582l5 3 6-6-5 3zM155 584l5 5 6-2-5-1zM189 597l5-5 6 3-5-6zM208 599l5 1 6-2-5-3zM213 600l5 0 6-5-5 3zM290 616l5 2 6 1-4-5zM407 638l4 6 7-3-5-3zM411 644l5-3 6-2-4 2zM421 641l5 6 6-6-5 5zM465 652l5 6 6-7-5-1zM525 631l4 4 7 5-5-3zM192 557l5 2 6 3-5 5zM536 640l4-4 7-5-5 5zM244 562l5-3 6 4-5 2zM259 567l5-8 6 9-5-1zM554 631l5-2 6 0-5 0zM560 629l5 0 6-3-5-3zM585 623l4-3 7-4-5 4zM603 612l5 3 6-2-5-1zM689 584l5 4 6-2-5-1zM695 585l5 1 6-4-5 2zM701 584l5-2 6-3-5 3zM710 570l5 3 6 2-5 1zM725 574l5-1 6-1-4 2zM646 546l5 1 6 2-5 6z"/><path fill="#085" stroke="#085" d="M141 585l4-2 6-3-4-1zM184 591l5 6 6-8-5 0zM445 650l5-1 6-4-5-1zM414 633l5 0 6 3-5-2zM419 633l5 1 6 3-5-1zM144 573l5-4 6 5-5 0zM418 622l5 2 6 1-5 4zM432 628l5-4 6 8-4-2zM199 569l5-4 6 4-5 1zM496 631l4-6 7 2-5 3zM187 556l5 1 6 10-5-12zM179 552l5 1 6 1-5 2zM290 573l5 4 6 5-5-5zM522 625l5 0 6 5-4-1zM527 625l5 4 6 1-5 0zM542 636l5-5 6-3-5 2zM514 624l5-5 6 2-5 5zM481 608l5 5 6 3-4-6zM289 562l5 7 6 1-5-2zM398 586l5-4 6 3-5 0zM317 563l5-3 6 7-5-4zM591 620l5-4 6-4-5 2zM297 548l5 1 6 3-5-3zM355 564l5-6 6 6-5 0zM575 596l5 8 6 1-5-2zM580 604l5-3 6 3-5 1zM609 612l5 1 6-5-5-1zM375 550l4 3 7 1-5 0zM525 582l4 2 7 3-5 1zM347 544l5-4 6 4-5 0zM352 540l5 4 6 4-5-4zM611 592l5 2 6-3-5 6zM646 600l5 0 6-8-5 6zM355 522l4 1 7 6-5-3zM359 523l5 3 6 3-4 0zM386 525l5-2 6 2-5 2zM310 508l5-6 6 2-5 3zM325 508l4-1 7 6-5-4zM329 507l5 2 6 0-4 4zM596 565l4-1 6 7-4-4zM595 554l4 3 6 4-4-5zM653 570l4-2 7 1-5 2zM707 582l5-3 6-1-5-5zM631 555l5 2 6 5-5-4zM468 520l5-4 6 3-5 5zM477 518l5 4 6 6-4-7zM672 560l5-1 6-1-5 6zM407 501l5-5 6 5-4 0zM389 492l5-1 6 6-5-6zM394 491l5 2 6 0-5 4zM404 495l5 1 6 2-5-2zM496 518l5-5 6 3-5 1zM368 481l5 0 6 1-5 1zM406 487l5 4 6 3-4-5zM720 547l5-2 6 4-5 0zM423 474l4 3 6 0-4 2zM597 513l5 0 6 2-5 3zM666 525l5 0 6 5-5-5zM671 525l4 1 7 1-5 3z"/><path fill="#065" stroke="#065" d="M165 588l5-2 6 2-5 1zM517 637l5 4 6 2-5-2zM529 635l5-1 6 2-4 4z"/><path fill="#084" stroke="#084" d="M218 600l5-1 6-3-5-1zM223 599l5 2 6-4-5-1zM228 601l4 1 7-1-5-4zM363 632l5-2 6-4-5 1zM382 634l5 1 6-1-4-6zM426 647l5-6 6-1-5 1zM436 645l4 1 7-3-5 0zM440 646l5 4 6-6-4-1zM450 649l5 0 6-2-5-2zM234 583l5 1 6-2-5 8zM150 561l4-5 6 8-4-5zM249 559l5 1 6 3-5 0zM333 561l5 0 6 5-5-3zM229 535l5-6 6 5-5 2zM362 558l5-6 6 3-5 4zM277 533l4 0 6 2-4 1zM446 570l5-3 6 4-5 3zM365 547l5 2 6 1-5 3zM627 608l5-4 6-6-4 4zM342 524l5 4 6 2-5 1zM629 583l5 4 6 1-5 1zM655 590l4-4 7 0-5 7zM420 532l5-1 6-2-5 8zM713 573l5 5 6-4-5 1zM557 528l5 2 6 2-4 4zM744 566l5 4 6-4-5-9zM756 562l5 3 6-6-5 1zM768 558l5 3 6-8-5 5zM763 545l4-2 6 7-4-3z"/><path fill="#191" stroke="#191" d="M237 598l5 2 6-4-5 0zM281 609l5 3 6 2-5-9zM315 619l5-1 6-7-5 4zM475 579l4 12 7-3-5 4zM486 522l5 2 6 4-5 1z"/><path fill="#290" stroke="#290" d="M242 600l5 3 6-4-5-3zM533 551l4 2 7 4-5-2z"/><path fill="#093" stroke="#093" d="M305 615l5 5 6-7-5-1zM310 620l5-1 6-4-5-2zM378 632l4 2 7-6-5-1zM474 650l5 8 6-9-5 0zM118 568l4 6 7-3-5 3zM306 609l5 3 6 2-5 0zM311 612l5 1 6 4-5-3zM384 627l5 1 6 5-5-6zM158 575l4 2 7 2-5-2zM433 638l5-5 6 6-4-5zM328 611l5-2 6 2-5 0zM175 574l5-2 6 4-5-2zM220 580l4-1 6 2-4 2zM321 600l5 4 6-1-5 0zM401 611l5 1 6 6-5-3zM204 565l5 1 6 4-5-1zM441 616l5 1 6 2-5-1zM446 617l5 3 6 1-5-2zM462 616l5 5 6-1-5 0zM149 548l4-1 6 2-4 1zM279 578l5-2 6-3-5 7zM374 592l5-5 6 5-5 0zM317 579l5-6 6 1-5 4zM338 561l5 1 6 2-5 2zM343 562l5 3 6 3-5-4zM348 565l4 2 6 0-4 1zM426 582l5-4 6 1-5 3zM484 589l5 2 6 3-5-4zM570 599l5-3 6 7-4-4zM450 561l5 0 6-2-5 6zM360 533l5 1 6 2-5 0zM375 537l5 0 6 1-5 1zM374 525l5 2 6 3-5-4zM314 510l4-5 7 3-5 0zM518 548l5 0 6 3-5-1zM635 570l5 0 6 2-4-2zM304 487l5 9 6 0-5-5zM512 538l5 1 6 2-5-3zM657 568l5-2 6 5-4-2zM554 540l4 3 7-4-5 5zM592 548l5-1 6 5-5-1zM650 562l5-5 6 5-5-1zM473 516l4 2 7 3-5-2zM600 544l5 3 6 1-5-2zM364 492l5-8 6 1-5 7zM543 530l5-4 6 0-5 3zM468 508l5-6 6 1-5 2zM565 525l5-2 6 6-5-4zM570 523l4 4 7-2-5 4zM686 547l5 6 6 0-5 0zM632 530l4 1 7 0-5 3zM728 555l5-9 6 8-5-6zM541 510l5-4 6 7-5-5zM580 514l4 3 7-3-5 5zM705 543l5-3 6 5-4-4zM710 540l5 5 6 1-5-1zM692 537l5-2 6 4-5-4zM606 509l5 6 6-1-4 4zM594 508l5-4 6 5-4 0zM657 517l5 3 6 4-5-6z"/><path fill="#180" stroke="#180" d="M353 621l5 3 6 4-4-6z"/><path fill="#083" stroke="#083" d="M397 636l5-1 6-1-5 2zM402 635l5 3 6 0-5-4zM431 641l5 4 6-2-5-3zM487 649l4 2 7-7-5 2zM437 624l5 2 6 1-5 5zM505 644l5-1 6-2-5-2zM511 639l5 2 6 0-5-4zM547 588l5 1 6 4-4 2zM615 607l5 1 6-4-5 3zM655 557l5 4 6 7-5-6zM620 542l5 1 6 2-5 4zM602 513l4-4 7 9-5-3zM781 556l4-2 7-3-5-1z"/><path fill="#098" stroke="#098" d="M84 572l5-2 6-2-5-4zM166 587l5 2 6-5-5-4zM171 589l5-1 6-1-5-3zM176 588l4 2 7-4-5 1zM180 590l5 2 6-3-4-3zM297 614l4 5 7-7-5 0zM422 639l5 7 6-8-4 0zM95 568l5 1 6-1-5-4zM211 589l5 11 6-10-5 2zM216 600l4-8 7-1-5-1zM198 588l4-1 7-2-5-3zM212 591l5 1 6 0-5-8zM227 591l4 5 7-5-5-2zM231 596l5-2 6-2-4-1zM420 634l5 2 6-4-5 0zM444 639l5 3 6-1-5-7zM107 563l5 4 6-6-5-3zM150 574l5 0 6-1-4-6zM155 574l5 3 6-6-5 2zM160 577l5 2 6-4-5-4zM417 632l4-1 7-1-5-6zM249 588l4 10 7-7-5-4zM457 635l4 3 7-7-5 2zM269 593l5 0 6-3-5 0zM439 630l4 2 6-7-4-1zM416 618l4 7 7-9-5 5zM430 623l5 5 6-12-5 5zM127 555l4 1 7-5-5 2zM156 559l4 5 7-2-5-5zM475 629l5 3 6-5-5 0zM480 632l5 1 6-4-5-2zM176 566l5-4 6-6-5 4zM423 617l5-2 6 1-5-6zM433 620l5-1 6-5-5 0zM471 627l5-1 6 0-4-5zM491 629l5 2 6-1-5-4zM158 553l5 5 6-5-5-2zM497 626l5 4 6-4-5-2zM193 555l5 12 6-9-5-4zM459 618l5 1 6-7-4 2zM296 577l5 5 6-6-5-3zM490 621l5 0 6-5-5 0zM529 629l4 1 6-3-4-4zM533 630l5 0 6-4-5 1zM191 551l5 5 6-7-5-1zM196 556l5-2 6-1-5-4zM457 610l5 2 6-7-5 0zM520 626l5-5 6 5-5-10zM549 628l5 3 6-2-5-6zM207 553l5 0 6-1-5-4zM241 557l5 6 6-3-5-4zM250 565l5-2 6-5-4 0zM265 567l5 1 6-4-5-6zM279 568l5 3 6-5-4-4zM318 578l5 0 6-1-5-8zM488 610l4 6 6-3-4-6zM526 616l5 10 6-10-5 6zM531 626l5-6 6 1-5-5zM295 568l5 2 6-6-5 4zM315 572l4 3 7-4-5-3zM479 611l5-3 6-1-5-7zM528 617l4 5 6-6-4-1zM547 623l5 2 6-7-5 0zM185 541l5 4 6-4-5-4zM209 548l5 0 6-2-4-7zM514 611l5 4 6-8-5 2zM293 558l5 6 6-5-5 0zM491 603l5 3 6-9-4 6zM564 618l5 5 6-8-5 2zM207 538l5 6 6-10-5 5zM212 544l5-4 6-3-5-3zM256 552l4-2 7-6-5 3zM507 602l5 8 6-11-5 0zM512 610l5-6 6 1-5-6zM541 608l5 7 6-7-5 0zM546 615l5-1 6-5-5-1zM565 617l5 0 6 0-5-5zM575 615l5 7 6-8-5 3zM199 533l5 6 6-10-5 3zM204 539l4-5 7 0-5-5zM542 608l5 0 6 0-5-4zM576 617l5 0 6-5-5-1zM586 614l5 6 6-6-5 1zM282 550l5 1 6-4-5-1zM524 599l5 4 6-6-5 2zM534 601l5 5 6-6-5-1zM303 549l5 3 6-6-5 1zM521 597l5 1 6-1-5-7zM261 540l5-3 6 0-5-5zM503 590l4 2 7-4-5-1zM507 592l5-2 6-2-4 0zM291 540l5 4 6-8-5 2zM296 544l5-2 6 0-5-6zM567 601l5 1 6-6-5-1zM581 603l5 2 6-5-5-1zM321 547l5-5 6 1-5-4zM331 547l5 4 6-9-5 1zM336 551l5-3 6-4-5-2zM534 586l5 8 6-8-5 1zM554 595l4-2 7-2-5 0zM308 538l5 2 6-2-5-7zM323 543l4-4 7 4-5-10zM381 554l5 0 6-4-5 1zM531 588l5-1 6-8-5 7zM377 549l5 2 6-6-5 3zM532 580l5 6 6-4-5-2zM614 602l5 0 6-6-5-1zM378 548l5 0 6-5-4-1zM393 549l5 2 6-3-5-2zM398 551l5 1 6-3-5-1zM538 580l5 2 6-3-5-3zM562 584l5 7 6-9-5 2zM567 591l5-5 6-1-5-3zM273 518l5 7 6-9-5 2zM297 525l5 3 6-5-4-1zM302 528l5-2 6-1-5-2zM602 592l5 0 6-2-5-4zM474 561l5-4 6-2-5-2zM566 577l5 3 6-9-5 5zM398 536l5 4 6-4-5-1zM592 579l4 0 7-1-5-4zM596 579l5 4 6-6-4 1zM635 589l5-1 6-2-5-3zM336 519l5 4 6-2-4-7zM559 569l5 1 6 1-5-10zM578 577l5-8 6 6-4-10zM646 586l5 6 6-10-5 1zM651 592l5-3 6 0-5-7zM294 510l5-2 6-1-5-3zM304 511l5 3 6-12-5 6zM410 533l5 3 6-5-5-1zM628 582l5-1 6-6-5 0zM662 589l5 5 6-12-5 1zM667 594l5-6 6-3-5-3zM305 507l5 1 6-1-5-5zM421 531l5 6 6-4-5-9zM331 509l5 4 6-9-5 2zM374 518l5 2 6-4-5 1zM408 526l5 2 6-5-5 0zM357 509l5 5 6-3-4-10zM420 521l5 3 6-2-5-4zM619 563l5 7 6-9-5 4zM533 543l5 4 6-7-5 0zM601 556l4 5 7-5-5-3zM620 562l5 3 6-10-5 5zM673 573l5 5 6-8-5-1zM544 540l5 6 6-6-5 0zM621 557l5 3 6-1-5-5zM332 491l5 5 6-4-5-2zM352 495l4 8 7-9-5-1zM356 503l5-6 6-1-4-2zM385 504l5 4 6-7-4 1zM434 517l5-1 6-5-5 2zM439 516l5 3 6-5-5-3zM453 521l5 0 6-4-5 0zM555 540l5 4 6-3-5-2zM632 559l5-1 6 0-5-4zM637 558l5 4 6-7-5 3zM642 562l5-2 6 0-5-5zM647 560l5 3 6-8-5 5zM661 562l5 6 6-8-5 2zM416 507l5 3 6-1-5-6zM469 518l5 6 6-4-5-6zM484 521l4 7 7-8-5-1zM648 555l5 5 6-4-5-1zM682 568l5-4 6-2-5-1zM696 570l5-2 6 1-4-5zM711 569l5 7 6-5-5-4zM721 575l4-1 7 0-5-5zM427 509l5-1 6-5-5 0zM674 560l4 4 6-10-4 3zM703 564l4 5 7-5-5 0zM486 519l5 0 6-3-5-4zM623 544l5 2 6-6-5-1zM647 546l5 9 6-10-5-3zM503 515l5-2 6-1-5-3zM595 536l5 1 6-3-5-7zM600 537l5 3 6-9-5 3zM369 483l5 0 6-5-5 1zM384 485l4 2 6-5-4-1zM388 487l5-1 6-3-5-1zM446 497l5 3 6-1-4-6zM693 552l5 1 6-8-5 6zM457 499l5 0 6-3-4-7zM501 505l5 4 6-5-5-1zM506 509l5-1 6-4-5 0zM694 548l5 3 6-8-4 0zM386 479l5-1 6 0-5-4zM468 496l5 0 6-1-5-3zM517 504l5 7 6-7-5 0zM652 535l5 5 6-6-5-4zM657 540l5-4 6-3-5 1zM378 472l5 5 6-7-5-2zM397 478l5 2 6-7-5 4zM402 480l5 0 6-4-5-3zM726 549l5 0 6-5-5 1zM398 479l5-2 6-6-5 1zM432 483l5-1 6-1-5-3zM466 491l5-3 6 1-5-7zM471 488l5 5 6-7-5 3zM708 540l5 5 6-4-5-6zM511 496l5 1 6-5-5-1zM525 498l5 5 6-7-4-5zM680 534l5-4 6 2-5-6zM729 540l4 5 7-4-5-3zM401 470l5-1 6-1-5-5zM536 496l5 5 6-6-4-2zM546 498l5 5 6-7-5 3zM551 503l5 0 6-5-5-2zM677 530l5-3 6 0-5-4zM769 547l4 3 7-6-5-2z"/><path fill="#088" stroke="#088" d="M89 570l4 1 7-2-5-1zM220 592l5 7 6-3-4-5zM469 647l4 2 7-2-5-7zM455 641l5 0 6-7-5 4zM137 571l5-2 6-6-5 3zM253 598l5-5 6-5-4 3zM419 622l5 7 6-6-5 0zM424 629l5-4 6 3-5-5zM171 559l5 7 6-6-4 2zM205 570l5-1 6-3-5 1zM244 576l5 3 6 0-5-7zM428 615l5 5 6-6-5 2zM139 557l5-8 6-1-5 1zM250 572l5 7 6-4-5-3zM531 637l5 3 6-4-5-5zM198 567l5-5 6-4-5 0zM256 572l5 3 6-5-5 5zM185 556l5-2 6 2-5-5zM262 575l5-5 6-2-4 1zM206 552l4 9 7-6-5-2zM210 561l5-5 6-3-4 2zM273 568l5 4 6-1-5-3zM246 563l4 2 7-7-5 2zM492 616l5-2 6 1-5-2zM546 627l4 0 7-6-5 4zM290 566l5 2 6 0-4-3zM542 621l5 2 6-5-5 2zM190 545l5-1 6-3-5 0zM535 611l5 5 6-1-5-7zM540 616l5-2 6 0-5 1zM569 623l5-5 6 4-5-7zM208 534l5 5 6-4-4-1zM523 605l5 0 6-4-5 2zM239 543l5-5 6 0-5-2zM258 542l5 7 6-6-5 0zM515 598l4 1 7-1-5-1zM264 543l5 0 6-1-5-3zM526 598l4 1 7-2-5 0zM556 600l5 2 6-1-5-3zM278 535l5 1 6-1-5-4zM317 541l4 6 6-8-4 4zM539 594l5-3 6 0-5-5zM260 525l5 6 6-4-5-3zM265 531l4-3 7 0-5-1zM284 531l5 4 6-5-5 3zM526 582l5 6 6-2-5-6zM358 544l5 4 6-3-5-2zM262 520l5 4 6-6-5 5zM267 524l5 3 6-2-5-7zM596 592l5 3 6-3-5 0zM264 517l4 6 7-5-5-2zM268 523l5-5 6 0-4 0zM558 572l5 0 6-3-5 1zM640 588l5 4 6 0-5-6zM298 511l5 2 6 1-5-3zM404 535l5 1 6 0-5-3zM299 508l5 3 6-3-5-1zM538 547l5-4 6 3-5-6zM326 496l5 0 6 0-5-5zM428 512l5 10 6-6-5 1zM433 522l4-6 7 3-5-3zM447 519l5 4 6-2-5 0zM421 510l4 4 7-6-5 1zM425 514l5-6 6-1-4 1zM701 568l5 4 6-1-5-2zM716 576l5-1 6-6-5 2zM707 569l5 2 6-3-4-4zM712 571l5-4 6-1-5 2zM491 519l5-1 6-1-5-1zM410 496l5 2 6 1-5-6zM497 516l5 1 6-4-5 2zM652 555l5-6 6-2-5-2zM666 551l5 3 6-2-4-2zM377 486l5 2 6-1-4-2zM440 499l5 3 6-2-5-3zM451 500l5 0 6-1-5 0zM456 500l5 1 6 3-5-5zM688 549l5 3 6-1-5-3zM462 499l5 5 6-8-5 0zM511 508l4 1 7 2-5-7zM396 480l5 3 6-3-5 0zM683 537l4 3 6-2-4 1zM674 531l5 7 6-8-5 4zM685 530l5 7 6-5-5 0zM396 469l5 1 6-7-5 4zM541 501l5-3 6 1-5-4z"/><path fill="#097" stroke="#097" d="M93 571l5-3 6 0-4 1zM161 586l5 1 6-7-5 1zM185 592l5-3 6-3-5 3zM214 595l5 3 6 1-5-7zM292 614l5 0 6-2-5 0zM398 636l5 0 6-1-5-3zM100 569l4-1 6-4-4 4zM187 586l4 3 7-1-5-8zM230 594l5 4 6-5-5 1zM235 598l5-1 6 1-5-5zM298 612l5 0 6-1-5 0zM317 614l5 3 6-6-5 5zM404 632l5 3 6-5-5 4zM96 564l5 0 6-1-5-1zM140 574l4-1 6 1-4-5zM319 611l4 5 7-10-5 4zM406 627l4 7 7-2-5-7zM415 630l5 4 6-2-5-1zM425 636l5 1 6-7-5 2zM102 562l5 1 6-5-5 2zM112 567l5-4 6-3-5 1zM146 569l4 5 7-7-5 5zM194 583l5-4 6 3-5-3zM388 626l4-4 7 2-5-5zM402 625l5 4 6-4-5-3zM421 631l5 1 6-4-4 2zM460 641l5-1 6-4-5-2zM475 640l5 7 6-8-5 0zM480 647l4-6 6 1-4-3zM147 566l5 6 6-2-5-7zM166 571l5 4 6-2-5-5zM171 575l5 0 6-5-5 3zM176 575l5-1 6 2-5-6zM394 619l5 5 6-4-5 1zM399 624l4-1 6-4-4 1zM139 562l4 4 7-5-5-1zM153 563l5 7 6-5-5-2zM158 570l5-4 6 0-5-1zM172 568l5 5 6-2-4-4zM197 574l4 5 7-6-5-1zM255 587l5 4 6-4-5-4zM260 591l4-3 6-1-4 0zM264 588l5 5 6-3-5-3zM400 621l5-1 6 1-5-9zM443 632l5-5 6 0-5-2zM448 627l5 5 6-2-5-3zM477 639l5-3 6-1-5-4zM232 582l5 0 6-5-5-1zM270 587l5 3 6-3-4 0zM275 590l5 0 6-3-5 0zM411 621l5-3 6 3-5-10zM454 627l5 3 6-3-5-4zM508 637l4 5 7-4-5-1zM223 571l5 6 6-3-5 0zM257 579l5 5 6-1-5-5zM277 587l4 0 7 0-5-6zM470 625l5 4 6-2-5-1zM499 633l5 3 6-3-5-2zM504 636l5-1 6-2-5 0zM162 557l5 5 6-4-5-5zM210 569l5 1 6 0-5-4zM263 578l5 5 6-5-5 0zM268 583l5-2 6-3-5 0zM476 626l5 1 6-6-5 5zM197 559l5 6 6-4-5 1zM211 567l5-1 6-6-4 7zM434 616l5-2 6-3-5-2zM478 621l4 5 7-6-5 0zM502 630l5-3 6-1-5 0zM526 631l5 6 6-6-5-2zM203 562l5-1 6 0-5-3zM213 561l5 6 6-7-5-1zM242 568l5 3 6-5-5-1zM261 575l5-1 6-4-5 0zM271 574l5 4 6-2-5-7zM455 612l4 6 7-4-5-2zM469 614l5 7 6-1-5-7zM537 631l5 5 6-6-5-2zM180 550l5 6 6-5-5-4zM209 558l5 3 6-6-5 1zM214 561l5-2 6 0-5-4zM369 594l5-2 6 0-5-1zM480 620l5-4 6-2-5-1zM485 616l5 5 6-5-5-2zM499 617l5 6 6-2-4-2zM538 630l5-2 6 0-5-2zM225 559l5 2 6-3-5-5zM269 569l4-1 6 0-4-5zM288 574l5-2 6-1-5-2zM370 591l5 0 6-4-5 0zM462 612l5-4 6 1-5-4zM501 616l5 3 6-2-5-1zM506 619l4 2 7-6-5 2zM535 623l4 4 7 0-5-6zM544 626l5 2 6-5-5 4zM163 542l5 1 6-2-5-4zM173 541l5 6 6-3-5-4zM178 547l5-3 6-2-5 2zM212 553l5 2 6-8-5 5zM217 555l4-2 7 3-5-9zM255 563l5 0 6-5-5 0zM270 568l5-5 6-1-5 2zM507 616l5 1 6-2-5-2zM550 627l5-4 6 2-4-4zM223 547l5 9 6-7-5 1zM252 560l5-2 6-2-5-1zM276 564l5-2 6-2-5 2zM494 607l4 6 7-8-5 5zM503 615l5-5 6 1-5-3zM532 622l5-6 6-2-5 2zM552 625l5-4 6 1-5-4zM180 539l5 2 6-4-4-1zM258 555l5 1 6-2-5-1zM277 558l5 4 6-3-5 0zM297 565l4 3 7-6-5-3zM301 568l5-4 6-1-4-1zM321 568l5 3 6-3-5-2zM548 620l5-2 6-4-5 2zM191 537l5 4 6-6-4 2zM196 541l5 0 6-3-5-3zM264 553l5 1 6 0-5-3zM283 559l5 0 6-5-5 0zM298 564l5-5 6 1-5-1zM404 585l5 0 6-1-5-3zM409 585l5 2 6-4-5 1zM487 602l4 1 7 0-5-5zM202 535l5 3 6 1-5-5zM217 540l5 2 6-4-5-1zM251 546l5 6 6-5-5-6zM270 551l5 3 6-4-5 1zM275 554l5-1 6-1-5-2zM299 559l5 0 6-3-5 0zM304 559l5 1 6 1-5-5zM406 583l4-2 7-4-5 2zM271 547l5 4 6-1-4-4zM286 552l5 1 6-5-5 2zM310 556l5 5 6-6-5 0zM315 561l5-3 6-2-5-1zM339 563l5 3 6-5-5-1zM344 566l5-2 6 0-5-3zM581 617l5-3 6 1-5-3zM200 531l5 1 6-3-5-3zM205 532l5-3 6 2-5-2zM210 529l5 5 6-3-5 0zM215 534l4 1 7-5-5 1zM278 546l4 4 6-4-4-4zM287 551l5-1 6-4-5 1zM336 560l4-1 7-2-5-1zM350 561l5 3 6 0-5-6zM418 579l5-1 6-2-5-3zM510 597l5 1 6-1-5-4zM529 603l5-2 6-2-5-2zM539 606l5-3 6-3-5 0zM587 612l5 3 6-5-5 1zM240 534l5 2 6 0-5-6zM259 537l5 6 6-4-4-2zM288 546l5 1 6-1-4-3zM308 552l5-2 6 1-5-5zM318 549l4 6 6-4-4-1zM530 599l5-2 6-1-4 1zM588 609l5 2 6-1-4-2zM593 611l5-1 6 0-5 0zM251 536l5-1 6-3-5-1zM256 535l5 5 6-8-5 0zM266 537l4 2 7-6-5 4zM295 543l4 3 7-5-5 1zM309 547l5-1 6 0-5-2zM333 552l5 2 6-1-5-6zM590 609l5-1 6-2-5-4zM595 608l4 2 7-3-5-1zM599 610l5 0 6-5-4 2zM267 532l5 5 6-2-5-4zM344 553l5-3 6 0-5-4zM509 587l5 1 6 0-5-7zM557 599l5-1 6-5-5 1zM572 602l5-3 6 0-5-3zM577 599l4 4 6-4-4 0zM586 605l5-1 6-5-5 1zM601 606l5 1 6 2-5-9zM273 531l5 4 6-4-5 0zM283 536l4-1 7-6-5 6zM312 540l5 1 6 2-5-6zM326 542l5 5 6-4-5 0zM447 567l5 7 6-4-5-2zM452 574l5-3 6 0-5-1zM515 581l5 7 6-6-5 2zM558 593l5 1 6-1-4-2zM607 600l5 9 6-4-5-4zM269 528l5 1 6-3-4 2zM274 529l5 2 6-5-5 0zM279 531l5 0 6 2-5-7zM332 543l5 0 6-4-5-1zM453 568l5 2 6-5-5 0zM545 586l5 5 6-6-5 0zM565 591l4 2 7 1-5-6zM574 595l5 1 6-7-5 3zM603 601l5-2 6 3-5-6zM613 601l5 4 6-6-5 3zM623 601l4 7 7-6-5 0zM251 519l5 4 6-3-5 0zM285 526l5 7 6-7-5-1zM290 533l5-3 6-4-5 0zM305 531l4 4 7-7-5 5zM314 531l5 7 6-6-5 2zM353 544l5 0 6-1-5-4zM363 548l4-3 7-3-5 3zM382 551l5 0 6-2-5-4zM576 594l4-2 6-5-4 0zM253 519l4 1 7-3-5-3zM306 527l5 6 6-3-5-3zM470 564l5 5 6-7-5 1zM591 589l5 3 6 0-5-5zM312 527l5 3 6 1-5-11zM346 534l5 3 6-2-5-5zM399 546l5 2 6-6-5 6zM568 584l5-2 6-2-4 2zM588 587l5 2 6-5-5 2zM626 595l5 2 6-2-4-6zM631 597l5-1 6-2-5 1zM641 596l5 4 6-2-5-1zM265 513l5 3 6-2-5-4zM270 516l5 2 6-8-5 4zM304 522l4 1 7-2-5-1zM318 520l5 11 6-7-5 1zM323 531l5-5 6-1-5-1zM376 537l5 2 6-4-5 4zM589 584l5 2 6-4-5-2zM637 595l5-1 6 0-4-2zM642 594l5 3 6-4-5 1zM647 597l5 1 6-5-5 0zM261 507l5 7 6-4-5-2zM266 514l5-4 6-3-5 3zM310 520l5 1 6 0-5-4zM324 525l5-1 6 1-5-7zM377 533l5 6 6-5-4 0zM382 539l5-4 6 0-5-1zM387 535l5 4 6-3-5-1zM469 554l5 7 6-8-4 1zM561 573l5 4 6-1-5-6zM581 574l5 8 6-3-5-3zM605 583l5 1 6 0-5-3zM267 508l5 2 6-6-4 3zM330 518l5 7 6-2-5-4zM384 534l4 0 7-5-5 3zM393 535l5 1 6-1-5-4zM587 576l5 3 6-5-5 0zM616 584l5 1 6-3-5-3zM621 585l5-3 6 2-5-2zM283 511l5-5 6 4-5-8zM293 509l5 2 6 0-5-3zM370 529l5 0 6-3-5-6zM430 533l5 6 6-4-5 0zM570 571l5-7 6 3-5-4zM585 565l4 10 7-10-5 5zM363 519l5 0 6-1-5-3zM368 519l5 2 6-1-5-2zM397 525l5 2 6-1-5-3zM576 563l5 4 6-5-5 0zM591 570l5-5 6 2-5-2zM316 507l5-3 6 0-5 0zM360 514l5 2 6-3-5 0zM365 516l4-1 6 0-4-2zM369 515l5 3 6-1-5-2zM379 520l5-1 6 0-5-3zM384 519l5 3 6-5-5 2zM403 523l5 3 6-3-5-1zM597 565l5 2 6-2-5-2zM602 567l4 4 7-9-5 3zM665 580l4 1 6-2-4-1zM322 504l5 0 6-3-5 2zM346 506l5 4 6-1-4-2zM400 519l5 3 6-3-5-2zM405 522l4 0 6-6-4 3zM429 526l5 2 6-1-5-5zM603 563l5 2 6-1-5-2zM632 567l5 6 6-5-5-2zM309 496l5 2 6-3-5 1zM367 506l5 7 6-1-5-6zM425 524l5-1 6-6-5 5zM435 522l5 5 6-3-5-2zM609 562l5 2 6-2-5-6zM624 570l4-6 7-3-5 0zM638 566l5 2 6 0-5-2zM696 576l5 8 6-2-5-6zM315 496l5-1 6 1-5-6zM368 511l5-5 6-2-4-1zM373 506l5 6 6-5-5-3zM378 512l5-5 6 0-5 0zM422 517l4 1 7 4-5-10zM441 522l5 2 6-1-5-4zM446 524l5 0 6-4-5 3zM615 556l5 6 6-2-5-3zM659 571l5-2 6-1-5-1zM664 569l4 2 7-1-5-2zM668 571l5 2 6-4-4 1zM688 576l5-1 6 2-5-5zM331 496l5 0 6-5-5 5zM384 507l5 0 6-5-5 6zM394 512l5-2 6-5-5 0zM399 510l5 2 6-4-5-3zM404 512l4-1 7 0-5-3zM452 523l5-3 6-2-5 3zM539 540l5 0 6 0-5-4zM670 568l5 2 6-1-5-6zM699 577l5-1 6-6-5 1zM366 495l5 10 6-8-5-1zM448 513l5 8 6-4-4-4zM550 540l5 0 6-1-5-4zM598 551l5 1 6-1-4-4zM627 554l5 5 6-5-4-3zM348 492l5 2 6-1-5-6zM440 513l5-2 6 1-5-3zM450 514l5-1 6 2-5-4zM464 517l5 1 6-4-5 4zM561 539l5 2 6-3-5-1zM605 547l4 4 6-5-4 2zM643 558l5-3 6 0-5-3zM359 493l5-1 6 0-5-3zM417 508l5-5 6-1-5-1zM422 503l5 6 6-6-5-1zM436 507l5 2 6-2-4-2zM446 509l5 3 6-6-5 5zM456 511l5 4 6-3-5-4zM461 515l4-1 7-4-5 2zM654 555l5 1 6-4-5 0zM717 567l5 4 6-4-5-1zM727 569l5 5 6-2-5-7zM341 487l5-2 6-6-5 3zM351 486l4-1 7 6-5-10zM365 489l5 3 6 2-5-11zM626 549l5-4 6-3-4 2zM636 550l5-2 6-2-5-3zM709 564l5 0 6-3-5 0zM357 481l5 10 6-10-5 0zM362 491l4-5 7-5-5 0zM376 494l5-8 6-1-5 3zM386 492l5 0 6-2-5-6zM492 512l5 4 6-1-5-5zM502 517l5-1 6-4-5 1zM628 546l5-2 6-5-5 1zM657 549l5 2 6-6-5 2zM662 551l4 0 7-1-5-5zM671 554l5-1 6-5-5 4zM676 553l5 2 6-4-5-3zM358 482l5-1 6 2-5-8zM421 499l5-8 6 5-5-5zM435 497l5 2 6-2-4-2zM498 510l5 5 6-6-5-2zM518 518l5 1 6-2-5-1zM668 545l5 5 6-3-5-1zM673 550l4 2 7-9-5 4zM374 483l5-1 6-3-5-1zM379 482l5 3 6-4-5-2zM413 489l4 5 7-8-5 1zM427 491l5 5 6-5-5-1zM432 496l5-3 6-2-5 0zM659 539l5 11 6-11-5 0zM674 546l5 1 6-3-5-2zM698 553l5-2 6 0-5-6zM717 555l5 1 6-1-4-3zM746 560l5 2 6 3-4-10zM365 477l5 0 6-4-4 3zM370 477l5 2 6-2-5-4zM385 479l5 2 6-1-5-2zM593 522l5 7 6-4-5-3zM598 529l5-3 6-3-5 2zM656 537l5 4 6-4-5-1zM661 541l4-2 7 1-5-3zM685 544l5 1 6 1-5-5zM690 545l4 3 7-5-5 3zM719 555l5-3 6 1-5-8zM738 558l5 1 6-8-5 4zM753 555l4 10 7-4-5-8zM410 483l5 2 6-4-5-1zM449 489l5 2 6-2-5 2zM473 496l5 1 6-2-5 0zM493 497l4 7 7-7-5 3zM522 511l4-5 7-4-5 2zM672 540l4-1 7-2-5-1zM696 546l5-3 6-3-5 4zM764 561l4-3 6 0-4-6zM523 504l5 0 6-2-5 0zM721 546l5 3 6-4-5-4zM394 466l4 13 6-7-4-4zM403 477l5-4 6 0-5-2zM427 477l5 6 6-5-5-1zM452 489l4-5 7 1-5-6zM456 484l5 3 6-2-4 0zM461 487l5 4 6-9-5 3zM476 493l5-2 6-3-5-2zM529 502l5 0 6-1-5-5zM713 545l5-3 6-7-5 6zM747 549l5 1 6-2-5-4zM400 468l4 4 7-4-5 1zM424 475l5 4 6-6-5 0zM429 479l4-2 7-4-5 0zM477 489l5-3 6 1-5-4zM496 490l5 4 6-3-4-3zM506 491l5 5 6-5-5 2zM598 511l5 7 6-10-5 4zM603 518l5-3 6-1-5-6zM608 515l5 3 6-8-5 4zM627 517l5 5 6-3-5-2zM753 544l5 4 6-2-5-3zM454 477l5 3 6-3-5 1zM686 526l5 6 6-3-4-3zM691 532l5 0 6-10-5 7zM740 541l4-2 7 1-5-3zM764 546l5 1 6-5-5 1zM783 545l5 10 6-8-5 2z"/><path fill="#0a5" stroke="#0a5" d="M98 568l5 5 6-8-5 3zM103 573l5-2 6-2-5-4zM137 576l5 6 6-9-5 3zM142 582l5-3 6 0-5-6zM190 589l5 0 6 0-5-3zM466 651l5-1 6-5-5 0zM471 650l5 1 6-1-5-5zM182 587l5-1 6-6-5 0zM245 594l5 9 6-11-5 6zM390 627l5 6 6-6-5-2zM482 650l5-1 6-3-5 1zM125 566l5 7 6-5-5-4zM164 577l5 2 6-5-5 1zM173 582l5-3 6 0-4-7zM193 580l5 8 6-6-5-3zM222 590l5 1 6-2-5-3zM236 594l5-1 6-6-5 5zM440 634l4 5 6-5-4-1zM478 646l5 0 6-4-5-1zM483 646l5 1 6-2-5-3zM121 563l5 4 6-7-4 4zM184 579l5 1 6-8-5 5zM204 582l5 3 6-5-5-2zM233 589l5 2 6-3-5-4zM412 625l5 7 6-8-5-2zM426 632l5 0 6-8-5 4zM436 630l5 5 6-3-5-6zM142 569l5-3 6-3-5 0zM186 576l4 1 7-3-5-4zM200 579l5 3 6-7-5-2zM336 608l4-1 7 0-5-3zM134 560l5 2 6-2-5-2zM143 566l5-3 6-7-4 5zM201 579l5-6 6-1-4 1zM250 586l5 1 6-4-5 1zM468 631l4 4 7-8-5 6zM487 638l5-2 6-1-5-3zM492 636l5 4 6-5-5 0zM140 558l5 2 6-4-5 1zM145 560l5 1 6-2-5-3zM159 563l5 2 6-5-5 0zM164 565l5 1 6-5-5-1zM261 583l5 4 6-5-5 0zM280 590l5 2 6-5-5 0zM333 602l5-3 6 1-5-3zM440 628l5-4 6-4-5-3zM151 556l5 3 6-2-5-2zM344 600l5 2 6-5-5-3zM407 615l5 3 6-6-5-4zM494 633l5 0 6-2-5-6zM514 637l5 1 6-7-5 3zM259 577l4 1 6 0-4-5zM278 586l5-5 6-1-5-4zM283 581l5 6 6-5-5-2zM360 599l5 2 6 0-5-7zM438 619l4-1 7-7-5 3zM452 619l5 2 6-6-5 3zM505 631l5 2 6-2-5-6zM357 594l4 7 7-8-5-2zM429 610l5 6 6-7-5-3zM473 620l5 1 6-1-5-5zM516 631l5 3 6-9-5 0zM521 634l5-3 6-2-5-4zM159 549l5 2 6-2-4-5zM227 564l5 3 6-4-5-3zM247 571l4-3 7-4-5 2zM266 574l5 0 6-5-5 1zM280 573l5 7 6-7-4 0zM440 609l5 2 6 0-5-6zM445 611l5 3 6-8-5 5zM450 614l5-2 6 0-5-6zM464 619l5-5 6-1-5-1zM508 626l5 0 6-7-5 5zM151 543l5 4 6-4-5-1zM258 564l4 11 7-6-5-10zM306 579l5 2 6-2-5-7zM466 614l4-2 7-3-5 0zM186 547l5 4 6-3-5-2zM215 556l5-1 6-3-5 1zM220 555l5 4 6-6-5-1zM283 570l5 4 6-5-5-7zM302 573l5 3 6-7-4 5zM448 604l4 3 6-6-4 4zM515 615l5 11 6-10-5 2zM530 622l5 1 6-2-5-1zM183 544l5 4 6-7-5 1zM188 548l4-2 6-2-4-3zM231 553l5 5 6-7-5 4zM236 558l5-1 6-1-5-5zM275 563l4 5 7-6-5 0zM478 606l5 6 6-8-5 4zM483 612l5-2 6-3-5-3zM502 612l5 4 6-3-5-3zM169 537l5 4 6-2-4-5zM310 567l5 5 6-4-5-3zM382 585l5 3 6-5-5-3zM243 552l5-2 6 3-5-8zM263 556l5 0 6-4-5 2zM330 571l5 2 6-3-4-6zM393 583l5 3 6-1-5-8zM500 610l5-5 6 2-5-8zM259 550l5 3 6-2-5-4zM482 598l5 4 6-4-5-5zM516 606l4 3 7-4-5-2zM530 609l5 2 6-3-5-2zM260 550l5-3 6 0-4-3zM410 581l5 3 6-8-4 1zM415 584l5-1 6-1-5-6zM498 603l4-6 6 1-4-5zM502 597l5 5 6-3-5-1zM556 611l4 0 7 0-5-3zM228 538l5 0 6 5-5-14zM291 553l5 0 6-4-5-1zM349 564l5 4 6-10-5 6zM248 540l5-2 6-1-4-1zM268 540l5 7 6-5-5-3zM345 560l5 1 6-3-5-1zM553 608l5-4 6 0-5-5zM568 605l5 8 6-10-5 3zM573 613l4-6 7 2-5-6zM206 526l5 3 6-5-5 2zM298 546l5 3 6-2-5-6zM337 557l5-1 6-6-5 3zM342 556l5 1 6-1-5-6zM356 558l5 6 6-12-5 6zM424 573l5 3 6-6-5 1zM492 589l5 0 6 1-5-8zM511 592l5 1 6-2-5-1zM535 597l5 2 6-4-5 1zM569 608l5-2 6-2-5-8zM237 531l4 1 6-4-4-4zM304 541l5 6 6-3-5-3zM328 551l5 1 6-5-4-2zM425 576l5-5 6-6-5 2zM537 597l4-1 6-8-4 4zM585 601l5 8 6-7-5 2zM349 550l5 4 6-8-5 4zM354 554l5 2 6-9-5-1zM368 559l5-4 6-2-4-3zM373 555l5 3 6-2-5-3zM523 587l5 4 6-5-5-2zM591 604l5-2 6 1-5-4zM596 602l5 4 6-6-5 3zM225 519l4 6 7-7-5 1zM229 525l5-2 6-6-4 1zM287 535l5 1 6-4-4-3zM292 536l5 2 6-8-5 2zM297 538l5-2 6 2-5-8zM341 548l5 0 6-8-5 4zM379 553l5 3 6-6-4 4zM578 596l5 3 6-4-5-3zM587 599l5 1 6-4-4 1zM448 566l5 2 6-3-4-4zM579 596l5-4 6 0-5-3zM598 596l5 5 6-5-4 0zM280 526l5 0 6-1-4-3zM295 530l5-1 6-2-5-1zM329 533l5 10 6-11-5 3zM343 539l5 2 6-2-5-2zM316 528l4 6 7-6-5 0zM359 539l5 4 6-5-5-4zM369 545l5-3 6-5-5 0zM456 565l5-6 6 1-5-3zM630 598l5 1 6-3-5 0zM293 521l4 4 7-3-5-5zM307 526l5 1 6-7-5 5zM322 528l5 0 6-1-5-1zM327 528l4 1 6 0-4-2zM331 529l5 6 6-11-5 5zM472 559l4 4 7-2-5-4zM593 589l4-2 7-3-5 0zM289 517l5 2 6-3-5 0zM584 582l5 2 6-4-5-4zM608 586l5 4 6-4-4-5zM290 516l5 0 6-2-5-3zM305 518l5 2 6-3-5-4zM334 525l5 2 6-5-5-3zM348 531l5-1 6-7-4-1zM353 530l5 2 6-6-5-3zM373 533l4 0 7 1-5-7zM402 539l4-1 7 0-5-3zM547 569l5 6 6-3-5-7zM571 580l5-7 6-1-5-1zM600 582l5 1 6-2-5-5zM648 594l5-1 6-7-4 4zM316 517l5 4 6-9-5 2zM388 534l5 1 6-4-4-2zM611 581l5 3 6-5-5-3zM317 515l5-1 6-1-5-5zM351 522l5 2 6-4-5-5zM385 530l5 2 6-7-5-2zM419 535l5 4 6-6-5-2zM569 569l5 1 6-6-5 0zM641 583l5 3 6-3-5-4zM289 502l5 8 6-6-4-6zM343 514l4 7 7-7-5-2zM497 550l5 0 6-1-4-3zM565 561l5 10 6-8-5-3zM638 581l5 0 6-5-5 2zM657 582l5 7 6-6-5-5zM672 588l4-1 7-2-5 0zM286 504l5-3 6-4-5 0zM320 508l5 0 6 1-5-6zM581 567l5-3 6-5-5 3zM586 564l5 6 6-5-5-6zM625 577l4-4 6-3-4 0zM634 575l5 0 6 3-5-8zM678 585l5 0 6-1-5-2zM427 524l5 9 6-10-4 5zM432 533l5-3 6-4-5-3zM442 525l5 13 6-10-5 1zM515 546l4 3 6-4-4-4zM524 550l5 1 6-2-5-3zM611 566l5 3 6-3-5-2zM655 577l5 1 6-7-5 6zM660 578l5 2 6-2-5-7zM337 506l5-2 6 0-5-2zM395 517l5 2 6-2-5-3zM588 560l5 2 6-5-4-3zM642 570l4 2 7-2-5-4zM324 497l4 6 7-7-5 0zM328 503l5-2 6-5-4 0zM386 514l5-2 6-2-4-1zM391 512l5 3 6-3-5-2zM406 517l5 2 6-6-5 1zM430 523l5-1 6 0-5-5zM536 546l5 0 6-2-4-1zM677 574l5 1 6 1-5-7zM310 491l5 5 6-6-5 2zM407 515l5-1 6-2-5-2zM455 526l5 0 6-5-4-2zM644 566l5 2 6-11-5 5zM683 569l5 7 6-4-5-3zM702 576l5 6 6-9-5-1zM355 501l5-1 6-5-5 2zM525 537l4 2 6-3-4-4zM602 554l5-1 6-4-5 0zM607 553l5 3 6-5-5-2zM616 553l5 4 6-3-4-3zM679 569l5 1 6-4-5 1zM689 569l5 3 6-4-5 2zM323 489l4 2 7-3-5-3zM424 513l5-3 6-3-5 1zM334 488l4 2 7-6-5 1zM372 496l5 1 6-3-5-2zM392 502l4-1 7 0-5-7zM401 504l5 0 6-8-5 5zM488 528l5-7 6-4-4 3zM542 534l4 1 7-2-5-7zM546 535l5-1 6-6-4 5zM556 535l5 4 6-2-5-7zM609 551l5-3 6-6-5 4zM663 558l4 4 7-2-5-10zM692 561l4 9 7-6-5-4zM354 487l5 6 6-4-5-5zM490 519l5 1 6-7-5 5zM606 546l5 2 6-1-5-7zM649 552l5 3 6-3-5-5zM688 561l5 1 6-3-5-3zM346 485l5 1 6-5-5-2zM423 501l5 1 6-4-5 0zM428 502l5 1 6-2-5-3zM443 505l4 2 7-7-5 2zM476 511l5 2 6-3-4-1zM612 540l5 7 6-3-5-5zM733 565l5 7 6-6-5-4zM381 486l5 6 6-8-5 1zM574 527l5 8 6-6-4-4zM705 558l5 1 6-3-5-2zM710 559l5 2 6-7-5 2zM479 503l5 7 6-10-5 5zM561 526l5-1 6-2-5-2zM566 525l5 0 6-2-5 0zM590 529l5 7 6-9-5 1zM605 540l5-5 6 0-5-4zM648 545l5-3 6-3-5-1zM663 547l5-2 6 1-5-6zM697 553l5 0 6-3-5 1zM706 556l5-2 6 1-4-6zM475 501l5 3 6-3-4-4zM519 512l5 4 6-4-5-7zM601 527l5 7 6-4-5-4zM640 538l5 0 6-4-5 1zM645 538l5 1 6-2-5-3zM669 540l5 6 6-4-5-1zM419 487l5-1 6-4-5 3zM424 486l4 3 6-2-4-5zM588 525l5-3 6 0-5-4zM670 539l5 2 6-4-5 2zM709 551l5-2 6-2-5-2zM743 559l5-4 6 0-5-4zM420 481l5 4 6-2-5-3zM434 487l5 0 6-2-4-2zM439 487l5 2 6-4-5 0zM483 496l5 1 6 1-5-5zM502 501l5 2 6-2-5-4zM531 507l5 5 6-6-5-3zM536 512l5-2 6-2-5-2zM609 523l5 5 6-3-5-7zM647 533l5 2 6-5-5-1zM662 536l5 1 6-5-5 1zM734 548l5 6 6-4-4-3zM744 555l5-4 6 1-5-3zM383 477l4-6 7-5-5 4zM416 480l5 1 6-4-4-3zM479 495l5 0 6-4-5-4zM489 493l5 5 6-5-5-2zM499 500l5-3 6-3-5 0zM634 528l5 2 6-5-5-2zM658 530l5 4 6-4-5-3zM760 556l5-5 6 1-5-4zM770 552l4 6 7-2-5-7zM447 478l5 11 6-10-5 1zM655 525l5 7 6-7-5 2zM718 542l5-1 6-1-5-5zM742 545l5 4 6-5-5-3zM433 477l5 1 6-4-4-1zM458 479l5 6 6-3-5-4zM700 533l4 3 7-8-5 4zM714 535l5 6 6-10-5 2zM415 468l5 3 6-3-4-3zM420 471l5 0 6-4-5 1zM425 471l5 2 6-3-5-3zM430 473l5 0 6-3-5 0zM444 474l5 3 6-1-4-5zM478 483l5 0 6-1-5-3zM493 487l5-1 6-3-5 1zM517 491l5 1 6-4-5 0zM604 512l5-4 6 1-5-3zM619 510l4 6 7-5-5-1zM628 513l5 4 6-2-5-3zM730 538l5 0 6-4-5-2z"/><path fill="#096" stroke="#096" d="M108 571l5 4 6-4-5-2zM132 580l5-4 6 0-5-1zM374 626l5 8 6-7-5 2zM393 634l5 2 6-4-4-1zM90 564l5 4 6-4-5 0zM119 571l5 3 6-1-5-7zM133 573l5 2 6-2-4 1zM177 584l5 3 6-7-5 3zM196 586l5 3 6-1-5-1zM303 612l5 0 6-5-5 4zM380 629l5-2 6 0-5-1zM400 631l4 1 6 2-4-7zM409 635l5-2 6 1-5-4zM178 579l5 4 6-3-5-1zM202 587l5 1 6-5-4 2zM381 623l5 3 6-4-4 4zM464 637l5 10 6-7-5 1zM126 567l5-3 6 7-5-11zM218 584l5 8 6-5-5-8zM223 592l5-6 6-3-5 4zM238 591l4 1 7-4-5 0zM392 622l5 1 6 0-4 1zM470 641l5-1 6-1-5-3zM181 574l5 2 6-6-5 6zM205 582l5-4 6 2-5-5zM229 587l5-4 6 7-5-10zM244 588l5 0 6-1-5-1zM263 587l5 10 6-4-5 0zM408 622l5 3 6-3-5 1zM423 624l5 6 6-4-5-1zM452 630l5 5 6-2-5-4zM461 638l5-4 6 1-4-4zM476 636l5 3 6-1-5-2zM486 639l4 3 7-2-5-4zM490 642l5-1 6 0-4-1zM463 633l5-2 6 2-5-3zM501 641l5-2 6 3-4-5zM222 576l5 3 6-6-5 4zM237 582l4-1 7-3-5-1zM251 583l5 1 6 0-5-5zM266 587l4 0 7 0-5-5zM343 603l5 0 6 0-5-1zM228 577l5-4 6 1-5 0zM243 577l5 1 6-1-5 2zM272 582l5 5 6-6-5 5zM281 587l5 0 6-2-4 2zM431 614l5 7 6-3-4 1zM460 623l5 4 6 0-4-6zM509 635l5 2 6-3-5-1zM157 555l5 2 6-4-5 5zM234 574l5 0 6-2-5-2zM239 574l5 2 6-4-5 0zM288 587l4-2 7-1-5-2zM467 621l4 6 7-6-5-1zM486 627l5 2 6-3-5-3zM515 633l5 1 6-3-5 3zM168 553l5 5 6-6-5 2zM221 570l5-6 6 3-5-3zM240 570l5 2 6-4-4 3zM245 572l5 0 6 0-5-4zM265 573l4 5 7 0-5-4zM269 578l5 0 6-5-4 5zM294 582l5 2 6-4-5 2zM361 601l5-7 6 4-4-5zM439 614l5 0 6 0-5-3zM468 620l5 0 6-5-5 6zM482 626l5-5 6 0-4-1zM150 548l5 2 6-5-5 2zM174 554l5-2 6 4-5-6zM208 561l5 0 6-2-5 2zM232 567l5-1 6-2-5-1zM251 568l5 4 6 3-4-11zM276 578l4-5 7 0-5 3zM300 582l5-2 6 1-5-2zM498 621l5 3 6-3-5 2zM503 624l5 2 6-2-5-3zM532 629l5 2 6-3-5 2zM195 555l4-1 7-2-5 2zM267 570l5 0 6 2-5-4zM277 569l5 7 6-2-5-4zM301 582l5-3 6-7-5 4zM364 587l5 7 6-3-5 0zM495 621l4-4 7 2-5-3zM509 621l5 3 6 2-5-11zM157 542l5 1 6 0-5-1zM167 544l5 2 6 1-5-6zM172 546l5 0 6-2-5 3zM278 572l5-2 6-8-5 9zM443 606l5-2 6 1-5-3zM491 614l5 2 6-4-5 2zM496 616l5 0 6 0-5-4zM168 543l5-2 6-1-5 1zM294 569l5 2 6-5-5 4zM304 569l5 5 6-2-5-5zM313 569l5 9 6-9-5 6zM376 587l5 0 6 1-5-3zM391 591l5 0 6-3-5 1zM512 617l5-2 6-1-5 1zM555 623l5 6 6-6-5 2zM174 541l5-1 6 1-5-2zM208 546l5 2 6-2-5 2zM218 552l5-5 6 3-5-4zM271 558l5 6 6-2-5-4zM300 570l5-4 6-1-5-1zM324 569l5 8 6-4-5-2zM469 606l5-4 6-1-4 1zM537 616l5 5 6-1-5-6zM561 625l5-2 6-1-4 1zM195 544l5-4 6-1-5 2zM214 548l5-2 6-4-5 4zM229 550l5-1 6-3-5 1zM282 562l5-2 6-2-5 1zM292 559l5 6 6-6-5 5zM476 602l4-1 7 1-5-4zM509 608l5 3 6-2-4-3zM568 623l4-1 6-3-4-1zM182 536l5 0 6-3-5 1zM187 536l4 1 7 0-5-4zM216 539l4 7 7-3-5-1zM220 546l5-4 6-1-4 2zM254 553l5-3 6-3-5 3zM288 559l5-1 6 1-5-5zM399 577l5 8 6-4-4 2zM467 596l5 3 6 0-5-7zM472 599l5-3 6-2-5 5zM511 607l5-1 6-3-5 1zM554 616l5-2 6 3-5-6zM188 534l5-1 6 0-5-3zM227 543l4-2 7 1-5-4zM231 541l5 4 6-6-4 3zM265 547l5 4 6 0-5-4zM280 553l5-1 6 1-5-1zM328 567l5-6 6 2-5-3zM536 606l5 2 6 0-5 0zM551 614l5-3 6-3-5 1zM560 611l5 6 6-5-4-1zM218 534l5 3 6-2-5 1zM238 542l4-3 6 1-4-2zM305 556l5 0 6-1-5-3zM334 560l5 3 6-3-5-1zM407 576l5 3 6 0-5-6zM508 598l5 1 6 0-4-1zM513 599l5 0 6 0-5 0zM538 603l4 5 6-4-4-1zM547 608l5 0 6-4-5 4zM567 611l4 1 6-5-4 6zM234 529l5 14 6-7-5-2zM244 538l4 2 7-4-5 2zM253 538l5 4 6 1-5-6zM263 549l5-9 6-1-5 4zM273 547l5-1 6-4-5 0zM292 550l5-2 6 1-5-3zM302 549l5 4 6-3-5 2zM311 552l5 3 6 0-4-6zM316 555l5 0 6-5-5 5zM331 555l5 5 6-4-5 1zM413 573l5 6 6-6-5 3zM490 590l5 4 6-1-4-4zM495 594l5-1 6-6-5 6zM505 594l5 3 6-4-5-1zM544 603l4 1 7-3-5-1zM582 611l5 1 6-1-5-2zM592 615l5-1 6-2-5-2zM230 527l5 9 6-4-4-1zM235 536l5-2 6-4-5 2zM279 542l5 0 6 1-5 0zM284 542l4 4 7-3-5 0zM322 555l5-5 6 2-5-1zM332 552l5 5 6-4-5 1zM347 557l4 0 6 0-4-1zM545 600l5 0 6 0-5-3zM550 600l5 1 6 1-5-2zM598 610l5 2 6 0-5-2zM212 526l5-2 6 1-5-2zM246 530l5 6 6-5-5-1zM324 550l4 1 7-6-5 4zM348 550l5 6 6 0-5-2zM512 590l5 0 6-3-5 1zM218 523l5 2 6 0-4-6zM223 525l5-2 6 0-5 2zM228 523l5 3 6 0-5-3zM233 526l5 1 6-4-5 3zM252 530l5 1 6 1-5-7zM257 531l5 1 6-5-5 5zM286 535l5 5 6-2-5-2zM441 573l5-3 6 4-5-7zM514 588l4 0 7-6-5 6zM239 526l5-3 6 0-5 1zM249 524l5 6 6-5-5 0zM263 532l5-5 6 2-5-1zM350 546l5 4 6 0-4-6zM544 591l5-2 6-3-5 5zM563 594l5-1 6 2-5-2zM583 599l4 0 7-2-5-2zM612 609l5-7 6-1-5 4zM617 602l4 5 6 1-4-7zM245 524l5-1 6 0-5-4zM250 523l5 2 6-3-5 1zM255 525l5 0 6-1-5-2zM289 535l5-6 6 0-5 1zM337 543l5-1 6-1-5-2zM342 542l5 2 6 0-5-3zM361 550l5-4 6-1-5 0zM366 546l5 7 6-4-5-4zM521 584l5-2 6-2-5 1zM540 587l5-1 6-1-4-3zM550 591l5-5 6 0-5-1zM589 595l5 2 6-3-5 1zM618 605l5-4 6 1-5-3zM237 519l5-2 6-1-5 0zM276 528l4-2 7-4-5 2zM300 529l5 2 6 2-5-6zM309 535l5-4 6 3-4-6zM348 541l5 3 6-5-5 0zM367 545l5 0 6 3-4-6zM459 565l5 0 6-1-4-1zM464 565l5 1 6 3-5-5zM527 581l5-1 6 0-5-2zM547 582l4 3 6-3-4 1zM551 585l5 0 6-1-5-2zM595 595l5-1 6-3-5 4zM619 602l5-3 6-1-5-2zM624 599l5 3 6-3-5-1zM629 602l5 0 6-2-5-1zM248 516l5 3 6-5-5 2zM311 533l5-5 6 0-5 2zM345 538l4-1 7-2-5 2zM466 563l4 1 6-1-4-4zM533 578l5 2 6-4-5 0zM543 582l5-1 6-6-5 4zM553 583l4-1 7-4-5 3zM557 582l5 2 6 0-4-6zM582 587l4 0 7 2-5-2zM601 595l5-4 6-2-5 3zM620 595l5 1 6 1-5-2zM625 596l5 2 6-2-5 1zM635 599l5 1 6 0-5-4zM254 516l5-2 6-1-5-3zM259 514l5 3 6-1-5-3zM351 537l5-2 6-2-5 2zM539 576l5 0 6-3-4 1zM554 575l5 6 6-3-5 0zM564 578l4 6 7-2-5-4zM573 582l5 3 6-3-5-2zM578 585l5-2 6 1-5-2zM583 583l5 4 6-1-5-2zM607 592l5-3 6-2-5 3zM617 597l5-6 6-1-5 0zM636 596l5 0 6 1-5-3zM279 518l5-2 6 0-4-2zM308 523l5 2 6-5-4 1zM328 526l5 1 6 0-5-2zM352 530l5 5 6-5-5 2zM357 535l5-2 6 0-5-3zM362 533l4 3 7-3-5 0zM366 536l5 0 6-3-4 0zM371 536l5 1 6 2-5-6zM381 539l5-1 6 1-5-4zM483 561l4-2 7 5-5-7zM555 573l5 5 6-1-5-4zM565 578l5 0 6-5-5 7zM575 582l4-2 7 2-5-8zM594 586l5-2 6-1-5-1zM633 589l4 6 7-3-5 1zM286 514l4 2 6-5-4 3zM295 516l5 0 6 1-5-3zM315 521l4-1 7 0-5 1zM329 524l5 1 6-6-5 6zM397 539l5 0 6-4-5 5zM595 580l5 2 6-6-5 7zM272 510l5-3 6 4-5-7zM277 507l5 3 6-4-5 5zM326 520l4-2 6 1-4 0zM345 522l5 3 6-1-5-2zM350 525l5-3 6 4-5-2zM379 527l5 7 6-2-5-2zM403 540l5-5 6-1-5 2zM413 538l4 1 7 0-5-4zM480 553l5 2 6-2-5 0zM563 572l4-2 7 0-5-1zM346 521l5 1 6-7-5 8zM375 529l5-3 6-1-5 1zM399 531l5 4 6-2-4-5zM424 539l4-1 7 1-5-6zM588 572l5 2 6-2-5 0zM593 574l5 0 6 0-5-2zM328 513l5 2 6 0-5-6zM333 515l5 0 6-4-5 4zM381 526l5-1 6 2-5-5zM396 525l5 5 6-3-5 0zM406 528l4 5 6-3-4-2zM435 539l4-4 7 2-5-2zM502 550l5 3 6-2-5-2zM599 572l5 2 6-6-5 3zM614 576l4-3 7 4-5-6zM334 509l5 6 6-3-5-3zM358 514l5 5 6-4-4 1zM373 521l5-2 6 0-5 1zM378 519l5 5 6-2-5-3zM383 524l4-2 7-5-5 5zM387 522l5 5 6-2-4-8zM412 528l4 2 7 2-5-10zM416 530l5 1 6-7-4 8zM436 535l5 0 6 3-5-13zM508 549l5 2 6-2-4-3zM340 509l5 3 6-2-5-4zM355 513l5 1 6-1-5-3zM394 517l4 8 7-3-5-3zM418 522l5 10 6-6-5-2zM582 562l5 0 6 0-5-2zM626 571l5-1 6 3-5-6zM640 570l5 8 6-4-5-2zM679 588l5-6 6-4-5 1zM308 498l5 3 6-3-5 0zM327 504l5 2 6-4-5-1zM332 506l5 0 6-4-5 0zM361 510l5 3 6 0-5-7zM380 517l5-1 6-4-5 2zM385 516l5 3 6-4-5-3zM390 519l5-2 6-3-5 1zM424 524l5 2 6-4-5 1zM598 562l5 1 6-1-5-4zM608 565l5-3 6 1-5 1zM637 573l5-3 6-4-5 2zM690 578l5 7 6-1-5-8zM314 498l5 0 6 0-5-3zM633 563l5 3 6 0-5 0zM682 575l4 1 7-1-5 1zM686 576l5 2 6 1-4-4zM325 498l5-2 6 0-5 0zM344 499l5 4 6-2-5-3zM349 503l5-1 6-2-5 1zM364 501l4 10 7-8-5-1zM402 512l5 3 6-5-5 1zM518 538l5 3 6-2-4-2zM523 541l5-2 6-2-5 2zM528 539l5 4 6-3-5-3zM605 561l5-6 6-2-4 3zM635 561l4 5 6-7-4 4zM678 578l5-9 6 0-5 1zM697 579l5-3 6-4-4 4zM321 490l5 6 6-5-5 0zM341 491l4 10 7-6-5 1zM360 500l5 0 6 5-5-10zM375 503l4 1 6 0-4-4zM442 518l5 1 6 2-5-8zM529 539l5-2 6 0-5-1zM534 537l5 3 6-4-5 1zM327 491l5 0 6-1-4-2zM342 491l5 5 6-2-5-2zM347 496l5-1 6-2-5 1zM390 508l5-6 6 2-5-3zM405 505l5 3 6-1-5-2zM429 510l5 7 6-4-5-6zM444 519l4-6 7 0-5 1zM458 521l5-3 6 0-5-1zM535 536l5 1 6-2-4-1zM540 537l5-1 6-2-5 1zM603 552l5-3 6-1-5 3zM656 561l5 1 6 0-4-4zM666 568l5-6 6-3-5 1zM396 501l5 3 6-3-4 0zM406 504l5 1 6 3-5-12zM435 507l5 6 6-4-5 0zM445 511l5 3 6-3-5 1zM624 551l5 2 6-4-5 0zM677 559l5 9 6-7-5-3zM403 501l4 0 7 0-5-5zM412 496l5 12 6-7-5 0zM432 508l4-1 7-2-5-2zM470 518l5-4 6-1-5-2zM611 548l4-2 7-5-5 6zM722 571l5-2 6-4-5 2zM409 496l5 5 6-6-5 3zM433 503l5 0 6 1-5-3zM438 503l5 2 6-3-5 2zM452 511l5-5 6-2-5 1zM573 530l5 6 6-4-5 3zM578 536l5 0 6-2-5-2zM670 553l5 0 6 2-5-2zM704 559l5 5 6-3-5-2zM391 492l4-1 7-2-5 1zM405 493l5 3 6-3-5-2zM444 504l5-2 6-1-5-1zM512 516l4 4 7-1-5-1zM579 535l5-3 6-3-5 0zM584 532l5 2 6 2-5-7zM642 543l5 3 6-4-5 3zM695 557l5 0 6-1-4-3zM700 557l5 1 6-4-5 2zM373 481l4 5 7-1-5-3zM411 491l5 2 6-4-5 5zM484 510l5-3 6 4-5-11zM508 513l5-1 6 0-5 0zM513 512l5 6 6-2-5-4zM629 539l5 1 6-2-5 2zM735 562l5 0 6-2-4-1zM740 562l5 3 6-3-5-2zM364 475l5 8 6-4-5-2zM403 485l5 3 6-1-5-2zM408 488l5 1 6-2-5 0zM417 494l5-5 6 0-4-3zM490 500l5 11 6-6-5-2zM504 507l5 2 6 0-4-1zM509 509l5 3 6-6-5 3zM606 534l5-3 6 2-5-3zM635 540l5-2 6-3-5-1zM664 550l5-10 6 1-5-2zM684 543l4 6 6-1-4-3zM394 482l5 1 6-8-4 8zM409 485l5 2 6-6-5 4zM428 489l5 1 6-3-5 0zM433 490l5 1 6-2-5-2zM438 491l5 0 6-2-5 0zM491 499l5 4 6-2-5 3zM496 503l5 2 6-2-5-2zM583 521l5 4 6-7-5 4zM607 526l5 4 6 0-4-2zM665 539l5 0 6 0-4 1zM680 542l5 2 6-3-5 2zM724 552l4 3 6-7-4 5zM376 473l5 4 6-6-4 6zM415 485l5-4 6-1-5 1zM444 489l5 0 6 2-5-6zM454 491l5 1 6-1-5-2zM507 503l5 1 6-3-5 0zM512 504l5 0 6 0-5-3zM676 539l5-2 6 3-4-3zM681 537l5 6 6-6-5 3zM691 541l5 5 6-2-5-9zM715 545l5 2 6 2-5-3zM725 545l5 8 6-5-5 1zM407 480l5-5 6 4-5-3zM421 481l5-1 6 3-5-6zM450 485l5 6 6-4-5-3zM508 497l5 4 6-2-5 1zM513 501l5 0 6-4-5 2zM518 501l5 3 6-2-5-5zM663 534l5-1 6-2-5-1zM678 536l5 1 6 2-5-10zM687 540l5-3 6-2-5 3zM697 535l5 9 6-4-5-1zM712 541l4 4 7-4-5 1zM731 549l5-1 6-3-5-1zM741 547l4 3 7 0-5-1zM755 552l5 4 6-8-5 4zM510 494l4 6 7-8-5 5zM524 497l5 5 6-6-5 7zM616 521l5-2 6-2-5 2zM669 530l5 1 6 3-5-8zM684 529l5 10 6-11-5 9zM693 538l5-3 6 1-4-3zM698 535l5 4 6-5-5 2zM404 472l5-1 6-3-4 0zM409 471l5 2 6-2-5-3zM472 482l5 7 6-6-5 0zM482 486l5 2 6-1-5 0zM487 488l5 2 6-4-5 1zM492 490l4 0 7-2-5-2zM613 518l4-4 6 2-4-6zM617 514l5 5 6-6-5 3zM656 524l5 3 6 3-5-10zM675 526l5 8 6-8-4 1zM777 546l5 7 6 2-5-10zM406 469l5-1 6-4-5 4zM449 477l5 0 6 1-5-2zM459 480l5-2 6 0-5-1zM488 487l5 0 6-3-5-2zM498 486l5 2 6 1-5-6zM503 488l4 3 6-8-4 6zM633 517l5 2 6-4-5 0zM638 519l5-1 6 0-5-3zM682 527l4-1 7 0-5 1zM759 543l5 3 6-3-5-3z"/><path fill="#095" stroke="#095" d="M113 575l5-7 6 6-5-3zM127 571l5 9 6-5-5-2zM224 595l5 1 6 2-5-4zM229 596l5 1 6 0-5 1zM389 628l4 6 7-3-5 2zM403 636l5-2 6-1-5 2zM437 640l5 3 6-2-5 2zM476 651l4-2 7 0-5 1zM124 574l5-3 6-4-5 6zM148 573l5 6 6-5-5 4zM162 577l5 4 6 1-4-3zM167 581l5-1 6-1-5 3zM172 580l5 4 6-1-5-4zM424 634l5 4 6-6-5 5zM448 641l5-1 6 2-5-2zM458 643l4 0 7 4-5-10zM477 645l5 5 6-3-5-1zM309 611l5-4 6-1-5 1zM314 607l5 4 6-1-5-4zM391 627l5-2 6 0-5-2zM396 625l5 2 6 2-5-4zM401 627l5 0 6-2-5 4zM430 637l5-5 6 3-5-5zM459 642l5-5 6 4-5-1zM117 563l4 0 7 1-5-4zM136 568l5-3 6 1-5 3zM141 565l5 4 6 3-5-6zM170 575l5-1 6 0-5 1zM262 598l5-3 6-2-5 4zM397 623l5 2 6-3-5 1zM407 629l5-4 6-3-5 3zM441 635l5-2 6-3-5 2zM446 633l4 1 7 1-5-5zM113 558l5 3 6-6-5 5zM128 564l4-4 7 2-5-2zM190 577l5-5 6 7-4-5zM258 593l5-6 6 6-5-5zM268 597l5-4 6-3-5 3zM403 623l5-1 6 1-5-4zM442 626l5 6 6 0-5-5zM447 632l5-2 6-1-5 3zM481 639l5 0 6-3-5 2zM163 566l5 1 6-1-5 0zM168 567l4 1 7-1-5-1zM192 570l5 4 6-2-5 4zM230 581l5-1 6 1-4 1zM245 582l5 4 6-2-5-1zM274 593l5-3 6 2-5-2zM327 603l5 0 6-4-5 3zM453 632l5-3 6-6-5 7zM135 556l5 2 6-1-5 0zM256 584l5-1 6-1-5 2zM338 599l5 4 6-1-5-2zM348 603l5 0 6 0-5 0zM406 612l5 9 6-10-5 7zM488 635l5-3 6 1-5 0zM493 632l5 3 6 1-5-3zM498 635l5 0 6 0-5 1zM503 635l5 2 6 0-5-2zM233 573l5 3 6 0-5-2zM436 621l5-5 6 2-5 0zM152 550l5 5 6 3-5-5zM191 562l5-1 6 4-5-6zM215 570l5-4 6-2-5 6zM350 594l5 3 6 4-4-7zM355 597l5 2 6-5-5 7zM447 618l5 1 6-1-5-3zM520 634l5-3 6 6-5-6zM144 549l5-1 6 2-5-2zM207 557l4 10 7 0-5-6zM231 567l5 0 6 1-5-2zM236 567l4 3 7 1-5-3zM274 578l5 0 6 2-5-7zM289 580l5 2 6 0-5-5zM458 618l5-3 6-1-5 5zM463 615l5 5 6 1-5-7zM492 623l5 3 6-2-5-3zM218 567l4-7 7-1-5 1zM285 580l5-7 6 4-5-4zM479 615l5 5 6 1-5-5zM489 620l4 1 6-4-4 4zM493 621l5 0 6 2-5-6zM156 547l5-2 6-1-5-1zM248 565l5 1 6 1-5-7zM272 570l5-1 6 1-5 2zM437 604l4 4 7-4-5 2zM441 608l5-3 6 2-4-3zM456 606l5 6 6-4-5 4zM504 623l5-2 6-6-5 6zM162 543l5 1 6-3-5 2zM177 546l4 0 7 2-5-4zM230 561l5-6 6 2-5 1zM264 559l5 10 6-6-5 5zM298 570l4 3 7 1-5-5zM385 592l4 0 7-1-5 0zM467 608l5 1 6-3-5 3zM472 609l5 0 6 3-5-6zM221 553l5-1 6-4-4 8zM458 601l5 4 6 1-4-5zM463 605l5 0 6-3-5 4zM517 615l4 3 7-1-5-3zM189 542l5-1 6-1-5 4zM237 555l5-4 6-1-5 2zM257 558l4 0 7-2-5 0zM286 562l4 4 7-1-5-6zM387 588l5-5 6 3-5-3zM489 604l5 3 6 3-5-4zM518 615l5-1 6-4-5 2zM176 534l4 5 7-3-5 0zM272 555l5 3 6 1-5-5zM287 560l5-1 6 5-5-6zM306 564l5 1 6-2-5 0zM461 600l5-3 6 2-5-3zM480 601l5-1 6 3-4-1zM505 605l4 3 7-2-5 1zM524 612l5-2 6 1-5-2zM538 616l5-2 6-3-4 3zM553 618l5 0 6 0-5-4zM230 543l5 4 6-4-5 2zM269 554l5-2 6 1-5 1zM303 559l5 3 6-2-5 0zM285 552l4 2 7-1-5 0zM522 603l5 2 6-2-5 2zM262 547l5-3 6 3-5-7zM267 544l4 3 7-1-5 1zM296 553l4-2 7 2-5-4zM300 551l5 5 6-4-4 1zM329 558l5 2 6-1-4 1zM489 591l5 5 6-3-5 1zM494 596l5-1 6-1-5-1zM504 593l4 5 7 0-5-1zM562 608l5 3 6 2-5-8zM307 553l4-1 7-3-5 1zM326 556l5-1 6 2-5-5zM340 559l5 1 6-3-4 0zM423 578l5-4 6 3-5-1zM428 574l4 8 6-6-4 1zM577 607l5 4 6-2-4 0zM274 539l5 3 6 1-5-5zM293 547l5-1 6-5-5 5zM327 550l5 2 6 2-5-2zM351 557l5 1 6 0-5-1zM434 577l4-1 7-2-5 1zM579 603l5 6 6 0-5-8zM241 532l5-2 6 0-5-2zM343 553l5-3 6 4-5-4zM435 570l5 5 6-5-5 3zM498 582l5 8 6-3-5-3zM517 590l5 1 6 0-5-4zM522 591l5-1 6 0-5 1zM566 599l4 0 7 0-5 3zM247 528l5 2 6-5-4 5zM306 541l4 0 7 0-5-1zM320 546l5-4 6 5-5-5zM335 545l4 2 7 1-5 0zM504 584l5 3 6-6-5 4zM538 589l5 3 6-3-5 2zM552 589l5 10 6-5-5-1zM606 607l4-2 7-3-5 7zM268 527l5 4 6 0-5-2zM355 550l5-4 6 0-5 4zM573 595l5 1 6-4-5 4zM592 600l5-1 6 2-5-5zM597 599l5 4 6-4-5 2zM602 603l5-3 6 1-5-2zM231 519l5-1 6-1-5 2zM303 530l5 8 6-7-5 4zM584 592l5 3 6 0-5-3zM594 597l4-1 7 0-5-2zM242 517l5-1 6 3-5-3zM247 516l4 3 6 1-4-1zM338 538l5 1 6-2-4 1zM522 576l5 5 6-3-5-1zM542 579l5 3 6 1-5-2zM287 522l4 3 6 0-4-4zM301 526l5 1 6 0-5-1zM340 532l5 6 6-1-5-3zM383 548l5-3 6-3-5 1zM586 587l5 2 6-2-4 2zM606 591l5 1 6 5-5-8zM616 594l4 1 6 0-4-4zM278 525l5-9 6 1-5-1zM370 538l5-1 6 2-5-2zM462 557l5 3 6 1-5-6zM467 560l5-1 6-2-5 4zM476 563l5-1 6-3-4 2zM549 579l5-4 6 3-5-5zM559 581l5-3 6 0-5 0zM255 509l5 1 6 4-5-7zM284 516l5 1 6-1-5 0zM299 517l5 5 6-2-5-2zM313 525l5-5 6 5-5-5zM333 527l4 2 7-4-5 2zM347 528l5 2 6 2-5-2zM473 561l5-4 6-3-5 3zM541 572l5 2 6 1-5-6zM546 574l4-1 6-4-4 6zM579 580l5 2 6-6-4 6zM599 584l5 0 6 0-5-1zM618 587l5 3 6-7-5 8zM300 516l5 2 6-5-5 4zM339 527l5-2 6 0-5-3zM556 569l5 4 6-3-4 2zM615 581l4 5 7-4-5 3zM624 591l5-8 6 6-5-8zM287 506l5 8 6-3-5-2zM296 511l5 3 6-4-4 3zM476 554l4-1 6 0-4-1zM582 572l5 4 6-2-5-2zM601 583l5-7 6-1-5 2zM327 512l5 7 6-4-5 0zM428 538l5 1 6-4-4 4zM491 553l5-2 6-1-5 0zM496 551l5 1 6 1-5-3zM501 552l5 3 6-1-5-1zM617 576l5 3 6 3-5-7zM632 584l4-4 7 1-5 0zM352 523l5-8 6 4-5-5zM376 520l5 6 6-4-4 2zM401 530l5-2 6 0-5-1zM618 573l5 2 6-2-4 4zM339 515l5-4 6-4-5 5zM349 512l5 2 6 0-5-1zM354 514l4 0 7 2-5-2zM407 527l5 1 6-6-5 6zM504 546l4 3 7-3-5 1zM513 551l5-3 6 2-5-1zM600 564l5 7 6-5-5 5zM605 571l5-3 6 1-5-3zM639 575l5 3 6-6-5 6zM649 576l5 3 6-1-5-1zM654 579l4 0 7 1-5-2zM663 578l5 5 6-1-5-1zM302 501l4-1 7 1-5-3zM321 504l5-1 6 3-5-2zM326 503l5 6 6-3-5 0zM345 512l5-5 6 3-5 0zM389 522l5-5 6 2-5-2zM413 528l5-6 6 2-5-1zM592 559l5 6 6-2-5-1zM616 569l5-4 6 6-5-5zM621 565l5 6 6-4-5 4zM631 570l4 0 7 0-5 3zM650 572l5 5 6 0-5-1zM684 582l5 2 6 1-5-7zM317 497l5 7 6-1-4-6zM342 504l4 2 7 1-5-3zM434 528l4-5 7 0-5 4zM530 546l5 3 6-3-5 0zM675 579l5-2 6-1-4-1zM319 498l5-1 6-1-5 2zM338 502l5 0 6 1-5-4zM343 502l5 2 6-2-5 1zM396 515l5-1 6 1-5-3zM401 514l5 3 6-3-5 1zM415 516l5 5 6-3-4-1zM445 523l4 1 6 2-4-2zM599 557l5 1 6-3-5 6zM628 564l5-1 6 3-4-5zM672 572l5 2 6-5-5 9zM691 578l5-2 6 0-5 3zM339 496l5 3 6-1-5 3zM393 509l4 1 7 2-5-2zM397 510l5 2 6-1-4 1zM431 522l5-5 6 1-5-2zM436 517l5 5 6-3-5-1zM543 543l4 1 7-4-5 6zM630 561l5 0 6 2-5-6zM316 492l5-2 6 1-4-2zM365 500l5 2 6-5-5 8zM408 511l5-1 6-2-4 3zM413 510l5 2 6 1-5-5zM418 512l5 1 6-3-5 3zM423 513l5-1 6 5-5-7zM437 516l5 2 6-5-4 6zM645 559l5 3 6-1-4 2zM660 561l5 6 6-5-5 6zM684 570l5-1 6 1-5-4zM371 505l5-8 6-2-5 2zM395 502l5 3 6-1-5 0zM400 505l5 0 6 0-5-1zM618 551l5 0 6 2-5-2zM623 551l4 3 7-3-5 2zM671 562l5 1 6 5-5-9zM685 567l5-1 6 4-4-9zM430 508l5-1 6 2-5-2zM479 519l5 2 6-2-5-3zM629 553l5-2 6-2-5 0zM653 560l5-5 6-2-5 3zM340 485l5-1 6 2-5-1zM553 533l4-5 7 8-5-9zM625 543l5 6 6 1-5-5zM635 549l5 0 6-3-5 2zM659 556l5-3 6 0-5-1zM698 560l5 4 6 0-5-5zM385 491l4 1 6-1-4 1zM399 493l5 2 6 1-5-3zM568 532l5-2 6 5-5-8zM655 547l5 5 6-1-4 0zM689 557l5-1 6 1-5 0zM694 556l5 3 6-1-5-1zM699 559l5 0 6 0-5-1zM429 498l5 0 6 1-5-2zM458 505l5-1 6-4-5 6zM473 502l5 12 6-4-5-7zM507 516l5 0 6 2-5-6zM555 524l5 3 6-2-5 1zM691 553l4 4 7-4-5 0zM729 561l5 3 6-2-5 0zM734 564l5-2 6 3-5-3zM426 491l5 3 6-1-5 3zM431 494l4 3 7-2-5-2zM455 501l5-2 6 0-5 2zM464 506l5-6 6 1-4-1zM474 505l5-2 6 2-5-1zM489 507l5-1 6-2-5 7zM634 540l5-1 6-1-5 0zM711 554l5 2 6 0-5-1zM359 476l5-1 6 2-5 0zM422 489l5 2 6-1-5-1zM567 521l5 2 6-2-4-1zM572 523l5 0 6-2-5 0zM577 523l5 0 6 2-5-4zM592 522l4 6 7-2-5 3zM650 539l4-1 7 3-5-4zM679 547l5-4 6 2-5-1zM703 551l5-1 6-1-5 2zM713 549l4 6 7-3-5 3zM404 479l5 6 6 0-5-2zM443 491l5 1 6-1-5-2zM448 492l5 1 6-1-5-1zM486 501l5-2 6 5-4-7zM525 505l5 7 6 0-5-5zM530 512l5-2 6 0-5 2zM578 521l5 0 6 1-5-5zM603 526l4 0 7 2-5-5zM641 534l5 1 6 0-5-2zM675 541l5 1 6 1-5-6zM733 546l5 12 6-3-5-1zM464 489l4 7 6-4-4-1zM478 497l5-1 6-3-5 2zM628 533l5-5 6 2-5-2zM730 553l4-5 7-1-5 1zM749 551l5 4 6 1-5-4zM387 471l5 3 6 5-4-13zM431 483l5 0 6-4-5 3zM441 483l4 2 7 4-5-11zM504 497l4 0 6 3-4-6zM542 506l5 2 6-1-5-1zM620 525l4-3 7 1-5-2zM673 532l5 4 6-7-5 9zM736 548l5-1 6 2-5-4zM384 468l5 2 6-1-5-3zM408 473l5 3 6-5-5 2zM437 482l5-3 6-3-5 5zM481 491l4-4 7 3-5-2zM490 491l5 0 6 3-5-4zM495 491l5 2 6-2-5 3zM500 493l5 1 6 2-5-5zM611 515l5 6 6-2-5-5zM621 519l5 2 6 1-5-5zM727 541l5 4 6-7-5 7zM776 549l5 7 6-6-5 3zM414 473l5-2 6 0-5 0zM419 471l5 4 6-2-5-2zM443 481l5-5 6 1-5 0zM516 497l5-5 6 0-5 0zM724 535l5 5 6-2-5 0zM464 478l5 4 6-4-5 0zM469 482l4-5 7 4-5-3zM556 503l5-5 6 1-5-1zM623 516l5-3 6-1-4-1zM701 530l5 2 6-7-5 7zM715 533l5 0 6 0-4-3z"/><path fill="#0a3" stroke="#0a3" d="M122 574l5-3 6 2-4-2zM147 579l4 1 7-5-5 4zM316 613l5 2 6-3-5 5zM369 627l5-1 6 3-5-9zM104 568l5-3 6-2-5 1zM322 617l5-5 6-3-5 2zM110 564l5-1 6 0-4 0zM115 563l5 1 6 3-5-4zM120 564l5 2 6-2-5 3zM228 586l5 3 6-5-5-1zM334 611l5 0 6-3-5-1zM210 578l5 2 6-6-5 6zM215 580l5 0 6 3-5-9zM129 555l5 5 6-2-5-2zM322 599l5 4 6-1-4-6zM208 573l4-1 7-4-5 2zM353 603l5 0 6 1-5-1zM479 627l4 4 6-6-4 8zM175 561l5-1 6-2-5 4zM180 560l5 4 6-2-5-4zM189 564l5-1 6 3-4-5zM209 566l5 4 6-4-5 4zM219 568l4 3 6 3-4-9zM286 587l5 0 6-3-5 1zM359 603l5 1 6-6-5 3zM138 551l4-3 7 0-5 1zM181 562l5-4 6-1-5-1zM186 558l5 4 6-3-5-2zM346 596l4-2 7 0-5 0zM365 601l5-3 6-3-5 6zM457 621l5-5 6 4-5-5zM500 625l5 6 6-6-4 2zM347 590l5 4 6-2-5-3zM424 607l5 3 6-4-5 3zM507 627l4-2 7-1-5 2zM222 560l5 4 6-4-4-1zM372 598l5-6 6 6-4-11zM435 606l5 3 6-4-5 3zM513 626l5-2 6 1-5-6zM175 547l5 3 6-3-5-1zM253 566l5-2 6-5-5 8zM519 619l5 6 6-3-5-1zM389 592l5-1 6 0-4 0zM226 552l5 1 6 2-5-7zM396 591l4 0 7-3-5 0zM266 558l5 0 6 0-5-3zM460 595l5 6 6-4-5 0zM205 535l4 13 7-9-5-1zM268 556l4-1 6-1-4-2zM311 565l5 0 6-5-5 3zM388 580l5 3 6-6-4 3zM395 580l4-3 7 6-5-12zM414 587l5-7 6 3-5 0zM525 607l5 2 6-3-5-2zM241 543l5 0 6-1-5-3zM420 583l5 0 6-5-5 4zM483 594l5-1 6 3-5-5zM242 539l5 0 6-1-5 2zM417 577l4-1 7-2-5 4zM481 592l5-4 6 1-5-1zM226 530l4-3 7 4-5-4zM414 566l5 10 6 0-5-9zM559 599l5 5 6-5-4 0zM574 606l5-3 6-2-5 3zM238 527l5-3 6 0-5-1zM378 558l5-2 6-3-5 3zM431 567l5-2 6 1-5 1zM437 567l5-1 6 0-4-5zM236 518l4-1 7-1-5 1zM324 534l5-1 6 2-5-8zM397 551l4 0 6-2-4 3zM445 558l5 3 6 4-5-7zM517 579l5-3 6 1-4-2zM283 516l5 4 6-1-5-2zM380 537l5 5 6-6-5 2zM481 562l5 1 6-2-5-2zM535 567l4 9 7-2-5-2zM415 542l5 4 6-1-5-2zM536 569l5 3 6-3-5 3zM411 539l5-1 6-1-5 2zM416 538l5 5 6-1-5-5zM421 543l5 2 6-3-5 0zM484 554l5 3 6-3-5-3zM542 572l5-3 6-4-5 6zM576 573l5 1 6 2-5-4zM282 510l5-4 6 3-5-3zM427 542l5 0 6-5-5 2zM490 551l5 3 6-2-5-1zM606 576l5 5 6-5-5-1zM659 586l5 6 6-2-4-4zM612 575l5 1 6-1-5-2zM636 580l5 3 6-4-4 2zM323 508l5 5 6-4-5-2zM338 515l5-1 6-2-5-1zM425 531l5 2 6 2-5-6zM291 501l5-3 6 3-5-4zM315 502l5 6 6-5-5 1zM344 511l5 1 6 1-5-6zM446 537l4-4 6-3-4 7zM499 544l5 2 6 1-5-8zM523 548l5 7 6-3-5-1zM566 565l5-5 6-2-4-1zM610 568l5 2 6-5-5 4zM292 497l5 0 6-5-5 5zM437 530l5-5 6 4-5-3zM452 537l4-7 7 3-5-3zM505 539l5 8 6-5-5-3zM573 557l4 1 7-1-5 1zM438 523l5 3 6-2-4-1zM511 539l5 3 6-3-5 0zM516 542l5-1 6-1-5-1zM579 558l5-1 6-2-5-2zM584 557l4 3 7-6-5 1zM661 577l5-6 6 1-5-1zM666 571l5 7 6-4-5-2zM590 555l5-1 6 2-5-7zM330 496l5 0 6-5-5 5zM335 496l4 0 6 5-4-10zM359 502l5-1 6 1-5-2zM465 523l5 2 6-1-5 0zM547 544l5-1 6 0-4-3zM462 519l4 2 7-5-5 4zM608 549l5 0 6-1-5 0zM358 493l5 1 6-10-5 8zM377 497l5-2 6-1-5 0zM382 495l5 2 6 2-5-5zM566 541l5-7 6 0-5 4zM687 564l5-3 6-1-5 2zM349 487l5 0 6-3-5 1zM374 488l4 4 7-1-5 0zM383 494l5 0 6-3-5 1zM393 499l5-5 6 1-5-2zM398 494l5 7 6-5-5-1zM495 520l4-3 6 4-4-8zM499 517l5 4 6-1-5 1zM538 528l5 2 6-1-5-3zM548 526l5 7 6-6-5-1zM601 543l5 3 6-6-5 4zM640 549l4-1 7-1-5-1zM644 548l5 4 6-5-4 0zM510 520l5 3 6-2-5-1zM554 526l5 1 6-2-5 2zM583 536l5-2 6 1-5-1zM588 534l5 4 6 0-5-3zM593 538l4 3 7-4-5 1zM597 541l5 0 6-1-4-3zM424 489l5 9 6-1-4-3zM449 502l5-2 6-1-5 2zM516 520l5 1 6-5-4 3zM720 561l4-1 7-2-5-2zM739 562l5 4 6-9-5 8zM523 519l4-3 7-1-5 2zM556 519l5 7 6-5-4-1zM585 529l5 0 6-1-4-6zM624 533l5 6 6 1-5-6zM716 556l5-2 6-2-5 4zM721 554l5 2 6 2-5-6zM726 556l5 2 6-4-5 4zM398 482l5 3 6 0-5-6zM558 524l5-4 6-1-5-1zM563 520l4 1 7-1-5-1zM722 556l5-4 6-6-5 9zM727 552l5 6 6 0-5-12zM399 483l5-4 6 4-5-8zM477 496l5 1 6 0-5-1zM520 506l5-1 6 2-5-1zM559 520l5-2 6 0-5-1zM564 518l5 1 6-1-5 0zM569 519l5 1 6-6-5 4zM622 529l5 4 6-5-5 5zM627 533l5-3 6 4-5-6zM636 531l5 3 6-1-4-2zM748 555l5 0 6-2-5 2zM405 475l5 8 6-3-4-5zM575 518l5-4 6 5-5-7zM618 530l5-6 6-2-5 0zM623 524l5 9 6-5-5-6zM436 483l5 0 6-5-5 1zM537 503l5 3 6 0-5-7zM591 514l4 2 7-3-5 0zM624 522l5 0 6 0-4 1zM629 522l5 6 6-5-5-1zM644 527l5 2 6-4-5 2zM765 551l5 1 6-3-5 3zM442 479l5-1 6 2-5-4zM543 499l5 7 6-6-4 1zM664 527l5 3 6-4-4-1zM579 510l4-2 7-3-5 5zM593 509l5 2 6 1-5-8zM637 515l5 9 6-6-5 0zM738 538l5 1 6-1-5 1zM748 541l5 3 6-1-5-5zM772 547l5-1 6-1-5 2zM435 473l5 0 6-5-5 2zM527 492l5-1 6-1-5-2zM565 500l5 4 6 1-4-12zM653 519l4-2 6 1-4 1zM744 539l5-1 6-5-4 7zM754 538l5 5 6-3-5-4z"/><path fill="#0b4" stroke="#0b4" d="M151 580l5 6 6-9-4-2zM241 593l5 5 6-9-5-2zM347 607l4 3 7-7-5 0zM198 576l5-4 6-6-5-1zM203 572l5 1 6-3-5-4zM449 625l5 2 6-4-4-6zM141 557l5 0 6-7-5 1zM368 593l4 5 7-11-5 5zM397 589l5-1 6-3-5-3zM327 566l5 2 6-7-5 0zM473 592l5 7 6-10-5 2zM478 599l5-5 6-3-5-2zM552 608l5 1 6-7-5 2zM361 564l5 0 6-9-5-3zM564 604l5 4 6-12-5 3zM346 548l4-2 7-2-5-4zM385 542l4 1 7-4-5-3zM404 548l5 1 6-7-5 0zM570 578l5 4 6-8-5-1zM368 533l5 0 6-6-5-2zM494 564l4-5 7-6-5 3zM301 514l5 3 6-8-5 1zM278 504l5 7 6-9-4-4zM482 552l4 1 7-6-5-2zM431 529l5 6 6-10-5 5zM649 568l5 2 6-9-5-4zM367 496l5 0 6-4-4-4zM388 494l5 5 6-6-5-2zM414 501l4 0 6-12-4 6zM418 501l5 0 6-3-5-9zM559 527l5 9 6-13-5 2zM715 561l5 0 6-5-5-2zM471 500l4 1 7-4-5-1zM514 512l5 0 6-7-5 1zM574 520l4 1 6-4-4-3zM759 553l5 8 6-9-5-1zM548 506l5 1 6-5-5-2zM732 545l5-1 6-5-5-1z"/><path fill="#0a8" stroke="#0a8" d="M156 586l5 0 6-5-5-4zM498 613l5 2 6-7-4-3zM347 521l5 2 6-9-4 0z"/><path fill="#0a6" stroke="#0a6" d="M195 589l5 6 6-7-5 1zM413 638l5 3 6-7-5-1zM418 641l4-2 7-1-5-4zM427 646l5-5 6-8-5 5zM461 647l5 4 6-6-5 0zM308 612l4 2 7-3-5-4zM395 633l5-2 6-4-5 0zM207 588l5 3 6-7-5-1zM304 611l5 0 6-4-5-3zM323 616l5-5 6 0-4-5zM386 626l5 1 6-4-5-1zM189 580l5 3 6-4-5-7zM465 640l5 1 6-5-5 0zM157 567l4 6 7-6-5-1zM161 573l5-2 6-3-4-1zM472 635l5 4 6-8-4-4zM482 636l5 2 6-6-5 3zM497 640l4 1 7-4-5-2zM179 567l4 4 6-7-4 0zM193 570l5 6 6-11-5 4zM246 587l5-4 6-4-5-3zM349 602l5 1 6-4-5-2zM354 603l5 0 6-2-5-2zM519 638l4 3 6-6-4-4zM200 566l5 4 6-3-4-10zM229 574l5 0 6-4-4-3zM273 581l5 5 6-10-5 2zM418 612l5 5 6-7-5-3zM481 627l5 0 6-4-5-2zM216 566l5 4 6-6-5-4zM145 549l5-1 6-1-5-4zM164 551l5 2 6-6-5 2zM169 553l5 1 6-4-5-3zM237 566l5 2 6-3-5-1zM461 612l5 2 6-5-5-1zM475 613l5 7 6-7-5-5zM375 591l5 1 6-5-5 0zM380 592l5 0 6-1-5-4zM452 607l5 3 6-5-5-4zM202 549l5 4 6-5-5-2zM198 544l5 8 6-4-4-13zM213 548l5 4 6-6-5 0zM247 556l5 4 6-5-5-6zM465 601l4 5 7-4-5-5zM474 602l5 9 6-11-5 1zM523 614l5 3 6-2-5-5zM224 546l5 4 6-3-5-4zM238 555l5-3 6-7-4 1zM326 571l4 0 7-7-5 4zM495 606l5 4 6-11-5 5zM543 614l5 6 6-4-5-5zM278 554l5 5 6-5-4-2zM294 554l5 5 6-3-5-5zM493 598l5 5 6-10-5 2zM571 612l5 5 6-6-5-4zM219 535l5 1 6-9-4 3zM224 536l5-1 6 1-5-9zM548 604l5 4 6-9-4 2zM211 529l5 2 6-7-5 0zM216 531l5 0 6-5-5-2zM429 576l5 1 6-2-5-5zM516 593l5 4 6-7-5 1zM540 599l5 1 6-3-5-2zM270 539l5 3 6-9-4 0zM280 538l5 5 6-3-5-5zM314 546l5 5 6-9-5 4zM527 590l5 7 6-8-5 1zM604 610l5 2 6-5-5-2zM339 547l5 6 6-7-4 2zM234 523l5 3 6-2-5-7zM549 589l5 6 6-4-5-5zM318 537l5 6 6-10-5 1zM458 570l5 1 6-5-5-1zM536 587l4 0 7-5-5-3zM560 591l5 0 6-3-5-4zM571 588l5 6 6-7-5-4zM609 596l5 6 6-7-4-1zM320 534l5-2 6-3-4-1zM374 542l4 6 7-6-5-5zM388 545l5 4 6-3-5-4zM548 581l5 2 6-2-5-6zM544 576l5 3 6-6-5 0zM597 587l5 5 6-6-4-2zM612 589l5 8 6-7-5-3zM400 542l5 6 6-9-5-1zM271 510l5 4 6-4-5-3zM319 520l5 5 6-7-4 2zM344 525l4 6 7-9-5 3zM358 532l5-2 6-2-5-2zM489 557l5 7 6-8-5-2zM619 586l5 5 6-10-4 1zM644 592l4 2 7-4-5-3zM321 521l5-1 6-1-5-7zM332 519l4 0 7-5-5 1zM356 524l5 2 6-8-5 2zM390 532l5-3 6 1-5-5zM486 553l5 0 6-3-4-3zM574 570l4 7 7-12-5-1zM598 574l5 4 6-8-5 4zM603 578l4-1 7-1-5-6zM309 514l5-4 6-2-5-6zM507 553l5 1 6-6-5 3zM594 572l5 0 6-1-5-7zM623 575l5 7 6-7-5-2zM300 504l5 3 6-5-5-2zM620 571l5 6 6-7-5 1zM311 502l5 5 6-3-5-7zM336 513l4-4 6-3-4-2zM519 549l5 1 6-4-5-1zM606 571l5-5 6-2-4-2zM669 581l5 1 6-5-5 2zM371 513l4 2 7-8-5 5zM375 515l5 2 6-3-4-7zM409 522l5 1 6-2-5-5zM593 562l5 0 6-4-5-1zM622 566l5 5 6-8-5 1zM627 571l5-4 6-1-5-3zM646 572l5 2 6-6-4 2zM671 578l4 1 7-4-5-1zM348 504l5 3 6-5-5 0zM353 507l4 2 7-8-5 1zM451 524l4 2 7-7-5 1zM625 565l5-4 6-4-5-2zM639 566l5 0 6-4-5-3zM665 567l5 1 6-5-5-1zM694 572l5 5 6-6-5-3zM381 500l4 4 7-2-5-5zM545 536l5 4 6-5-5-1zM652 563l4-2 7-3-5-3zM681 569l4-2 7-6-5 3zM338 490l5 2 6-5-4-3zM343 492l5 0 6-5-5 0zM638 554l5 4 6-6-5-4zM451 512l5-1 6-3-5-2zM567 537l5 1 6-2-5-6zM678 564l5-6 6-1-5-3zM467 512l5-2 6 4-5-12zM631 545l5 5 6-7-5-1zM718 568l5-2 6-5-5-1zM723 566l5 1 6-3-5-3zM395 491l5 6 6-10-4 2zM400 497l5-4 6-2-5-4zM397 490l5-1 6-1-5-3zM460 499l4 7 7-6-5-1zM571 525l5 4 6-6-5 0zM677 552l5-4 6 1-4-6zM437 493l5 2 6-3-5-1zM442 495l4 2 7-4-5-1zM480 504l5 1 6-6-5 2zM524 516l5 1 6-7-5 2zM414 487l5 0 6-2-5-4zM453 493l4 6 7-10-5 3zM612 530l5 3 6-9-5 6zM714 549l5 6 6-10-5 2zM497 504l5-3 6-4-4 0zM599 522l5 3 6-5-5-2zM667 537l5 3 6-4-5-4zM739 554l5 1 6-6-5 1zM474 492l5 3 6-8-4 4zM716 545l5 1 6-5-4 0zM413 476l5 3 6-4-5-4zM703 539l5 1 6-5-5-1zM438 478l5 3 6-4-5-3zM463 485l4 0 6-8-4 5zM622 519l5-2 6 0-5-4zM483 483l5 4 6-5-5 0zM507 491l5 2 6-6-5-4zM512 493l5-2 6-3-5-1zM696 532l5-2 6 2-5-10zM735 538l5 3 6-4-5-3zM773 550l5-3 6-5-4 2z"/><path fill="#0a7" stroke="#0a7" d="M200 595l5-1 6-5-5-1zM494 645l5 5 6-6-5-3zM326 604l5 9 6-11-5 1zM331 613l5-5 6-4-5-2zM114 561l5-1 6-5-5-3zM183 571l5 4 6-12-5 1zM188 575l5-5 6-1-5-6zM227 579l5 3 6-6-5-3zM241 581l5 6 6-11-4 2zM420 625l5-2 6-9-4 2zM425 623l5 0 6-2-5-7zM435 628l5 0 6-11-5-1zM173 558l5 4 6-9-5-1zM178 562l4-2 7-6-5-1zM524 625l5 4 6-6-5-1zM260 563l5 4 6-9-5 0zM234 549l4 6 7-9-5 0zM519 615l5-3 6-3-5-2zM496 606l5-2 6-2-5-5zM222 542l5 1 6-5-5 0zM314 560l4 6 7-10-5 2zM318 566l5-3 6-5-4-2zM323 563l5 4 6-7-5-2zM319 551l5-1 6-1-5-7zM532 597l5 0 6-5-5-3zM359 556l5 3 6-10-5-2zM364 559l4 0 7-9-5-1zM562 598l5 3 6-6-5-2zM516 583l5 1 6-3-5-5zM271 527l5 1 6-4-5-5zM334 543l4-5 7 0-5-6zM364 543l5 2 6-8-5 1zM249 516l5 0 6-6-5-1zM336 535l5 3 6-10-5-4zM341 538l5-4 6-4-5-2zM275 518l4 0 7-4-5-4zM361 526l5 3 6-7-5-4zM366 529l4 0 6-9-4 2zM589 575l5-3 6-8-4 1zM633 581l5 0 6-3-5-3zM447 538l5-1 6-7-5-2zM674 582l5 6 6-9-5-2zM654 570l5 1 6-4-5-6zM389 507l5 5 6-7-5-3zM465 514l5 4 6-7-4-1zM447 507l5 4 6-6-4-5zM481 513l5 6 6-7-5-2zM714 564l4 4 6-8-4 1zM353 484l5-2 6-7-5 1zM416 493l5 6 6-8-5-2zM381 477l5 2 6-5-5-3zM614 528l4 2 6-8-4 3zM494 498l5 2 6-6-5-1zM514 500l5-1 6-1-4-6zM689 539l4-1 7-5-5-5zM672 525l5 5 6-7-5-2z"/><path fill="#087" stroke="#087" d="M205 594l5 0 6 6-5-11zM210 594l4 1 6-3-4 8zM191 589l5-3 6 1-4 1zM225 599l5-5 6 0-5 2zM312 614l5 0 6 2-4-5zM443 643l5-2 6-1-5 2zM462 643l5 2 6 4-4-2zM101 564l5 4 6-1-5-4zM106 568l4-4 7-1-5 4zM154 578l5-4 6 5-5-2zM217 592l5-2 6-4-5 6zM410 634l5-4 6 1-4 1zM449 642l5-2 6 1-5 0zM454 640l5 2 6-2-5 1zM473 649l5-3 6-5-4 6zM165 579l5-4 6 0-5 0zM320 606l5 4 6 3-5-9zM450 634l5 7 6-3-4-3zM108 560l5-2 6 2-5 1zM132 560l5 11 6-5-4-4zM152 572l5-5 6-1-5 4zM428 630l4-2 7 2-5-4zM177 573l5-3 6 5-5-4zM182 570l5 6 6-6-5 5zM187 576l5-6 6 6-5-6zM226 583l4-2 7 1-5 0zM235 580l5 10 6-3-5-6zM240 590l5-8 6 1-5 4zM409 619l5 4 6 2-4-7zM414 623l5-1 6 1-5 2zM434 626l5 4 6-6-5 4zM469 630l5 3 6-1-5-3zM512 642l5-5 6 4-4-3zM160 564l5-4 6-1-4 3zM262 584l5-2 6-1-5 2zM417 611l5 10 6-6-5 2zM422 621l5-5 6 4-5-5zM465 627l5-2 6 1-5 1zM133 553l5-2 6-2-5 8zM167 562l4-3 7 3-5-4zM249 579l5-2 6-5-5 7zM510 633l5 0 6 1-5-3zM163 558l5-5 6 1-5-1zM255 579l5-7 6 2-5 1zM453 615l5 3 6 1-5-1zM295 577l5 5 6-3-5 3zM484 620l5 0 6 1-5 0zM190 554l5 1 6-1-5 2zM199 554l5 4 6 3-4-9zM204 558l5 0 6-2-5 5zM219 559l5 1 6 1-5-2zM282 576l5-3 6-1-5 2zM543 628l5 2 6 1-5-3zM201 554l5-2 6 1-5 0zM254 560l5 7 6 0-5-4zM486 613l5 1 6 0-5 2zM539 627l5-1 6 1-4 0zM192 546l5 2 6 4-5-8zM468 605l5 4 6 2-5-9zM541 621l5 6 6-2-5-2zM179 540l5 4 6 1-5-4zM184 544l5-2 6 2-5 1zM203 552l5-6 6 2-5 0zM228 556l4-8 6 7-4-6zM508 610l5 3 6 2-5-4zM513 613l5 2 6-3-5 3zM557 621l4 4 7-2-5-1zM485 600l5 7 6-1-5-3zM490 607l5-1 6-2-5 2zM529 610l5 5 6 1-5-5zM534 615l4 1 7-2-5 2zM558 618l5 4 6 1-5-5zM563 622l5 1 6-5-5 5zM201 541l5-2 6 5-5-6zM249 545l5 8 6-3-4 2zM308 562l4 1 6 3-4-6zM312 563l5 0 6 0-5 3zM559 614l5 4 6-1-5 0zM193 533l5 4 6 2-5-6zM198 537l4-2 6-1-4 5zM309 560l5 0 6-2-5 3zM517 604l5-1 6 2-5 0zM570 617l5-2 6 2-5 0zM194 530l5 3 6-1-5-1zM213 539l5-5 6 2-5-1zM233 538l5 4 6-4-5 5zM276 551l5-1 6 1-5-1zM281 550l5 2 6-2-5 1zM518 599l5 6 6-2-5-4zM528 605l5-2 6 3-5-5zM519 599l5 0 6 0-4-1zM245 536l5 2 6-3-5 1zM250 538l5-2 6 4-5-5zM419 576l5-3 6-2-5 5zM497 589l4 4 6-1-4-2zM584 609l4 0 7-1-5 1zM285 543l5 0 6 1-5-4zM290 543l5 0 6-1-5 2zM338 554l5-1 6-3-5 3zM353 556l4 1 7 2-5-3zM357 557l5 1 6 1-4 0zM551 597l5 3 6-2-5 1zM561 602l5-3 6 3-5-1zM272 537l5-4 6 3-5-1zM301 542l5-1 6-1-5 2zM310 541l5 3 6 3-4-6zM315 544l5 2 6-4-5 5zM528 591l5-1 6 4-5-8zM258 525l5 7 6-4-4 3zM302 536l5 6 6-2-5-2zM307 542l5-2 6-3-5 3zM520 588l5-6 6 6-5-6zM313 540l5-3 6-3-5 4zM327 539l5 4 6-5-4 5zM357 544l4 6 6-5-4 3zM371 553l5-3 6 1-5-2zM376 550l5 4 6-3-5 0zM569 593l5 2 6-3-4 2zM608 599l5 2 6 1-5 0zM256 523l5-1 6 2-5-4zM261 522l5 2 6 3-5-3zM266 524l5 3 6-8-5 8zM372 545l5 4 6-1-5 0zM387 551l5-1 6 1-5-2zM556 585l5 1 6 5-5-7zM590 592l5 3 6 0-5-3zM243 516l5 0 6 0-5 0zM257 520l5 0 6 3-4-6zM291 525l5 1 6 2-5-3zM317 530l5-2 6-2-5 5zM468 555l5 6 6-4-5 4zM560 578l5 0 6 2-5-3zM613 590l5-3 6 4-5-5zM392 539l5 0 6 1-5-4zM634 587l5 6 6-1-5-4zM639 593l5-1 6-5-5 5zM292 514l4-3 7 2-5-2zM567 570l5 6 6 1-4-7zM572 576l5-5 6-2-5 8zM645 592l5-5 6 2-5 3zM650 587l5 3 6 3-5-4zM341 523l5-2 6 2-5-2zM564 570l5-1 6-5-5 7zM583 569l5 3 6 0-5 3zM622 579l5 3 6-1-5 1zM627 582l5 2 6-3-5 0zM415 536l5-4 6 5-5-6zM392 527l5-2 6-2-5 2zM402 527l5 0 6 1-5-2zM426 537l5-8 6 1-5 3zM441 535l5 2 6 0-5 1zM398 525l5-2 6-1-4 0zM423 532l4-8 7 4-5-2zM351 510l5 0 6 4-5-5zM366 513l5 0 6-1-5 1zM414 523l5 0 6 1-5-3zM419 523l5 1 6-1-5 1zM362 514l5-8 6 0-5 5zM372 513l5-1 6-5-5 5zM440 527l5-4 6 1-5 0zM527 540l5 8 6-1-5-4zM532 548l4-2 7-3-5 4zM614 564l5-1 6 2-5-3zM320 495l5 3 6-2-5 0zM426 518l5 4 6-6-4 6zM693 575l4 4 7-3-5 1zM345 501l5-3 6 5-4-8zM350 498l5 3 6-4-5 6zM379 504l5 3 6 1-5-4zM549 546l5-6 6 4-5-4zM626 560l5-5 6 3-5 1zM636 557l5 6 6-3-5 2zM641 563l4-4 7 4-5-3zM675 570l4-1 6-2-4 2zM337 496l5-5 6 1-5 0zM410 508l5 3 6-1-5-3zM419 508l5 5 6-5-5 6zM463 518l5 2 6 4-5-6zM676 563l5 6 6-5-5 4zM690 566l5 4 6-2-5 2zM715 573l4 2 6-1-4 1zM353 494l5-1 6-1-5 1zM411 505l5 2 6-4-5 5zM455 513l4 4 6-3-4 1zM459 517l5 0 6 1-5-4zM474 524l5-5 6-3-5 4zM667 562l5-2 6 4-4-4zM706 572l5-3 6-2-5 4zM441 509l5 0 6 2-5-4zM475 514l5 6 6-1-5-6zM480 520l5-4 6 3-5 0zM485 516l5 3 6-1-5 1zM630 549l5 0 6-1-5 2zM617 547l5-6 6 5-5-2zM622 541l4 8 7-5-5 2zM641 548l5-2 6 9-5-9zM660 552l5 0 6 2-5-3zM665 552l5 1 6 0-5 1zM371 483l5 11 6-6-5-2zM434 498l5 3 6 1-5-3zM439 501l5 3 6-4-5 2zM478 514l5-5 6-2-5 3zM363 481l5 0 6 2-5 0zM382 488l5-3 6 1-5 1zM445 502l5-2 6 0-5 0zM450 500l5 1 6 0-5-1zM653 542l5 3 6 5-5-11zM658 545l5 2 6-7-5 10zM687 551l5 2 6 0-5-1zM692 553l5 0 6-2-5 2zM461 501l5-2 6-3-5 8zM495 511l5-7 6 5-5-4zM751 562l5 0 6-2-5 5zM375 479l5-1 6 1-5-2zM390 481l4 1 7 1-5-3zM467 504l5-8 6 1-5-1zM757 565l5-5 6-2-4 3zM372 476l4-3 7 4-5-5zM391 478l5 2 6 0-5-2zM426 480l5 3 6-1-5 1zM455 491l5-2 6 2-5-4zM460 489l5 2 6-3-5 3zM465 491l5 0 6 2-5-5zM470 491l4 1 7-1-5 2zM702 544l5-4 6 5-5-5zM519 499l5-2 6 6-5-5zM679 538l5-9 6 8-5-7zM390 466l5 3 6 1-5-1zM395 469l5-1 6 1-5 1zM501 494l5-3 6 2-5-2zM530 503l5-7 6 5-5-5zM535 496l5 5 6-3-5 3zM662 520l5 10 6-5-5-1zM667 530l5-5 6-4-5 4z"/><path fill="#086" stroke="#086" d="M219 598l5-3 6-1-5 5zM301 619l5-10 6 5-4-2zM201 589l5-1 6 3-5-3zM206 588l5 1 6 3-5-1zM240 597l5-3 6 4-5 0zM438 633l5 10 6-1-5-3zM467 645l5 0 6 1-5 3zM149 569l5 9 6-1-5-3zM159 574l5 3 6-2-5 4zM183 583l5-3 6 3-5-3zM488 647l5-1 6 4-5-5zM131 564l5 4 6 1-5 2zM242 592l5-5 6 11-4-10zM325 610l5-4 6 2-5 5zM413 625l5-3 6 7-5-7zM466 634l5 2 6 3-5-4zM471 636l5 0 6 0-5 3zM221 574l5 9 6-1-5-3zM405 620l4-1 7-1-5 3zM120 552l5 3 6 1-4-1zM474 633l5-6 6 6-5-1zM165 560l5 0 6 6-5-7zM170 560l5 1 6 1-5 4zM194 563l5 6 6 1-5-4zM238 576l5 1 6 2-5-3zM267 582l5 0 6 4-5-5zM412 618l5-7 6 6-5-5zM427 616l4-2 7 5-5 1zM485 633l4-8 7 6-5-2zM523 641l5 2 6-9-5 1zM474 621l5-6 6 1-5 4zM446 605l5 6 6-1-5-3zM451 611l5-5 6 6-5-2zM312 572l5 7 6-1-5 0zM525 621l5 1 6-2-5 6zM197 548l5 1 6-3-5 6zM284 571l5-9 6 6-5-2zM309 574l4-5 6 6-4-3zM497 614l5-2 6-2-5 5zM521 618l5-2 6 6-4-5zM536 620l5 1 6 2-5-2zM232 548l5 7 6-3-5 3zM319 575l5-6 6 2-4 0zM484 608l5-4 6 2-5 1zM206 539l5-1 6 2-5 4zM501 604l5-5 6 11-5-8zM506 599l5 8 6-3-5 6zM545 614l4-3 7 0-5 3zM252 542l5-1 6 8-5-7zM257 541l5 6 6-7-5 9zM412 579l5-2 6 1-5 1zM533 603l5 0 6 0-5 3zM255 536l4 1 7 0-5 3zM269 543l5-4 6-1-5 4zM313 550l5-1 6 1-5 1zM501 593l5-6 6 3-5 2zM533 590l5-1 6 2-5 3zM254 530l4-5 7 6-5-6zM510 585l5-4 6 3-5-1zM529 584l5 2 6 1-4 0zM568 593l5 2 6 1-5-1zM392 550l5 1 6 1-5-1zM537 586l5-7 6 2-5 1zM561 586l5-2 6 2-5 5zM272 527l5-8 6-3-5 9zM296 526l5 0 6 0-5 2zM330 527l5 8 6 3-5-3zM335 535l5-3 6 2-5 4zM394 542l5 4 6 2-5-6zM260 510l5 3 6-3-5 4zM552 575l4-6 7 3-5 0zM586 582l4-6 6 3-4 0zM590 576l5 4 6 3-5-4zM610 584l5-3 6 4-5-1zM335 525l5-6 6 2-5 2zM364 526l5 2 6 1-5 0zM553 565l5 7 6-2-5-1zM288 506l5 3 6-1-5 2zM303 513l4-3 7 0-5 4zM409 536l5-2 6-2-5 4zM668 583l5-1 6 6-5-6zM673 582l5 3 6-3-5 6zM645 578l5-6 6 4-5-2zM356 510l5 0 6-4-5 8zM525 545l5 1 6 0-4 2zM613 562l4 2 7 6-5-7zM617 564l5 2 6-2-4 6zM643 568l5-2 6 4-5-2zM648 566l5 4 6 1-5-1zM667 571l5 1 6 6-5-5zM383 507l5 2 6 3-5-5zM388 509l5 0 6 1-5 2zM695 570l5-2 6 4-5-4zM700 568l5 3 6-2-5 3zM705 571l5-1 6 6-5-7zM335 484l5 1 6 0-5 2zM355 485l5-1 6 2-4 5zM370 492l5-7 6 1-5 8zM380 491l5 0 6 1-5 0zM472 510l4 1 7-2-5 5zM347 482l5-3 6 3-5 2zM415 498l5-3 6-4-5 8zM589 534l5 1 6 2-5-1zM594 535l5 3 6 2-5-3zM682 548l5 3 6 1-5-3zM500 504l4 3 7 1-5 1zM732 558l5-4 6 5-5-1zM380 478l5 1 6-1-5 1zM515 509l5-3 6 0-4 5zM646 535l5-1 6 6-5-5zM651 534l5 3 6-1-5 4zM488 497l5 0 6 3-5-2zM445 485l5 0 6-1-4 5zM668 533l5-1 6 6-5-7zM707 540l5 1 6 1-5 3zM418 479l5-5 6 5-5-4zM505 494l5 0 6 3-5-1zM723 541l4 0 6 4-4-5zM661 527l5-2 6 0-5 5zM690 537l5-9 6 2-5 2zM733 545l5-7 6 1-4 2zM758 548l5-3 6 2-5-1z"/><path fill="#0a4" stroke="#0a4" d="M234 597l5 4 6-7-5 3zM379 634l5-7 6 0-5 0zM408 634l5 4 6-5-5 0zM432 641l5-1 6 3-5-10zM442 643l5 0 6-3-5 1zM447 643l4 1 7-1-5-3zM451 644l5 1 6-2-4 0zM456 645l5 2 6-2-5-2zM129 571l4 2 7 1-5-7zM138 575l5 1 6-7-5 4zM143 576l5-3 6 5-5-9zM153 579l5-4 6 2-5-3zM375 620l5 9 6-3-5-3zM385 627l5 0 6-2-5 2zM429 638l4 0 7-4-5-2zM453 640l5 3 6-6-5 5zM130 573l5-6 6-2-5 3zM135 567l5 7 6-5-5-4zM251 598l5-6 6 6-5-9zM209 585l4-2 7-3-5 0zM330 606l4 5 6-4-4 1zM489 642l5 3 6-4-5 0zM123 560l5 4 6-4-5-5zM224 579l5 8 6-7-5 1zM239 584l5 4 6-2-5-4zM500 641l5 3 6-5-5 0zM119 560l5-5 6 0-5 0zM211 575l5 5 6-4-5-5zM332 603l5-1 6 1-5-4zM342 604l5 3 6-4-5 0zM458 629l5 4 6-3-5-7zM130 555l5 1 6 1-5-5zM169 566l5 0 6-6-5 1zM174 566l5 1 6-3-5-4zM483 631l5 4 6-2-5-8zM131 556l5-4 6-4-4 3zM185 564l4 0 7-3-5 1zM252 576l5 3 6-1-4-1zM339 597l5 3 6-6-4 2zM489 625l5 8 6-8-4 6zM196 561l4 5 7-9-5 8zM225 565l4 9 7-7-5 0zM254 577l5 0 6-4-5-1zM292 585l5-1 6 1-4-1zM442 618l5 0 6-3-4-4zM182 560l5-4 6-1-4-1zM352 594l5 0 6-3-5 1zM366 594l5 7 6-9-5 6zM487 621l5 2 6-2-5 0zM155 550l4-1 7-5-5 1zM358 592l5-1 6 3-5-7zM430 609l5-3 6 2-4-4zM170 549l5-2 6-1-4 0zM233 560l5 3 6-1-5-5zM238 563l5 1 6-5-5 3zM287 573l4 0 7-3-5 2zM291 573l5 4 6-4-4-3zM379 587l4 11 6-6-4 0zM299 571l5-2 6-2-5-1zM386 587l5 4 6-2-5-6zM261 558l5 0 6-3-4 1zM281 562l5 0 6-3-5 1zM305 566l5 1 6-2-5 0zM392 583l5 6 6-7-5 4zM219 546l5 0 6-3-5-1zM253 549l5 6 6-2-5-3zM316 565l5 3 6-2-5-6zM335 573l5-1 6-3-5 1zM471 597l5 5 6-4-5-2zM235 547l5-1 6-3-5 0zM240 546l5 0 6 0-5-3zM520 609l5-2 6-3-4 1zM549 611l5 5 6-5-4 0zM236 545l5-2 6-4-5 0zM246 543l5 3 6-5-5 1zM289 554l5 0 6-3-4 2zM527 605l4-1 7-1-5 0zM223 537l5 1 6-9-5 6zM247 539l5 3 6 0-5-4zM320 558l5-2 6-1-5 1zM421 576l5 6 6 0-4-8zM321 555l5 1 6-4-5-2zM432 582l5-3 6 0-5-3zM500 593l5 1 6-2-5-5zM221 531l5-1 6-3-5-1zM438 576l5 3 6-1-4-4zM222 524l5 2 6 0-5-3zM232 527l5 4 6-7-5 3zM275 542l5-4 6-3-5-2zM430 571l5-1 6 3-5-8zM546 595l5 2 6 2-5-10zM262 532l5 0 6-1-5-4zM436 565l5 8 6-6-5-1zM518 588l5-1 6-3-4-2zM610 605l5 2 6 0-4-5zM505 581l5 4 6-2-5-4zM240 517l5 7 6-5-4-3zM294 529l4 3 7-1-5-2zM463 571l5 0 6-3-5-2zM511 579l5 4 6-7-5 3zM555 586l5 5 6-7-5 2zM319 538l5-4 6-7-5 5zM455 561l4 4 7-2-5-4zM566 584l5 4 6-5-5 3zM580 592l5-3 6 0-5-2zM600 594l5 2 6-4-5-1zM605 596l4 0 7-2-5-2zM282 524l5-2 6-1-5-1zM349 537l5 2 6-6-4 2zM403 552l4-3 7-2-5 2zM461 559l5 4 6-4-5 1zM475 569l5-5 6-1-5-1zM577 583l5 4 6 0-5-4zM288 520l5 1 6-4-5 2zM389 543l5-1 6 0-4-3zM622 591l4 4 7-6-5 1zM396 539l4 3 6-4-4 1zM405 548l5-6 6-4-5 1zM478 557l5 4 6-4-5-3zM550 573l5 0 6 0-5-4zM604 584l4 2 7-5-5 3zM276 514l5-4 6-4-5 4zM281 510l5 4 6 0-5-8zM363 530l5 3 6-8-5 3zM653 593l5 0 6-1-5-6zM306 517l5-4 6 2-5-6zM408 535l5 3 6-3-5-1zM422 537l5 5 6-3-5-1zM495 554l5 2 6-1-5-3zM577 571l5 1 6 0-5-3zM630 581l5 8 6-6-5-3zM274 507l4-3 7-6-5 6zM380 526l5 4 6-7-5 2zM414 534l5 1 6-4-5 1zM604 574l5-4 6 0-5-2zM609 570l5 6 6-5-5-1zM643 581l4-2 7 0-5-3zM647 579l5 4 6-4-4 0zM652 583l5-1 6-4-5 1zM296 498l4 6 6-4-4 1zM571 560l5 3 6-1-5-4zM615 570l5 1 6 0-5-6zM644 578l5-2 6 1-5-5zM306 500l5 2 6-5-4 4zM510 547l5-1 6-5-5 1zM577 558l5 4 6-2-4-3zM313 501l4-4 7 0-5 1zM448 529l5-1 6 2-5-8zM453 528l5 2 6-2-5 2zM458 530l5 3 6 1-5-6zM680 577l5 2 6-1-5-2zM685 579l5-1 6-2-5 2zM333 501l5 1 6-3-5-3zM377 512l5-5 6 2-5-2zM382 507l4 7 7-5-5 0zM411 519l4-3 7 1-5-4zM454 522l5 8 6-7-5 3zM604 558l5 4 6-6-5-1zM354 502l5 0 6-2-5 0zM412 514l5-1 6 0-5-1zM417 513l5 4 6-5-5 1zM460 526l5-3 6 1-5-3zM610 555l5 1 6 1-5-4zM370 502l5 1 6-3-5-3zM457 520l5-1 6 1-5-2zM597 547l5 7 6-5-5 3zM612 556l4-3 7-2-5 0zM704 576l4-4 7 1-5-3zM560 544l5-5 6-5-5 7zM613 549l5 2 6 0-5-3zM329 485l5 3 6-3-5-1zM387 497l5 5 6-8-5 5zM619 548l5 3 6-2-5-6zM634 551l4 3 6-6-4 1zM378 492l5 2 6-2-4-1zM562 530l5 7 6-7-5 2zM683 558l5 3 6-5-5 1zM693 562l5-2 6-1-5 0zM360 484l5 5 6-6-5 3zM457 506l5 2 6 0-5-4zM462 508l5 4 6-10-5 6zM501 513l4 8 7-5-5 0zM505 521l5-1 6 0-4-4zM549 529l5-3 6 1-5-3zM675 553l5 4 6-10-5 8zM684 554l5 3 6 0-4-4zM728 567l5-2 6-3-5 2zM463 504l5 4 6-3-5-5zM483 509l4 1 7-4-5 1zM487 510l5 2 6-2-4-4zM633 544l4-2 7-4-5 1zM637 542l5 1 6 2-4-7zM724 560l5 1 6 1-4-4zM392 484l5 6 6-5-5-3zM494 506l4 4 6-3-4-3zM576 529l5-4 6-1-5-1zM644 538l4 7 6-7-4 1zM702 553l4 3 7-7-5 1zM731 558l4 4 7-3-5-5zM393 486l5-4 6-3-5 4zM466 499l5 1 6-4-5 0zM485 505l5-5 6 3-5-4zM553 527l5-3 6-6-5 2zM596 528l5-1 6-1-4 0zM611 531l5 4 6-6-5 4zM630 534l5 6 6-6-5-3zM742 559l4 1 7-5-5 0zM482 497l4 4 7-4-5 0zM617 533l5-4 6 4-5-9zM699 551l5-6 6-5-5 3zM430 482l4 5 7-4-5 0zM526 506l5 1 6-4-4-1zM584 517l5 5 6-6-4-2zM589 522l5-4 6-3-5 1zM594 518l5 4 6-4-5-3zM604 525l5-2 6-5-5 2zM633 528l5 6 6-7-5 3zM638 534l5-3 6-2-5-2zM643 531l4 2 6-4-4 0zM686 543l5-2 6-6-5 2zM701 543l4 0 7-2-5-1zM412 475l4 5 7-6-5 5zM484 495l5-2 6-2-5 0zM547 508l5 5 6-8-5 2zM605 518l5 2 6 1-5-6zM615 518l5 7 6-4-5-2zM639 530l5-3 6 0-5-2zM745 550l5-1 6-5-4 6zM750 549l5 3 6 0-5-8zM626 521l5 2 6-8-5 7zM631 523l4-1 7 2-5-9zM650 527l5-2 6 2-5-3zM660 532l4-5 7-2-5 0zM771 552l5-3 6 4-5-7zM467 485l5-3 6 1-5-6zM521 492l4 6 7-7-5 1zM642 524l4-2 7-3-5-1zM704 536l5-2 6-1-4-5zM709 534l5 1 6-2-5 0zM719 541l5-6 6 3-5-7zM411 468l4 0 7-3-5-1zM522 492l5 0 6-4-5 0zM532 491l4 5 7-3-5-3zM599 504l5 8 6-6-5 3zM609 508l5 6 6-9-5 4zM614 514l5-4 6 0-5-5zM648 518l5 1 6 0-5-2zM706 532l5-4 6 5-5-8zM725 531l5 7 6-6-5 3zM778 547l5-2 6 4-5-7z"/><path fill="#094" stroke="#094" d="M239 601l4-5 7 7-5-9zM472 645l5 0 6 1-5 0zM188 580l5 0 6-1-5 4zM377 622l4 1 7 3-5-5zM435 632l5 2 6-1-5 2zM180 572l4 7 6-2-4-1zM199 579l5 3 6-4-5 4zM257 589l5 9 6-1-5-10zM484 641l5 1 6-1-5 1zM195 572l5 7 6-6-5 6zM340 607l5 1 6 2-4-3zM495 641l5 0 6-2-5 2zM216 580l5-6 6 5-5-3zM337 602l5 2 6-1-5 0zM506 639l5 0 6-2-5 5zM125 555l5 0 6-3-5 4zM154 556l5 7 6-3-5 4zM217 571l5 5 6 1-5-6zM459 630l5-7 6 2-5 2zM464 623l5 7 6-1-5-4zM248 578l4-2 7 1-5 0zM153 547l5 6 6-2-5-2zM202 565l5-8 6 4-5 0zM226 564l5 3 6-1-5 1zM260 572l5 1 6 1-5 0zM444 614l5-3 6 1-5 2zM449 611l4 4 6 3-4-6zM184 553l5 1 6 1-5-1zM189 554l4 1 6-1-4 1zM363 591l5 2 6-1-5 2zM518 624l4 1 7 4-5-4zM161 545l5-1 6 2-5-2zM166 544l4 5 7-3-5 0zM224 560l5-1 6-4-5 6zM181 546l5 1 6-1-4 2zM235 555l4 2 7 6-5-6zM293 572l5-2 6-1-5 2zM307 576l5-4 6 6-5-9zM477 609l4-1 7 2-5 2zM510 621l5-6 6 3-4-3zM323 578l5-4 6-3-5 6zM381 587l5 0 6-4-5 5zM329 577l5-6 6 1-5 1zM248 550l5-1 6 1-5 3zM403 582l5 3 6 2-5-2zM466 597l5 0 6-1-5 3zM211 538l5 1 6 3-5-2zM225 542l5 1 6 2-5-4zM245 546l4-1 7 7-5-6zM274 552l4 2 7-2-5 1zM322 560l5 6 6-5-5 6zM401 571l5 12 6-4-5-3zM488 593l5 5 6-3-5 1zM531 604l5 2 6 2-4-5zM325 556l4 2 7 2-5-5zM499 595l5-2 6 4-5-3zM486 588l4 2 7-1-5 0zM558 604l5-2 6 6-5-4zM563 602l5 3 6 1-5 2zM506 587l5 5 6-2-5 0zM555 601l4-2 7 0-5 3zM217 524l5 0 6-1-5 2zM227 526l5 1 6 0-5-1zM299 546l5-5 6 0-4 0zM243 524l4 4 7 2-5-6zM281 533l5 2 6 1-5-1zM543 592l4-4 7 7-5-6zM244 523l5 1 6 1-5-2zM360 546l5 1 6 6-5-7zM370 549l5 1 6 4-5-4zM442 566l5 1 6 1-5-2zM457 571l5-1 6 1-5 0zM298 532l5-2 6 5-4-4zM386 554l4-4 7 1-5-1zM469 566l5 2 6-4-5 5zM585 589l5 3 6 0-5-3zM325 532l5-5 6 8-5-6zM572 586l5-3 6 0-5 2zM356 535l4-2 6 3-4-3zM365 534l5 4 6-1-5-1zM294 519l5-2 6 1-5-2zM337 529l5-5 6 7-4-6zM386 538l5-2 6 3-5 0zM391 536l5 3 6 0-5 0zM463 555l5 0 6 6-5-7zM487 559l5 2 6-2-4 5zM628 590l5-1 6 4-5-6zM406 538l5 1 6 0-4-1zM479 557l5-3 6-3-5 4zM311 513l5 4 6-3-5 1zM340 519l5 3 6 0-5-1zM369 528l5-3 6 1-5 3zM417 539l5-2 6 1-4 1zM485 555l5-4 6 0-5 2zM548 571l5-6 6 4-5-4zM626 582l4-1 6-1-4 4zM322 514l5-2 6 3-5-2zM395 529l4 2 7-3-5 2zM506 555l5-3 6 4-5-2zM607 577l5-2 6-2-4 3zM666 586l4 4 6-3-4 1zM280 504l5-6 6 3-5 3zM357 515l5 5 6-1-5 0zM362 520l5-2 6 3-5-2zM367 518l5 4 6-3-5 2zM372 522l4-2 7 4-5-5zM391 523l5 2 6 2-5-2zM575 564l5 0 6 0-5 3zM580 564l5 1 6 5-5-6zM658 579l5-1 6 3-4-1zM350 507l5 6 6-3-5 0zM587 562l5-3 6 3-5 0zM303 492l5 6 6 0-5-2zM521 541l4 4 7 3-5-8zM449 524l5-2 6 4-5 0zM517 539l5 0 6 0-5 2zM522 539l5 1 6 3-5-4zM662 566l5 5 6 2-5-2zM596 549l5 7 6-3-5 1zM336 496l5-5 6 5-5-5zM708 572l5 1 6 2-4-2zM361 497l5-2 6 1-5 0zM482 522l5 0 6-1-5 7zM345 484l4 3 6-2-4 1zM572 538l5-4 6 2-5 0zM615 546l5-4 6 7-4-8zM669 550l5 10 6-3-5-4zM375 485l5 6 6 1-5-6zM651 547l4 0 7 4-5-2zM352 479l5 2 6 0-5 1zM366 486l5-3 6 3-4-5zM454 500l4 5 6 1-4-7zM560 527l5-2 6 0-5 0zM599 538l5-1 6-2-5 5zM681 555l5-8 6 6-5-2zM387 485l5-1 6-2-5 4zM402 489l4-2 7 2-5-1zM469 500l5 5 6-1-5-3zM547 525l5-2 6 1-5 3zM639 539l5-1 6 1-5-1zM745 565l5-8 6 5-5 0zM582 523l5 1 6-2-5 3zM587 524l5-2 6 7-5-7zM654 538l5 1 6 0-4 2zM708 550l5-1 6 6-5-6zM737 554l5 5 6-4-5 4zM472 496l5 0 6 0-5 1zM401 483l4-8 7 0-5 5zM425 485l5-3 6 1-5 0zM459 492l5-3 6 2-5 0zM754 555l5-2 6-2-5 5zM528 504l5-2 6-3-5 3zM610 520l5-2 6 1-5 2zM649 529l4 0 7 3-5-7zM653 529l5 1 6-3-4 5zM389 470l5-4 6 2-5 1zM485 487l5 4 6-1-4 0zM592 510l5 3 6 5-5-7zM635 522l5 1 6-1-4 2zM752 550l4-6 7 1-5 3zM448 476l5 4 6 0-5-3zM453 480l5-1 6-1-5 2zM550 501l4-1 7-2-5 5zM632 522l5-7 6 3-5 1zM695 528l5 5 6-1-5-2zM767 543l5 4 6 0-5 3zM473 477l5 6 6-4-4 2zM570 504l5 1 6-4-5 4zM643 518l5 0 6-1-5 1zM711 528l4 5 7-3-5 3zM720 533l5-2 6 4-5-2z"/><path fill="#2b0" stroke="#2b0" d="M248 596l5 3 6-5-5 4zM321 615l5-4 6 0-5 1zM254 598l5-4 6 0-5-2zM327 612l5-1 6-4-5 2zM260 592l5 2 6-9-4 10zM402 603l5 12 6-7-4-8zM328 574l5-4 6-1-5 2zM400 591l5-4 6-3-4 4zM346 569l5-2 6-8-5 8zM419 580l5 4 6-5-5 4zM425 583l5-4 6-2-5 1zM476 581l5 11 6-4-5-8zM449 578l5-7 6-3-4 5zM383 556l5 1 6-7-5 3zM422 564l5 2 6-4-5-2zM440 556l5 2 6 0-5-3zM446 555l5 3 6-5-5 2zM497 563l5-1 6-7-5 9zM538 564l5 2 6-3-4 1zM545 564l4-1 7-3-5 3zM483 542l5 3 6-3-5-2zM489 540l5 2 6-2-5 1zM474 531l4-1 7 1-5-6zM557 543l5 3 6-3-5 1zM567 548l5 2 6-2-5-3zM568 543l5 2 6-3-5 0zM573 545l5 3 6-4-5-2zM583 543l4 7 7-4-5-5zM516 531l5 2 6-3-5-2zM521 533l5-3 6-5-5 5zM589 541l5 5 6-2-5-1zM519 531l5-7 6 4-5-7z"/><path fill="#1b1" stroke="#1b1" d="M287 605l5 9 6-2-5-10zM419 602l5 5 6 2-4-11zM426 598l4 11 7-5-5-3zM444 595l5 7 6-6-5 2zM443 579l5-2 6-6-5 7zM493 583l5-1 6 2-5-5zM500 579l5 2 6-2-4-3zM395 554l5-1 6-4-5 2zM468 571l5-3 6-4-5 4zM401 551l5-2 6 0-5 0zM474 568l5-4 6 1-5-1zM407 549l5 0 6-1-4-1zM480 564l5 1 6-1-5-1zM519 575l5 0 6-1-5-5zM414 547l4 1 7-2-5 0zM486 563l5 1 6-1-5-2zM525 569l5 5 6-5-5 3zM420 546l5 0 6-2-5 1zM458 555l5 0 6-1-4-4zM426 545l5-1 6-3-5 1zM465 550l4 4 7 0-5-6zM432 542l5-1 6 1-5-5zM471 548l5 6 6-2-5-10zM505 553l4 1 7 1-5-3zM438 537l5 5 6-3-5-3zM549 563l5 2 6-5-4 0zM444 536l5 3 6-1-5-5zM522 554l4 2 7-5-5 4zM450 533l5 5 6-4-5-4zM494 542l5 2 6-5-5 1zM495 541l5-1 6-2-5 0zM500 540l5-1 6 0-5-1zM563 557l5 1 6-2-5 0zM501 538l5 0 6 0-5-1zM569 556l5 0 6-1-5-2zM507 537l5 1 6 0-4-3zM546 548l5-3 6-2-5 0zM575 553l5 2 6-6-5 3zM509 538l5-3 6-3-5 2zM581 552l5-3 6-1-5 2zM586 549l5 3 6-5-5 1zM515 534l5-2 6-2-5 3zM563 544l5-1 6-1-5-3zM565 539l4 0 6-2-4-3zM569 539l5 3 6 3-5-8zM571 534l4 3 7 1-5-4zM509 527l5-6 6 1-5 1zM528 527l5 4 6-8-5 8zM515 523l5-1 6-5-5 4zM534 531l5-8 6 2-4-1zM539 523l5 3 6-8-5 7zM521 521l5-4 6 3-5-4zM536 522l5 2 6 1-5-3zM613 537l5 2 6-6-5 1zM619 534l5-1 6 1-5-6zM625 528l5 6 6-3-4-1zM540 512l4 3 7-3-5-6zM551 512l4-1 7-2-5 0zM557 509l5 0 6 1-5-3zM571 507l5 6 6-2-5-2zM576 513l5-1 6-7-5 6zM558 505l5 2 6-1-5-6zM577 509l5 2 6-5-5 2zM582 511l5-6 6 4-5-3zM651 516l5 8 6-4-5-3z"/><path fill="#2c0" stroke="#2c0" d="M360 622l4 6 6-6-4-8zM449 539l5 4 6-9-5 4zM551 563l5-3 6-3-5-2zM572 550l4 3 7-10-5 5z"/><path fill="#0b2" stroke="#0b2" d="M364 628l5-1 6-7-5 2zM206 573l5 2 6-4-5 1zM214 570l5-2 6-3-5 1zM335 593l4 4 7-1-5-5zM142 548l5 3 6-4-4 1zM341 591l5 5 6-2-5-4zM353 589l5 3 6-5-5 0zM365 585l5 6 6-4-5-10zM378 578l4 7 6-5-4 0zM384 580l4 0 7 0-5-4zM462 592l5 4 6-4-5-1zM487 588l5 1 6-7-5 1zM427 566l4 1 6 0-4-5zM384 556l5-3 6 1-5-4zM433 562l4 5 7-6-5 2zM513 580l4-1 7-4-5 0zM524 575l4 2 7-10-5 7zM543 566l5 5 6-6-5-2zM433 539l5-2 6-1-5-1zM562 557l4 8 7-8-5 1zM529 551l5 1 6-10-5 7zM298 497l5-5 6 4-5-9zM574 556l5 2 6-5-5 2zM580 555l5-2 6-1-5-3zM585 553l5 2 6-6-5 3zM514 535l4 3 7-1-5-5zM493 521l5 2 6-2-5-4zM575 537l5 8 6-6-4-1zM580 545l5 1 6-5-5-2zM585 546l5-1 6-1-5-3zM544 526l5 3 6-5-5-6zM607 544l5-4 6-1-5-2zM608 540l5-3 6-3-5 2zM534 515l4 4 6-4-4-3zM548 514l5 13 6-7-5-3zM552 513l5-4 6-2-5-2zM595 516l5-1 6-6-4 4zM600 515l5 3 6-3-5-6zM553 507l5-2 6-5-5 2zM640 523l5 2 6-9-5 6zM749 538l5 0 6-2-5-3z"/><path fill="#072" stroke="#072" d="M480 649l5 0 6 2-4-2z"/><path fill="#0b3" stroke="#0b3" d="M109 565l5 4 6-5-5-1zM114 569l5 2 6-5-5-2zM250 603l4-5 6-6-4 0zM213 583l5 1 6-5-4 1zM315 607l5-1 6-2-5-4zM383 621l5 5 6-7-5-6zM431 632l5-2 6-4-5-2zM118 561l5-1 6-5-5 0zM148 563l5 0 6 0-5-7zM395 615l5 6 6-9-5-1zM329 596l4 6 6-5-4-4zM445 624l4 1 7-8-5 3zM136 552l5 5 6-6-5-3zM146 557l5-1 6-1-5-5zM284 576l5 4 6-3-5-4zM299 584l4 1 6-9-4 4zM371 601l5-6 6 3-5-6zM511 625l5 6 6-6-4-1zM229 559l4 1 6-3-4-2zM243 564l5 1 6-5-5-1zM470 612l5 1 6-5-4 1zM449 602l5 3 6-10-5 1zM454 605l4-4 7 0-5-6zM194 541l4 3 7-9-5 5zM242 551l5 5 6-7-5 1zM456 596l5 4 6-4-5-4zM332 568l5-4 6-2-5-1zM337 564l4 6 7-5-5-3zM341 570l5-1 6-2-4-2zM477 596l5 2 6-5-5 1zM354 568l4-1 7-4-5-5zM557 609l5-1 6-3-5-3zM420 567l5 9 6-9-4-1zM440 575l5-1 6-7-5 3zM445 574l4 4 7-5-5-6zM541 596l5-1 6-6-5-1zM444 561l4 5 7-5-5 0zM277 519l5 5 6-4-5-4zM354 539l5 0 6-5-5-1zM451 558l5 7 6-8-5-4zM528 577l5 1 6-2-4-9zM409 549l5-2 6-1-5-4zM623 590l5 0 6-3-5-4zM312 509l5 6 6-7-5-3zM554 565l5 4 6-8-5-1zM493 547l4 3 7-4-5-2zM512 554l5 2 6-8-5 0zM517 556l5-2 6 1-5-7zM629 573l5 2 6-5-5 0zM297 497l5 4 6-3-5-6zM443 526l5 3 6-7-5 2zM459 530l5-2 6-3-5-2zM464 528l5 6 6-10-5 1zM541 546l5 2 6-5-5 1zM466 521l5 3 6-6-4-2zM471 524l5 0 6-2-5-4zM376 497l5 3 6-3-5-2zM487 522l5 7 6-6-5-2zM531 532l4 4 7-2-5-7zM594 546l4 5 7-4-5-3zM537 527l5 7 6-8-5 4zM551 534l5 1 6-5-5-2zM614 548l5 0 6-5-5-1zM658 555l5 3 6-8-5 3zM504 521l5 6 6-4-5-3zM602 541l5 3 6-7-5 3zM680 557l4-3 7-1-5-6zM604 537l4 3 6-4-4-1zM618 539l5 5 6-5-5-6zM581 525l4 4 7-7-5 2zM529 517l5-2 6-3-5-2zM704 545l5 6 6-6-5-5zM570 518l5 0 6-6-5 1zM533 502l4 1 6-4-4 0zM586 519l5-5 6-1-5-3zM645 525l5 2 6-3-5-8zM737 544l5 1 6-4-5-2zM756 544l5 8 6-9-4 2zM761 552l5-4 6-1-5-4zM766 548l5 4 6-6-5 1zM554 500l5 2 6-2-4-2zM440 473l4 1 7-3-5-3z"/><path fill="#0a2" stroke="#0a2" d="M293 602l5 10 6-1-5-7zM370 622l5-2 6 3-4-1zM252 589l5 0 6-2-5 6zM389 613l5 6 6 2-5-6zM124 555l5 0 6 1-5-1zM212 572l5-1 6 0-4-3zM451 620l5-3 6-1-5 5zM456 617l4 6 7-2-5-5zM147 551l5-1 6 3-5-6zM220 566l5-1 6 2-5-3zM305 580l4-4 7-1-5 6zM377 592l5 6 6-8-5 8zM311 581l5-6 6-2-5 6zM359 587l5 0 6 4-5-6zM383 598l5-8 6 1-5 1zM432 601l5 3 6 2-5-8zM450 598l5-2 6 4-5-4zM200 540l5-5 6 3-5 1zM479 591l5-2 6 1-4-2zM360 558l5 5 6-5-5 6zM372 555l5 2 6-1-5 2zM451 567l5 6 6-3-5 1zM499 579l5 5 6 1-5-4zM390 550l5 4 6-3-4 0zM507 576l4 3 6 0-4 1zM457 553l5 4 6-2-5 0zM410 542l5 0 6 1-5-5zM492 561l5 2 6 1-5-5zM537 567l5 5 6-1-5-5zM500 556l5-3 6-1-5 3zM307 510l5-1 6-4-4 5zM511 552l5 3 6-1-5 2zM285 498l4 4 7-4-5 3zM318 505l5 3 6-1-4 1zM439 535l5 1 6-3-4 4zM568 558l5-1 6 1-5-2zM463 533l4-1 7-1-5 3zM506 538l5 1 6 0-5-1zM470 525l5-1 6 0-5 0zM591 552l5-3 6 5-5-7zM476 524l5 0 6-2-5 0zM587 550l5-2 6 3-4-5zM577 534l5 4 6-4-5 2zM586 539l5 2 6 0-4-3zM591 541l5 3 6-3-5 0zM596 544l5-1 6 1-5-3zM420 495l4-6 7 5-5-3zM541 524l4 1 7-2-5 2zM552 523l4-4 7 1-5 4zM610 535l4 1 7-6-5 5zM616 535l5-5 6 3-5-4zM546 506l5 6 6-3-5 4zM559 502l5-2 6 4-5-4zM564 500l5 6 6-1-5-1zM569 506l5-1 6 0-5 0zM574 505l5 5 6 0-5-5zM743 539l5 2 6-3-5 0zM561 498l4 2 7-7-5 6zM590 505l4 3 7 1-5-8z"/><path fill="#3b0" stroke="#3b0" d="M366 614l4 8 7 0-5-10zM305 594l5 10 6-8-5-4zM311 592l5 4 6 3-4-11zM384 605l5 8 6 2-5-11zM318 588l4 11 7-3-5-10zM390 604l5 11 6-4-5-9zM324 586l5 10 6-3-5-6zM330 587l5 6 6-2-5-7zM336 584l5 7 6-1-5-10zM303 585l5-8 6-3-5 2zM342 580l5 10 6-1-5-9zM382 598l5-10 6-3-5 5zM316 575l4-1 7-4-5 3zM427 591l5 10 6-3-5-4zM407 588l4-4 7-5-5 2zM445 593l5 5 6-2-5-9zM379 571l5 9 6-4-5-4zM451 587l5 9 6-4-4-2zM458 590l4 2 6-1-4-8zM365 563l4-6 7 0-5 1zM403 566l5-1 6 1-5-4zM371 558l5-1 6-3-5 3zM409 562l5 4 6 1-4-5zM482 580l5 8 6-5-5-5zM488 578l5 5 6-4-5-4zM502 575l5 1 6 4-5-11zM508 569l5 11 6-5-5-7zM520 566l5 3 6 3-5-9zM526 563l5 9 6-5-5-4zM431 544l5-4 6 1-5 0zM460 546l5 4 6-2-5-1zM503 564l5-9 6 1-5-2zM437 541l5 0 6-5-5 6zM466 547l5 1 6-6-5 5zM509 554l5 2 6-3-4 2zM478 546l5-4 6-2-5 4zM455 538l5-4 6 1-5-1zM484 544l5-4 6 1-5-1zM461 534l5 1 6-9-5 6zM558 551l5 6 6-1-5-3zM545 549l5 1 6-4-5-1zM550 550l5-3 6 2-5-3zM564 553l5 3 6-3-5-5zM551 545l5 1 6 0-5-3zM556 546l5 3 6-1-5-2zM561 549l4 1 7 0-5-2zM562 546l5 2 6-3-5-2zM510 530l5 4 6-1-5-2zM578 548l5-5 6-2-5 3zM497 528l5-1 6-4-5 0zM506 527l5 4 6-2-4-3zM511 531l5 0 6-3-5 1zM517 529l5-1 6-1-4-3zM520 522l5-1 6-4-5 0zM525 521l5 7 6-6-5-5zM531 517l5 5 6 0-5-6z"/><path fill="#0b5" stroke="#0b5" d="M169 579l4 3 7-10-5 2zM246 598l5 0 6-9-5 0zM651 574l5 2 6-10-5 2zM656 576l5 1 6-6-5-5zM564 536l4-4 6-5-4-4z"/><path fill="#1c1" stroke="#1c1" d="M299 604l5 7 6-7-5-10zM390 576l5 4 6-9-5-2zM468 591l5 1 6-1-4-12zM402 573l5 3 6-3-5-8zM498 559l5 5 6-10-4-1zM534 552l5 3 6-6-5-7zM576 553l5-1 6-2-4-7zM526 530l5 2 6-5-5-2zM530 528l4 3 7-7-5-2zM614 536l5-2 6-6-4 2zM549 519l5-2 6-3-5-3z"/><path fill="#2a0" stroke="#2a0" d="M333 609l5-2 6-7-5 11zM267 595l4-10 7-1-5 9zM339 611l5-11 6 1-5 7zM273 593l5-9 6 2-5 4zM285 592l5-11 6-3-5 9zM358 603l4-5 7-5-5 11zM396 602l5 9 6 4-5-12zM291 587l5-9 6 0-5 6zM297 584l5-6 6-1-5 8zM394 591l5-3 6-1-5 4zM334 571l5-2 6-3-5 6zM352 567l5-8 6-1-5 9zM358 567l5-9 6-1-4 6zM431 578l5-1 6 0-5 2zM377 557l5-3 6 3-5-1zM416 562l4 5 7-1-5-2zM456 573l4-5 7 0-5 2zM494 575l5 4 6 2-5-2zM389 553l5-3 6 3-5 1zM443 542l5-6 6 7-5-4zM516 555l4-2 6 3-4-2zM557 555l5 2 6 1-5-1zM584 544l5-3 6 2-5 2zM503 523l5 0 6-2-5 6zM566 509l5-2 6 2-4-1z"/><path fill="#1c2" stroke="#1c2" d="M310 604l5 3 6-7-5-4zM469 534l5-3 6-6-5-1zM565 517l5 1 6-5-5-6zM581 512l5 7 6-9-5-5zM580 505l5 5 6-9-5-2z"/><path fill="#1a1" stroke="#1a1" d="M316 596l5 4 6 3-5-4zM371 577l5 10 6-2-4-7zM340 572l5-6 6 1-5 2zM408 585l5-4 6-1-5 7zM396 569l5 2 6 5-5-3zM408 565l5 8 6 3-5-10zM437 579l5-2 6 0-5 2zM428 560l5 2 6 1-5-1zM462 570l5-2 6 0-5 3zM452 555l5-2 6 2-5 0zM556 560l4 0 6 5-4-8zM528 555l5-4 6 4-5-3zM456 530l5 4 6-2-4 1zM540 542l5 7 6-4-5 3zM552 543l5 0 6 1-5-1zM574 542l5 0 6 4-5-1zM579 542l5 2 6 1-5 1zM527 530l5-5 6 3-5 3zM532 525l5 2 6 3-5-2zM590 545l5-2 6 0-5 1zM369 484l5 4 6 3-5-6zM545 525l5-7 6 1-4 4zM532 520l5-4 6-2-5 5zM538 519l5-5 6 5-5-4zM621 530l4-2 7 2-5 3zM562 509l4 0 7-1-5 2zM573 508l4 1 6-1-4 2zM587 505l5 5 6 1-5-2zM646 522l5-6 6 1-4 2z"/><path fill="#1a0" stroke="#1a0" d="M279 590l5-4 6-5-5 11zM570 548l5 5 6-1-5 1zM524 524l4 3 6 4-4-3zM543 514l5 0 6 3-5 2z"/><path fill="#077" stroke="#077" d="M429 625l5 1 6 2-5 0zM239 557l5 5 6 3-4-2zM473 609l5-3 6 2-5 3zM574 618l4 1 7 4-5-1zM325 542l5 7 6 2-5-4zM330 549l5-4 6 3-5 3zM661 593l5-7 6 2-5 6zM415 511l4-3 6 6-4-4zM392 474l5 4 6-1-5 2zM534 502l5-3 6 10-5-8zM782 553l5-3 6 6-5-1z"/><path fill="#3a0" stroke="#3a0" d="M364 604l5-11 6-3-5 8zM370 598l5-8 6 1-5 4zM376 595l5-4 6-3-5 10zM309 576l5-2 6 0-4 1zM388 590l5-5 6 3-5 3zM322 573l5-3 6 0-5 4zM373 571l5 7 6 2-5-9zM413 581l5-2 6 5-5-4zM391 569l5 0 6 4-5-3zM470 584l5-5 6 13-5-11zM485 565l5-4 6 1-5 2zM491 564l5-2 6 0-5 1zM532 563l5 4 6-1-5-2zM472 547l5-5 6 0-5 4zM537 553l5-2 6 3-4 3zM467 532l5-6 6 4-4 1zM496 532l5 6 6-1-4 0zM478 530l5 0 6-2-4 3zM498 535l5 2 6 1-5-2zM565 550l5-2 6 5-4-3zM491 524l4 3 7 0-5 1zM505 529l5 1 6 1-5 0zM508 523l5 3 6 5-5-10zM513 526l4 3 7-5-5 7zM526 517l5 0 6-1-5 4z"/><path fill="#4b0" stroke="#4b0" d="M409 600l4 8 6-6-4-6zM415 596l4 6 7-4-5-5zM421 593l5 5 6 3-5-10zM367 574l4 3 7 1-5-7zM448 577l5-9 6 4-5-1zM454 571l5 1 6 3-5-7zM417 554l5 10 6-4-5-3zM423 557l5 3 6 2-5-11zM400 553l5-4 6 1-5-1zM429 551l5 11 6-6-5-3zM473 568l4-5 7 1-5 0zM406 549l5 1 6-5-5 4zM435 553l5 3 6-1-5-5zM441 550l5 5 6 0-5-9zM514 568l5 7 6-6-5-3zM496 562l5 2 6 0-5-2zM454 548l4 7 7-5-5-4zM527 564l5-1 6 1-4-3zM534 561l4 3 7 0-5-4zM540 560l5 4 6-1-5-10zM526 556l5-4 6 1-4-2zM531 552l5 1 6-2-5 2zM546 553l5 10 6-8-5-2zM547 554l5-1 6-2-5 2zM552 553l5 2 6 2-5-6zM548 554l5-1 6 0-4-6zM555 547l4 6 6-3-4-1zM559 553l5 0 6-5-5 2zM485 531l4-3 6-1-4-3zM499 525l5 11 6-6-5-1zM495 527l5 1 6-1-4 0zM502 527l4 0 7-1-5-3z"/><path fill="#1b2" stroke="#1b2" d="M413 608l5 4 6-5-5-5zM438 598l5 8 6-4-5-7zM402 588l5 0 6-7-5 4zM366 564l5-6 6-1-5-2zM439 563l5-2 6 0-5-3zM531 572l5-3 6 3-5-5zM488 545l5 2 6-3-5-2zM520 532l5 5 6-5-5-2zM558 543l5 1 6-5-4 0zM492 529l5-1 6-5-5 0zM533 531l5-3 6-2-5-3zM582 538l4 1 7-1-5-4zM542 522l5 3 6 2-5-13zM535 510l5 2 6-6-5 4zM544 515l5 4 6-8-4 1zM554 517l5 3 6-3-5-3zM563 507l5 3 6-5-5 1zM568 510l5-2 6 2-5-5zM588 506l5 3 6-5-5 4zM575 505l5 0 6-6-5 2zM585 510l5-5 6-4-5 0z"/><path fill="#4c0" stroke="#4c0" d="M360 576l5 9 6-8-4-3zM464 583l4 8 7-12-5 5zM473 544l5 2 6-2-5-8zM544 557l4-3 7-7-5 3z"/><path fill="#3c0" stroke="#3c0" d="M385 572l5 4 6-7-5 0zM397 570l5 3 6-8-5 1zM490 540l5 1 6-3-5-6zM480 525l5 6 6-7-5-2zM504 536l5 2 6-4-5-4zM514 521l5 10 6-10-5 1zM537 516l5 6 6-8-5 0z"/><path fill="#089" stroke="#089" d="M580 622l5 1 6-3-5-6zM540 501l5 8 6-6-5-5z"/><path fill="#5b0" stroke="#5b0" d="M398 560l5 6 6-4-4-4zM405 558l4 4 7 0-5-5zM411 557l5 5 6 2-5-10zM388 557l5-7 6-2-5 2zM489 570l5 5 6 4-4-12zM484 564l4-4 7 3-5-2zM490 561l5 2 6 1-5-2zM507 564l5-3 6 1-5-4zM513 558l5 4 6-1-5-2zM523 558l4 6 7-3-5-2zM442 541l4-3 7-2-5 0zM461 538l5 9 6 0-5-9zM524 561l5-2 6 5-5-8zM525 549l5 7 6-3-5-1zM535 564l5-4 6-7-5 5zM454 543l5-10 6-1-5 2zM536 553l5 5 6-4-5-3zM541 558l5-5 6 0-5 1zM479 536l5 8 6-4-4-7zM481 534l5-1 6 1-5 0zM477 530l5 0 6 1-5-1zM482 530l5 4 6-2-5-1zM487 534l5 0 6 1-5-3zM483 530l5 1 6-5-5 2zM493 532l5 3 6 1-5-11z"/><path fill="#4a0" stroke="#4a0" d="M382 554l5-2 6-2-5 7zM394 550l5-2 6 1-5 4zM467 568l4-4 6-1-4 5zM496 567l4 12 7-3-5-1zM479 564l5 0 6-3-5 4zM412 549l5-4 6-3-5 6zM418 548l5-6 6-1-4 5zM447 546l5 9 6 0-4-7zM425 546l4-5 7-1-5 4zM508 555l5 3 6 1-5-3zM529 559l5 2 6-1-5 4zM448 536l5 0 6-3-5 10zM467 538l5 9 6-1-5-2zM520 553l5-4 6 3-5 4zM460 534l5-2 6 2-5 1zM542 551l5 3 6-1-5 1zM553 553l5-2 6 2-5 0zM472 526l5 4 6 0-5 0zM492 534l4-2 7 5-5-2zM489 528l5-2 6 2-5-1zM494 526l5-1 6 4-5-1zM500 528l5 1 6 2-5-4z"/><path fill="#5c0" stroke="#5c0" d="M483 576l5 2 6-3-5-5zM460 568l5 7 6-11-4 4zM502 562l5 2 6-6-5-3zM514 556l5 3 6-10-5 4zM530 556l5 8 6-6-5-5zM466 535l5-1 6-4-5-4zM486 533l4 7 6-8-4 2z"/><path fill="#6c0" stroke="#6c0" d="M471 564l5 5 6-8-5 2zM411 550l5-1 6-7-5 3zM509 567l5 1 6-2-5-4zM515 562l5 4 6-3-5-4zM429 541l5 1 6-7-4 5zM449 545l5 3 6-2-5-5zM519 559l5 2 6-5-5-7zM453 536l4 3 7-6-5 0zM468 535l5 9 6-8-4-3zM471 534l5 2 6-6-5 0zM476 536l5-2 6 0-5-4zM488 531l5 1 6-7-5 1z"/><path fill="#6b0" stroke="#6b0" d="M424 548l5 3 6 2-5-5zM477 563l5-2 6-1-4 4zM497 564l5 11 6-6-5-1zM430 548l5 5 6-3-4-1zM503 568l5 1 6-1-5-1zM417 545l5-3 6 0-5 0zM437 549l4 1 6-4-4 1zM495 563l4 1 7-5-5 5zM499 564l5-3 6 3-4-5zM504 561l5 6 6-5-5 2zM423 542l5 0 6 0-5-1zM443 547l4-1 7 2-5-3zM506 559l4 5 6-2-4-1zM510 564l5-2 6-3-5 3zM512 561l4 1 7-4-5 4zM516 562l5-3 6 5-4-6zM440 535l5 2 6-2-5 3zM455 541l5 5 6 1-5-9zM446 538l5-3 6 4-4-3zM451 535l5 3 6-3-5 4zM457 539l5-4 6 0-4-2zM459 533l5 0 6-3-5 2zM475 533l4 3 7-3-5 1z"/><path fill="#2c1" stroke="#2c1" d="M434 562l5 1 6-5-5-2zM539 555l5 2 6-7-5-1zM560 514l5 3 6-10-5 2z"/><path fill="#7b0" stroke="#7b0" d="M482 561l5 2 6-1-5-2zM445 537l5 3 6-2-5-3zM456 538l5 0 6 0-5-3z"/><path fill="#6a0" stroke="#6a0" d="M488 560l5 2 6 2-4-1z"/><path fill="#5a0" stroke="#5a0" d="M501 564l5-5 6 2-5 3zM521 559l5 4 6 0-5 1zM436 540l4-5 6 3-4 3zM518 562l5-4 6 1-5 2zM462 535l5 3 6 6-5-9zM465 532l5-2 6 6-5-2zM470 530l5 3 6 1-5 2z"/><path fill="#1a2" stroke="#1a2" d="M530 574l5-7 6 5-5-3zM498 523l5 0 6 4-5-6zM595 543l5 1 6 2-5-3zM550 518l5 6 6 2-5-7zM527 516l5 4 6-1-4-4zM583 508l5-2 6 2-4-3z"/><path fill="#7c0" stroke="#7c0" d="M444 542l5 3 6-4-5-1zM450 540l5 1 6-3-5 0zM464 533l4 2 7-2-5-3z"/><path fill="#2b1" stroke="#2b1" d="M477 542l5 10 6-7-5-3zM503 537l4 0 7-2-5 3zM475 524l5 1 6-3-5 2zM522 528l5 2 6 1-5-4zM555 511l5 3 6-5-4 0z"/><path fill="#078" stroke="#078" d="M656 589l5 4 6 1-5-5zM545 509l5-8 6 2-5 0z"/><path fill="#0a1" stroke="#0a1" d="M481 524l5-2 6 7-5-7z"/><path fill="#0c3" stroke="#0c3" d="M363 494l4 2 7-8-5-4z"/><path fill="#099" stroke="#099" d="M788 555l5 1 6-6-5-3z"/><path fill="#7b0" stroke="#7b0" d="M434 542l5-6 6 1-5-2zM439 536l5 6 6-2-5-3z"/><path fill="#6a0" stroke="#6a0" d="M428 542l5-7 6 1-5 6z"/><path fill="#7a0" stroke="#7a0" d="M433 535l5 2 6 5-5-6zM422 542l5-8 6 1-5 7z"/><path fill="#6b0" stroke="#6b0" d="M438 537l5 10 6-2-5-3z"/><path fill="#8c0" stroke="#8c0" d="M427 534l5 7 6-4-5-2z"/><path fill="#7b0" stroke="#7b0" d="M416 549l5-12 6-3-5 8z"/><path fill="#7c0" stroke="#7c0" d="M432 541l5 8 6-2-5-10z"/><path fill="#5a0" stroke="#5a0" d="M405 549l5-6 6 6-5 1z"/><path fill="#8b0" stroke="#8b0" d="M421 537l5-1 6 5-5-7z"/><path fill="#690" stroke="#690" d="M410 543l5-8 6 2-5 12z"/><path fill="#7a0" stroke="#7a0" d="M426 536l4 12 7 1-5-8z"/><path fill="#6a0" stroke="#6a0" d="M399 548l5-5 6 0-5 6z"/><path fill="#8c0" stroke="#8c0" d="M415 535l4 8 7-7-5 1z"/><path fill="#8b0" stroke="#8b0" d="M404 543l4-1 7-7-5 8z"/><path fill="#8c0" stroke="#8c0" d="M419 543l5 5 6 0-4-12z"/><path fill="#6b0" stroke="#6b0" d="M393 550l4-7 7 0-5 5z"/><path fill="#8b0" stroke="#8b0" d="M408 542l5-4 6 5-4-8zM397 543l5-1 6 0-4 1z"/><path fill="#7a0" stroke="#7a0" d="M413 538l5 6 6 4-5-5z"/><path fill="#6a0" stroke="#6a0" d="M387 552l4-9 6 0-4 7z"/><path fill="#8b0" stroke="#8b0" d="M402 542l5 1 6-5-5 4z"/><path fill="#6b0" stroke="#6b0" d="M418 544l5 13 6-6-5-3z"/><path fill="#5a0" stroke="#5a0" d="M376 557l4-7 7 2-5 2z"/><path fill="#7a0" stroke="#7a0" d="M391 543l5-6 6 5-5 1z"/><path fill="#9c0" stroke="#9c0" d="M407 543l5 1 6 0-5-6z"/><path fill="#6a0" stroke="#6a0" d="M380 550l5-8 6 1-4 9z"/><path fill="#8a0" stroke="#8a0" d="M396 537l5 1 6 5-5-1z"/><path fill="#6b0" stroke="#6b0" d="M412 544l5 10 6 3-5-13z"/><path fill="#5a0" stroke="#5a0" d="M369 557l5-6 6-1-4 7z"/><path fill="#8a0" stroke="#8a0" d="M385 542l5-9 6 4-5 6z"/><path fill="#8b0" stroke="#8b0" d="M401 538l5 10 6-4-5-1z"/><path fill="#7a0" stroke="#7a0" d="M374 551l5-12 6 3-5 8z"/><path fill="#9b0" stroke="#9b0" d="M390 533l5 8 6-3-5-1z"/><path fill="#7c0" stroke="#7c0" d="M406 548l5 9 6-3-5-10z"/><path fill="#5b0" stroke="#5b0" d="M363 558l5-3 6-4-5 6z"/><path fill="#9c0" stroke="#9c0" d="M379 539l5 3 6-9-5 9z"/><path fill="#8b0" stroke="#8b0" d="M395 541l5 2 6 5-5-10z"/><path fill="#7a0" stroke="#7a0" d="M368 555l5-17 6 1-5 12z"/><path fill="#9b0" stroke="#9b0" d="M384 542l5-10 6 9-5-8z"/><path fill="#6a0" stroke="#6a0" d="M400 543l5 15 6-1-5-9z"/><path fill="#5a0" stroke="#5a0" d="M357 559l5-5 6 1-5 3z"/><path fill="#9b0" stroke="#9b0" d="M373 538l5 1 6 3-5-3z"/><path fill="#8b0" stroke="#8b0" d="M389 532l5 14 6-3-5-2z"/><path fill="#7a0" stroke="#7a0" d="M362 554l5-13 6-3-5 17z"/><path fill="#9b0" stroke="#9b0" d="M378 539l5-4 6-3-5 10z"/><path fill="#7b0" stroke="#7b0" d="M394 546l4 14 7-2-5-15z"/><path fill="#5a0" stroke="#5a0" d="M351 567l5-15 6 2-5 5z"/><path fill="#9b0" stroke="#9b0" d="M367 541l5-4 6 2-5-1zM383 535l5 13 6-2-5-14z"/><path fill="#6a0" stroke="#6a0" d="M493 562l5-3 6 2-5 3z"/><path fill="#7a0" stroke="#7a0" d="M356 552l5-11 6 0-5 13z"/><path fill="#9b0" stroke="#9b0" d="M372 537l5 0 6-2-5 4z"/><path fill="#7b0" stroke="#7b0" d="M388 548l4 9 6 3-4-14z"/><path fill="#6b0" stroke="#6b0" d="M498 559l5 9 6-1-5-6z"/><path fill="#5a0" stroke="#5a0" d="M345 566l5-9 6-5-5 15z"/><path fill="#9a0" stroke="#9a0" d="M361 541l5-9 6 5-5 4z"/><path fill="#9b0" stroke="#9b0" d="M377 537l4 7 7 4-5-13z"/><path fill="#5b0" stroke="#5b0" d="M392 557l5 13 6-4-5-6z"/><path fill="#7b0" stroke="#7b0" d="M487 563l5 1 6-5-5 3z"/><path fill="#7a0" stroke="#7a0" d="M350 557l5-18 6 2-5 11z"/><path fill="#9a0" stroke="#9a0" d="M366 532l4 2 7 3-5 0z"/><path fill="#7a0" stroke="#7a0" d="M381 544l5 10 6 3-4-9z"/><path fill="#7b0" stroke="#7b0" d="M476 569l5-8 6 2-5-2zM492 564l5 0 6 4-5-9z"/><path fill="#5a0" stroke="#5a0" d="M339 569l5-8 6-4-5 9z"/><path fill="#9b0" stroke="#9b0" d="M355 539l4-3 7-4-5 9zM370 534l5 11 6-1-4-7z"/><path fill="#5a0" stroke="#5a0" d="M386 554l5 15 6 1-5-13z"/><path fill="#6b0" stroke="#6b0" d="M465 575l5-15 6 9-5-5z"/><path fill="#7a0" stroke="#7a0" d="M481 561l5-1 6 4-5-1zM344 561l4-19 7-3-5 18z"/><path fill="#ab0" stroke="#ab0" d="M359 536l5-3 6 1-4-2z"/><path fill="#8c0" stroke="#8c0" d="M375 545l5 16 6-7-5-10z"/><path fill="#6a0" stroke="#6a0" d="M470 560l5 1 6 0-5 8z"/><path fill="#7a0" stroke="#7a0" d="M486 560l5 3 6 1-5 0z"/><path fill="#490" stroke="#490" d="M333 570l5-17 6 8-5 8z"/><path fill="#9a0" stroke="#9a0" d="M348 542l5-10 6 4-4 3z"/><path fill="#9b0" stroke="#9b0" d="M364 533l5 13 6-1-5-11z"/><path fill="#6b0" stroke="#6b0" d="M380 561l5 11 6-3-5-15z"/><path fill="#5a0" stroke="#5a0" d="M459 572l5-5 6-7-5 15z"/><path fill="#8c0" stroke="#8c0" d="M475 561l5 5 6-6-5 1z"/><path fill="#6a0" stroke="#6a0" d="M491 563l5 4 6 8-5-11z"/><path fill="#7a0" stroke="#7a0" d="M338 553l4-7 6-4-4 19z"/><path fill="#9a0" stroke="#9a0" d="M353 532l5-3 6 4-5 3z"/><path fill="#7b0" stroke="#7b0" d="M369 546l5 10 6 5-5-16z"/><path fill="#8b0" stroke="#8b0" d="M464 567l5-6 6 0-5-1z"/><path fill="#8c0" stroke="#8c0" d="M480 566l5-2 6-1-5-3z"/><path fill="#5a0" stroke="#5a0" d="M327 570l4-13 7-4-5 17z"/><path fill="#9a0" stroke="#9a0" d="M342 546l5-13 6-1-5 10zM358 529l5 10 6 7-5-13z"/><path fill="#5a0" stroke="#5a0" d="M374 556l5 15 6 1-5-11z"/><path fill="#590" stroke="#590" d="M453 568l5-6 6 5-5 5z"/><path fill="#7a0" stroke="#7a0" d="M469 561l5-7 6 12-5-5z"/><path fill="#7b0" stroke="#7b0" d="M485 564l4 6 7-3-5-4z"/><path fill="#7a0" stroke="#7a0" d="M331 557l5-15 6 4-4 7z"/><path fill="#ab0" stroke="#ab0" d="M347 533l5-2 6-2-5 3z"/><path fill="#8b0" stroke="#8b0" d="M363 539l5 23 6-6-5-10z"/><path fill="#490" stroke="#490" d="M442 577l5-12 6 3-5 9z"/><path fill="#7a0" stroke="#7a0" d="M458 562l5-2 6 1-5 6zM474 554l4 13 7-3-5 2z"/><path fill="#590" stroke="#590" d="M320 574l5-20 6 3-4 13z"/><path fill="#890" stroke="#890" d="M336 542l5-12 6 3-5 13z"/><path fill="#ac0" stroke="#ac0" d="M352 531l5 12 6-4-5-10z"/><path fill="#6b0" stroke="#6b0" d="M368 562l5 9 6 0-5-15z"/><path fill="#7b0" stroke="#7b0" d="M447 565l5-1 6-2-5 6z"/><path fill="#9c0" stroke="#9c0" d="M463 560l4 3 7-9-5 7z"/><path fill="#7c0" stroke="#7c0" d="M478 567l5 9 6-6-4-6z"/><path fill="#7a0" stroke="#7a0" d="M325 554l5-12 6 0-5 15z"/><path fill="#ab0" stroke="#ab0" d="M341 530l5 1 6 0-5 2z"/><path fill="#8b0" stroke="#8b0" d="M357 543l5 16 6 3-5-23z"/><path fill="#5a0" stroke="#5a0" d="M436 577l5-5 6-7-5 12z"/><path fill="#8a0" stroke="#8a0" d="M452 564l5-10 6 6-5 2z"/><path fill="#9b0" stroke="#9b0" d="M467 563l5-4 6 8-4-13z"/><path fill="#5a0" stroke="#5a0" d="M314 574l5-11 6-9-5 20z"/><path fill="#9a0" stroke="#9a0" d="M330 542l5-11 6-1-5 12z"/><path fill="#ab0" stroke="#ab0" d="M346 531l5 16 6-4-5-12z"/><path fill="#6b0" stroke="#6b0" d="M362 559l5 15 6-3-5-9z"/><path fill="#7a0" stroke="#7a0" d="M441 572l5-15 6 7-5 1z"/><path fill="#8a0" stroke="#8a0" d="M457 554l4 6 6 3-4-3z"/><path fill="#6a0" stroke="#6a0" d="M472 559l5 12 6 5-5-9z"/><path fill="#8a0" stroke="#8a0" d="M319 563l5-21 6 0-5 12z"/><path fill="#ab0" stroke="#ab0" d="M335 531l5 1 6-1-5-1z"/><path fill="#8b0" stroke="#8b0" d="M351 547l5 17 6-5-5-16z"/><path fill="#5a0" stroke="#5a0" d="M430 579l5-9 6 2-5 5z"/><path fill="#9b0" stroke="#9b0" d="M446 557l4 5 7-8-5 10z"/><path fill="#9c0" stroke="#9c0" d="M461 560l5 7 6-8-5 4z"/><path fill="#5a0" stroke="#5a0" d="M477 571l5 9 6-2-5-2zM308 577l5-15 6 1-5 11z"/><path fill="#890" stroke="#890" d="M324 542l5-18 6 7-5 11z"/><path fill="#ab0" stroke="#ab0" d="M340 532l5 16 6-1-5-16z"/><path fill="#6b0" stroke="#6b0" d="M356 564l4 12 7-2-5-15z"/><path fill="#7a0" stroke="#7a0" d="M435 570l4-10 7-3-5 15z"/><path fill="#ac0" stroke="#ac0" d="M450 562l5-4 6 2-4-6z"/><path fill="#8c0" stroke="#8c0" d="M466 567l5 5 6-1-5-12z"/><path fill="#790" stroke="#790" d="M313 562l5-18 6-2-5 21z"/><path fill="#aa0" stroke="#aa0" d="M329 524l5 10 6-2-5-1z"/><path fill="#8b0" stroke="#8b0" d="M345 548l4 15 7 1-5-17z"/><path fill="#5a0" stroke="#5a0" d="M424 584l4-13 7-1-5 9z"/><path fill="#9a0" stroke="#9a0" d="M439 560l5-6 6 8-4-5z"/><path fill="#9b0" stroke="#9b0" d="M455 558l5 11 6-2-5-7z"/><path fill="#6b0" stroke="#6b0" d="M471 572l5 9 6-1-5-9z"/><path fill="#5a0" stroke="#5a0" d="M302 578l5-12 6-4-5 15z"/><path fill="#9a0" stroke="#9a0" d="M318 544l5-15 6-5-5 18z"/><path fill="#ab0" stroke="#ab0" d="M334 534l5 10 6 4-5-16z"/><path fill="#6b0" stroke="#6b0" d="M349 563l5 11 6 2-4-12z"/><path fill="#7a0" stroke="#7a0" d="M428 571l5-13 6 2-4 10z"/><path fill="#8a0" stroke="#8a0" d="M444 554l5 1 6 3-5 4z"/><path fill="#8c0" stroke="#8c0" d="M460 569l5 6 6-3-5-5z"/><path fill="#7a0" stroke="#7a0" d="M307 566l5-17 6-5-5 18z"/><path fill="#ab0" stroke="#ab0" d="M323 529l5-1 6 6-5-10z"/><path fill="#8b0" stroke="#8b0" d="M339 544l4 21 6-2-4-15z"/><path fill="#3b0" stroke="#3b0" d="M354 574l5 13 6-2-5-9z"/><path fill="#590" stroke="#590" d="M418 579l4-8 6 0-4 13z"/><path fill="#9a0" stroke="#9a0" d="M433 558l5-4 6 0-5 6z"/><path fill="#8a0" stroke="#8a0" d="M449 555l5 8 6 6-5-11z"/><path fill="#6b0" stroke="#6b0" d="M465 575l5 9 6-3-5-9z"/><path fill="#590" stroke="#590" d="M296 578l5-16 6 4-5 12z"/><path fill="#990" stroke="#990" d="M312 549l5-24 6 4-5 15z"/><path fill="#aa0" stroke="#aa0" d="M328 528l4 17 7-1-5-10z"/><path fill="#6b0" stroke="#6b0" d="M343 565l5 15 6-6-5-11z"/><path fill="#7a0" stroke="#7a0" d="M422 571l5-10 6-3-5 13z"/><path fill="#9b0" stroke="#9b0" d="M438 554l5-3 6 4-5-1z"/><path fill="#7a0" stroke="#7a0" d="M454 563l5 12 6 0-5-6z"/><path fill="#790" stroke="#790" d="M301 562l5-22 6 9-5 17z"/><path fill="#ab0" stroke="#ab0" d="M317 525l4 4 7-1-5 1z"/><path fill="#8b0" stroke="#8b0" d="M332 545l5 21 6-1-4-21z"/><path fill="#3b0" stroke="#3b0" d="M348 580l5 9 6-2-5-13z"/><path fill="#5b0" stroke="#5b0" d="M411 584l5-8 6-5-4 8z"/><path fill="#9b0" stroke="#9b0" d="M427 561l5-6 6-1-5 4zM443 551l5 17 6-5-5-8z"/><path fill="#5b0" stroke="#5b0" d="M459 575l5 8 6 1-5-9z"/><path fill="#5a0" stroke="#5a0" d="M290 581l5-18 6-1-5 16z"/><path fill="#890" stroke="#890" d="M306 540l4-14 7-1-5 24z"/><path fill="#ab0" stroke="#ab0" d="M321 529l5 17 6-1-4-17z"/><path fill="#6b0" stroke="#6b0" d="M337 566l5 14 6 0-5-15z"/><path fill="#7a0" stroke="#7a0" d="M416 576l5-17 6 2-5 10z"/><path fill="#9b0" stroke="#9b0" d="M432 555l5-5 6 1-5 3z"/><path fill="#8c0" stroke="#8c0" d="M448 568l5 8 6-1-5-12z"/><path fill="#8a0" stroke="#8a0" d="M295 563l4-17 7-6-5 22z"/><path fill="#bb0" stroke="#bb0" d="M310 526l5 2 6 1-4-4z"/><path fill="#8b0" stroke="#8b0" d="M326 546l5 16 6 4-5-21z"/><path fill="#5a0" stroke="#5a0" d="M405 587l5-9 6-2-5 8z"/><path fill="#890" stroke="#890" d="M421 559l5-12 6 8-5 6z"/><path fill="#9a0" stroke="#9a0" d="M437 550l5 11 6 7-5-17z"/><path fill="#6b0" stroke="#6b0" d="M453 576l5 14 6-7-5-8z"/><path fill="#5a0" stroke="#5a0" d="M284 586l5-22 6-1-5 18z"/><path fill="#aa0" stroke="#aa0" d="M299 546l5-17 6-3-4 14zM315 528l5 17 6 1-5-17z"/><path fill="#6b0" stroke="#6b0" d="M331 562l5 22 6-4-5-14z"/><path fill="#7a0" stroke="#7a0" d="M410 578l5-16 6-3-5 17z"/><path fill="#9a0" stroke="#9a0" d="M426 547l5 4 6-1-5 5z"/><path fill="#7a0" stroke="#7a0" d="M442 561l5 13 6 2-5-8z"/><path fill="#8a0" stroke="#8a0" d="M289 564l4-13 6-5-4 17z"/><path fill="#cc0" stroke="#cc0" d="M304 529l5 5 6-6-5-2z"/><path fill="#9b0" stroke="#9b0" d="M320 545l5 21 6-4-5-16z"/><path fill="#5a0" stroke="#5a0" d="M399 588l5-13 6 3-5 9z"/><path fill="#9b0" stroke="#9b0" d="M415 562l5-10 6-5-5 12z"/><path fill="#ab0" stroke="#ab0" d="M431 551l5 13 6-3-5-11z"/><path fill="#5a0" stroke="#5a0" d="M447 574l4 13 7 3-5-14z"/><path fill="#590" stroke="#590" d="M278 584l4-15 7-5-5 22z"/><path fill="#9a0" stroke="#9a0" d="M293 551l5-18 6-4-5 17z"/><path fill="#bb0" stroke="#bb0" d="M309 534l5 11 6 0-5-17z"/><path fill="#6b0" stroke="#6b0" d="M325 566l5 21 6-3-5-22z"/><path fill="#7a0" stroke="#7a0" d="M404 575l5-12 6-1-5 16z"/><path fill="#ab0" stroke="#ab0" d="M420 552l5-5 6 4-5-4z"/><path fill="#8b0" stroke="#8b0" d="M436 564l4 12 7-2-5-13z"/><path fill="#7a0" stroke="#7a0" d="M282 569l5-24 6 6-4 13z"/><path fill="#bb0" stroke="#bb0" d="M298 533l5 0 6 1-5-5z"/><path fill="#9b0" stroke="#9b0" d="M314 545l5 28 6-7-5-21z"/><path fill="#5a0" stroke="#5a0" d="M393 585l5-4 6-6-5 13z"/><path fill="#9a0" stroke="#9a0" d="M409 563l5-9 6-2-5 10z"/><path fill="#9b0" stroke="#9b0" d="M425 547l4 17 7 0-5-13z"/><path fill="#6b0" stroke="#6b0" d="M440 576l5 17 6-6-4-13z"/><path fill="#5a0" stroke="#5a0" d="M271 585l5-9 6-7-4 15z"/><path fill="#9a0" stroke="#9a0" d="M287 545l5-7 6-5-5 18z"/><path fill="#ab0" stroke="#ab0" d="M303 533l5 17 6-5-5-11z"/><path fill="#6b0" stroke="#6b0" d="M319 573l5 13 6 1-5-21z"/><path fill="#7a0" stroke="#7a0" d="M398 581l5-18 6 0-5 12z"/><path fill="#aa0" stroke="#aa0" d="M414 554l5-8 6 1-5 5z"/><path fill="#8b0" stroke="#8b0" d="M429 564l5 7 6 5-4-12z"/><path fill="#8a0" stroke="#8a0" d="M276 576l5-22 6-9-5 24z"/><path fill="#bb0" stroke="#bb0" d="M292 538l5-4 6-1-5 0z"/><path fill="#8b0" stroke="#8b0" d="M308 550l5 21 6 2-5-28z"/><path fill="#5a0" stroke="#5a0" d="M387 588l5-12 6 5-5 4z"/><path fill="#890" stroke="#890" d="M403 563l5-16 6 7-5 9z"/><path fill="#ab0" stroke="#ab0" d="M419 546l4 17 6 1-4-17z"/><path fill="#6a0" stroke="#6a0" d="M434 571l5 15 6 7-5-17z"/><path fill="#5b0" stroke="#5b0" d="M265 594l5-14 6-4-5 9z"/><path fill="#ab0" stroke="#ab0" d="M281 554l5-13 6-3-5 7zM297 534l5 16 6 0-5-17z"/><path fill="#6b0" stroke="#6b0" d="M313 571l5 17 6-2-5-13z"/><path fill="#790" stroke="#790" d="M392 576l5-21 6 8-5 18z"/><path fill="#990" stroke="#990" d="M408 547l4-6 7 5-5 8z"/><path fill="#9c0" stroke="#9c0" d="M423 563l5 16 6-8-5-7z"/><path fill="#3a0" stroke="#3a0" d="M439 586l5 9 6 3-5-5z"/><path fill="#7a0" stroke="#7a0" d="M270 580l5-24 6-2-5 22z"/><path fill="#aa0" stroke="#aa0" d="M286 541l5-9 6 2-5 4z"/><path fill="#8b0" stroke="#8b0" d="M302 550l5 29 6-8-5-21z"/><path fill="#5a0" stroke="#5a0" d="M381 591l5-16 6 1-5 12z"/><path fill="#890" stroke="#890" d="M397 555l4-13 7 5-5 16z"/><path fill="#9a0" stroke="#9a0" d="M412 541l5 18 6 4-4-17z"/><path fill="#7c0" stroke="#7c0" d="M428 579l5 15 6-8-5-15z"/><path fill="#4a0" stroke="#4a0" d="M259 594l5-7 6-7-5 14z"/><path fill="#9a0" stroke="#9a0" d="M275 556l5-11 6-4-5 13z"/><path fill="#ab0" stroke="#ab0" d="M291 532l5 20 6-2-5-16z"/><path fill="#6b0" stroke="#6b0" d="M307 579l4 13 7-4-5-17z"/><path fill="#8a0" stroke="#8a0" d="M386 575l4-17 7-3-5 21z"/><path fill="#aa0" stroke="#aa0" d="M401 542l5-2 6 1-4 6z"/><path fill="#8a0" stroke="#8a0" d="M417 559l5 19 6 1-5-16z"/><path fill="#4c0" stroke="#4c0" d="M433 594l5 4 6-3-5-9z"/><path fill="#7a0" stroke="#7a0" d="M264 587l5-23 6-8-5 24z"/><path fill="#bc0" stroke="#bc0" d="M280 545l5-2 6-11-5 9z"/><path fill="#8b0" stroke="#8b0" d="M296 552l4 25 7 2-5-29z"/><path fill="#5a0" stroke="#5a0" d="M375 590l4-6 7-9-5 16z"/><path fill="#9a0" stroke="#9a0" d="M390 558l5-13 6-3-4 13z"/><path fill="#aa0" stroke="#aa0" d="M406 540l5 17 6 2-5-18z"/><path fill="#6a0" stroke="#6a0" d="M422 578l5 13 6 3-5-15z"/><path fill="#4b0" stroke="#4b0" d="M253 599l5-9 6-3-5 7z"/><path fill="#ab0" stroke="#ab0" d="M269 564l5-12 6-7-5 11z"/><path fill="#bc0" stroke="#bc0" d="M285 543l5 18 6-9-5-20z"/><path fill="#5b0" stroke="#5b0" d="M300 577l5 17 6-2-4-13z"/><path fill="#8a0" stroke="#8a0" d="M379 584l5-25 6-1-4 17z"/><path fill="#aa0" stroke="#aa0" d="M395 545l5-7 6 2-5 2z"/><path fill="#9b0" stroke="#9b0" d="M411 557l5 18 6 3-5-19z"/><path fill="#7a0" stroke="#7a0" d="M258 590l5-17 6-9-5 23z"/><path fill="#cd0" stroke="#cd0" d="M274 552l5 2 6-11-5 2z"/><path fill="#9b0" stroke="#9b0" d="M290 561l4 19 6-3-4-25z"/><path fill="#5a0" stroke="#5a0" d="M369 593l4-12 6 3-4 6z"/><path fill="#9a0" stroke="#9a0" d="M384 559l5-16 6 2-5 13z"/><path fill="#aa0" stroke="#aa0" d="M400 538l5 18 6 1-5-17z"/><path fill="#6b0" stroke="#6b0" d="M416 575l5 18 6-2-5-13z"/><path fill="#390" stroke="#390" d="M247 603l5-6 6-7-5 9z"/><path fill="#bc0" stroke="#bc0" d="M263 573l5-4 6-17-5 12zM279 554l4 16 7-9-5-18z"/><path fill="#6b0" stroke="#6b0" d="M294 580l5 24 6-10-5-17z"/><path fill="#790" stroke="#790" d="M373 581l5-22 6 0-5 25z"/><path fill="#aa0" stroke="#aa0" d="M389 543l5-2 6-3-5 7z"/><path fill="#9b0" stroke="#9b0" d="M405 556l5 22 6-3-5-18z"/><path fill="#580" stroke="#580" d="M252 597l5-16 6-8-5 17z"/><path fill="#cd0" stroke="#cd0" d="M268 569l4-3 7-12-5-2z"/><path fill="#9b0" stroke="#9b0" d="M283 570l5 9 6 1-4-19z"/><path fill="#5a0" stroke="#5a0" d="M362 598l5-17 6 0-4 12z"/><path fill="#990" stroke="#990" d="M378 559l5-19 6 3-5 16z"/><path fill="#bb0" stroke="#bb0" d="M394 541l5 21 6-6-5-18z"/><path fill="#6b0" stroke="#6b0" d="M410 578l5 18 6-3-5-18z"/><path fill="#8a0" stroke="#8a0" d="M257 581l4-2 7-10-5 4z"/><path fill="#bc0" stroke="#bc0" d="M272 566l5 13 6-9-4-16z"/><path fill="#5a0" stroke="#5a0" d="M288 579l5 23 6 2-5-24z"/><path fill="#2a0" stroke="#2a0" d="M351 610l5-17 6 5-4 5z"/><path fill="#8a0" stroke="#8a0" d="M367 581l5-20 6-2-5 22z"/><path fill="#aa0" stroke="#aa0" d="M383 540l5-2 6 3-5 2z"/><path fill="#9b0" stroke="#9b0" d="M399 562l5 16 6 0-5-22z"/><path fill="#9a0" stroke="#9a0" d="M261 579l5-3 6-10-4 3z"/><path fill="#9c0" stroke="#9c0" d="M277 579l5 17 6-17-5-9z"/><path fill="#590" stroke="#590" d="M356 593l5-12 6 0-5 17z"/><path fill="#9a0" stroke="#9a0" d="M372 561l5-20 6-1-5 19z"/><path fill="#aa0" stroke="#aa0" d="M388 538l5 20 6 4-5-21z"/><path fill="#6b0" stroke="#6b0" d="M404 578l5 22 6-4-5-18z"/><path fill="#8a0" stroke="#8a0" d="M266 576l5 9 6-6-5-13z"/><path fill="#6c0" stroke="#6c0" d="M282 596l5 9 6-3-5-23z"/><path fill="#2a0" stroke="#2a0" d="M345 608l5-7 6-8-5 17z"/><path fill="#8a0" stroke="#8a0" d="M361 581l5-21 6 1-5 20z"/><path fill="#bb0" stroke="#bb0" d="M377 541l5 1 6-4-5 2z"/><path fill="#9b0" stroke="#9b0" d="M393 558l5 23 6-3-5-16z"/><path fill="#690" stroke="#690" d="M271 585l5 16 6-5-5-17z"/><path fill="#6a0" stroke="#6a0" d="M350 601l5-23 6 3-5 12z"/><path fill="#990" stroke="#990" d="M366 560l5-19 6 0-5 20z"/><path fill="#ab0" stroke="#ab0" d="M382 542l5 19 6-3-5-20z"/><path fill="#6b0" stroke="#6b0" d="M398 581l4 22 7-3-5-22z"/><path fill="#490" stroke="#490" d="M276 601l5 8 6-4-5-9z"/><path fill="#8a0" stroke="#8a0" d="M355 578l5-15 6-3-5 21z"/><path fill="#bb0" stroke="#bb0" d="M371 541l5 1 6 0-5-1z"/><path fill="#9b0" stroke="#9b0" d="M387 561l4 23 7-3-5-23z"/><path fill="#6a0" stroke="#6a0" d="M344 600l5-11 6-11-5 23z"/><path fill="#9a0" stroke="#9a0" d="M360 563l5-17 6-5-5 19z"/><path fill="#aa0" stroke="#aa0" d="M376 542l4 19 7 0-5-19z"/><path fill="#6b0" stroke="#6b0" d="M391 584l5 18 6 1-4-22z"/><path fill="#8a0" stroke="#8a0" d="M349 589l5-25 6-1-5 15z"/><path fill="#bb0" stroke="#bb0" d="M365 546l5-5 6 1-5-1z"/><path fill="#9b0" stroke="#9b0" d="M380 561l5 24 6-1-4-23z"/><path fill="#5a0" stroke="#5a0" d="M338 607l5-14 6-4-5 11z"/><path fill="#9a0" stroke="#9a0" d="M354 564l5-17 6-1-5 17z"/><path fill="#aa0" stroke="#aa0" d="M370 541l4 20 6 0-4-19z"/><path fill="#6b0" stroke="#6b0" d="M385 585l5 19 6-2-5-18z"/><path fill="#8a0" stroke="#8a0" d="M343 593l5-24 6-5-5 25z"/><path fill="#cc0" stroke="#cc0" d="M359 547l4 3 7-9-5 5z"/><path fill="#9b0" stroke="#9b0" d="M374 561l5 26 6-2-5-24z"/><path fill="#5a0" stroke="#5a0" d="M332 611l5-10 6-8-5 14z"/><path fill="#9a0" stroke="#9a0" d="M348 569l4-20 7-2-5 17z"/><path fill="#bb0" stroke="#bb0" d="M363 550l5 12 6-1-4-20z"/><path fill="#6b0" stroke="#6b0" d="M379 587l5 18 6-1-5-19z"/><path fill="#8a0" stroke="#8a0" d="M337 601l4-20 7-12-5 24z"/><path fill="#bb0" stroke="#bb0" d="M352 549l5 1 6 0-4-3z"/><path fill="#9b0" stroke="#9b0" d="M368 562l5 30 6-5-5-26z"/><path fill="#5a0" stroke="#5a0" d="M326 611l4-10 7 0-5 10z"/><path fill="#ab0" stroke="#ab0" d="M341 581l5-17 6-15-4 20z"/><path fill="#bb0" stroke="#bb0" d="M357 550l5 17 6-5-5-12z"/><path fill="#6b0" stroke="#6b0" d="M373 592l5 13 6 0-5-18z"/><path fill="#7a0" stroke="#7a0" d="M330 601l5-13 6-7-4 20z"/><path fill="#dc0" stroke="#dc0" d="M346 564l5-4 6-10-5-1z"/><path fill="#9b0" stroke="#9b0" d="M362 567l5 26 6-1-5-30z"/><path fill="#3b0" stroke="#3b0" d="M378 605l5 16 6-8-5-8z"/><path fill="#490" stroke="#490" d="M320 618l4-4 6-13-4 10z"/><path fill="#ab0" stroke="#ab0" d="M335 588l5-12 6-12-5 17z"/><path fill="#bc0" stroke="#bc0" d="M351 560l5 16 6-9-5-17z"/><path fill="#6b0" stroke="#6b0" d="M367 593l5 19 6-7-5-13z"/><path fill="#690" stroke="#690" d="M324 614l5-17 6-9-5 13z"/><path fill="#cd0" stroke="#cd0" d="M340 576l5 4 6-20-5 4z"/><path fill="#9b0" stroke="#9b0" d="M356 576l5 23 6-6-5-26z"/><path fill="#3b0" stroke="#3b0" d="M372 612l5 10 6-1-5-16z"/><path fill="#9a0" stroke="#9a0" d="M329 597l5 1 6-22-5 12z"/><path fill="#cd0" stroke="#cd0" d="M345 580l5 9 6-13-5-16z"/><path fill="#6b0" stroke="#6b0" d="M361 599l5 15 6-2-5-19z"/><path fill="#9a0" stroke="#9a0" d="M334 598l5-5 6-13-5-4z"/><path fill="#9c0" stroke="#9c0" d="M350 589l5 19 6-9-5-23z"/><path fill="#9a0" stroke="#9a0" d="M339 593l5 6 6-10-5-9z"/><path fill="#6c0" stroke="#6c0" d="M355 608l5 14 6-8-5-15z"/><path fill="#790" stroke="#790" d="M344 599l5 18 6-9-5-19z"/><path fill="#490" stroke="#490" d="M349 617l4 4 7 1-5-14z"/></g></g>
<text x="0.1" y="23.6" font-size="24.6" text-anchor="start">A)</text>
<text transform="translate(70.9 18.5) scale(1.065 1)">[1-<tspan font-size="8.6" dy="-5.6" dx=".4">13</tspan><tspan dy="5.6" dx=".4">C]</tspan> lactate</text>
<text transform="translate(59.6 120.4) rotate(10) scale(1.065 1)">184.0</text>
<text transform="translate(151.4 141.2) rotate(10.5) scale(1.065 1)">183.0</text>
<text transform="translate(73.6 145.1) rotate(9.3) skewX(-4) scale(1.065 1)">[&#948;<tspan font-size="8.6" dy="-5.6">13</tspan><tspan dy="5.6">C, ppm]</tspan></text>
<text transform="translate(211.4 153.7) scale(1.065 1)">0</text>
<text transform="translate(233.9 146.5) scale(1.065 1)">50</text>
<text transform="translate(256.8 137.4) scale(1.065 1)">100</text>
<text transform="translate(283.4 127.5) scale(1.065 1)">150</text>
<text transform="translate(311.6 120.8) scale(1.065 1)">200</text>
<text transform="translate(338.4 112.0) scale(1.065 1)">250</text>
<text transform="translate(288.6 155.4) rotate(-20) scale(1.065 1)">Time [s]</text>
<path d="M166.5 100.6h8M168.3 97.3l4.2 7M172.5 97.3l-4.2 7" stroke="#000" stroke-width="1.6" stroke-linecap="round"/>
<text x="1.3" y="218.7" font-size="24.6" text-anchor="start">B)</text>
<text transform="translate(71 223.0) scale(1.065 1)">[1-<tspan font-size="8.6" dy="-5.6" dx=".4">13</tspan><tspan dy="5.6" dx=".4">C]</tspan> lactate</text>
<text transform="translate(85.8 313.9) rotate(10) scale(1.065 1)">184.0</text>
<text transform="translate(162.1 331.1) rotate(10) scale(1.065 1)">183.0</text>
<text transform="translate(75.6 345.0) rotate(9.3) skewX(-4) scale(1.065 1)">[&#948;<tspan font-size="8.6" dy="-5.6">13</tspan><tspan dy="5.6">C, ppm]</tspan></text>
<text transform="translate(243.9 343.2) scale(1.065 1)">0</text>
<text transform="translate(267.6 336.6) scale(1.065 1)">20</text>
<text transform="translate(297.8 325.5) scale(1.065 1)">40</text>
<text transform="translate(328.5 315.3) scale(1.065 1)">60</text>
<text transform="translate(358.1 306.7) scale(1.065 1)">80</text>
<text transform="translate(381.0 296.9) scale(1.065 1)">100</text>
<text transform="translate(295.7 351.4) rotate(-20) scale(1.065 1)">Time [s]</text>
<path d="M457.1 1.5L461.6 159.6L674.7 159.6" fill="none" stroke="#333" stroke-width="1.4"/>
<path d="M459.3 8.9h1.8M460.1 37.1h1.8M460.9 66.3h1.8M461.7 94.6h1.8M462.6 123.4h1.8M463.4 152.3h1.8M471.8 159.6v1.8M510.2 159.6v1.8M548.6 159.6v1.8M587.0 159.6v1.8M625.4 159.6v1.8M663.8 159.6v1.8" stroke="#222" stroke-width="1.4" fill="none"/>
<text transform="translate(454.6 17.5) scale(1.065 1)" text-anchor="end">1.0</text>
<text transform="translate(454.6 45.3) scale(1.065 1)" text-anchor="end">0.8</text>
<text transform="translate(455.0 74.1) scale(1.065 1)" text-anchor="end">0.6</text>
<text transform="translate(455.0 102.7) scale(1.065 1)" text-anchor="end">0.4</text>
<text transform="translate(455.4 131.8) scale(1.065 1)" text-anchor="end">0.2</text>
<text transform="translate(450.4 159.3) scale(1.065 1)" text-anchor="end">0</text>
<text transform="translate(464.7 176.4) scale(1.065 1)" text-anchor="middle">0</text>
<text transform="translate(504.0 176.4) scale(1.065 1)" text-anchor="middle">50</text>
<text transform="translate(543.4 176.4) scale(1.065 1)" text-anchor="middle">100</text>
<text transform="translate(582.7 176.4) scale(1.065 1)" text-anchor="middle">150</text>
<text transform="translate(622.0 176.4) scale(1.065 1)" text-anchor="middle">200</text>
<text transform="translate(661.3 176.4) scale(1.065 1)" text-anchor="middle">250</text>
<text transform="translate(543.6 197.7) scale(1.065 1)">Time [s]</text>
<text transform="translate(424.6 114) rotate(-90) scale(1.065 1)">Signal [a.u.]</text>
<path d="M504 36.1h14" stroke="#f00" stroke-width="2"/>
<path d="M504 56.3h14" stroke="#00f" stroke-width="2"/>
<text transform="translate(521 40.5) scale(1.065 1)">[1-<tspan font-size="8.6" dy="-5.6" dx=".4">13</tspan><tspan dy="5.6" dx=".4">C]</tspan> pyruvate</text>
<text transform="translate(521 60.7) scale(1.065 1)">[1-<tspan font-size="8.6" dy="-5.6" dx=".4">13</tspan><tspan dy="5.6" dx=".4">C]</tspan> lactate x300</text>
<path d="M471.8 152.2L472.0 149.0L472.3 146.1L472.5 143.6L472.7 141.2L473.0 138.9L473.2 136.9L473.4 135.1L473.7 133.5L473.9 132.1L474.1 130.8L474.4 129.6L474.6 128.5L474.8 127.4L475.1 126.5L475.3 125.6L475.5 124.9L475.8 124.2L476.0 123.5L476.2 122.9L476.5 122.3L476.7 121.8L476.9 121.2L477.2 120.7L477.4 120.3L477.6 119.8L477.9 119.4L478.1 119.0L478.3 118.7L478.5 118.3L478.8 118.0L479.0 117.6L479.2 117.3L479.5 117.0L479.7 116.7L479.9 116.4L480.2 116.1L480.4 115.9L480.6 115.6L480.9 115.4L481.1 115.2L481.3 115.0L481.6 114.8L481.8 114.7L482.0 114.5L482.3 114.4L482.5 114.3L482.7 114.2L483.0 114.1L483.2 114.0L483.4 113.9L483.7 113.8L483.9 113.7L484.1 113.6L484.4 113.5L484.6 113.4L484.8 113.3L485.1 113.3L485.3 113.2L485.5 113.2L485.8 113.1L486.0 113.1L486.2 113.1L486.5 113.1L486.7 113.1L486.9 113.1L487.2 113.1L487.4 113.2L487.6 113.2L487.9 113.3L488.1 113.3L488.3 113.4L488.6 113.5L488.8 113.5L489.0 113.6L489.3 113.7L489.5 113.8L489.7 113.9L490.0 114.0L490.2 114.1L490.4 114.2L490.7 114.3L490.9 114.4L491.1 114.5L491.3 114.6L491.6 114.8L491.8 114.9L492.0 115.0L492.3 115.1L492.5 115.2L492.7 115.3L493.0 115.5L493.2 115.6L493.4 115.7L493.7 115.9L493.9 116.0L494.1 116.2L494.4 116.4L494.6 116.5L494.8 116.7L495.3 117.0L496.9 118.2L498.4 119.5L500.0 120.7L501.5 121.9L503.1 123.2L504.7 124.5L506.2 125.7L507.8 127.0L509.3 128.3L510.9 129.5L512.5 130.7L514.0 131.8L515.6 132.9L517.1 133.9L518.7 134.9L520.3 135.8L521.8 136.7L523.4 137.6L524.9 138.4L526.5 139.2L528.1 140.0L529.6 140.7L531.2 141.4L532.7 142.1L534.3 142.8L535.9 143.4L537.4 143.9L539.0 144.4L540.5 144.8L542.1 145.2L543.7 145.6L545.2 146.0L546.8 146.3L548.3 146.6L549.9 147.0L551.5 147.2L553.0 147.5L554.6 147.8L556.1 148.0L557.7 148.3L559.3 148.5L560.8 148.7L562.4 148.9L563.9 149.0L565.5 149.2L567.1 149.4L568.6 149.5L570.2 149.7L571.7 149.8L573.3 149.9L574.9 150.1L576.4 150.2L578.0 150.3L579.5 150.4L581.1 150.5L582.7 150.6L584.2 150.7L585.8 150.7L587.3 150.8L588.9 150.8L590.5 150.9L592.0 150.9L593.6 151.0L595.1 151.0L596.7 151.1L598.3 151.1L599.8 151.2L601.4 151.2L602.9 151.2L604.5 151.3L606.1 151.3L607.6 151.3L609.2 151.4L610.7 151.4L612.3 151.4L613.9 151.5L615.4 151.5L617.0 151.5L618.5 151.5L620.1 151.6L621.7 151.6L623.2 151.6L624.8 151.6L626.3 151.6L627.9 151.7L629.5 151.7L631.0 151.7L632.6 151.7L634.1 151.7L635.7 151.7L637.3 151.8L638.8 151.8L640.4 151.8L641.9 151.8L643.5 151.8L645.1 151.8L646.6 151.8L648.2 151.8L649.7 151.9L651.3 151.9L652.9 151.9L654.4 151.9L656.0 151.9L657.5 151.9L659.1 151.9L660.7 151.9L662.2 151.9L663.8 151.9L665.3 151.9" fill="none" stroke="#00f" stroke-width="2.5" stroke-linejoin="round"/>
<path d="M471.8 149.9h0M473.8 134.3h0M475.8 123.2h0M477.8 119.4h0M479.8 116.4h0M481.8 114.3h0M483.8 114.9h0M485.8 112.8h0M487.8 113.4h0M489.8 110.5h0M491.8 114.1h0M493.8 115.7h0M495.8 117.1h0M497.8 119.0h0M499.8 120.8h0M501.8 121.8h0M503.7 122.7h0M505.7 125.0h0M507.7 125.6h0M509.7 128.2h0M511.7 129.6h0M513.7 129.7h0M515.7 131.9h0M517.7 134.1h0M519.7 135.1h0M521.7 135.7h0M523.7 135.6h0M525.7 138.5h0M527.7 139.4h0M529.7 139.3h0M531.7 141.8h0M533.7 142.2h0M535.7 142.0h0M537.7 143.0h0M539.7 144.0h0M541.7 144.0h0M543.7 147.5h0M545.7 144.6h0M547.7 146.8h0M549.7 147.8h0M551.7 146.5h0M553.7 146.5h0M555.7 147.8h0M557.7 148.6h0M559.7 147.9h0M561.7 148.3h0M563.7 147.2h0M565.6 148.0h0M567.6 148.7h0M569.6 148.1h0M571.6 149.4h0M573.6 150.2h0M575.6 149.0h0M577.6 149.2h0M579.6 150.0h0M581.6 150.6h0M583.6 149.9h0M585.6 152.3h0M587.6 149.6h0M589.6 149.9h0M591.6 151.8h0M593.6 150.4h0M595.6 151.3h0M597.6 149.9h0M599.6 152.3h0M601.6 151.4h0M603.6 150.1h0M605.6 149.7h0M607.6 152.6h0M609.6 151.2h0M611.6 150.6h0M613.6 151.4h0M615.6 149.6h0M617.6 152.0h0M619.6 150.7h0M621.6 151.9h0M623.6 149.8h0M625.6 151.1h0M627.6 151.4h0M629.5 152.6h0M631.5 149.7h0M633.5 150.5h0M635.5 150.5h0M637.5 150.2h0M639.5 150.9h0M641.5 151.8h0M643.5 151.9h0M645.5 151.9h0M647.5 150.1h0M649.5 152.5h0M651.5 151.8h0M653.5 151.6h0M655.5 151.1h0M657.5 150.8h0M659.5 152.4h0M661.5 152.8h0M663.5 151.3h0" stroke="#00f" stroke-width="2.6" stroke-linecap="round" fill="none"/>
<path d="M471.8 8.9L472.0 10.4L472.3 11.9L472.5 13.4L472.7 14.9L473.0 16.3L473.2 17.8L473.4 19.2L473.7 20.6L473.9 22.0L474.1 23.4L474.4 24.7L474.6 26.1L474.8 27.4L475.1 28.7L475.3 30.0L475.5 31.3L475.8 32.6L476.0 33.9L476.2 35.1L476.5 36.4L476.7 37.6L476.9 38.8L477.2 40.0L477.4 41.2L477.6 42.3L477.9 43.5L478.1 44.7L478.3 45.8L478.5 46.9L478.8 48.0L479.0 49.1L479.2 50.2L479.5 51.3L479.7 52.4L479.9 53.4L480.2 54.5L480.4 55.5L480.6 56.5L480.9 57.5L481.1 58.5L481.3 59.5L481.6 60.5L481.8 61.5L482.0 62.4L482.3 63.4L482.5 64.3L482.7 65.3L483.0 66.2L483.2 67.1L483.4 68.0L483.7 68.9L483.9 69.8L484.1 70.6L484.4 71.5L484.6 72.4L484.8 73.2L485.1 74.0L485.3 74.9L485.5 75.7L485.8 76.5L486.0 77.3L486.2 78.1L486.5 78.9L486.7 79.6L486.9 80.4L487.2 81.2L487.4 81.9L487.6 82.7L487.9 83.4L488.1 84.1L488.3 84.8L488.6 85.6L488.8 86.3L489.0 87.0L489.3 87.6L489.5 88.3L489.7 89.0L490.0 89.7L490.2 90.3L490.4 91.0L490.7 91.6L490.9 92.3L491.1 92.9L491.3 93.5L491.6 94.2L491.8 94.8L492.0 95.4L492.3 96.0L492.5 96.6L492.7 97.2L493.0 97.7L493.2 98.3L493.4 98.9L493.7 99.5L493.9 100.0L494.1 100.6L494.4 101.1L494.6 101.7L494.8 102.2L495.3 103.2L496.9 106.6L498.4 109.7L500.0 112.7L501.5 115.4L503.1 117.9L504.7 120.3L506.2 122.5L507.8 124.5L509.3 126.4L510.9 128.2L512.5 129.8L514.0 131.4L515.6 132.8L517.1 134.1L518.7 135.4L520.3 136.5L521.8 137.6L523.4 138.6L524.9 139.6L526.5 140.4L528.1 141.2L529.6 142.0L531.2 142.7L532.7 143.3L534.3 144.0L535.9 144.5L537.4 145.1L539.0 145.5L540.5 146.0L542.1 146.4L543.7 146.8L545.2 147.2L546.8 147.5L548.3 147.9L549.9 148.2L551.5 148.4L553.0 148.7L554.6 148.9L556.1 149.2L557.7 149.4L559.3 149.6L560.8 149.7L562.4 149.9L563.9 150.1L565.5 150.2L567.1 150.4L568.6 150.5L570.2 150.6L571.7 150.7L573.3 150.8L574.9 150.9L576.4 151.0L578.0 151.1L579.5 151.2L581.1 151.2L582.7 151.3L584.2 151.4L585.8 151.4L587.3 151.5L588.9 151.5L590.5 151.6L592.0 151.6L593.6 151.7L595.1 151.7L596.7 151.7L598.3 151.8L599.8 151.8L601.4 151.8L602.9 151.8L604.5 151.9L606.1 151.9L607.6 151.9L609.2 151.9L610.7 151.9L612.3 152.0L613.9 152.0L615.4 152.0L617.0 152.0L618.5 152.0L620.1 152.0L621.7 152.0L623.2 152.1L624.8 152.1L626.3 152.1L627.9 152.1L629.5 152.1L631.0 152.1L632.6 152.1L634.1 152.1L635.7 152.1L637.3 152.1L638.8 152.1L640.4 152.1L641.9 152.1L643.5 152.1L645.1 152.1L646.6 152.2L648.2 152.2L649.7 152.2L651.3 152.2L652.9 152.2L654.4 152.2L656.0 152.2L657.5 152.2L659.1 152.2L660.7 152.2L662.2 152.2L663.8 152.2L665.3 152.2" fill="none" stroke="#f00" stroke-width="2.3" stroke-linejoin="round"/>
<path d="M474.0 17.5h0M475.6 26.6h0M477.1 35.1h0M478.6 43.0h0M480.2 50.4h0M481.7 57.2h0M483.3 63.7h0M484.8 69.6h0M486.3 75.2h0M487.9 80.4h0M489.4 85.2h0M490.9 89.7h0M492.5 93.9h0M494.0 97.9h0M495.5 101.5h0M497.1 104.9h0M498.6 108.1h0M500.1 111.0h0M501.7 113.8h0M503.2 116.4h0M504.8 118.8h0M506.3 121.0h0M507.8 123.1h0M509.4 125.0h0M510.9 126.9h0M512.4 128.5h0M514.0 130.1h0M515.5 131.6h0M517.0 133.0h0M518.6 134.2h0M520.1 135.4h0M521.7 136.5h0M523.2 137.6h0M524.7 138.5h0M526.3 139.4h0M527.8 140.3h0M529.3 141.0h0M530.9 141.8h0M532.4 142.4h0M533.9 143.1h0M535.5 143.7h0M537.0 144.2h0M538.5 144.7h0M540.1 145.2h0M541.6 145.6h0M543.2 146.1h0M544.7 146.4h0M546.2 146.8h0M547.8 147.1h0M549.3 147.5h0M550.8 147.8h0M552.4 148.0h0M553.9 148.3h0M555.4 148.5h0M557.0 148.7h0M558.5 148.9h0M560.1 149.1h0M561.6 149.3h0M563.1 149.5h0M564.7 149.6h0M566.2 149.8h0M567.7 149.9h0M569.3 150.0h0M570.8 150.2h0M572.3 150.3h0M573.9 150.4h0M575.4 150.5h0M576.9 150.6h0M578.5 150.6h0M580.0 150.7h0M581.6 150.8h0M583.1 150.8h0M584.6 150.9h0M586.2 151.0h0M587.7 151.0h0M589.2 151.1h0M590.8 151.1h0M592.3 151.2h0M593.8 151.2h0M595.4 151.2h0M596.9 151.3h0M598.5 151.3h0M600.0 151.3h0M601.5 151.4h0M603.1 151.4h0M604.6 151.4h0M606.1 151.4h0M607.7 151.5h0M609.2 151.5h0M610.7 151.5h0M612.3 151.5h0M613.8 151.5h0M615.3 151.6h0M616.9 151.6h0M618.4 151.6h0M620.0 151.6h0M621.5 151.6h0M623.0 151.6h0M624.6 151.6h0M626.1 151.6h0M627.6 151.6h0M629.2 151.7h0M630.7 151.7h0M632.2 151.7h0M633.8 151.7h0M635.3 151.7h0M636.9 151.7h0M638.4 151.7h0M639.9 151.7h0M641.5 151.7h0M643.0 151.7h0M644.5 151.7h0M646.1 151.7h0M647.6 151.7h0M649.1 151.7h0M650.7 151.7h0M652.2 151.7h0M653.7 151.7h0M655.3 151.7h0M656.8 151.7h0M658.4 151.7h0M659.9 151.7h0M661.4 151.7h0M663.0 151.7h0M664.5 151.7h0" stroke="#f00" stroke-width="2.4" stroke-linecap="round" fill="none"/>
<path d="M459.7 198.7V363.6H681.7" fill="none" stroke="#333" stroke-width="1.4"/>
<path d="M459.7 206.5h-2.5M459.7 236.1h-2.5M459.7 265.6h-2.5M459.7 295.3h-2.5M459.7 325.0h-2.5M459.7 355.1h-2.5M469.3 363.6v2.5M509.1 363.6v2.5M548.9 363.6v2.5M588.7 363.6v2.5M628.5 363.6v2.5M668.3 363.6v2.5" stroke="#222" stroke-width="1.4" fill="none"/>
<text transform="translate(454.3 213.3) scale(1.065 1)" text-anchor="end">1.0</text>
<text transform="translate(454.3 242.2) scale(1.065 1)" text-anchor="end">0.8</text>
<text transform="translate(454.5 271.6) scale(1.065 1)" text-anchor="end">0.6</text>
<text transform="translate(454.7 299.8) scale(1.065 1)" text-anchor="end">0.4</text>
<text transform="translate(454.7 328.2) scale(1.065 1)" text-anchor="end">0.2</text>
<text transform="translate(450.5 355.6) scale(1.065 1)" text-anchor="end">0</text>
<text transform="translate(468.6 380.9) scale(1.065 1)" text-anchor="middle">0</text>
<text transform="translate(508.8 380.9) scale(1.065 1)" text-anchor="middle">20</text>
<text transform="translate(549.0 380.9) scale(1.065 1)" text-anchor="middle">40</text>
<text transform="translate(589.2 380.9) scale(1.065 1)" text-anchor="middle">60</text>
<text transform="translate(629.4 380.9) scale(1.065 1)" text-anchor="middle">80</text>
<text transform="translate(669.6 380.9) scale(1.065 1)" text-anchor="middle">100</text>
<text transform="translate(543.6 398.9) scale(1.065 1)">Time [s]</text>
<text transform="translate(425.2 308.4) rotate(-90) scale(1.065 1)">Signal [a.u.]</text>
<path d="M515 232h14" stroke="#f00" stroke-width="2"/>
<path d="M515 252.9h14" stroke="#00f" stroke-width="2"/>
<text transform="translate(530.5 238.2) scale(1.065 1)">[U-<tspan font-size="8.6" dy="-5.6" dx=".5">13</tspan><tspan dy="5.6" dx=".5">C,</tspan><tspan font-size="8.6" dy="-5.6" dx=".5">2</tspan><tspan dy="5.6" dx=".6">H] glucose</tspan></text>
<text transform="translate(530.5 258.6) scale(1.065 1)">[1-<tspan font-size="8.6" dy="-5.6" dx=".4">13</tspan><tspan dy="5.6" dx=".4">C]</tspan> lactate x300</text>
<path d="M469.3 353.6h0M474.4 345.7h0M479.4 338.9h0M484.5 334.9h0M489.6 332.5h0M494.7 332.0h0M499.7 332.7h0M504.8 333.6h0M509.9 334.5h0M515.0 335.5h0M520.0 337.8h0M525.1 340.2h0M530.2 341.3h0M535.3 341.1h0M540.3 343.1h0M545.4 345.3h0M550.5 345.4h0M555.6 347.0h0M560.6 347.4h0M565.7 348.0h0M570.8 348.8h0M575.9 348.6h0M580.9 349.5h0M586.0 350.2h0M591.1 349.9h0M596.2 349.9h0M601.2 351.6h0M606.3 351.0h0M611.4 351.6h0M616.5 351.3h0M621.5 352.1h0M626.6 351.4h0M631.7 351.6h0M636.8 351.8h0M641.8 352.4h0M646.9 352.1h0M652.0 352.6h0M657.1 352.8h0M662.1 351.9h0M667.2 352.7h0M672.3 351.4h0" stroke="#00f" stroke-width="2.9" stroke-linecap="round" fill="none"/>
<path d="M469.3 354.9L470.1 353.5L470.9 352.1L471.7 350.8L472.4 349.6L473.2 348.4L474.0 347.2L474.8 346.2L475.6 345.1L476.4 344.1L477.1 343.1L477.9 342.2L478.7 341.3L479.5 340.5L480.3 339.8L481.1 339.2L481.8 338.6L482.6 338.1L483.4 337.6L484.2 337.2L485.0 336.7L485.8 336.3L486.5 336.0L487.3 335.7L488.1 335.4L488.9 335.2L489.7 334.9L490.5 334.7L491.2 334.5L492.0 334.3L492.8 334.1L493.6 334.0L494.4 333.9L495.2 333.8L495.9 333.8L496.7 333.9L497.5 333.9L498.3 334.0L499.1 334.0L499.9 334.1L500.6 334.2L501.4 334.3L502.2 334.4L503.0 334.5L503.8 334.7L504.6 334.8L505.4 335.1L506.1 335.4L506.9 335.6L507.7 335.9L508.5 336.2L509.3 336.5L510.1 336.8L510.8 337.0L511.6 337.3L512.4 337.5L513.2 337.7L514.0 338.0L514.8 338.2L515.5 338.5L516.3 338.7L517.1 338.9L517.9 339.2L518.7 339.4L519.5 339.6L520.2 339.8L521.0 340.1L521.8 340.3L522.6 340.5L523.4 340.7L524.2 340.9L524.9 341.2L525.7 341.4L526.5 341.6L527.3 341.8L528.1 342.0L528.9 342.2L529.6 342.4L530.4 342.6L531.2 342.8L532.0 343.0L532.8 343.2L533.6 343.4L534.3 343.6L535.1 343.8L535.9 343.9L536.7 344.1L537.5 344.3L538.3 344.5L539.0 344.7L539.8 344.8L540.6 345.0L541.4 345.2L542.2 345.4L543.0 345.6L543.8 345.7L544.5 345.9L545.3 346.1L546.1 346.3L546.9 346.4L547.7 346.6L548.5 346.8L549.2 346.9L550.0 347.1L550.8 347.2L551.6 347.4L552.4 347.5L553.2 347.7L553.9 347.8L554.7 348.0L555.5 348.1L556.3 348.2L557.1 348.3L557.9 348.4L558.6 348.5L559.4 348.7L560.2 348.8L561.0 348.9L561.8 349.0L562.6 349.1L563.3 349.2L564.1 349.3L564.9 349.4L565.7 349.5L566.5 349.6L567.3 349.7L568.0 349.8L568.8 349.9L569.6 350.0L570.4 350.1L571.2 350.2L572.0 350.3L572.7 350.4L573.5 350.5L574.3 350.6L575.1 350.7L575.9 350.7L576.7 350.8L577.5 350.9L578.2 351.0L579.0 351.0L579.8 351.1L580.6 351.2L581.4 351.3L582.2 351.3L582.9 351.4L583.7 351.5L584.5 351.5L585.3 351.6L586.1 351.6L586.9 351.7L587.6 351.7L588.4 351.8L589.2 351.8L590.0 351.9L590.8 351.9L591.6 351.9L592.3 352.0L593.1 352.0L593.9 352.1L594.7 352.1L595.5 352.1L596.3 352.2L597.0 352.2L597.8 352.3L598.6 352.3L599.4 352.3L600.2 352.4L601.0 352.4L601.7 352.4L602.5 352.5L603.3 352.5L604.1 352.5L604.9 352.6L605.7 352.6L606.4 352.6L607.2 352.7L608.0 352.7L608.8 352.7L609.6 352.7L610.4 352.8L611.2 352.8L611.9 352.8L612.7 352.9L613.5 352.9L614.3 352.9L615.1 352.9L615.9 353.0L616.6 353.0L617.4 353.0L618.2 353.0L619.0 353.0L619.8 353.1L620.6 353.1L621.3 353.1L622.1 353.1L622.9 353.1L623.7 353.2L624.5 353.2L625.3 353.2L626.0 353.2L626.8 353.2L627.6 353.3L628.4 353.3L629.2 353.3L630.0 353.3L630.7 353.3L631.5 353.3L632.3 353.3L633.1 353.4L633.9 353.4L634.7 353.4L635.4 353.4L636.2 353.4L637.0 353.4L637.8 353.5L638.6 353.5L639.4 353.5L640.1 353.5L640.9 353.5L641.7 353.5L642.5 353.5L643.3 353.6L644.1 353.6L644.9 353.6L645.6 353.6L646.4 353.6L647.2 353.6L648.0 353.6L648.8 353.6L649.6 353.7L650.3 353.7L651.1 353.7L651.9 353.7L652.7 353.7L653.5 353.7L654.3 353.7L655.0 353.7L655.8 353.7L656.6 353.8L657.4 353.8L658.2 353.8L659.0 353.8L659.7 353.8L660.5 353.8L661.3 353.8L662.1 353.8L662.9 353.8L663.7 353.8L664.4 353.8L665.2 353.8L666.0 353.8L666.8 353.8L667.6 353.8L668.4 353.9L669.1 353.9L669.9 353.9L670.7 353.9L671.5 353.9L672.3 353.9" fill="none" stroke="#00f" stroke-width="2.6" stroke-linejoin="round"/>
<path d="M474.9 237.2h0M479.9 262.5h0M485.0 282.3h0M490.1 297.8h0M495.2 309.9h0M500.2 319.3h0M505.3 326.7h0M510.4 332.5h0M515.5 337.0h0M520.5 340.5h0M525.6 343.3h0M530.7 345.4h0M535.8 347.1h0M540.8 348.4h0M545.9 349.4h0M551.0 350.2h0M556.1 350.9h0M561.1 351.4h0M566.2 351.7h0M571.3 352.0h0M576.4 352.3h0M581.4 352.5h0M586.5 352.6h0M591.6 352.7h0M596.7 352.8h0M601.7 352.9h0M606.8 352.9h0M611.9 353.0h0M617.0 353.0h0M622.0 353.0h0M627.1 353.0h0M632.2 353.1h0M637.3 353.1h0M642.3 353.1h0M647.4 353.1h0M652.5 353.1h0M657.6 353.1h0M662.6 353.1h0M667.7 353.1h0M672.8 353.1h0" stroke="#f00" stroke-width="2.9" stroke-linecap="round" fill="none"/>
<path d="M469.3 206.6L470.1 212.1L470.9 217.5L471.7 222.6L472.4 227.5L473.2 232.3L474.0 236.9L474.8 241.3L475.6 245.5L476.4 249.6L477.1 253.5L477.9 257.3L478.7 261.0L479.5 264.5L480.3 267.8L481.1 271.1L481.8 274.2L482.6 277.2L483.4 280.1L484.2 282.9L485.0 285.6L485.8 288.2L486.5 290.7L487.3 293.1L488.1 295.4L488.9 297.6L489.7 299.8L490.5 301.8L491.2 303.8L492.0 305.7L492.8 307.5L493.6 309.3L494.4 311.0L495.2 312.7L495.9 314.2L496.7 315.7L497.5 317.2L498.3 318.6L499.1 320.0L499.9 321.3L500.6 322.5L501.4 323.7L502.2 324.9L503.0 326.0L503.8 327.1L504.6 328.1L505.4 329.1L506.1 330.1L506.9 331.0L507.7 331.9L508.5 332.8L509.3 333.6L510.1 334.4L510.8 335.2L511.6 335.9L512.4 336.6L513.2 337.3L514.0 337.9L514.8 338.6L515.5 339.2L516.3 339.8L517.1 340.3L517.9 340.9L518.7 341.4L519.5 341.9L520.2 342.4L521.0 342.9L521.8 343.3L522.6 343.7L523.4 344.2L524.2 344.6L524.9 344.9L525.7 345.3L526.5 345.7L527.3 346.0L528.1 346.4L528.9 346.7L529.6 347.0L530.4 347.3L531.2 347.6L532.0 347.8L532.8 348.1L533.6 348.4L534.3 348.6L535.1 348.8L535.9 349.1L536.7 349.3L537.5 349.5L538.3 349.7L539.0 349.9L539.8 350.1L540.6 350.3L541.4 350.4L542.2 350.6L543.0 350.8L543.8 350.9L544.5 351.1L545.3 351.2L546.1 351.3L546.9 351.5L547.7 351.6L548.5 351.7L549.2 351.8L550.0 352.0L550.8 352.1L551.6 352.2L552.4 352.3L553.2 352.4L553.9 352.5L554.7 352.6L555.5 352.6L556.3 352.7L557.1 352.8L557.9 352.9L558.6 353.0L559.4 353.0L560.2 353.1L561.0 353.2L561.8 353.2L562.6 353.3L563.3 353.4L564.1 353.4L564.9 353.5L565.7 353.5L566.5 353.6L567.3 353.6L568.0 353.7L568.8 353.7L569.6 353.8L570.4 353.8L571.2 353.8L572.0 353.9L572.7 353.9L573.5 354.0L574.3 354.0L575.1 354.0L575.9 354.1L576.7 354.1L577.5 354.1L578.2 354.2L579.0 354.2L579.8 354.2L580.6 354.2L581.4 354.3L582.2 354.3L582.9 354.3L583.7 354.3L584.5 354.3L585.3 354.4L586.1 354.4L586.9 354.4L587.6 354.4L588.4 354.4L589.2 354.5L590.0 354.5L590.8 354.5L591.6 354.5L592.3 354.5L593.1 354.5L593.9 354.6L594.7 354.6L595.5 354.6L596.3 354.6L597.0 354.6L597.8 354.6L598.6 354.6L599.4 354.6L600.2 354.6L601.0 354.7L601.7 354.7L602.5 354.7L603.3 354.7L604.1 354.7L604.9 354.7L605.7 354.7L606.4 354.7L607.2 354.7L608.0 354.7L608.8 354.7L609.6 354.7L610.4 354.7L611.2 354.7L611.9 354.8L612.7 354.8L613.5 354.8L614.3 354.8L615.1 354.8L615.9 354.8L616.6 354.8L617.4 354.8L618.2 354.8L619.0 354.8L619.8 354.8L620.6 354.8L621.3 354.8L622.1 354.8L622.9 354.8L623.7 354.8L624.5 354.8L625.3 354.8L626.0 354.8L626.8 354.8L627.6 354.8L628.4 354.8L629.2 354.8L630.0 354.8L630.7 354.8L631.5 354.8L632.3 354.8L633.1 354.8L633.9 354.8L634.7 354.9L635.4 354.9L636.2 354.9L637.0 354.9L637.8 354.9L638.6 354.9L639.4 354.9L640.1 354.9L640.9 354.9L641.7 354.9L642.5 354.9L643.3 354.9L644.1 354.9L644.9 354.9L645.6 354.9L646.4 354.9L647.2 354.9L648.0 354.9L648.8 354.9L649.6 354.9L650.3 354.9L651.1 354.9L651.9 354.9L652.7 354.9L653.5 354.9L654.3 354.9L655.0 354.9L655.8 354.9L656.6 354.9L657.4 354.9L658.2 354.9L659.0 354.9L659.7 354.9L660.5 354.9L661.3 354.9L662.1 354.9L662.9 354.9L663.7 354.9L664.4 354.9L665.2 354.9L666.0 354.9L666.8 354.9L667.6 354.9L668.4 354.9L669.1 354.9L669.9 354.9L670.7 354.9L671.5 354.9L672.3 354.9" fill="none" stroke="#f00" stroke-width="2.6" stroke-linejoin="round"/>
</svg>
</body></html>
